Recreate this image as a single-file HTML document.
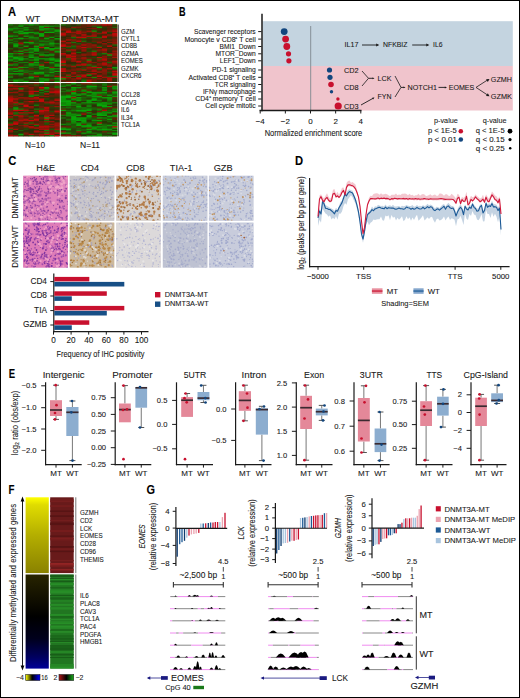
<!DOCTYPE html>
<html><head><meta charset="utf-8"><style>
html,body{margin:0;padding:0;background:#fff;}
#fig{position:relative;width:520px;height:698px;overflow:hidden;background:#fff;}
#fig svg{position:absolute;left:0;top:0;}
#bd{position:absolute;left:0;top:0;width:518px;height:696px;border:1px solid #000;}
text{font-family:"Liberation Sans", sans-serif;stroke:currentColor;stroke-width:0.08px;}
</style></head><body><div id="fig">
<svg width="520" height="698" viewBox="0 0 520 698" font-family="Liberation Sans, sans-serif" fill="#1a1a1a">
<text x="8.1" y="15.8" font-size="12" font-weight="bold" fill="#000" textLength="8.1" lengthAdjust="spacingAndGlyphs">A</text>
<text x="25.7" y="21.8" font-size="9.5" textLength="14.5" lengthAdjust="spacingAndGlyphs">WT</text>
<text x="61.4" y="21.8" font-size="9.5" textLength="57.6" lengthAdjust="spacingAndGlyphs">DNMT3A-MT</text>
<rect x="8" y="24.3" width="51.6" height="57.7" fill="#1e6008"/>
<rect x="8.0" y="24.3" width="5.7" height="1.8" fill="#197008"/>
<rect x="13.2" y="24.3" width="5.7" height="1.8" fill="#284008"/>
<rect x="18.3" y="24.3" width="5.7" height="1.8" fill="#196e08"/>
<rect x="23.5" y="24.3" width="5.7" height="1.8" fill="#187408"/>
<rect x="28.6" y="24.3" width="5.7" height="1.8" fill="#0b9a08"/>
<rect x="33.8" y="24.3" width="5.7" height="1.8" fill="#1a6e08"/>
<rect x="39.0" y="24.3" width="5.7" height="1.8" fill="#382c08"/>
<rect x="44.1" y="24.3" width="5.7" height="1.8" fill="#264608"/>
<rect x="49.3" y="24.3" width="5.7" height="1.8" fill="#332d08"/>
<rect x="54.4" y="24.3" width="5.2" height="1.8" fill="#235108"/>
<rect x="8.0" y="25.6" width="5.7" height="1.8" fill="#264808"/>
<rect x="13.2" y="25.6" width="5.7" height="1.8" fill="#225508"/>
<rect x="18.3" y="25.6" width="5.7" height="1.8" fill="#08a508"/>
<rect x="23.5" y="25.6" width="5.7" height="1.8" fill="#2f2b08"/>
<rect x="28.6" y="25.6" width="5.7" height="1.8" fill="#284108"/>
<rect x="33.8" y="25.6" width="5.7" height="1.8" fill="#284108"/>
<rect x="39.0" y="25.6" width="5.7" height="1.8" fill="#08a508"/>
<rect x="44.1" y="25.6" width="5.7" height="1.8" fill="#08a508"/>
<rect x="49.3" y="25.6" width="5.7" height="1.8" fill="#0c9808"/>
<rect x="54.4" y="25.6" width="5.2" height="1.8" fill="#157e08"/>
<rect x="8.0" y="26.8" width="5.7" height="1.8" fill="#244d08"/>
<rect x="13.2" y="26.8" width="5.7" height="1.8" fill="#1d6308"/>
<rect x="18.3" y="26.8" width="5.7" height="1.8" fill="#284008"/>
<rect x="23.5" y="26.8" width="5.7" height="1.8" fill="#118808"/>
<rect x="28.6" y="26.8" width="5.7" height="1.8" fill="#244d08"/>
<rect x="33.8" y="26.8" width="5.7" height="1.8" fill="#264808"/>
<rect x="39.0" y="26.8" width="5.7" height="1.8" fill="#118a08"/>
<rect x="44.1" y="26.8" width="5.7" height="1.8" fill="#672008"/>
<rect x="49.3" y="26.8" width="5.7" height="1.8" fill="#293d08"/>
<rect x="54.4" y="26.8" width="5.2" height="1.8" fill="#3f2a08"/>
<rect x="8.0" y="28.1" width="5.7" height="1.8" fill="#128708"/>
<rect x="13.2" y="28.1" width="5.7" height="1.8" fill="#0f8e08"/>
<rect x="18.3" y="28.1" width="5.7" height="1.8" fill="#177608"/>
<rect x="23.5" y="28.1" width="5.7" height="1.8" fill="#1c6708"/>
<rect x="28.6" y="28.1" width="5.7" height="1.8" fill="#2b3908"/>
<rect x="33.8" y="28.1" width="5.7" height="1.8" fill="#235108"/>
<rect x="39.0" y="28.1" width="5.7" height="1.8" fill="#157c08"/>
<rect x="44.1" y="28.1" width="5.7" height="1.8" fill="#0b9c08"/>
<rect x="49.3" y="28.1" width="5.7" height="1.8" fill="#148108"/>
<rect x="54.4" y="28.1" width="5.2" height="1.8" fill="#412a08"/>
<rect x="8.0" y="29.3" width="5.7" height="1.8" fill="#0e9308"/>
<rect x="13.2" y="29.3" width="5.7" height="1.8" fill="#235108"/>
<rect x="18.3" y="29.3" width="5.7" height="1.8" fill="#274608"/>
<rect x="23.5" y="29.3" width="5.7" height="1.8" fill="#08a508"/>
<rect x="28.6" y="29.3" width="5.7" height="1.8" fill="#1f5d08"/>
<rect x="33.8" y="29.3" width="5.7" height="1.8" fill="#472808"/>
<rect x="39.0" y="29.3" width="5.7" height="1.8" fill="#08a508"/>
<rect x="44.1" y="29.3" width="5.7" height="1.8" fill="#187408"/>
<rect x="49.3" y="29.3" width="5.7" height="1.8" fill="#1c6708"/>
<rect x="54.4" y="29.3" width="5.2" height="1.8" fill="#0e9308"/>
<rect x="8.0" y="30.6" width="5.7" height="1.8" fill="#284108"/>
<rect x="13.2" y="30.6" width="5.7" height="1.8" fill="#1d6408"/>
<rect x="18.3" y="30.6" width="5.7" height="1.8" fill="#08a508"/>
<rect x="23.5" y="30.6" width="5.7" height="1.8" fill="#2f2d08"/>
<rect x="28.6" y="30.6" width="5.7" height="1.8" fill="#2b3608"/>
<rect x="33.8" y="30.6" width="5.7" height="1.8" fill="#2c2f08"/>
<rect x="39.0" y="30.6" width="5.7" height="1.8" fill="#522508"/>
<rect x="44.1" y="30.6" width="5.7" height="1.8" fill="#254a08"/>
<rect x="49.3" y="30.6" width="5.7" height="1.8" fill="#205908"/>
<rect x="54.4" y="30.6" width="5.2" height="1.8" fill="#08a508"/>
<rect x="8.0" y="31.8" width="5.7" height="1.8" fill="#2a3a08"/>
<rect x="13.2" y="31.8" width="5.7" height="1.8" fill="#128608"/>
<rect x="18.3" y="31.8" width="5.7" height="1.8" fill="#157d08"/>
<rect x="23.5" y="31.8" width="5.7" height="1.8" fill="#08a508"/>
<rect x="28.6" y="31.8" width="5.7" height="1.8" fill="#0b9d08"/>
<rect x="33.8" y="31.8" width="5.7" height="1.8" fill="#138108"/>
<rect x="39.0" y="31.8" width="5.7" height="1.8" fill="#462808"/>
<rect x="44.1" y="31.8" width="5.7" height="1.8" fill="#08a508"/>
<rect x="49.3" y="31.8" width="5.7" height="1.8" fill="#08a508"/>
<rect x="54.4" y="31.8" width="5.2" height="1.8" fill="#235108"/>
<rect x="8.0" y="33.1" width="5.7" height="1.8" fill="#522508"/>
<rect x="13.2" y="33.1" width="5.7" height="1.8" fill="#2a3c08"/>
<rect x="18.3" y="33.1" width="5.7" height="1.8" fill="#08a508"/>
<rect x="23.5" y="33.1" width="5.7" height="1.8" fill="#08a508"/>
<rect x="28.6" y="33.1" width="5.7" height="1.8" fill="#254a08"/>
<rect x="33.8" y="33.1" width="5.7" height="1.8" fill="#0f8e08"/>
<rect x="39.0" y="33.1" width="5.7" height="1.8" fill="#08a508"/>
<rect x="44.1" y="33.1" width="5.7" height="1.8" fill="#2e2e08"/>
<rect x="49.3" y="33.1" width="5.7" height="1.8" fill="#382c08"/>
<rect x="54.4" y="33.1" width="5.2" height="1.8" fill="#215608"/>
<rect x="8.0" y="34.3" width="5.7" height="1.8" fill="#235108"/>
<rect x="13.2" y="34.3" width="5.7" height="1.8" fill="#274508"/>
<rect x="18.3" y="34.3" width="5.7" height="1.8" fill="#5e2208"/>
<rect x="23.5" y="34.3" width="5.7" height="1.8" fill="#2a3a08"/>
<rect x="28.6" y="34.3" width="5.7" height="1.8" fill="#284008"/>
<rect x="33.8" y="34.3" width="5.7" height="1.8" fill="#293e08"/>
<rect x="39.0" y="34.3" width="5.7" height="1.8" fill="#08a508"/>
<rect x="44.1" y="34.3" width="5.7" height="1.8" fill="#462808"/>
<rect x="49.3" y="34.3" width="5.7" height="1.8" fill="#2c2f08"/>
<rect x="54.4" y="34.3" width="5.2" height="1.8" fill="#293f08"/>
<rect x="8.0" y="35.6" width="5.7" height="1.8" fill="#08a508"/>
<rect x="13.2" y="35.6" width="5.7" height="1.8" fill="#118808"/>
<rect x="18.3" y="35.6" width="5.7" height="1.8" fill="#2f2c08"/>
<rect x="23.5" y="35.6" width="5.7" height="1.8" fill="#08a508"/>
<rect x="28.6" y="35.6" width="5.7" height="1.8" fill="#1a6c08"/>
<rect x="33.8" y="35.6" width="5.7" height="1.8" fill="#312e08"/>
<rect x="39.0" y="35.6" width="5.7" height="1.8" fill="#08a508"/>
<rect x="44.1" y="35.6" width="5.7" height="1.8" fill="#5f2208"/>
<rect x="49.3" y="35.6" width="5.7" height="1.8" fill="#293e08"/>
<rect x="54.4" y="35.6" width="5.2" height="1.8" fill="#1b6a08"/>
<rect x="8.0" y="36.8" width="5.7" height="1.8" fill="#244c08"/>
<rect x="13.2" y="36.8" width="5.7" height="1.8" fill="#2b3808"/>
<rect x="18.3" y="36.8" width="5.7" height="1.8" fill="#205908"/>
<rect x="23.5" y="36.8" width="5.7" height="1.8" fill="#3b2b08"/>
<rect x="28.6" y="36.8" width="5.7" height="1.8" fill="#118a08"/>
<rect x="33.8" y="36.8" width="5.7" height="1.8" fill="#167a08"/>
<rect x="39.0" y="36.8" width="5.7" height="1.8" fill="#332d08"/>
<rect x="44.1" y="36.8" width="5.7" height="1.8" fill="#1f5f08"/>
<rect x="49.3" y="36.8" width="5.7" height="1.8" fill="#0c9708"/>
<rect x="54.4" y="36.8" width="5.2" height="1.8" fill="#2c2f08"/>
<rect x="8.0" y="38.1" width="5.7" height="1.8" fill="#542508"/>
<rect x="13.2" y="38.1" width="5.7" height="1.8" fill="#157c08"/>
<rect x="18.3" y="38.1" width="5.7" height="1.8" fill="#08a508"/>
<rect x="23.5" y="38.1" width="5.7" height="1.8" fill="#1b6908"/>
<rect x="28.6" y="38.1" width="5.7" height="1.8" fill="#1b6a08"/>
<rect x="33.8" y="38.1" width="5.7" height="1.8" fill="#187308"/>
<rect x="39.0" y="38.1" width="5.7" height="1.8" fill="#4f2608"/>
<rect x="44.1" y="38.1" width="5.7" height="1.8" fill="#09a008"/>
<rect x="49.3" y="38.1" width="5.7" height="1.8" fill="#442908"/>
<rect x="54.4" y="38.1" width="5.2" height="1.8" fill="#08a508"/>
<rect x="8.0" y="39.4" width="5.7" height="1.8" fill="#0e9108"/>
<rect x="13.2" y="39.4" width="5.7" height="1.8" fill="#2b3908"/>
<rect x="18.3" y="39.4" width="5.7" height="1.8" fill="#3a2b08"/>
<rect x="23.5" y="39.4" width="5.7" height="1.8" fill="#2f2b08"/>
<rect x="28.6" y="39.4" width="5.7" height="1.8" fill="#254b08"/>
<rect x="33.8" y="39.4" width="5.7" height="1.8" fill="#215708"/>
<rect x="39.0" y="39.4" width="5.7" height="1.8" fill="#215708"/>
<rect x="44.1" y="39.4" width="5.7" height="1.8" fill="#2a3c08"/>
<rect x="49.3" y="39.4" width="5.7" height="1.8" fill="#1a6b08"/>
<rect x="54.4" y="39.4" width="5.2" height="1.8" fill="#244f08"/>
<rect x="8.0" y="40.6" width="5.7" height="1.8" fill="#293c08"/>
<rect x="13.2" y="40.6" width="5.7" height="1.8" fill="#1e6008"/>
<rect x="18.3" y="40.6" width="5.7" height="1.8" fill="#2d3108"/>
<rect x="23.5" y="40.6" width="5.7" height="1.8" fill="#293d08"/>
<rect x="28.6" y="40.6" width="5.7" height="1.8" fill="#7e1a08"/>
<rect x="33.8" y="40.6" width="5.7" height="1.8" fill="#244c08"/>
<rect x="39.0" y="40.6" width="5.7" height="1.8" fill="#157b08"/>
<rect x="44.1" y="40.6" width="5.7" height="1.8" fill="#177808"/>
<rect x="49.3" y="40.6" width="5.7" height="1.8" fill="#1e6108"/>
<rect x="54.4" y="40.6" width="5.2" height="1.8" fill="#2a3008"/>
<rect x="8.0" y="41.9" width="5.7" height="1.8" fill="#177508"/>
<rect x="13.2" y="41.9" width="5.7" height="1.8" fill="#264808"/>
<rect x="18.3" y="41.9" width="5.7" height="1.8" fill="#711d08"/>
<rect x="23.5" y="41.9" width="5.7" height="1.8" fill="#08a508"/>
<rect x="28.6" y="41.9" width="5.7" height="1.8" fill="#08a508"/>
<rect x="33.8" y="41.9" width="5.7" height="1.8" fill="#235108"/>
<rect x="39.0" y="41.9" width="5.7" height="1.8" fill="#264708"/>
<rect x="44.1" y="41.9" width="5.7" height="1.8" fill="#235108"/>
<rect x="49.3" y="41.9" width="5.7" height="1.8" fill="#157b08"/>
<rect x="54.4" y="41.9" width="5.2" height="1.8" fill="#2b3708"/>
<rect x="8.0" y="43.1" width="5.7" height="1.8" fill="#244f08"/>
<rect x="13.2" y="43.1" width="5.7" height="1.8" fill="#148108"/>
<rect x="18.3" y="43.1" width="5.7" height="1.8" fill="#9f1108"/>
<rect x="23.5" y="43.1" width="5.7" height="1.8" fill="#254a08"/>
<rect x="28.6" y="43.1" width="5.7" height="1.8" fill="#138308"/>
<rect x="33.8" y="43.1" width="5.7" height="1.8" fill="#1c6608"/>
<rect x="39.0" y="43.1" width="5.7" height="1.8" fill="#196e08"/>
<rect x="44.1" y="43.1" width="5.7" height="1.8" fill="#1d6408"/>
<rect x="49.3" y="43.1" width="5.7" height="1.8" fill="#08a508"/>
<rect x="54.4" y="43.1" width="5.2" height="1.8" fill="#147f08"/>
<rect x="8.0" y="44.4" width="5.7" height="1.8" fill="#302e08"/>
<rect x="13.2" y="44.4" width="5.7" height="1.8" fill="#08a508"/>
<rect x="18.3" y="44.4" width="5.7" height="1.8" fill="#1d6408"/>
<rect x="23.5" y="44.4" width="5.7" height="1.8" fill="#2c2f08"/>
<rect x="28.6" y="44.4" width="5.7" height="1.8" fill="#2f2b08"/>
<rect x="33.8" y="44.4" width="5.7" height="1.8" fill="#562408"/>
<rect x="39.0" y="44.4" width="5.7" height="1.8" fill="#08a508"/>
<rect x="44.1" y="44.4" width="5.7" height="1.8" fill="#177608"/>
<rect x="49.3" y="44.4" width="5.7" height="1.8" fill="#177608"/>
<rect x="54.4" y="44.4" width="5.2" height="1.8" fill="#2a3908"/>
<rect x="8.0" y="45.6" width="5.7" height="1.8" fill="#372c08"/>
<rect x="13.2" y="45.6" width="5.7" height="1.8" fill="#08a508"/>
<rect x="18.3" y="45.6" width="5.7" height="1.8" fill="#372c08"/>
<rect x="23.5" y="45.6" width="5.7" height="1.8" fill="#08a508"/>
<rect x="28.6" y="45.6" width="5.7" height="1.8" fill="#2c3608"/>
<rect x="33.8" y="45.6" width="5.7" height="1.8" fill="#08a508"/>
<rect x="39.0" y="45.6" width="5.7" height="1.8" fill="#225508"/>
<rect x="44.1" y="45.6" width="5.7" height="1.8" fill="#3f2a08"/>
<rect x="49.3" y="45.6" width="5.7" height="1.8" fill="#1b6a08"/>
<rect x="54.4" y="45.6" width="5.2" height="1.8" fill="#225408"/>
<rect x="8.0" y="46.9" width="5.7" height="1.8" fill="#2e2e08"/>
<rect x="13.2" y="46.9" width="5.7" height="1.8" fill="#215708"/>
<rect x="18.3" y="46.9" width="5.7" height="1.8" fill="#1c6608"/>
<rect x="23.5" y="46.9" width="5.7" height="1.8" fill="#592308"/>
<rect x="28.6" y="46.9" width="5.7" height="1.8" fill="#342d08"/>
<rect x="33.8" y="46.9" width="5.7" height="1.8" fill="#187308"/>
<rect x="39.0" y="46.9" width="5.7" height="1.8" fill="#b70b08"/>
<rect x="44.1" y="46.9" width="5.7" height="1.8" fill="#08a508"/>
<rect x="49.3" y="46.9" width="5.7" height="1.8" fill="#293008"/>
<rect x="54.4" y="46.9" width="5.2" height="1.8" fill="#197108"/>
<rect x="8.0" y="48.1" width="5.7" height="1.8" fill="#215808"/>
<rect x="13.2" y="48.1" width="5.7" height="1.8" fill="#2c3408"/>
<rect x="18.3" y="48.1" width="5.7" height="1.8" fill="#225208"/>
<rect x="23.5" y="48.1" width="5.7" height="1.8" fill="#2b3808"/>
<rect x="28.6" y="48.1" width="5.7" height="1.8" fill="#08a508"/>
<rect x="33.8" y="48.1" width="5.7" height="1.8" fill="#08a508"/>
<rect x="39.0" y="48.1" width="5.7" height="1.8" fill="#2a3a08"/>
<rect x="44.1" y="48.1" width="5.7" height="1.8" fill="#0b9c08"/>
<rect x="49.3" y="48.1" width="5.7" height="1.8" fill="#09a008"/>
<rect x="54.4" y="48.1" width="5.2" height="1.8" fill="#08a508"/>
<rect x="8.0" y="49.4" width="5.7" height="1.8" fill="#442908"/>
<rect x="13.2" y="49.4" width="5.7" height="1.8" fill="#2d3208"/>
<rect x="18.3" y="49.4" width="5.7" height="1.8" fill="#542508"/>
<rect x="23.5" y="49.4" width="5.7" height="1.8" fill="#0b9b08"/>
<rect x="28.6" y="49.4" width="5.7" height="1.8" fill="#1e6008"/>
<rect x="33.8" y="49.4" width="5.7" height="1.8" fill="#08a508"/>
<rect x="39.0" y="49.4" width="5.7" height="1.8" fill="#2d3008"/>
<rect x="44.1" y="49.4" width="5.7" height="1.8" fill="#5d2208"/>
<rect x="49.3" y="49.4" width="5.7" height="1.8" fill="#0c9808"/>
<rect x="54.4" y="49.4" width="5.2" height="1.8" fill="#5b2308"/>
<rect x="8.0" y="50.6" width="5.7" height="1.8" fill="#2f2e08"/>
<rect x="13.2" y="50.6" width="5.7" height="1.8" fill="#1a6b08"/>
<rect x="18.3" y="50.6" width="5.7" height="1.8" fill="#08a508"/>
<rect x="23.5" y="50.6" width="5.7" height="1.8" fill="#4f2608"/>
<rect x="28.6" y="50.6" width="5.7" height="1.8" fill="#1c6608"/>
<rect x="33.8" y="50.6" width="5.7" height="1.8" fill="#128608"/>
<rect x="39.0" y="50.6" width="5.7" height="1.8" fill="#264708"/>
<rect x="44.1" y="50.6" width="5.7" height="1.8" fill="#264708"/>
<rect x="49.3" y="50.6" width="5.7" height="1.8" fill="#562408"/>
<rect x="54.4" y="50.6" width="5.2" height="1.8" fill="#0aa008"/>
<rect x="8.0" y="51.9" width="5.7" height="1.8" fill="#3a2b08"/>
<rect x="13.2" y="51.9" width="5.7" height="1.8" fill="#562408"/>
<rect x="18.3" y="51.9" width="5.7" height="1.8" fill="#532508"/>
<rect x="23.5" y="51.9" width="5.7" height="1.8" fill="#1a6c08"/>
<rect x="28.6" y="51.9" width="5.7" height="1.8" fill="#0f8f08"/>
<rect x="33.8" y="51.9" width="5.7" height="1.8" fill="#312e08"/>
<rect x="39.0" y="51.9" width="5.7" height="1.8" fill="#205908"/>
<rect x="44.1" y="51.9" width="5.7" height="1.8" fill="#205808"/>
<rect x="49.3" y="51.9" width="5.7" height="1.8" fill="#512608"/>
<rect x="54.4" y="51.9" width="5.2" height="1.8" fill="#197108"/>
<rect x="8.0" y="53.1" width="5.7" height="1.8" fill="#08a508"/>
<rect x="13.2" y="53.1" width="5.7" height="1.8" fill="#167808"/>
<rect x="18.3" y="53.1" width="5.7" height="1.8" fill="#08a508"/>
<rect x="23.5" y="53.1" width="5.7" height="1.8" fill="#2e2d08"/>
<rect x="28.6" y="53.1" width="5.7" height="1.8" fill="#244c08"/>
<rect x="33.8" y="53.1" width="5.7" height="1.8" fill="#128608"/>
<rect x="39.0" y="53.1" width="5.7" height="1.8" fill="#1e6108"/>
<rect x="44.1" y="53.1" width="5.7" height="1.8" fill="#2f2c08"/>
<rect x="49.3" y="53.1" width="5.7" height="1.8" fill="#205b08"/>
<rect x="54.4" y="53.1" width="5.2" height="1.8" fill="#492708"/>
<rect x="8.0" y="54.4" width="5.7" height="1.8" fill="#1d6408"/>
<rect x="13.2" y="54.4" width="5.7" height="1.8" fill="#332d08"/>
<rect x="18.3" y="54.4" width="5.7" height="1.8" fill="#562408"/>
<rect x="23.5" y="54.4" width="5.7" height="1.8" fill="#5f2208"/>
<rect x="28.6" y="54.4" width="5.7" height="1.8" fill="#118a08"/>
<rect x="33.8" y="54.4" width="5.7" height="1.8" fill="#302908"/>
<rect x="39.0" y="54.4" width="5.7" height="1.8" fill="#08a508"/>
<rect x="44.1" y="54.4" width="5.7" height="1.8" fill="#08a408"/>
<rect x="49.3" y="54.4" width="5.7" height="1.8" fill="#08a508"/>
<rect x="54.4" y="54.4" width="5.2" height="1.8" fill="#352d08"/>
<rect x="8.0" y="55.7" width="5.7" height="1.8" fill="#08a508"/>
<rect x="13.2" y="55.7" width="5.7" height="1.8" fill="#1e6108"/>
<rect x="18.3" y="55.7" width="5.7" height="1.8" fill="#1a6c08"/>
<rect x="23.5" y="55.7" width="5.7" height="1.8" fill="#1d6208"/>
<rect x="28.6" y="55.7" width="5.7" height="1.8" fill="#128508"/>
<rect x="33.8" y="55.7" width="5.7" height="1.8" fill="#235208"/>
<rect x="39.0" y="55.7" width="5.7" height="1.8" fill="#6d1e08"/>
<rect x="44.1" y="55.7" width="5.7" height="1.8" fill="#1f5d08"/>
<rect x="49.3" y="55.7" width="5.7" height="1.8" fill="#293f08"/>
<rect x="54.4" y="55.7" width="5.2" height="1.8" fill="#302e08"/>
<rect x="8.0" y="56.9" width="5.7" height="1.8" fill="#1a6d08"/>
<rect x="13.2" y="56.9" width="5.7" height="1.8" fill="#08a508"/>
<rect x="18.3" y="56.9" width="5.7" height="1.8" fill="#138308"/>
<rect x="23.5" y="56.9" width="5.7" height="1.8" fill="#352d08"/>
<rect x="28.6" y="56.9" width="5.7" height="1.8" fill="#08a508"/>
<rect x="33.8" y="56.9" width="5.7" height="1.8" fill="#128608"/>
<rect x="39.0" y="56.9" width="5.7" height="1.8" fill="#302e08"/>
<rect x="44.1" y="56.9" width="5.7" height="1.8" fill="#2e2f08"/>
<rect x="49.3" y="56.9" width="5.7" height="1.8" fill="#1e6008"/>
<rect x="54.4" y="56.9" width="5.2" height="1.8" fill="#2e2e08"/>
<rect x="8.0" y="58.2" width="5.7" height="1.8" fill="#215608"/>
<rect x="13.2" y="58.2" width="5.7" height="1.8" fill="#08a508"/>
<rect x="18.3" y="58.2" width="5.7" height="1.8" fill="#08a508"/>
<rect x="23.5" y="58.2" width="5.7" height="1.8" fill="#118808"/>
<rect x="28.6" y="58.2" width="5.7" height="1.8" fill="#2a3008"/>
<rect x="33.8" y="58.2" width="5.7" height="1.8" fill="#138408"/>
<rect x="39.0" y="58.2" width="5.7" height="1.8" fill="#0c9908"/>
<rect x="44.1" y="58.2" width="5.7" height="1.8" fill="#0f9008"/>
<rect x="49.3" y="58.2" width="5.7" height="1.8" fill="#08a508"/>
<rect x="54.4" y="58.2" width="5.2" height="1.8" fill="#1c6808"/>
<rect x="8.0" y="59.4" width="5.7" height="1.8" fill="#08a508"/>
<rect x="13.2" y="59.4" width="5.7" height="1.8" fill="#254908"/>
<rect x="18.3" y="59.4" width="5.7" height="1.8" fill="#08a508"/>
<rect x="23.5" y="59.4" width="5.7" height="1.8" fill="#254c08"/>
<rect x="28.6" y="59.4" width="5.7" height="1.8" fill="#118808"/>
<rect x="33.8" y="59.4" width="5.7" height="1.8" fill="#08a508"/>
<rect x="39.0" y="59.4" width="5.7" height="1.8" fill="#2c3308"/>
<rect x="44.1" y="59.4" width="5.7" height="1.8" fill="#187108"/>
<rect x="49.3" y="59.4" width="5.7" height="1.8" fill="#08a508"/>
<rect x="54.4" y="59.4" width="5.2" height="1.8" fill="#0c9708"/>
<rect x="8.0" y="60.7" width="5.7" height="1.8" fill="#244e08"/>
<rect x="13.2" y="60.7" width="5.7" height="1.8" fill="#157d08"/>
<rect x="18.3" y="60.7" width="5.7" height="1.8" fill="#2e3008"/>
<rect x="23.5" y="60.7" width="5.7" height="1.8" fill="#2d3208"/>
<rect x="28.6" y="60.7" width="5.7" height="1.8" fill="#2b3708"/>
<rect x="33.8" y="60.7" width="5.7" height="1.8" fill="#254c08"/>
<rect x="39.0" y="60.7" width="5.7" height="1.8" fill="#4a2708"/>
<rect x="44.1" y="60.7" width="5.7" height="1.8" fill="#2b3708"/>
<rect x="49.3" y="60.7" width="5.7" height="1.8" fill="#274408"/>
<rect x="54.4" y="60.7" width="5.2" height="1.8" fill="#08a508"/>
<rect x="8.0" y="61.9" width="5.7" height="1.8" fill="#302808"/>
<rect x="13.2" y="61.9" width="5.7" height="1.8" fill="#482808"/>
<rect x="18.3" y="61.9" width="5.7" height="1.8" fill="#187308"/>
<rect x="23.5" y="61.9" width="5.7" height="1.8" fill="#157e08"/>
<rect x="28.6" y="61.9" width="5.7" height="1.8" fill="#791b08"/>
<rect x="33.8" y="61.9" width="5.7" height="1.8" fill="#08a508"/>
<rect x="39.0" y="61.9" width="5.7" height="1.8" fill="#274308"/>
<rect x="44.1" y="61.9" width="5.7" height="1.8" fill="#9e1208"/>
<rect x="49.3" y="61.9" width="5.7" height="1.8" fill="#0b9a08"/>
<rect x="54.4" y="61.9" width="5.2" height="1.8" fill="#2c3508"/>
<rect x="8.0" y="63.2" width="5.7" height="1.8" fill="#741c08"/>
<rect x="13.2" y="63.2" width="5.7" height="1.8" fill="#1c6808"/>
<rect x="18.3" y="63.2" width="5.7" height="1.8" fill="#293d08"/>
<rect x="23.5" y="63.2" width="5.7" height="1.8" fill="#283008"/>
<rect x="28.6" y="63.2" width="5.7" height="1.8" fill="#0c9908"/>
<rect x="33.8" y="63.2" width="5.7" height="1.8" fill="#1c6608"/>
<rect x="39.0" y="63.2" width="5.7" height="1.8" fill="#244e08"/>
<rect x="44.1" y="63.2" width="5.7" height="1.8" fill="#2f2d08"/>
<rect x="49.3" y="63.2" width="5.7" height="1.8" fill="#1d6208"/>
<rect x="54.4" y="63.2" width="5.2" height="1.8" fill="#1a6c08"/>
<rect x="8.0" y="64.4" width="5.7" height="1.8" fill="#0aa008"/>
<rect x="13.2" y="64.4" width="5.7" height="1.8" fill="#177708"/>
<rect x="18.3" y="64.4" width="5.7" height="1.8" fill="#302908"/>
<rect x="23.5" y="64.4" width="5.7" height="1.8" fill="#205a08"/>
<rect x="28.6" y="64.4" width="5.7" height="1.8" fill="#0d9608"/>
<rect x="33.8" y="64.4" width="5.7" height="1.8" fill="#0d9508"/>
<rect x="39.0" y="64.4" width="5.7" height="1.8" fill="#b10d08"/>
<rect x="44.1" y="64.4" width="5.7" height="1.8" fill="#3b2b08"/>
<rect x="49.3" y="64.4" width="5.7" height="1.8" fill="#2b3808"/>
<rect x="54.4" y="64.4" width="5.2" height="1.8" fill="#08a508"/>
<rect x="8.0" y="65.7" width="5.7" height="1.8" fill="#2a3908"/>
<rect x="13.2" y="65.7" width="5.7" height="1.8" fill="#284208"/>
<rect x="18.3" y="65.7" width="5.7" height="1.8" fill="#652008"/>
<rect x="23.5" y="65.7" width="5.7" height="1.8" fill="#274608"/>
<rect x="28.6" y="65.7" width="5.7" height="1.8" fill="#1d6408"/>
<rect x="33.8" y="65.7" width="5.7" height="1.8" fill="#284008"/>
<rect x="39.0" y="65.7" width="5.7" height="1.8" fill="#08a508"/>
<rect x="44.1" y="65.7" width="5.7" height="1.8" fill="#322d08"/>
<rect x="49.3" y="65.7" width="5.7" height="1.8" fill="#244c08"/>
<rect x="54.4" y="65.7" width="5.2" height="1.8" fill="#108c08"/>
<rect x="8.0" y="66.9" width="5.7" height="1.8" fill="#492708"/>
<rect x="13.2" y="66.9" width="5.7" height="1.8" fill="#6e1e08"/>
<rect x="18.3" y="66.9" width="5.7" height="1.8" fill="#08a508"/>
<rect x="23.5" y="66.9" width="5.7" height="1.8" fill="#118a08"/>
<rect x="28.6" y="66.9" width="5.7" height="1.8" fill="#244e08"/>
<rect x="33.8" y="66.9" width="5.7" height="1.8" fill="#225508"/>
<rect x="39.0" y="66.9" width="5.7" height="1.8" fill="#167908"/>
<rect x="44.1" y="66.9" width="5.7" height="1.8" fill="#0b9d08"/>
<rect x="49.3" y="66.9" width="5.7" height="1.8" fill="#871808"/>
<rect x="54.4" y="66.9" width="5.2" height="1.8" fill="#332d08"/>
<rect x="8.0" y="68.2" width="5.7" height="1.8" fill="#08a508"/>
<rect x="13.2" y="68.2" width="5.7" height="1.8" fill="#08a508"/>
<rect x="18.3" y="68.2" width="5.7" height="1.8" fill="#662008"/>
<rect x="23.5" y="68.2" width="5.7" height="1.8" fill="#2f2e08"/>
<rect x="28.6" y="68.2" width="5.7" height="1.8" fill="#6f1e08"/>
<rect x="33.8" y="68.2" width="5.7" height="1.8" fill="#2e2e08"/>
<rect x="39.0" y="68.2" width="5.7" height="1.8" fill="#0d9708"/>
<rect x="44.1" y="68.2" width="5.7" height="1.8" fill="#235008"/>
<rect x="49.3" y="68.2" width="5.7" height="1.8" fill="#08a508"/>
<rect x="54.4" y="68.2" width="5.2" height="1.8" fill="#0f8f08"/>
<rect x="8.0" y="69.5" width="5.7" height="1.8" fill="#1d6408"/>
<rect x="13.2" y="69.5" width="5.7" height="1.8" fill="#284008"/>
<rect x="18.3" y="69.5" width="5.7" height="1.8" fill="#0f8e08"/>
<rect x="23.5" y="69.5" width="5.7" height="1.8" fill="#1c6808"/>
<rect x="28.6" y="69.5" width="5.7" height="1.8" fill="#274408"/>
<rect x="33.8" y="69.5" width="5.7" height="1.8" fill="#264908"/>
<rect x="39.0" y="69.5" width="5.7" height="1.8" fill="#2b3808"/>
<rect x="44.1" y="69.5" width="5.7" height="1.8" fill="#225308"/>
<rect x="49.3" y="69.5" width="5.7" height="1.8" fill="#187408"/>
<rect x="54.4" y="69.5" width="5.2" height="1.8" fill="#2e2f08"/>
<rect x="8.0" y="70.7" width="5.7" height="1.8" fill="#1f5d08"/>
<rect x="13.2" y="70.7" width="5.7" height="1.8" fill="#0d9408"/>
<rect x="18.3" y="70.7" width="5.7" height="1.8" fill="#118708"/>
<rect x="23.5" y="70.7" width="5.7" height="1.8" fill="#1e6008"/>
<rect x="28.6" y="70.7" width="5.7" height="1.8" fill="#1c6708"/>
<rect x="33.8" y="70.7" width="5.7" height="1.8" fill="#215608"/>
<rect x="39.0" y="70.7" width="5.7" height="1.8" fill="#1e6008"/>
<rect x="44.1" y="70.7" width="5.7" height="1.8" fill="#225508"/>
<rect x="49.3" y="70.7" width="5.7" height="1.8" fill="#1b6908"/>
<rect x="54.4" y="70.7" width="5.2" height="1.8" fill="#08a508"/>
<rect x="8.0" y="72.0" width="5.7" height="1.8" fill="#264608"/>
<rect x="13.2" y="72.0" width="5.7" height="1.8" fill="#342d08"/>
<rect x="18.3" y="72.0" width="5.7" height="1.8" fill="#274508"/>
<rect x="23.5" y="72.0" width="5.7" height="1.8" fill="#1a6c08"/>
<rect x="28.6" y="72.0" width="5.7" height="1.8" fill="#274408"/>
<rect x="33.8" y="72.0" width="5.7" height="1.8" fill="#0b9d08"/>
<rect x="39.0" y="72.0" width="5.7" height="1.8" fill="#08a508"/>
<rect x="44.1" y="72.0" width="5.7" height="1.8" fill="#1f5d08"/>
<rect x="49.3" y="72.0" width="5.7" height="1.8" fill="#0b9a08"/>
<rect x="54.4" y="72.0" width="5.2" height="1.8" fill="#2d3208"/>
<rect x="8.0" y="73.2" width="5.7" height="1.8" fill="#08a408"/>
<rect x="13.2" y="73.2" width="5.7" height="1.8" fill="#08a508"/>
<rect x="18.3" y="73.2" width="5.7" height="1.8" fill="#09a108"/>
<rect x="23.5" y="73.2" width="5.7" height="1.8" fill="#5d2208"/>
<rect x="28.6" y="73.2" width="5.7" height="1.8" fill="#167808"/>
<rect x="33.8" y="73.2" width="5.7" height="1.8" fill="#08a508"/>
<rect x="39.0" y="73.2" width="5.7" height="1.8" fill="#0f9008"/>
<rect x="44.1" y="73.2" width="5.7" height="1.8" fill="#284008"/>
<rect x="49.3" y="73.2" width="5.7" height="1.8" fill="#284108"/>
<rect x="54.4" y="73.2" width="5.2" height="1.8" fill="#225508"/>
<rect x="8.0" y="74.5" width="5.7" height="1.8" fill="#552408"/>
<rect x="13.2" y="74.5" width="5.7" height="1.8" fill="#2c3408"/>
<rect x="18.3" y="74.5" width="5.7" height="1.8" fill="#1e6208"/>
<rect x="23.5" y="74.5" width="5.7" height="1.8" fill="#2a3b08"/>
<rect x="28.6" y="74.5" width="5.7" height="1.8" fill="#622108"/>
<rect x="33.8" y="74.5" width="5.7" height="1.8" fill="#2e2f08"/>
<rect x="39.0" y="74.5" width="5.7" height="1.8" fill="#322e08"/>
<rect x="44.1" y="74.5" width="5.7" height="1.8" fill="#08a408"/>
<rect x="49.3" y="74.5" width="5.7" height="1.8" fill="#1b6a08"/>
<rect x="54.4" y="74.5" width="5.2" height="1.8" fill="#2d3308"/>
<rect x="8.0" y="75.7" width="5.7" height="1.8" fill="#187308"/>
<rect x="13.2" y="75.7" width="5.7" height="1.8" fill="#352d08"/>
<rect x="18.3" y="75.7" width="5.7" height="1.8" fill="#2a3b08"/>
<rect x="23.5" y="75.7" width="5.7" height="1.8" fill="#293008"/>
<rect x="28.6" y="75.7" width="5.7" height="1.8" fill="#1a6e08"/>
<rect x="33.8" y="75.7" width="5.7" height="1.8" fill="#a80f08"/>
<rect x="39.0" y="75.7" width="5.7" height="1.8" fill="#422908"/>
<rect x="44.1" y="75.7" width="5.7" height="1.8" fill="#1a6e08"/>
<rect x="49.3" y="75.7" width="5.7" height="1.8" fill="#205b08"/>
<rect x="54.4" y="75.7" width="5.2" height="1.8" fill="#ab0e08"/>
<rect x="8.0" y="77.0" width="5.7" height="1.8" fill="#177608"/>
<rect x="13.2" y="77.0" width="5.7" height="1.8" fill="#2f2a08"/>
<rect x="18.3" y="77.0" width="5.7" height="1.8" fill="#2e2e08"/>
<rect x="23.5" y="77.0" width="5.7" height="1.8" fill="#1e6008"/>
<rect x="28.6" y="77.0" width="5.7" height="1.8" fill="#08a508"/>
<rect x="33.8" y="77.0" width="5.7" height="1.8" fill="#225508"/>
<rect x="39.0" y="77.0" width="5.7" height="1.8" fill="#254a08"/>
<rect x="44.1" y="77.0" width="5.7" height="1.8" fill="#3a2b08"/>
<rect x="49.3" y="77.0" width="5.7" height="1.8" fill="#2e2f08"/>
<rect x="54.4" y="77.0" width="5.2" height="1.8" fill="#1e5f08"/>
<rect x="8.0" y="78.2" width="5.7" height="1.8" fill="#2f2b08"/>
<rect x="13.2" y="78.2" width="5.7" height="1.8" fill="#293f08"/>
<rect x="18.3" y="78.2" width="5.7" height="1.8" fill="#225308"/>
<rect x="23.5" y="78.2" width="5.7" height="1.8" fill="#1f5d08"/>
<rect x="28.6" y="78.2" width="5.7" height="1.8" fill="#196f08"/>
<rect x="33.8" y="78.2" width="5.7" height="1.8" fill="#2c3508"/>
<rect x="39.0" y="78.2" width="5.7" height="1.8" fill="#09a208"/>
<rect x="44.1" y="78.2" width="5.7" height="1.8" fill="#118808"/>
<rect x="49.3" y="78.2" width="5.7" height="1.8" fill="#1e6008"/>
<rect x="54.4" y="78.2" width="5.2" height="1.8" fill="#08a508"/>
<rect x="8.0" y="79.5" width="5.7" height="1.8" fill="#157b08"/>
<rect x="13.2" y="79.5" width="5.7" height="1.8" fill="#08a508"/>
<rect x="18.3" y="79.5" width="5.7" height="1.8" fill="#108b08"/>
<rect x="23.5" y="79.5" width="5.7" height="1.8" fill="#293d08"/>
<rect x="28.6" y="79.5" width="5.7" height="1.8" fill="#293d08"/>
<rect x="33.8" y="79.5" width="5.7" height="1.8" fill="#1d6408"/>
<rect x="39.0" y="79.5" width="5.7" height="1.8" fill="#196f08"/>
<rect x="44.1" y="79.5" width="5.7" height="1.8" fill="#08a508"/>
<rect x="49.3" y="79.5" width="5.7" height="1.8" fill="#701d08"/>
<rect x="54.4" y="79.5" width="5.2" height="1.8" fill="#284008"/>
<rect x="8.0" y="80.7" width="5.7" height="1.3" fill="#372c08"/>
<rect x="13.2" y="80.7" width="5.7" height="1.3" fill="#0c9708"/>
<rect x="18.3" y="80.7" width="5.7" height="1.3" fill="#1a6c08"/>
<rect x="23.5" y="80.7" width="5.7" height="1.3" fill="#08a508"/>
<rect x="28.6" y="80.7" width="5.7" height="1.3" fill="#2e2f08"/>
<rect x="33.8" y="80.7" width="5.7" height="1.3" fill="#2b2f08"/>
<rect x="39.0" y="80.7" width="5.7" height="1.3" fill="#08a508"/>
<rect x="44.1" y="80.7" width="5.7" height="1.3" fill="#1d6408"/>
<rect x="49.3" y="80.7" width="5.7" height="1.3" fill="#2b3908"/>
<rect x="54.4" y="80.7" width="5.2" height="1.3" fill="#08a508"/>
<rect x="60.8" y="24.3" width="56.5" height="57.7" fill="#5a2308"/>
<rect x="60.8" y="24.3" width="5.6" height="1.8" fill="#187208"/>
<rect x="65.9" y="24.3" width="5.6" height="1.8" fill="#274308"/>
<rect x="71.1" y="24.3" width="5.6" height="1.8" fill="#293008"/>
<rect x="76.2" y="24.3" width="5.6" height="1.8" fill="#215808"/>
<rect x="81.3" y="24.3" width="5.6" height="1.8" fill="#5c2308"/>
<rect x="86.5" y="24.3" width="5.6" height="1.8" fill="#6d1e08"/>
<rect x="91.6" y="24.3" width="5.6" height="1.8" fill="#8b1708"/>
<rect x="96.8" y="24.3" width="5.6" height="1.8" fill="#901508"/>
<rect x="101.9" y="24.3" width="5.6" height="1.8" fill="#c30808"/>
<rect x="107.0" y="24.3" width="5.6" height="1.8" fill="#b40c08"/>
<rect x="112.2" y="24.3" width="5.1" height="1.8" fill="#235208"/>
<rect x="60.8" y="25.6" width="5.6" height="1.8" fill="#322d08"/>
<rect x="65.9" y="25.6" width="5.6" height="1.8" fill="#284208"/>
<rect x="71.1" y="25.6" width="5.6" height="1.8" fill="#274308"/>
<rect x="76.2" y="25.6" width="5.6" height="1.8" fill="#532508"/>
<rect x="81.3" y="25.6" width="5.6" height="1.8" fill="#5a2308"/>
<rect x="86.5" y="25.6" width="5.6" height="1.8" fill="#801908"/>
<rect x="91.6" y="25.6" width="5.6" height="1.8" fill="#1d6308"/>
<rect x="96.8" y="25.6" width="5.6" height="1.8" fill="#244d08"/>
<rect x="101.9" y="25.6" width="5.6" height="1.8" fill="#582408"/>
<rect x="107.0" y="25.6" width="5.6" height="1.8" fill="#4a2708"/>
<rect x="112.2" y="25.6" width="5.1" height="1.8" fill="#412908"/>
<rect x="60.8" y="26.8" width="5.6" height="1.8" fill="#552408"/>
<rect x="65.9" y="26.8" width="5.6" height="1.8" fill="#2e2f08"/>
<rect x="71.1" y="26.8" width="5.6" height="1.8" fill="#901508"/>
<rect x="76.2" y="26.8" width="5.6" height="1.8" fill="#751c08"/>
<rect x="81.3" y="26.8" width="5.6" height="1.8" fill="#532508"/>
<rect x="86.5" y="26.8" width="5.6" height="1.8" fill="#2f2a08"/>
<rect x="91.6" y="26.8" width="5.6" height="1.8" fill="#4c2708"/>
<rect x="96.8" y="26.8" width="5.6" height="1.8" fill="#08a508"/>
<rect x="101.9" y="26.8" width="5.6" height="1.8" fill="#293d08"/>
<rect x="107.0" y="26.8" width="5.6" height="1.8" fill="#5c2208"/>
<rect x="112.2" y="26.8" width="5.1" height="1.8" fill="#1f5e08"/>
<rect x="60.8" y="28.1" width="5.6" height="1.8" fill="#691f08"/>
<rect x="65.9" y="28.1" width="5.6" height="1.8" fill="#652008"/>
<rect x="71.1" y="28.1" width="5.6" height="1.8" fill="#215608"/>
<rect x="76.2" y="28.1" width="5.6" height="1.8" fill="#462808"/>
<rect x="81.3" y="28.1" width="5.6" height="1.8" fill="#412908"/>
<rect x="86.5" y="28.1" width="5.6" height="1.8" fill="#7d1a08"/>
<rect x="91.6" y="28.1" width="5.6" height="1.8" fill="#891708"/>
<rect x="96.8" y="28.1" width="5.6" height="1.8" fill="#572408"/>
<rect x="101.9" y="28.1" width="5.6" height="1.8" fill="#2c3508"/>
<rect x="107.0" y="28.1" width="5.6" height="1.8" fill="#4e2608"/>
<rect x="112.2" y="28.1" width="5.1" height="1.8" fill="#552508"/>
<rect x="60.8" y="29.3" width="5.6" height="1.8" fill="#931508"/>
<rect x="65.9" y="29.3" width="5.6" height="1.8" fill="#701d08"/>
<rect x="71.1" y="29.3" width="5.6" height="1.8" fill="#2e2d08"/>
<rect x="76.2" y="29.3" width="5.6" height="1.8" fill="#225508"/>
<rect x="81.3" y="29.3" width="5.6" height="1.8" fill="#3d2b08"/>
<rect x="86.5" y="29.3" width="5.6" height="1.8" fill="#2e2e08"/>
<rect x="91.6" y="29.3" width="5.6" height="1.8" fill="#274508"/>
<rect x="96.8" y="29.3" width="5.6" height="1.8" fill="#512608"/>
<rect x="101.9" y="29.3" width="5.6" height="1.8" fill="#342d08"/>
<rect x="107.0" y="29.3" width="5.6" height="1.8" fill="#622108"/>
<rect x="112.2" y="29.3" width="5.1" height="1.8" fill="#821908"/>
<rect x="60.8" y="30.6" width="5.6" height="1.8" fill="#3a2b08"/>
<rect x="65.9" y="30.6" width="5.6" height="1.8" fill="#c30808"/>
<rect x="71.1" y="30.6" width="5.6" height="1.8" fill="#412a08"/>
<rect x="76.2" y="30.6" width="5.6" height="1.8" fill="#af0d08"/>
<rect x="81.3" y="30.6" width="5.6" height="1.8" fill="#632108"/>
<rect x="86.5" y="30.6" width="5.6" height="1.8" fill="#b00d08"/>
<rect x="91.6" y="30.6" width="5.6" height="1.8" fill="#0d9408"/>
<rect x="96.8" y="30.6" width="5.6" height="1.8" fill="#2e2f08"/>
<rect x="101.9" y="30.6" width="5.6" height="1.8" fill="#6d1e08"/>
<rect x="107.0" y="30.6" width="5.6" height="1.8" fill="#881708"/>
<rect x="112.2" y="30.6" width="5.1" height="1.8" fill="#c30808"/>
<rect x="60.8" y="31.8" width="5.6" height="1.8" fill="#731d08"/>
<rect x="65.9" y="31.8" width="5.6" height="1.8" fill="#bd0a08"/>
<rect x="71.1" y="31.8" width="5.6" height="1.8" fill="#951408"/>
<rect x="76.2" y="31.8" width="5.6" height="1.8" fill="#a31008"/>
<rect x="81.3" y="31.8" width="5.6" height="1.8" fill="#811908"/>
<rect x="86.5" y="31.8" width="5.6" height="1.8" fill="#4e2608"/>
<rect x="91.6" y="31.8" width="5.6" height="1.8" fill="#811908"/>
<rect x="96.8" y="31.8" width="5.6" height="1.8" fill="#274308"/>
<rect x="101.9" y="31.8" width="5.6" height="1.8" fill="#b50c08"/>
<rect x="107.0" y="31.8" width="5.6" height="1.8" fill="#284008"/>
<rect x="112.2" y="31.8" width="5.1" height="1.8" fill="#6d1e08"/>
<rect x="60.8" y="33.1" width="5.6" height="1.8" fill="#c30808"/>
<rect x="65.9" y="33.1" width="5.6" height="1.8" fill="#482808"/>
<rect x="71.1" y="33.1" width="5.6" height="1.8" fill="#5b2308"/>
<rect x="76.2" y="33.1" width="5.6" height="1.8" fill="#b40c08"/>
<rect x="81.3" y="33.1" width="5.6" height="1.8" fill="#5c2308"/>
<rect x="86.5" y="33.1" width="5.6" height="1.8" fill="#2d3208"/>
<rect x="91.6" y="33.1" width="5.6" height="1.8" fill="#6e1e08"/>
<rect x="96.8" y="33.1" width="5.6" height="1.8" fill="#871808"/>
<rect x="101.9" y="33.1" width="5.6" height="1.8" fill="#911508"/>
<rect x="107.0" y="33.1" width="5.6" height="1.8" fill="#2d3008"/>
<rect x="112.2" y="33.1" width="5.1" height="1.8" fill="#c30808"/>
<rect x="60.8" y="34.3" width="5.6" height="1.8" fill="#c30808"/>
<rect x="65.9" y="34.3" width="5.6" height="1.8" fill="#5b2308"/>
<rect x="71.1" y="34.3" width="5.6" height="1.8" fill="#6e1e08"/>
<rect x="76.2" y="34.3" width="5.6" height="1.8" fill="#382c08"/>
<rect x="81.3" y="34.3" width="5.6" height="1.8" fill="#c30808"/>
<rect x="86.5" y="34.3" width="5.6" height="1.8" fill="#2f2c08"/>
<rect x="91.6" y="34.3" width="5.6" height="1.8" fill="#8e1608"/>
<rect x="96.8" y="34.3" width="5.6" height="1.8" fill="#342d08"/>
<rect x="101.9" y="34.3" width="5.6" height="1.8" fill="#2f2b08"/>
<rect x="107.0" y="34.3" width="5.6" height="1.8" fill="#911508"/>
<rect x="112.2" y="34.3" width="5.1" height="1.8" fill="#c10908"/>
<rect x="60.8" y="35.6" width="5.6" height="1.8" fill="#592308"/>
<rect x="65.9" y="35.6" width="5.6" height="1.8" fill="#2f2a08"/>
<rect x="71.1" y="35.6" width="5.6" height="1.8" fill="#981308"/>
<rect x="76.2" y="35.6" width="5.6" height="1.8" fill="#562408"/>
<rect x="81.3" y="35.6" width="5.6" height="1.8" fill="#721d08"/>
<rect x="86.5" y="35.6" width="5.6" height="1.8" fill="#c30808"/>
<rect x="91.6" y="35.6" width="5.6" height="1.8" fill="#b10d08"/>
<rect x="96.8" y="35.6" width="5.6" height="1.8" fill="#312e08"/>
<rect x="101.9" y="35.6" width="5.6" height="1.8" fill="#c30808"/>
<rect x="107.0" y="35.6" width="5.6" height="1.8" fill="#5a2308"/>
<rect x="112.2" y="35.6" width="5.1" height="1.8" fill="#971308"/>
<rect x="60.8" y="36.8" width="5.6" height="1.8" fill="#302808"/>
<rect x="65.9" y="36.8" width="5.6" height="1.8" fill="#562408"/>
<rect x="71.1" y="36.8" width="5.6" height="1.8" fill="#1a6d08"/>
<rect x="76.2" y="36.8" width="5.6" height="1.8" fill="#c30808"/>
<rect x="81.3" y="36.8" width="5.6" height="1.8" fill="#c30808"/>
<rect x="86.5" y="36.8" width="5.6" height="1.8" fill="#244c08"/>
<rect x="91.6" y="36.8" width="5.6" height="1.8" fill="#1f5e08"/>
<rect x="96.8" y="36.8" width="5.6" height="1.8" fill="#1c6508"/>
<rect x="101.9" y="36.8" width="5.6" height="1.8" fill="#b50c08"/>
<rect x="107.0" y="36.8" width="5.6" height="1.8" fill="#362c08"/>
<rect x="112.2" y="36.8" width="5.1" height="1.8" fill="#552408"/>
<rect x="60.8" y="38.1" width="5.6" height="1.8" fill="#412908"/>
<rect x="65.9" y="38.1" width="5.6" height="1.8" fill="#502608"/>
<rect x="71.1" y="38.1" width="5.6" height="1.8" fill="#274408"/>
<rect x="76.2" y="38.1" width="5.6" height="1.8" fill="#5b2308"/>
<rect x="81.3" y="38.1" width="5.6" height="1.8" fill="#205a08"/>
<rect x="86.5" y="38.1" width="5.6" height="1.8" fill="#542508"/>
<rect x="91.6" y="38.1" width="5.6" height="1.8" fill="#721d08"/>
<rect x="96.8" y="38.1" width="5.6" height="1.8" fill="#7e1a08"/>
<rect x="101.9" y="38.1" width="5.6" height="1.8" fill="#482808"/>
<rect x="107.0" y="38.1" width="5.6" height="1.8" fill="#2b3808"/>
<rect x="112.2" y="38.1" width="5.1" height="1.8" fill="#662008"/>
<rect x="60.8" y="39.4" width="5.6" height="1.8" fill="#342d08"/>
<rect x="65.9" y="39.4" width="5.6" height="1.8" fill="#c30808"/>
<rect x="71.1" y="39.4" width="5.6" height="1.8" fill="#951408"/>
<rect x="76.2" y="39.4" width="5.6" height="1.8" fill="#512608"/>
<rect x="81.3" y="39.4" width="5.6" height="1.8" fill="#352d08"/>
<rect x="86.5" y="39.4" width="5.6" height="1.8" fill="#2f2c08"/>
<rect x="91.6" y="39.4" width="5.6" height="1.8" fill="#2a3b08"/>
<rect x="96.8" y="39.4" width="5.6" height="1.8" fill="#3e2a08"/>
<rect x="101.9" y="39.4" width="5.6" height="1.8" fill="#701d08"/>
<rect x="107.0" y="39.4" width="5.6" height="1.8" fill="#821908"/>
<rect x="112.2" y="39.4" width="5.1" height="1.8" fill="#861808"/>
<rect x="60.8" y="40.6" width="5.6" height="1.8" fill="#c30808"/>
<rect x="65.9" y="40.6" width="5.6" height="1.8" fill="#2f2c08"/>
<rect x="71.1" y="40.6" width="5.6" height="1.8" fill="#5b2308"/>
<rect x="76.2" y="40.6" width="5.6" height="1.8" fill="#c30808"/>
<rect x="81.3" y="40.6" width="5.6" height="1.8" fill="#177508"/>
<rect x="86.5" y="40.6" width="5.6" height="1.8" fill="#312e08"/>
<rect x="91.6" y="40.6" width="5.6" height="1.8" fill="#672008"/>
<rect x="96.8" y="40.6" width="5.6" height="1.8" fill="#662008"/>
<rect x="101.9" y="40.6" width="5.6" height="1.8" fill="#791b08"/>
<rect x="107.0" y="40.6" width="5.6" height="1.8" fill="#472808"/>
<rect x="112.2" y="40.6" width="5.1" height="1.8" fill="#761c08"/>
<rect x="60.8" y="41.9" width="5.6" height="1.8" fill="#5e2208"/>
<rect x="65.9" y="41.9" width="5.6" height="1.8" fill="#951408"/>
<rect x="71.1" y="41.9" width="5.6" height="1.8" fill="#177608"/>
<rect x="76.2" y="41.9" width="5.6" height="1.8" fill="#2b3708"/>
<rect x="81.3" y="41.9" width="5.6" height="1.8" fill="#592308"/>
<rect x="86.5" y="41.9" width="5.6" height="1.8" fill="#284008"/>
<rect x="91.6" y="41.9" width="5.6" height="1.8" fill="#284108"/>
<rect x="96.8" y="41.9" width="5.6" height="1.8" fill="#8a1708"/>
<rect x="101.9" y="41.9" width="5.6" height="1.8" fill="#302908"/>
<rect x="107.0" y="41.9" width="5.6" height="1.8" fill="#8b1708"/>
<rect x="112.2" y="41.9" width="5.1" height="1.8" fill="#931408"/>
<rect x="60.8" y="43.1" width="5.6" height="1.8" fill="#711d08"/>
<rect x="65.9" y="43.1" width="5.6" height="1.8" fill="#811908"/>
<rect x="71.1" y="43.1" width="5.6" height="1.8" fill="#512508"/>
<rect x="76.2" y="43.1" width="5.6" height="1.8" fill="#215808"/>
<rect x="81.3" y="43.1" width="5.6" height="1.8" fill="#572408"/>
<rect x="86.5" y="43.1" width="5.6" height="1.8" fill="#7d1a08"/>
<rect x="91.6" y="43.1" width="5.6" height="1.8" fill="#312e08"/>
<rect x="96.8" y="43.1" width="5.6" height="1.8" fill="#522508"/>
<rect x="101.9" y="43.1" width="5.6" height="1.8" fill="#941408"/>
<rect x="107.0" y="43.1" width="5.6" height="1.8" fill="#2b3708"/>
<rect x="112.2" y="43.1" width="5.1" height="1.8" fill="#8b1608"/>
<rect x="60.8" y="44.4" width="5.6" height="1.8" fill="#c30808"/>
<rect x="65.9" y="44.4" width="5.6" height="1.8" fill="#2f2e08"/>
<rect x="71.1" y="44.4" width="5.6" height="1.8" fill="#652008"/>
<rect x="76.2" y="44.4" width="5.6" height="1.8" fill="#4e2608"/>
<rect x="81.3" y="44.4" width="5.6" height="1.8" fill="#c30808"/>
<rect x="86.5" y="44.4" width="5.6" height="1.8" fill="#721d08"/>
<rect x="91.6" y="44.4" width="5.6" height="1.8" fill="#9f1108"/>
<rect x="96.8" y="44.4" width="5.6" height="1.8" fill="#2f2b08"/>
<rect x="101.9" y="44.4" width="5.6" height="1.8" fill="#582408"/>
<rect x="107.0" y="44.4" width="5.6" height="1.8" fill="#592308"/>
<rect x="112.2" y="44.4" width="5.1" height="1.8" fill="#196f08"/>
<rect x="60.8" y="45.6" width="5.6" height="1.8" fill="#c30808"/>
<rect x="65.9" y="45.6" width="5.6" height="1.8" fill="#9f1108"/>
<rect x="71.1" y="45.6" width="5.6" height="1.8" fill="#1a6d08"/>
<rect x="76.2" y="45.6" width="5.6" height="1.8" fill="#931408"/>
<rect x="81.3" y="45.6" width="5.6" height="1.8" fill="#4f2608"/>
<rect x="86.5" y="45.6" width="5.6" height="1.8" fill="#7c1a08"/>
<rect x="91.6" y="45.6" width="5.6" height="1.8" fill="#761c08"/>
<rect x="96.8" y="45.6" width="5.6" height="1.8" fill="#1f5e08"/>
<rect x="101.9" y="45.6" width="5.6" height="1.8" fill="#492708"/>
<rect x="107.0" y="45.6" width="5.6" height="1.8" fill="#c30808"/>
<rect x="112.2" y="45.6" width="5.1" height="1.8" fill="#2d2f08"/>
<rect x="60.8" y="46.9" width="5.6" height="1.8" fill="#284008"/>
<rect x="65.9" y="46.9" width="5.6" height="1.8" fill="#225508"/>
<rect x="71.1" y="46.9" width="5.6" height="1.8" fill="#244c08"/>
<rect x="76.2" y="46.9" width="5.6" height="1.8" fill="#741c08"/>
<rect x="81.3" y="46.9" width="5.6" height="1.8" fill="#c30808"/>
<rect x="86.5" y="46.9" width="5.6" height="1.8" fill="#7b1b08"/>
<rect x="91.6" y="46.9" width="5.6" height="1.8" fill="#6d1e08"/>
<rect x="96.8" y="46.9" width="5.6" height="1.8" fill="#c30808"/>
<rect x="101.9" y="46.9" width="5.6" height="1.8" fill="#312e08"/>
<rect x="107.0" y="46.9" width="5.6" height="1.8" fill="#2f2a08"/>
<rect x="112.2" y="46.9" width="5.1" height="1.8" fill="#831908"/>
<rect x="60.8" y="48.1" width="5.6" height="1.8" fill="#841808"/>
<rect x="65.9" y="48.1" width="5.6" height="1.8" fill="#293f08"/>
<rect x="71.1" y="48.1" width="5.6" height="1.8" fill="#254908"/>
<rect x="76.2" y="48.1" width="5.6" height="1.8" fill="#701d08"/>
<rect x="81.3" y="48.1" width="5.6" height="1.8" fill="#6d1e08"/>
<rect x="86.5" y="48.1" width="5.6" height="1.8" fill="#235208"/>
<rect x="91.6" y="48.1" width="5.6" height="1.8" fill="#4a2708"/>
<rect x="96.8" y="48.1" width="5.6" height="1.8" fill="#302e08"/>
<rect x="101.9" y="48.1" width="5.6" height="1.8" fill="#7d1a08"/>
<rect x="107.0" y="48.1" width="5.6" height="1.8" fill="#512608"/>
<rect x="112.2" y="48.1" width="5.1" height="1.8" fill="#532508"/>
<rect x="60.8" y="49.4" width="5.6" height="1.8" fill="#3e2a08"/>
<rect x="65.9" y="49.4" width="5.6" height="1.8" fill="#ab0e08"/>
<rect x="71.1" y="49.4" width="5.6" height="1.8" fill="#c30808"/>
<rect x="76.2" y="49.4" width="5.6" height="1.8" fill="#3d2b08"/>
<rect x="81.3" y="49.4" width="5.6" height="1.8" fill="#9b1208"/>
<rect x="86.5" y="49.4" width="5.6" height="1.8" fill="#2e2f08"/>
<rect x="91.6" y="49.4" width="5.6" height="1.8" fill="#5f2208"/>
<rect x="96.8" y="49.4" width="5.6" height="1.8" fill="#941408"/>
<rect x="101.9" y="49.4" width="5.6" height="1.8" fill="#c30808"/>
<rect x="107.0" y="49.4" width="5.6" height="1.8" fill="#3c2b08"/>
<rect x="112.2" y="49.4" width="5.1" height="1.8" fill="#542508"/>
<rect x="60.8" y="50.6" width="5.6" height="1.8" fill="#691f08"/>
<rect x="65.9" y="50.6" width="5.6" height="1.8" fill="#1f5e08"/>
<rect x="71.1" y="50.6" width="5.6" height="1.8" fill="#5b2308"/>
<rect x="76.2" y="50.6" width="5.6" height="1.8" fill="#2f2a08"/>
<rect x="81.3" y="50.6" width="5.6" height="1.8" fill="#761c08"/>
<rect x="86.5" y="50.6" width="5.6" height="1.8" fill="#264708"/>
<rect x="91.6" y="50.6" width="5.6" height="1.8" fill="#157c08"/>
<rect x="96.8" y="50.6" width="5.6" height="1.8" fill="#5d2208"/>
<rect x="101.9" y="50.6" width="5.6" height="1.8" fill="#6e1e08"/>
<rect x="107.0" y="50.6" width="5.6" height="1.8" fill="#2f2e08"/>
<rect x="112.2" y="50.6" width="5.1" height="1.8" fill="#9e1108"/>
<rect x="60.8" y="51.9" width="5.6" height="1.8" fill="#442908"/>
<rect x="65.9" y="51.9" width="5.6" height="1.8" fill="#2b2f08"/>
<rect x="71.1" y="51.9" width="5.6" height="1.8" fill="#7f1a08"/>
<rect x="76.2" y="51.9" width="5.6" height="1.8" fill="#1d6208"/>
<rect x="81.3" y="51.9" width="5.6" height="1.8" fill="#2f2a08"/>
<rect x="86.5" y="51.9" width="5.6" height="1.8" fill="#582408"/>
<rect x="91.6" y="51.9" width="5.6" height="1.8" fill="#9b1208"/>
<rect x="96.8" y="51.9" width="5.6" height="1.8" fill="#4d2608"/>
<rect x="101.9" y="51.9" width="5.6" height="1.8" fill="#721d08"/>
<rect x="107.0" y="51.9" width="5.6" height="1.8" fill="#302908"/>
<rect x="112.2" y="51.9" width="5.1" height="1.8" fill="#711d08"/>
<rect x="60.8" y="53.1" width="5.6" height="1.8" fill="#c30808"/>
<rect x="65.9" y="53.1" width="5.6" height="1.8" fill="#2f2b08"/>
<rect x="71.1" y="53.1" width="5.6" height="1.8" fill="#c30808"/>
<rect x="76.2" y="53.1" width="5.6" height="1.8" fill="#302808"/>
<rect x="81.3" y="53.1" width="5.6" height="1.8" fill="#5b2308"/>
<rect x="86.5" y="53.1" width="5.6" height="1.8" fill="#672008"/>
<rect x="91.6" y="53.1" width="5.6" height="1.8" fill="#a90f08"/>
<rect x="96.8" y="53.1" width="5.6" height="1.8" fill="#244d08"/>
<rect x="101.9" y="53.1" width="5.6" height="1.8" fill="#138308"/>
<rect x="107.0" y="53.1" width="5.6" height="1.8" fill="#891708"/>
<rect x="112.2" y="53.1" width="5.1" height="1.8" fill="#971308"/>
<rect x="60.8" y="54.4" width="5.6" height="1.8" fill="#8a1708"/>
<rect x="65.9" y="54.4" width="5.6" height="1.8" fill="#c30808"/>
<rect x="71.1" y="54.4" width="5.6" height="1.8" fill="#691f08"/>
<rect x="76.2" y="54.4" width="5.6" height="1.8" fill="#6d1e08"/>
<rect x="81.3" y="54.4" width="5.6" height="1.8" fill="#a21108"/>
<rect x="86.5" y="54.4" width="5.6" height="1.8" fill="#761c08"/>
<rect x="91.6" y="54.4" width="5.6" height="1.8" fill="#c30808"/>
<rect x="96.8" y="54.4" width="5.6" height="1.8" fill="#244d08"/>
<rect x="101.9" y="54.4" width="5.6" height="1.8" fill="#3d2b08"/>
<rect x="107.0" y="54.4" width="5.6" height="1.8" fill="#08a508"/>
<rect x="112.2" y="54.4" width="5.1" height="1.8" fill="#991308"/>
<rect x="60.8" y="55.7" width="5.6" height="1.8" fill="#3d2b08"/>
<rect x="65.9" y="55.7" width="5.6" height="1.8" fill="#a11108"/>
<rect x="71.1" y="55.7" width="5.6" height="1.8" fill="#c30808"/>
<rect x="76.2" y="55.7" width="5.6" height="1.8" fill="#592308"/>
<rect x="81.3" y="55.7" width="5.6" height="1.8" fill="#462808"/>
<rect x="86.5" y="55.7" width="5.6" height="1.8" fill="#332d08"/>
<rect x="91.6" y="55.7" width="5.6" height="1.8" fill="#2c3408"/>
<rect x="96.8" y="55.7" width="5.6" height="1.8" fill="#293008"/>
<rect x="101.9" y="55.7" width="5.6" height="1.8" fill="#8b1608"/>
<rect x="107.0" y="55.7" width="5.6" height="1.8" fill="#5c2208"/>
<rect x="112.2" y="55.7" width="5.1" height="1.8" fill="#5f2208"/>
<rect x="60.8" y="56.9" width="5.6" height="1.8" fill="#4c2708"/>
<rect x="65.9" y="56.9" width="5.6" height="1.8" fill="#a01108"/>
<rect x="71.1" y="56.9" width="5.6" height="1.8" fill="#801908"/>
<rect x="76.2" y="56.9" width="5.6" height="1.8" fill="#4f2608"/>
<rect x="81.3" y="56.9" width="5.6" height="1.8" fill="#8d1608"/>
<rect x="86.5" y="56.9" width="5.6" height="1.8" fill="#4e2608"/>
<rect x="91.6" y="56.9" width="5.6" height="1.8" fill="#264808"/>
<rect x="96.8" y="56.9" width="5.6" height="1.8" fill="#c30808"/>
<rect x="101.9" y="56.9" width="5.6" height="1.8" fill="#7e1a08"/>
<rect x="107.0" y="56.9" width="5.6" height="1.8" fill="#2a3c08"/>
<rect x="112.2" y="56.9" width="5.1" height="1.8" fill="#ad0e08"/>
<rect x="60.8" y="58.2" width="5.6" height="1.8" fill="#741c08"/>
<rect x="65.9" y="58.2" width="5.6" height="1.8" fill="#1e6208"/>
<rect x="71.1" y="58.2" width="5.6" height="1.8" fill="#c30808"/>
<rect x="76.2" y="58.2" width="5.6" height="1.8" fill="#731d08"/>
<rect x="81.3" y="58.2" width="5.6" height="1.8" fill="#9f1108"/>
<rect x="86.5" y="58.2" width="5.6" height="1.8" fill="#691f08"/>
<rect x="91.6" y="58.2" width="5.6" height="1.8" fill="#4e2608"/>
<rect x="96.8" y="58.2" width="5.6" height="1.8" fill="#1e6108"/>
<rect x="101.9" y="58.2" width="5.6" height="1.8" fill="#a51008"/>
<rect x="107.0" y="58.2" width="5.6" height="1.8" fill="#5c2308"/>
<rect x="112.2" y="58.2" width="5.1" height="1.8" fill="#432908"/>
<rect x="60.8" y="59.4" width="5.6" height="1.8" fill="#751c08"/>
<rect x="65.9" y="59.4" width="5.6" height="1.8" fill="#602208"/>
<rect x="71.1" y="59.4" width="5.6" height="1.8" fill="#8e1608"/>
<rect x="76.2" y="59.4" width="5.6" height="1.8" fill="#3d2b08"/>
<rect x="81.3" y="59.4" width="5.6" height="1.8" fill="#572408"/>
<rect x="86.5" y="59.4" width="5.6" height="1.8" fill="#128608"/>
<rect x="91.6" y="59.4" width="5.6" height="1.8" fill="#392c08"/>
<rect x="96.8" y="59.4" width="5.6" height="1.8" fill="#8e1608"/>
<rect x="101.9" y="59.4" width="5.6" height="1.8" fill="#c10808"/>
<rect x="107.0" y="59.4" width="5.6" height="1.8" fill="#3d2a08"/>
<rect x="112.2" y="59.4" width="5.1" height="1.8" fill="#502608"/>
<rect x="60.8" y="60.7" width="5.6" height="1.8" fill="#c30808"/>
<rect x="65.9" y="60.7" width="5.6" height="1.8" fill="#402a08"/>
<rect x="71.1" y="60.7" width="5.6" height="1.8" fill="#921508"/>
<rect x="76.2" y="60.7" width="5.6" height="1.8" fill="#c30808"/>
<rect x="81.3" y="60.7" width="5.6" height="1.8" fill="#5d2208"/>
<rect x="86.5" y="60.7" width="5.6" height="1.8" fill="#b90b08"/>
<rect x="91.6" y="60.7" width="5.6" height="1.8" fill="#2f2c08"/>
<rect x="96.8" y="60.7" width="5.6" height="1.8" fill="#6a1f08"/>
<rect x="101.9" y="60.7" width="5.6" height="1.8" fill="#542508"/>
<rect x="107.0" y="60.7" width="5.6" height="1.8" fill="#632108"/>
<rect x="112.2" y="60.7" width="5.1" height="1.8" fill="#b10d08"/>
<rect x="60.8" y="61.9" width="5.6" height="1.8" fill="#c30808"/>
<rect x="65.9" y="61.9" width="5.6" height="1.8" fill="#2f2a08"/>
<rect x="71.1" y="61.9" width="5.6" height="1.8" fill="#2d2f08"/>
<rect x="76.2" y="61.9" width="5.6" height="1.8" fill="#801908"/>
<rect x="81.3" y="61.9" width="5.6" height="1.8" fill="#284208"/>
<rect x="86.5" y="61.9" width="5.6" height="1.8" fill="#801908"/>
<rect x="91.6" y="61.9" width="5.6" height="1.8" fill="#861808"/>
<rect x="96.8" y="61.9" width="5.6" height="1.8" fill="#442908"/>
<rect x="101.9" y="61.9" width="5.6" height="1.8" fill="#831908"/>
<rect x="107.0" y="61.9" width="5.6" height="1.8" fill="#1e6108"/>
<rect x="112.2" y="61.9" width="5.1" height="1.8" fill="#941408"/>
<rect x="60.8" y="63.2" width="5.6" height="1.8" fill="#1e6108"/>
<rect x="65.9" y="63.2" width="5.6" height="1.8" fill="#2f2c08"/>
<rect x="71.1" y="63.2" width="5.6" height="1.8" fill="#2e2e08"/>
<rect x="76.2" y="63.2" width="5.6" height="1.8" fill="#3b2b08"/>
<rect x="81.3" y="63.2" width="5.6" height="1.8" fill="#9c1208"/>
<rect x="86.5" y="63.2" width="5.6" height="1.8" fill="#602208"/>
<rect x="91.6" y="63.2" width="5.6" height="1.8" fill="#3b2b08"/>
<rect x="96.8" y="63.2" width="5.6" height="1.8" fill="#841808"/>
<rect x="101.9" y="63.2" width="5.6" height="1.8" fill="#c30808"/>
<rect x="107.0" y="63.2" width="5.6" height="1.8" fill="#5a2308"/>
<rect x="112.2" y="63.2" width="5.1" height="1.8" fill="#761c08"/>
<rect x="60.8" y="64.4" width="5.6" height="1.8" fill="#ba0a08"/>
<rect x="65.9" y="64.4" width="5.6" height="1.8" fill="#6e1e08"/>
<rect x="71.1" y="64.4" width="5.6" height="1.8" fill="#235008"/>
<rect x="76.2" y="64.4" width="5.6" height="1.8" fill="#c30808"/>
<rect x="81.3" y="64.4" width="5.6" height="1.8" fill="#c30808"/>
<rect x="86.5" y="64.4" width="5.6" height="1.8" fill="#157c08"/>
<rect x="91.6" y="64.4" width="5.6" height="1.8" fill="#572408"/>
<rect x="96.8" y="64.4" width="5.6" height="1.8" fill="#7a1b08"/>
<rect x="101.9" y="64.4" width="5.6" height="1.8" fill="#a41008"/>
<rect x="107.0" y="64.4" width="5.6" height="1.8" fill="#8d1608"/>
<rect x="112.2" y="64.4" width="5.1" height="1.8" fill="#452908"/>
<rect x="60.8" y="65.7" width="5.6" height="1.8" fill="#284208"/>
<rect x="65.9" y="65.7" width="5.6" height="1.8" fill="#622108"/>
<rect x="71.1" y="65.7" width="5.6" height="1.8" fill="#aa0f08"/>
<rect x="76.2" y="65.7" width="5.6" height="1.8" fill="#274408"/>
<rect x="81.3" y="65.7" width="5.6" height="1.8" fill="#284008"/>
<rect x="86.5" y="65.7" width="5.6" height="1.8" fill="#582408"/>
<rect x="91.6" y="65.7" width="5.6" height="1.8" fill="#167908"/>
<rect x="96.8" y="65.7" width="5.6" height="1.8" fill="#452808"/>
<rect x="101.9" y="65.7" width="5.6" height="1.8" fill="#382c08"/>
<rect x="107.0" y="65.7" width="5.6" height="1.8" fill="#7d1a08"/>
<rect x="112.2" y="65.7" width="5.1" height="1.8" fill="#2f2c08"/>
<rect x="60.8" y="66.9" width="5.6" height="1.8" fill="#2b3708"/>
<rect x="65.9" y="66.9" width="5.6" height="1.8" fill="#3b2b08"/>
<rect x="71.1" y="66.9" width="5.6" height="1.8" fill="#562408"/>
<rect x="76.2" y="66.9" width="5.6" height="1.8" fill="#302a08"/>
<rect x="81.3" y="66.9" width="5.6" height="1.8" fill="#5b2308"/>
<rect x="86.5" y="66.9" width="5.6" height="1.8" fill="#941408"/>
<rect x="91.6" y="66.9" width="5.6" height="1.8" fill="#b50b08"/>
<rect x="96.8" y="66.9" width="5.6" height="1.8" fill="#c30808"/>
<rect x="101.9" y="66.9" width="5.6" height="1.8" fill="#2d3108"/>
<rect x="107.0" y="66.9" width="5.6" height="1.8" fill="#392c08"/>
<rect x="112.2" y="66.9" width="5.1" height="1.8" fill="#0b9b08"/>
<rect x="60.8" y="68.2" width="5.6" height="1.8" fill="#c30808"/>
<rect x="65.9" y="68.2" width="5.6" height="1.8" fill="#2e2d08"/>
<rect x="71.1" y="68.2" width="5.6" height="1.8" fill="#572408"/>
<rect x="76.2" y="68.2" width="5.6" height="1.8" fill="#821908"/>
<rect x="81.3" y="68.2" width="5.6" height="1.8" fill="#225508"/>
<rect x="86.5" y="68.2" width="5.6" height="1.8" fill="#7e1a08"/>
<rect x="91.6" y="68.2" width="5.6" height="1.8" fill="#582408"/>
<rect x="96.8" y="68.2" width="5.6" height="1.8" fill="#187208"/>
<rect x="101.9" y="68.2" width="5.6" height="1.8" fill="#701d08"/>
<rect x="107.0" y="68.2" width="5.6" height="1.8" fill="#b60b08"/>
<rect x="112.2" y="68.2" width="5.1" height="1.8" fill="#177508"/>
<rect x="60.8" y="69.5" width="5.6" height="1.8" fill="#981308"/>
<rect x="65.9" y="69.5" width="5.6" height="1.8" fill="#6a1f08"/>
<rect x="71.1" y="69.5" width="5.6" height="1.8" fill="#7e1a08"/>
<rect x="76.2" y="69.5" width="5.6" height="1.8" fill="#7c1a08"/>
<rect x="81.3" y="69.5" width="5.6" height="1.8" fill="#bf0908"/>
<rect x="86.5" y="69.5" width="5.6" height="1.8" fill="#482808"/>
<rect x="91.6" y="69.5" width="5.6" height="1.8" fill="#9d1208"/>
<rect x="96.8" y="69.5" width="5.6" height="1.8" fill="#3a2b08"/>
<rect x="101.9" y="69.5" width="5.6" height="1.8" fill="#921508"/>
<rect x="107.0" y="69.5" width="5.6" height="1.8" fill="#2d3308"/>
<rect x="112.2" y="69.5" width="5.1" height="1.8" fill="#512508"/>
<rect x="60.8" y="70.7" width="5.6" height="1.8" fill="#c30808"/>
<rect x="65.9" y="70.7" width="5.6" height="1.8" fill="#7c1a08"/>
<rect x="71.1" y="70.7" width="5.6" height="1.8" fill="#4d2608"/>
<rect x="76.2" y="70.7" width="5.6" height="1.8" fill="#264808"/>
<rect x="81.3" y="70.7" width="5.6" height="1.8" fill="#2d3108"/>
<rect x="86.5" y="70.7" width="5.6" height="1.8" fill="#691f08"/>
<rect x="91.6" y="70.7" width="5.6" height="1.8" fill="#a21008"/>
<rect x="96.8" y="70.7" width="5.6" height="1.8" fill="#7b1b08"/>
<rect x="101.9" y="70.7" width="5.6" height="1.8" fill="#821908"/>
<rect x="107.0" y="70.7" width="5.6" height="1.8" fill="#562408"/>
<rect x="112.2" y="70.7" width="5.1" height="1.8" fill="#c20808"/>
<rect x="60.8" y="72.0" width="5.6" height="1.8" fill="#3b2b08"/>
<rect x="65.9" y="72.0" width="5.6" height="1.8" fill="#2f2e08"/>
<rect x="71.1" y="72.0" width="5.6" height="1.8" fill="#9e1108"/>
<rect x="76.2" y="72.0" width="5.6" height="1.8" fill="#5f2208"/>
<rect x="81.3" y="72.0" width="5.6" height="1.8" fill="#442908"/>
<rect x="86.5" y="72.0" width="5.6" height="1.8" fill="#2d2f08"/>
<rect x="91.6" y="72.0" width="5.6" height="1.8" fill="#462808"/>
<rect x="96.8" y="72.0" width="5.6" height="1.8" fill="#8a1708"/>
<rect x="101.9" y="72.0" width="5.6" height="1.8" fill="#751c08"/>
<rect x="107.0" y="72.0" width="5.6" height="1.8" fill="#254c08"/>
<rect x="112.2" y="72.0" width="5.1" height="1.8" fill="#7b1b08"/>
<rect x="60.8" y="73.2" width="5.6" height="1.8" fill="#672008"/>
<rect x="65.9" y="73.2" width="5.6" height="1.8" fill="#293f08"/>
<rect x="71.1" y="73.2" width="5.6" height="1.8" fill="#951408"/>
<rect x="76.2" y="73.2" width="5.6" height="1.8" fill="#442908"/>
<rect x="81.3" y="73.2" width="5.6" height="1.8" fill="#402a08"/>
<rect x="86.5" y="73.2" width="5.6" height="1.8" fill="#971308"/>
<rect x="91.6" y="73.2" width="5.6" height="1.8" fill="#c00908"/>
<rect x="96.8" y="73.2" width="5.6" height="1.8" fill="#2f2b08"/>
<rect x="101.9" y="73.2" width="5.6" height="1.8" fill="#7c1a08"/>
<rect x="107.0" y="73.2" width="5.6" height="1.8" fill="#2b3708"/>
<rect x="112.2" y="73.2" width="5.1" height="1.8" fill="#c30808"/>
<rect x="60.8" y="74.5" width="5.6" height="1.8" fill="#332d08"/>
<rect x="65.9" y="74.5" width="5.6" height="1.8" fill="#b60b08"/>
<rect x="71.1" y="74.5" width="5.6" height="1.8" fill="#302808"/>
<rect x="76.2" y="74.5" width="5.6" height="1.8" fill="#981308"/>
<rect x="81.3" y="74.5" width="5.6" height="1.8" fill="#c30808"/>
<rect x="86.5" y="74.5" width="5.6" height="1.8" fill="#0a9f08"/>
<rect x="91.6" y="74.5" width="5.6" height="1.8" fill="#382c08"/>
<rect x="96.8" y="74.5" width="5.6" height="1.8" fill="#801908"/>
<rect x="101.9" y="74.5" width="5.6" height="1.8" fill="#522508"/>
<rect x="107.0" y="74.5" width="5.6" height="1.8" fill="#2f2a08"/>
<rect x="112.2" y="74.5" width="5.1" height="1.8" fill="#c30808"/>
<rect x="60.8" y="75.7" width="5.6" height="1.8" fill="#602208"/>
<rect x="65.9" y="75.7" width="5.6" height="1.8" fill="#1c6708"/>
<rect x="71.1" y="75.7" width="5.6" height="1.8" fill="#9c1208"/>
<rect x="76.2" y="75.7" width="5.6" height="1.8" fill="#1a6c08"/>
<rect x="81.3" y="75.7" width="5.6" height="1.8" fill="#b30c08"/>
<rect x="86.5" y="75.7" width="5.6" height="1.8" fill="#2d2f08"/>
<rect x="91.6" y="75.7" width="5.6" height="1.8" fill="#652008"/>
<rect x="96.8" y="75.7" width="5.6" height="1.8" fill="#bb0a08"/>
<rect x="101.9" y="75.7" width="5.6" height="1.8" fill="#632108"/>
<rect x="107.0" y="75.7" width="5.6" height="1.8" fill="#215708"/>
<rect x="112.2" y="75.7" width="5.1" height="1.8" fill="#1b6a08"/>
<rect x="60.8" y="77.0" width="5.6" height="1.8" fill="#b50c08"/>
<rect x="65.9" y="77.0" width="5.6" height="1.8" fill="#931408"/>
<rect x="71.1" y="77.0" width="5.6" height="1.8" fill="#2c3308"/>
<rect x="76.2" y="77.0" width="5.6" height="1.8" fill="#9c1208"/>
<rect x="81.3" y="77.0" width="5.6" height="1.8" fill="#801908"/>
<rect x="86.5" y="77.0" width="5.6" height="1.8" fill="#8c1608"/>
<rect x="91.6" y="77.0" width="5.6" height="1.8" fill="#108d08"/>
<rect x="96.8" y="77.0" width="5.6" height="1.8" fill="#422908"/>
<rect x="101.9" y="77.0" width="5.6" height="1.8" fill="#9f1108"/>
<rect x="107.0" y="77.0" width="5.6" height="1.8" fill="#921508"/>
<rect x="112.2" y="77.0" width="5.1" height="1.8" fill="#9e1208"/>
<rect x="60.8" y="78.2" width="5.6" height="1.8" fill="#0c9a08"/>
<rect x="65.9" y="78.2" width="5.6" height="1.8" fill="#672008"/>
<rect x="71.1" y="78.2" width="5.6" height="1.8" fill="#801908"/>
<rect x="76.2" y="78.2" width="5.6" height="1.8" fill="#c30808"/>
<rect x="81.3" y="78.2" width="5.6" height="1.8" fill="#2a3c08"/>
<rect x="86.5" y="78.2" width="5.6" height="1.8" fill="#402a08"/>
<rect x="91.6" y="78.2" width="5.6" height="1.8" fill="#5c2208"/>
<rect x="96.8" y="78.2" width="5.6" height="1.8" fill="#9e1108"/>
<rect x="101.9" y="78.2" width="5.6" height="1.8" fill="#372c08"/>
<rect x="107.0" y="78.2" width="5.6" height="1.8" fill="#b30c08"/>
<rect x="112.2" y="78.2" width="5.1" height="1.8" fill="#2d3108"/>
<rect x="60.8" y="79.5" width="5.6" height="1.8" fill="#6e1e08"/>
<rect x="65.9" y="79.5" width="5.6" height="1.8" fill="#312e08"/>
<rect x="71.1" y="79.5" width="5.6" height="1.8" fill="#662008"/>
<rect x="76.2" y="79.5" width="5.6" height="1.8" fill="#2f2b08"/>
<rect x="81.3" y="79.5" width="5.6" height="1.8" fill="#1d6408"/>
<rect x="86.5" y="79.5" width="5.6" height="1.8" fill="#ae0d08"/>
<rect x="91.6" y="79.5" width="5.6" height="1.8" fill="#711d08"/>
<rect x="96.8" y="79.5" width="5.6" height="1.8" fill="#2e2e08"/>
<rect x="101.9" y="79.5" width="5.6" height="1.8" fill="#691f08"/>
<rect x="107.0" y="79.5" width="5.6" height="1.8" fill="#a60f08"/>
<rect x="112.2" y="79.5" width="5.1" height="1.8" fill="#293d08"/>
<rect x="60.8" y="80.7" width="5.6" height="1.3" fill="#512508"/>
<rect x="65.9" y="80.7" width="5.6" height="1.3" fill="#831808"/>
<rect x="71.1" y="80.7" width="5.6" height="1.3" fill="#821908"/>
<rect x="76.2" y="80.7" width="5.6" height="1.3" fill="#402a08"/>
<rect x="81.3" y="80.7" width="5.6" height="1.3" fill="#138408"/>
<rect x="86.5" y="80.7" width="5.6" height="1.3" fill="#ba0a08"/>
<rect x="91.6" y="80.7" width="5.6" height="1.3" fill="#731d08"/>
<rect x="96.8" y="80.7" width="5.6" height="1.3" fill="#5b2308"/>
<rect x="101.9" y="80.7" width="5.6" height="1.3" fill="#442908"/>
<rect x="107.0" y="80.7" width="5.6" height="1.3" fill="#6e1e08"/>
<rect x="112.2" y="80.7" width="5.1" height="1.3" fill="#392c08"/>
<rect x="8" y="83.2" width="51.6" height="53.1" fill="#5a2308"/>
<rect x="8.0" y="83.2" width="5.7" height="1.8" fill="#284008"/>
<rect x="13.2" y="83.2" width="5.7" height="1.8" fill="#2e2e08"/>
<rect x="18.3" y="83.2" width="5.7" height="1.8" fill="#2b2f08"/>
<rect x="23.5" y="83.2" width="5.7" height="1.8" fill="#2a2f08"/>
<rect x="28.6" y="83.2" width="5.7" height="1.8" fill="#264808"/>
<rect x="33.8" y="83.2" width="5.7" height="1.8" fill="#8b1608"/>
<rect x="39.0" y="83.2" width="5.7" height="1.8" fill="#235208"/>
<rect x="44.1" y="83.2" width="5.7" height="1.8" fill="#8d1608"/>
<rect x="49.3" y="83.2" width="5.7" height="1.8" fill="#293f08"/>
<rect x="54.4" y="83.2" width="5.2" height="1.8" fill="#751c08"/>
<rect x="8.0" y="84.5" width="5.7" height="1.8" fill="#c30808"/>
<rect x="13.2" y="84.5" width="5.7" height="1.8" fill="#691f08"/>
<rect x="18.3" y="84.5" width="5.7" height="1.8" fill="#2e2e08"/>
<rect x="23.5" y="84.5" width="5.7" height="1.8" fill="#5d2208"/>
<rect x="28.6" y="84.5" width="5.7" height="1.8" fill="#652008"/>
<rect x="33.8" y="84.5" width="5.7" height="1.8" fill="#1a6c08"/>
<rect x="39.0" y="84.5" width="5.7" height="1.8" fill="#2b2f08"/>
<rect x="44.1" y="84.5" width="5.7" height="1.8" fill="#662008"/>
<rect x="49.3" y="84.5" width="5.7" height="1.8" fill="#352d08"/>
<rect x="54.4" y="84.5" width="5.2" height="1.8" fill="#602208"/>
<rect x="8.0" y="85.7" width="5.7" height="1.8" fill="#921508"/>
<rect x="13.2" y="85.7" width="5.7" height="1.8" fill="#951408"/>
<rect x="18.3" y="85.7" width="5.7" height="1.8" fill="#a01108"/>
<rect x="23.5" y="85.7" width="5.7" height="1.8" fill="#871708"/>
<rect x="28.6" y="85.7" width="5.7" height="1.8" fill="#432908"/>
<rect x="33.8" y="85.7" width="5.7" height="1.8" fill="#582408"/>
<rect x="39.0" y="85.7" width="5.7" height="1.8" fill="#452908"/>
<rect x="44.1" y="85.7" width="5.7" height="1.8" fill="#412908"/>
<rect x="49.3" y="85.7" width="5.7" height="1.8" fill="#4c2708"/>
<rect x="54.4" y="85.7" width="5.2" height="1.8" fill="#1a6c08"/>
<rect x="8.0" y="87.0" width="5.7" height="1.8" fill="#402a08"/>
<rect x="13.2" y="87.0" width="5.7" height="1.8" fill="#582408"/>
<rect x="18.3" y="87.0" width="5.7" height="1.8" fill="#293d08"/>
<rect x="23.5" y="87.0" width="5.7" height="1.8" fill="#582408"/>
<rect x="28.6" y="87.0" width="5.7" height="1.8" fill="#821908"/>
<rect x="33.8" y="87.0" width="5.7" height="1.8" fill="#4d2608"/>
<rect x="39.0" y="87.0" width="5.7" height="1.8" fill="#c30808"/>
<rect x="44.1" y="87.0" width="5.7" height="1.8" fill="#09a308"/>
<rect x="49.3" y="87.0" width="5.7" height="1.8" fill="#4a2708"/>
<rect x="54.4" y="87.0" width="5.2" height="1.8" fill="#187208"/>
<rect x="8.0" y="88.3" width="5.7" height="1.8" fill="#a61008"/>
<rect x="13.2" y="88.3" width="5.7" height="1.8" fill="#c30808"/>
<rect x="18.3" y="88.3" width="5.7" height="1.8" fill="#0b9c08"/>
<rect x="23.5" y="88.3" width="5.7" height="1.8" fill="#642108"/>
<rect x="28.6" y="88.3" width="5.7" height="1.8" fill="#821908"/>
<rect x="33.8" y="88.3" width="5.7" height="1.8" fill="#422908"/>
<rect x="39.0" y="88.3" width="5.7" height="1.8" fill="#841808"/>
<rect x="44.1" y="88.3" width="5.7" height="1.8" fill="#108c08"/>
<rect x="49.3" y="88.3" width="5.7" height="1.8" fill="#9c1208"/>
<rect x="54.4" y="88.3" width="5.2" height="1.8" fill="#761c08"/>
<rect x="8.0" y="89.5" width="5.7" height="1.8" fill="#5b2308"/>
<rect x="13.2" y="89.5" width="5.7" height="1.8" fill="#2c2f08"/>
<rect x="18.3" y="89.5" width="5.7" height="1.8" fill="#8b1608"/>
<rect x="23.5" y="89.5" width="5.7" height="1.8" fill="#342d08"/>
<rect x="28.6" y="89.5" width="5.7" height="1.8" fill="#6b1f08"/>
<rect x="33.8" y="89.5" width="5.7" height="1.8" fill="#322d08"/>
<rect x="39.0" y="89.5" width="5.7" height="1.8" fill="#108c08"/>
<rect x="44.1" y="89.5" width="5.7" height="1.8" fill="#572408"/>
<rect x="49.3" y="89.5" width="5.7" height="1.8" fill="#691f08"/>
<rect x="54.4" y="89.5" width="5.2" height="1.8" fill="#941408"/>
<rect x="8.0" y="90.8" width="5.7" height="1.8" fill="#2b3708"/>
<rect x="13.2" y="90.8" width="5.7" height="1.8" fill="#572408"/>
<rect x="18.3" y="90.8" width="5.7" height="1.8" fill="#891708"/>
<rect x="23.5" y="90.8" width="5.7" height="1.8" fill="#652008"/>
<rect x="28.6" y="90.8" width="5.7" height="1.8" fill="#ba0a08"/>
<rect x="33.8" y="90.8" width="5.7" height="1.8" fill="#c30808"/>
<rect x="39.0" y="90.8" width="5.7" height="1.8" fill="#2b3908"/>
<rect x="44.1" y="90.8" width="5.7" height="1.8" fill="#167808"/>
<rect x="49.3" y="90.8" width="5.7" height="1.8" fill="#9c1208"/>
<rect x="54.4" y="90.8" width="5.2" height="1.8" fill="#c30808"/>
<rect x="8.0" y="92.1" width="5.7" height="1.8" fill="#a11108"/>
<rect x="13.2" y="92.1" width="5.7" height="1.8" fill="#991308"/>
<rect x="18.3" y="92.1" width="5.7" height="1.8" fill="#2a3008"/>
<rect x="23.5" y="92.1" width="5.7" height="1.8" fill="#2f2d08"/>
<rect x="28.6" y="92.1" width="5.7" height="1.8" fill="#9e1108"/>
<rect x="33.8" y="92.1" width="5.7" height="1.8" fill="#2b3908"/>
<rect x="39.0" y="92.1" width="5.7" height="1.8" fill="#197108"/>
<rect x="44.1" y="92.1" width="5.7" height="1.8" fill="#293e08"/>
<rect x="49.3" y="92.1" width="5.7" height="1.8" fill="#c30808"/>
<rect x="54.4" y="92.1" width="5.2" height="1.8" fill="#c30808"/>
<rect x="8.0" y="93.3" width="5.7" height="1.8" fill="#2f2b08"/>
<rect x="13.2" y="93.3" width="5.7" height="1.8" fill="#2e2e08"/>
<rect x="18.3" y="93.3" width="5.7" height="1.8" fill="#6c1f08"/>
<rect x="23.5" y="93.3" width="5.7" height="1.8" fill="#2e2f08"/>
<rect x="28.6" y="93.3" width="5.7" height="1.8" fill="#bf0908"/>
<rect x="33.8" y="93.3" width="5.7" height="1.8" fill="#542508"/>
<rect x="39.0" y="93.3" width="5.7" height="1.8" fill="#274408"/>
<rect x="44.1" y="93.3" width="5.7" height="1.8" fill="#bf0908"/>
<rect x="49.3" y="93.3" width="5.7" height="1.8" fill="#2c2f08"/>
<rect x="54.4" y="93.3" width="5.2" height="1.8" fill="#6b1f08"/>
<rect x="8.0" y="94.6" width="5.7" height="1.8" fill="#592308"/>
<rect x="13.2" y="94.6" width="5.7" height="1.8" fill="#412908"/>
<rect x="18.3" y="94.6" width="5.7" height="1.8" fill="#731d08"/>
<rect x="23.5" y="94.6" width="5.7" height="1.8" fill="#2f2b08"/>
<rect x="28.6" y="94.6" width="5.7" height="1.8" fill="#187308"/>
<rect x="33.8" y="94.6" width="5.7" height="1.8" fill="#118a08"/>
<rect x="39.0" y="94.6" width="5.7" height="1.8" fill="#234f08"/>
<rect x="44.1" y="94.6" width="5.7" height="1.8" fill="#2e2f08"/>
<rect x="49.3" y="94.6" width="5.7" height="1.8" fill="#582408"/>
<rect x="54.4" y="94.6" width="5.2" height="1.8" fill="#5e2208"/>
<rect x="8.0" y="95.8" width="5.7" height="1.8" fill="#851808"/>
<rect x="13.2" y="95.8" width="5.7" height="1.8" fill="#632108"/>
<rect x="18.3" y="95.8" width="5.7" height="1.8" fill="#2d3208"/>
<rect x="23.5" y="95.8" width="5.7" height="1.8" fill="#2f2c08"/>
<rect x="28.6" y="95.8" width="5.7" height="1.8" fill="#128408"/>
<rect x="33.8" y="95.8" width="5.7" height="1.8" fill="#4c2708"/>
<rect x="39.0" y="95.8" width="5.7" height="1.8" fill="#7f1a08"/>
<rect x="44.1" y="95.8" width="5.7" height="1.8" fill="#831908"/>
<rect x="49.3" y="95.8" width="5.7" height="1.8" fill="#502608"/>
<rect x="54.4" y="95.8" width="5.2" height="1.8" fill="#4c2708"/>
<rect x="8.0" y="97.1" width="5.7" height="1.8" fill="#a21008"/>
<rect x="13.2" y="97.1" width="5.7" height="1.8" fill="#5b2308"/>
<rect x="18.3" y="97.1" width="5.7" height="1.8" fill="#931408"/>
<rect x="23.5" y="97.1" width="5.7" height="1.8" fill="#871808"/>
<rect x="28.6" y="97.1" width="5.7" height="1.8" fill="#6a1f08"/>
<rect x="33.8" y="97.1" width="5.7" height="1.8" fill="#bf0908"/>
<rect x="39.0" y="97.1" width="5.7" height="1.8" fill="#2d2f08"/>
<rect x="44.1" y="97.1" width="5.7" height="1.8" fill="#3e2a08"/>
<rect x="49.3" y="97.1" width="5.7" height="1.8" fill="#2d3208"/>
<rect x="54.4" y="97.1" width="5.2" height="1.8" fill="#2d3208"/>
<rect x="8.0" y="98.4" width="5.7" height="1.8" fill="#c30808"/>
<rect x="13.2" y="98.4" width="5.7" height="1.8" fill="#c30808"/>
<rect x="18.3" y="98.4" width="5.7" height="1.8" fill="#5b2308"/>
<rect x="23.5" y="98.4" width="5.7" height="1.8" fill="#861808"/>
<rect x="28.6" y="98.4" width="5.7" height="1.8" fill="#b50c08"/>
<rect x="33.8" y="98.4" width="5.7" height="1.8" fill="#981308"/>
<rect x="39.0" y="98.4" width="5.7" height="1.8" fill="#b70b08"/>
<rect x="44.1" y="98.4" width="5.7" height="1.8" fill="#244f08"/>
<rect x="49.3" y="98.4" width="5.7" height="1.8" fill="#283008"/>
<rect x="54.4" y="98.4" width="5.2" height="1.8" fill="#7d1a08"/>
<rect x="8.0" y="99.6" width="5.7" height="1.8" fill="#c30808"/>
<rect x="13.2" y="99.6" width="5.7" height="1.8" fill="#622108"/>
<rect x="18.3" y="99.6" width="5.7" height="1.8" fill="#2c3608"/>
<rect x="23.5" y="99.6" width="5.7" height="1.8" fill="#3e2a08"/>
<rect x="28.6" y="99.6" width="5.7" height="1.8" fill="#302908"/>
<rect x="33.8" y="99.6" width="5.7" height="1.8" fill="#2c3608"/>
<rect x="39.0" y="99.6" width="5.7" height="1.8" fill="#c30808"/>
<rect x="44.1" y="99.6" width="5.7" height="1.8" fill="#293008"/>
<rect x="49.3" y="99.6" width="5.7" height="1.8" fill="#5b2308"/>
<rect x="54.4" y="99.6" width="5.2" height="1.8" fill="#c30808"/>
<rect x="8.0" y="100.9" width="5.7" height="1.8" fill="#b50c08"/>
<rect x="13.2" y="100.9" width="5.7" height="1.8" fill="#741c08"/>
<rect x="18.3" y="100.9" width="5.7" height="1.8" fill="#2a2f08"/>
<rect x="23.5" y="100.9" width="5.7" height="1.8" fill="#791b08"/>
<rect x="28.6" y="100.9" width="5.7" height="1.8" fill="#c30808"/>
<rect x="33.8" y="100.9" width="5.7" height="1.8" fill="#8a1708"/>
<rect x="39.0" y="100.9" width="5.7" height="1.8" fill="#bb0a08"/>
<rect x="44.1" y="100.9" width="5.7" height="1.8" fill="#612108"/>
<rect x="49.3" y="100.9" width="5.7" height="1.8" fill="#821908"/>
<rect x="54.4" y="100.9" width="5.2" height="1.8" fill="#4a2708"/>
<rect x="8.0" y="102.2" width="5.7" height="1.8" fill="#7b1b08"/>
<rect x="13.2" y="102.2" width="5.7" height="1.8" fill="#be0908"/>
<rect x="18.3" y="102.2" width="5.7" height="1.8" fill="#205908"/>
<rect x="23.5" y="102.2" width="5.7" height="1.8" fill="#552408"/>
<rect x="28.6" y="102.2" width="5.7" height="1.8" fill="#6c1e08"/>
<rect x="33.8" y="102.2" width="5.7" height="1.8" fill="#2d2f08"/>
<rect x="39.0" y="102.2" width="5.7" height="1.8" fill="#422908"/>
<rect x="44.1" y="102.2" width="5.7" height="1.8" fill="#971308"/>
<rect x="49.3" y="102.2" width="5.7" height="1.8" fill="#c30808"/>
<rect x="54.4" y="102.2" width="5.2" height="1.8" fill="#8a1708"/>
<rect x="8.0" y="103.4" width="5.7" height="1.8" fill="#731d08"/>
<rect x="13.2" y="103.4" width="5.7" height="1.8" fill="#1e6108"/>
<rect x="18.3" y="103.4" width="5.7" height="1.8" fill="#c30808"/>
<rect x="23.5" y="103.4" width="5.7" height="1.8" fill="#602208"/>
<rect x="28.6" y="103.4" width="5.7" height="1.8" fill="#572408"/>
<rect x="33.8" y="103.4" width="5.7" height="1.8" fill="#264608"/>
<rect x="39.0" y="103.4" width="5.7" height="1.8" fill="#552408"/>
<rect x="44.1" y="103.4" width="5.7" height="1.8" fill="#274508"/>
<rect x="49.3" y="103.4" width="5.7" height="1.8" fill="#5f2208"/>
<rect x="54.4" y="103.4" width="5.2" height="1.8" fill="#7e1a08"/>
<rect x="8.0" y="104.7" width="5.7" height="1.8" fill="#5c2308"/>
<rect x="13.2" y="104.7" width="5.7" height="1.8" fill="#6f1e08"/>
<rect x="18.3" y="104.7" width="5.7" height="1.8" fill="#2c3508"/>
<rect x="23.5" y="104.7" width="5.7" height="1.8" fill="#c30808"/>
<rect x="28.6" y="104.7" width="5.7" height="1.8" fill="#302908"/>
<rect x="33.8" y="104.7" width="5.7" height="1.8" fill="#187208"/>
<rect x="39.0" y="104.7" width="5.7" height="1.8" fill="#4b2708"/>
<rect x="44.1" y="104.7" width="5.7" height="1.8" fill="#2e3008"/>
<rect x="49.3" y="104.7" width="5.7" height="1.8" fill="#293f08"/>
<rect x="54.4" y="104.7" width="5.2" height="1.8" fill="#3e2a08"/>
<rect x="8.0" y="106.0" width="5.7" height="1.8" fill="#701d08"/>
<rect x="13.2" y="106.0" width="5.7" height="1.8" fill="#254a08"/>
<rect x="18.3" y="106.0" width="5.7" height="1.8" fill="#4f2608"/>
<rect x="23.5" y="106.0" width="5.7" height="1.8" fill="#c30808"/>
<rect x="28.6" y="106.0" width="5.7" height="1.8" fill="#8f1608"/>
<rect x="33.8" y="106.0" width="5.7" height="1.8" fill="#4e2608"/>
<rect x="39.0" y="106.0" width="5.7" height="1.8" fill="#632108"/>
<rect x="44.1" y="106.0" width="5.7" height="1.8" fill="#502608"/>
<rect x="49.3" y="106.0" width="5.7" height="1.8" fill="#562408"/>
<rect x="54.4" y="106.0" width="5.2" height="1.8" fill="#921508"/>
<rect x="8.0" y="107.2" width="5.7" height="1.8" fill="#522508"/>
<rect x="13.2" y="107.2" width="5.7" height="1.8" fill="#0d9608"/>
<rect x="18.3" y="107.2" width="5.7" height="1.8" fill="#582408"/>
<rect x="23.5" y="107.2" width="5.7" height="1.8" fill="#2b3808"/>
<rect x="28.6" y="107.2" width="5.7" height="1.8" fill="#8c1608"/>
<rect x="33.8" y="107.2" width="5.7" height="1.8" fill="#2a2f08"/>
<rect x="39.0" y="107.2" width="5.7" height="1.8" fill="#652008"/>
<rect x="44.1" y="107.2" width="5.7" height="1.8" fill="#c30808"/>
<rect x="49.3" y="107.2" width="5.7" height="1.8" fill="#284108"/>
<rect x="54.4" y="107.2" width="5.2" height="1.8" fill="#264608"/>
<rect x="8.0" y="108.5" width="5.7" height="1.8" fill="#215808"/>
<rect x="13.2" y="108.5" width="5.7" height="1.8" fill="#0d9608"/>
<rect x="18.3" y="108.5" width="5.7" height="1.8" fill="#177508"/>
<rect x="23.5" y="108.5" width="5.7" height="1.8" fill="#761c08"/>
<rect x="28.6" y="108.5" width="5.7" height="1.8" fill="#283008"/>
<rect x="33.8" y="108.5" width="5.7" height="1.8" fill="#177508"/>
<rect x="39.0" y="108.5" width="5.7" height="1.8" fill="#1f5d08"/>
<rect x="44.1" y="108.5" width="5.7" height="1.8" fill="#891708"/>
<rect x="49.3" y="108.5" width="5.7" height="1.8" fill="#2d3008"/>
<rect x="54.4" y="108.5" width="5.2" height="1.8" fill="#3d2b08"/>
<rect x="8.0" y="109.8" width="5.7" height="1.8" fill="#731d08"/>
<rect x="13.2" y="109.8" width="5.7" height="1.8" fill="#c30808"/>
<rect x="18.3" y="109.8" width="5.7" height="1.8" fill="#c30808"/>
<rect x="23.5" y="109.8" width="5.7" height="1.8" fill="#aa0f08"/>
<rect x="28.6" y="109.8" width="5.7" height="1.8" fill="#652008"/>
<rect x="33.8" y="109.8" width="5.7" height="1.8" fill="#682008"/>
<rect x="39.0" y="109.8" width="5.7" height="1.8" fill="#c30808"/>
<rect x="44.1" y="109.8" width="5.7" height="1.8" fill="#c30808"/>
<rect x="49.3" y="109.8" width="5.7" height="1.8" fill="#422908"/>
<rect x="54.4" y="109.8" width="5.2" height="1.8" fill="#7d1a08"/>
<rect x="8.0" y="111.0" width="5.7" height="1.8" fill="#701d08"/>
<rect x="13.2" y="111.0" width="5.7" height="1.8" fill="#5e2208"/>
<rect x="18.3" y="111.0" width="5.7" height="1.8" fill="#332d08"/>
<rect x="23.5" y="111.0" width="5.7" height="1.8" fill="#225308"/>
<rect x="28.6" y="111.0" width="5.7" height="1.8" fill="#302e08"/>
<rect x="33.8" y="111.0" width="5.7" height="1.8" fill="#1e6108"/>
<rect x="39.0" y="111.0" width="5.7" height="1.8" fill="#b80b08"/>
<rect x="44.1" y="111.0" width="5.7" height="1.8" fill="#831808"/>
<rect x="49.3" y="111.0" width="5.7" height="1.8" fill="#254b08"/>
<rect x="54.4" y="111.0" width="5.2" height="1.8" fill="#c30808"/>
<rect x="8.0" y="112.3" width="5.7" height="1.8" fill="#9f1108"/>
<rect x="13.2" y="112.3" width="5.7" height="1.8" fill="#177708"/>
<rect x="18.3" y="112.3" width="5.7" height="1.8" fill="#c30808"/>
<rect x="23.5" y="112.3" width="5.7" height="1.8" fill="#981308"/>
<rect x="28.6" y="112.3" width="5.7" height="1.8" fill="#c30808"/>
<rect x="33.8" y="112.3" width="5.7" height="1.8" fill="#244d08"/>
<rect x="39.0" y="112.3" width="5.7" height="1.8" fill="#831908"/>
<rect x="44.1" y="112.3" width="5.7" height="1.8" fill="#7a1b08"/>
<rect x="49.3" y="112.3" width="5.7" height="1.8" fill="#691f08"/>
<rect x="54.4" y="112.3" width="5.2" height="1.8" fill="#672008"/>
<rect x="8.0" y="113.5" width="5.7" height="1.8" fill="#ab0e08"/>
<rect x="13.2" y="113.5" width="5.7" height="1.8" fill="#1f5d08"/>
<rect x="18.3" y="113.5" width="5.7" height="1.8" fill="#244e08"/>
<rect x="23.5" y="113.5" width="5.7" height="1.8" fill="#215708"/>
<rect x="28.6" y="113.5" width="5.7" height="1.8" fill="#2e2e08"/>
<rect x="33.8" y="113.5" width="5.7" height="1.8" fill="#2b2f08"/>
<rect x="39.0" y="113.5" width="5.7" height="1.8" fill="#761c08"/>
<rect x="44.1" y="113.5" width="5.7" height="1.8" fill="#6e1e08"/>
<rect x="49.3" y="113.5" width="5.7" height="1.8" fill="#5c2308"/>
<rect x="54.4" y="113.5" width="5.2" height="1.8" fill="#2f2a08"/>
<rect x="8.0" y="114.8" width="5.7" height="1.8" fill="#372c08"/>
<rect x="13.2" y="114.8" width="5.7" height="1.8" fill="#a31008"/>
<rect x="18.3" y="114.8" width="5.7" height="1.8" fill="#951408"/>
<rect x="23.5" y="114.8" width="5.7" height="1.8" fill="#612108"/>
<rect x="28.6" y="114.8" width="5.7" height="1.8" fill="#412a08"/>
<rect x="33.8" y="114.8" width="5.7" height="1.8" fill="#c30808"/>
<rect x="39.0" y="114.8" width="5.7" height="1.8" fill="#2c2f08"/>
<rect x="44.1" y="114.8" width="5.7" height="1.8" fill="#8c1608"/>
<rect x="49.3" y="114.8" width="5.7" height="1.8" fill="#b30c08"/>
<rect x="54.4" y="114.8" width="5.2" height="1.8" fill="#452908"/>
<rect x="8.0" y="116.1" width="5.7" height="1.8" fill="#9a1308"/>
<rect x="13.2" y="116.1" width="5.7" height="1.8" fill="#264608"/>
<rect x="18.3" y="116.1" width="5.7" height="1.8" fill="#a80f08"/>
<rect x="23.5" y="116.1" width="5.7" height="1.8" fill="#691f08"/>
<rect x="28.6" y="116.1" width="5.7" height="1.8" fill="#1d6308"/>
<rect x="33.8" y="116.1" width="5.7" height="1.8" fill="#8d1608"/>
<rect x="39.0" y="116.1" width="5.7" height="1.8" fill="#2b3808"/>
<rect x="44.1" y="116.1" width="5.7" height="1.8" fill="#bd0a08"/>
<rect x="49.3" y="116.1" width="5.7" height="1.8" fill="#2f2a08"/>
<rect x="54.4" y="116.1" width="5.2" height="1.8" fill="#4d2608"/>
<rect x="8.0" y="117.3" width="5.7" height="1.8" fill="#701e08"/>
<rect x="13.2" y="117.3" width="5.7" height="1.8" fill="#402a08"/>
<rect x="18.3" y="117.3" width="5.7" height="1.8" fill="#6e1e08"/>
<rect x="23.5" y="117.3" width="5.7" height="1.8" fill="#2f2e08"/>
<rect x="28.6" y="117.3" width="5.7" height="1.8" fill="#8e1608"/>
<rect x="33.8" y="117.3" width="5.7" height="1.8" fill="#5a2308"/>
<rect x="39.0" y="117.3" width="5.7" height="1.8" fill="#6a1f08"/>
<rect x="44.1" y="117.3" width="5.7" height="1.8" fill="#08a508"/>
<rect x="49.3" y="117.3" width="5.7" height="1.8" fill="#b40c08"/>
<rect x="54.4" y="117.3" width="5.2" height="1.8" fill="#5c2308"/>
<rect x="8.0" y="118.6" width="5.7" height="1.8" fill="#196f08"/>
<rect x="13.2" y="118.6" width="5.7" height="1.8" fill="#612108"/>
<rect x="18.3" y="118.6" width="5.7" height="1.8" fill="#7e1a08"/>
<rect x="23.5" y="118.6" width="5.7" height="1.8" fill="#ad0e08"/>
<rect x="28.6" y="118.6" width="5.7" height="1.8" fill="#274408"/>
<rect x="33.8" y="118.6" width="5.7" height="1.8" fill="#c30808"/>
<rect x="39.0" y="118.6" width="5.7" height="1.8" fill="#4d2608"/>
<rect x="44.1" y="118.6" width="5.7" height="1.8" fill="#c30808"/>
<rect x="49.3" y="118.6" width="5.7" height="1.8" fill="#4e2608"/>
<rect x="54.4" y="118.6" width="5.2" height="1.8" fill="#8e1608"/>
<rect x="8.0" y="119.9" width="5.7" height="1.8" fill="#3d2b08"/>
<rect x="13.2" y="119.9" width="5.7" height="1.8" fill="#264608"/>
<rect x="18.3" y="119.9" width="5.7" height="1.8" fill="#af0d08"/>
<rect x="23.5" y="119.9" width="5.7" height="1.8" fill="#a01108"/>
<rect x="28.6" y="119.9" width="5.7" height="1.8" fill="#c30808"/>
<rect x="33.8" y="119.9" width="5.7" height="1.8" fill="#9c1208"/>
<rect x="39.0" y="119.9" width="5.7" height="1.8" fill="#2d2f08"/>
<rect x="44.1" y="119.9" width="5.7" height="1.8" fill="#1c6808"/>
<rect x="49.3" y="119.9" width="5.7" height="1.8" fill="#302908"/>
<rect x="54.4" y="119.9" width="5.2" height="1.8" fill="#2f2a08"/>
<rect x="8.0" y="121.1" width="5.7" height="1.8" fill="#2c3308"/>
<rect x="13.2" y="121.1" width="5.7" height="1.8" fill="#871808"/>
<rect x="18.3" y="121.1" width="5.7" height="1.8" fill="#731d08"/>
<rect x="23.5" y="121.1" width="5.7" height="1.8" fill="#452908"/>
<rect x="28.6" y="121.1" width="5.7" height="1.8" fill="#672008"/>
<rect x="33.8" y="121.1" width="5.7" height="1.8" fill="#4e2608"/>
<rect x="39.0" y="121.1" width="5.7" height="1.8" fill="#6a1f08"/>
<rect x="44.1" y="121.1" width="5.7" height="1.8" fill="#941408"/>
<rect x="49.3" y="121.1" width="5.7" height="1.8" fill="#a41008"/>
<rect x="54.4" y="121.1" width="5.2" height="1.8" fill="#2f2b08"/>
<rect x="8.0" y="122.4" width="5.7" height="1.8" fill="#1f5e08"/>
<rect x="13.2" y="122.4" width="5.7" height="1.8" fill="#c30808"/>
<rect x="18.3" y="122.4" width="5.7" height="1.8" fill="#622108"/>
<rect x="23.5" y="122.4" width="5.7" height="1.8" fill="#af0d08"/>
<rect x="28.6" y="122.4" width="5.7" height="1.8" fill="#1c6708"/>
<rect x="33.8" y="122.4" width="5.7" height="1.8" fill="#402a08"/>
<rect x="39.0" y="122.4" width="5.7" height="1.8" fill="#5c2308"/>
<rect x="44.1" y="122.4" width="5.7" height="1.8" fill="#205a08"/>
<rect x="49.3" y="122.4" width="5.7" height="1.8" fill="#322e08"/>
<rect x="54.4" y="122.4" width="5.2" height="1.8" fill="#921508"/>
<rect x="8.0" y="123.7" width="5.7" height="1.8" fill="#ad0e08"/>
<rect x="13.2" y="123.7" width="5.7" height="1.8" fill="#c30808"/>
<rect x="18.3" y="123.7" width="5.7" height="1.8" fill="#2c3608"/>
<rect x="23.5" y="123.7" width="5.7" height="1.8" fill="#215808"/>
<rect x="28.6" y="123.7" width="5.7" height="1.8" fill="#821908"/>
<rect x="33.8" y="123.7" width="5.7" height="1.8" fill="#a21008"/>
<rect x="39.0" y="123.7" width="5.7" height="1.8" fill="#691f08"/>
<rect x="44.1" y="123.7" width="5.7" height="1.8" fill="#235108"/>
<rect x="49.3" y="123.7" width="5.7" height="1.8" fill="#961408"/>
<rect x="54.4" y="123.7" width="5.2" height="1.8" fill="#971308"/>
<rect x="8.0" y="124.9" width="5.7" height="1.8" fill="#841808"/>
<rect x="13.2" y="124.9" width="5.7" height="1.8" fill="#342d08"/>
<rect x="18.3" y="124.9" width="5.7" height="1.8" fill="#711d08"/>
<rect x="23.5" y="124.9" width="5.7" height="1.8" fill="#971308"/>
<rect x="28.6" y="124.9" width="5.7" height="1.8" fill="#2e2e08"/>
<rect x="33.8" y="124.9" width="5.7" height="1.8" fill="#187308"/>
<rect x="39.0" y="124.9" width="5.7" height="1.8" fill="#731d08"/>
<rect x="44.1" y="124.9" width="5.7" height="1.8" fill="#7f1a08"/>
<rect x="49.3" y="124.9" width="5.7" height="1.8" fill="#5b2308"/>
<rect x="54.4" y="124.9" width="5.2" height="1.8" fill="#9f1108"/>
<rect x="8.0" y="126.2" width="5.7" height="1.8" fill="#2c2f08"/>
<rect x="13.2" y="126.2" width="5.7" height="1.8" fill="#532508"/>
<rect x="18.3" y="126.2" width="5.7" height="1.8" fill="#422908"/>
<rect x="23.5" y="126.2" width="5.7" height="1.8" fill="#861808"/>
<rect x="28.6" y="126.2" width="5.7" height="1.8" fill="#c30808"/>
<rect x="33.8" y="126.2" width="5.7" height="1.8" fill="#462808"/>
<rect x="39.0" y="126.2" width="5.7" height="1.8" fill="#c30808"/>
<rect x="44.1" y="126.2" width="5.7" height="1.8" fill="#c30808"/>
<rect x="49.3" y="126.2" width="5.7" height="1.8" fill="#971308"/>
<rect x="54.4" y="126.2" width="5.2" height="1.8" fill="#871708"/>
<rect x="8.0" y="127.5" width="5.7" height="1.8" fill="#c30808"/>
<rect x="13.2" y="127.5" width="5.7" height="1.8" fill="#4c2708"/>
<rect x="18.3" y="127.5" width="5.7" height="1.8" fill="#512508"/>
<rect x="23.5" y="127.5" width="5.7" height="1.8" fill="#284208"/>
<rect x="28.6" y="127.5" width="5.7" height="1.8" fill="#7e1a08"/>
<rect x="33.8" y="127.5" width="5.7" height="1.8" fill="#c20808"/>
<rect x="39.0" y="127.5" width="5.7" height="1.8" fill="#831908"/>
<rect x="44.1" y="127.5" width="5.7" height="1.8" fill="#7a1b08"/>
<rect x="49.3" y="127.5" width="5.7" height="1.8" fill="#4a2708"/>
<rect x="54.4" y="127.5" width="5.2" height="1.8" fill="#672008"/>
<rect x="8.0" y="128.7" width="5.7" height="1.8" fill="#205908"/>
<rect x="13.2" y="128.7" width="5.7" height="1.8" fill="#ab0e08"/>
<rect x="18.3" y="128.7" width="5.7" height="1.8" fill="#3a2b08"/>
<rect x="23.5" y="128.7" width="5.7" height="1.8" fill="#274508"/>
<rect x="28.6" y="128.7" width="5.7" height="1.8" fill="#2e2f08"/>
<rect x="33.8" y="128.7" width="5.7" height="1.8" fill="#2c3408"/>
<rect x="39.0" y="128.7" width="5.7" height="1.8" fill="#9c1208"/>
<rect x="44.1" y="128.7" width="5.7" height="1.8" fill="#ac0e08"/>
<rect x="49.3" y="128.7" width="5.7" height="1.8" fill="#225508"/>
<rect x="54.4" y="128.7" width="5.2" height="1.8" fill="#a11108"/>
<rect x="8.0" y="130.0" width="5.7" height="1.8" fill="#9e1108"/>
<rect x="13.2" y="130.0" width="5.7" height="1.8" fill="#2d2f08"/>
<rect x="18.3" y="130.0" width="5.7" height="1.8" fill="#1f5d08"/>
<rect x="23.5" y="130.0" width="5.7" height="1.8" fill="#2e2f08"/>
<rect x="28.6" y="130.0" width="5.7" height="1.8" fill="#283008"/>
<rect x="33.8" y="130.0" width="5.7" height="1.8" fill="#741c08"/>
<rect x="39.0" y="130.0" width="5.7" height="1.8" fill="#3e2a08"/>
<rect x="44.1" y="130.0" width="5.7" height="1.8" fill="#147f08"/>
<rect x="49.3" y="130.0" width="5.7" height="1.8" fill="#6c1f08"/>
<rect x="54.4" y="130.0" width="5.2" height="1.8" fill="#1e6008"/>
<rect x="8.0" y="131.2" width="5.7" height="1.8" fill="#a01108"/>
<rect x="13.2" y="131.2" width="5.7" height="1.8" fill="#254b08"/>
<rect x="18.3" y="131.2" width="5.7" height="1.8" fill="#2f2b08"/>
<rect x="23.5" y="131.2" width="5.7" height="1.8" fill="#2c3508"/>
<rect x="28.6" y="131.2" width="5.7" height="1.8" fill="#302e08"/>
<rect x="33.8" y="131.2" width="5.7" height="1.8" fill="#be0908"/>
<rect x="39.0" y="131.2" width="5.7" height="1.8" fill="#9c1208"/>
<rect x="44.1" y="131.2" width="5.7" height="1.8" fill="#881708"/>
<rect x="49.3" y="131.2" width="5.7" height="1.8" fill="#721d08"/>
<rect x="54.4" y="131.2" width="5.2" height="1.8" fill="#1e6108"/>
<rect x="8.0" y="132.5" width="5.7" height="1.8" fill="#312e08"/>
<rect x="13.2" y="132.5" width="5.7" height="1.8" fill="#2f2e08"/>
<rect x="18.3" y="132.5" width="5.7" height="1.8" fill="#293d08"/>
<rect x="23.5" y="132.5" width="5.7" height="1.8" fill="#811908"/>
<rect x="28.6" y="132.5" width="5.7" height="1.8" fill="#2e2e08"/>
<rect x="33.8" y="132.5" width="5.7" height="1.8" fill="#2f2c08"/>
<rect x="39.0" y="132.5" width="5.7" height="1.8" fill="#284108"/>
<rect x="44.1" y="132.5" width="5.7" height="1.8" fill="#148108"/>
<rect x="49.3" y="132.5" width="5.7" height="1.8" fill="#881708"/>
<rect x="54.4" y="132.5" width="5.2" height="1.8" fill="#c10908"/>
<rect x="8.0" y="133.8" width="5.7" height="1.8" fill="#672008"/>
<rect x="13.2" y="133.8" width="5.7" height="1.8" fill="#293d08"/>
<rect x="18.3" y="133.8" width="5.7" height="1.8" fill="#08a508"/>
<rect x="23.5" y="133.8" width="5.7" height="1.8" fill="#672008"/>
<rect x="28.6" y="133.8" width="5.7" height="1.8" fill="#b80b08"/>
<rect x="33.8" y="133.8" width="5.7" height="1.8" fill="#711d08"/>
<rect x="39.0" y="133.8" width="5.7" height="1.8" fill="#a11108"/>
<rect x="44.1" y="133.8" width="5.7" height="1.8" fill="#c30808"/>
<rect x="49.3" y="133.8" width="5.7" height="1.8" fill="#b10d08"/>
<rect x="54.4" y="133.8" width="5.2" height="1.8" fill="#372c08"/>
<rect x="8.0" y="135.0" width="5.7" height="1.3" fill="#ab0e08"/>
<rect x="13.2" y="135.0" width="5.7" height="1.3" fill="#961408"/>
<rect x="18.3" y="135.0" width="5.7" height="1.3" fill="#1e6008"/>
<rect x="23.5" y="135.0" width="5.7" height="1.3" fill="#3a2b08"/>
<rect x="28.6" y="135.0" width="5.7" height="1.3" fill="#205908"/>
<rect x="33.8" y="135.0" width="5.7" height="1.3" fill="#512508"/>
<rect x="39.0" y="135.0" width="5.7" height="1.3" fill="#861808"/>
<rect x="44.1" y="135.0" width="5.7" height="1.3" fill="#274308"/>
<rect x="49.3" y="135.0" width="5.7" height="1.3" fill="#148008"/>
<rect x="54.4" y="135.0" width="5.2" height="1.3" fill="#be0908"/>
<rect x="60.8" y="83.2" width="56.5" height="53.1" fill="#1e6008"/>
<rect x="60.8" y="83.2" width="5.6" height="1.8" fill="#264908"/>
<rect x="65.9" y="83.2" width="5.6" height="1.8" fill="#542508"/>
<rect x="71.1" y="83.2" width="5.6" height="1.8" fill="#08a508"/>
<rect x="76.2" y="83.2" width="5.6" height="1.8" fill="#342d08"/>
<rect x="81.3" y="83.2" width="5.6" height="1.8" fill="#831908"/>
<rect x="86.5" y="83.2" width="5.6" height="1.8" fill="#7e1a08"/>
<rect x="91.6" y="83.2" width="5.6" height="1.8" fill="#1a6d08"/>
<rect x="96.8" y="83.2" width="5.6" height="1.8" fill="#234f08"/>
<rect x="101.9" y="83.2" width="5.6" height="1.8" fill="#1b6a08"/>
<rect x="107.0" y="83.2" width="5.6" height="1.8" fill="#302e08"/>
<rect x="112.2" y="83.2" width="5.1" height="1.8" fill="#332d08"/>
<rect x="60.8" y="84.5" width="5.6" height="1.8" fill="#205b08"/>
<rect x="65.9" y="84.5" width="5.6" height="1.8" fill="#08a508"/>
<rect x="71.1" y="84.5" width="5.6" height="1.8" fill="#2d3208"/>
<rect x="76.2" y="84.5" width="5.6" height="1.8" fill="#157e08"/>
<rect x="81.3" y="84.5" width="5.6" height="1.8" fill="#2b3908"/>
<rect x="86.5" y="84.5" width="5.6" height="1.8" fill="#235008"/>
<rect x="91.6" y="84.5" width="5.6" height="1.8" fill="#602208"/>
<rect x="96.8" y="84.5" width="5.6" height="1.8" fill="#3a2b08"/>
<rect x="101.9" y="84.5" width="5.6" height="1.8" fill="#157c08"/>
<rect x="107.0" y="84.5" width="5.6" height="1.8" fill="#254a08"/>
<rect x="112.2" y="84.5" width="5.1" height="1.8" fill="#6b1f08"/>
<rect x="60.8" y="85.7" width="5.6" height="1.8" fill="#138208"/>
<rect x="65.9" y="85.7" width="5.6" height="1.8" fill="#274508"/>
<rect x="71.1" y="85.7" width="5.6" height="1.8" fill="#3f2a08"/>
<rect x="76.2" y="85.7" width="5.6" height="1.8" fill="#442908"/>
<rect x="81.3" y="85.7" width="5.6" height="1.8" fill="#284008"/>
<rect x="86.5" y="85.7" width="5.6" height="1.8" fill="#08a508"/>
<rect x="91.6" y="85.7" width="5.6" height="1.8" fill="#08a508"/>
<rect x="96.8" y="85.7" width="5.6" height="1.8" fill="#235108"/>
<rect x="101.9" y="85.7" width="5.6" height="1.8" fill="#264808"/>
<rect x="107.0" y="85.7" width="5.6" height="1.8" fill="#a80f08"/>
<rect x="112.2" y="85.7" width="5.1" height="1.8" fill="#0d9608"/>
<rect x="60.8" y="87.0" width="5.6" height="1.8" fill="#3a2b08"/>
<rect x="65.9" y="87.0" width="5.6" height="1.8" fill="#2d3008"/>
<rect x="71.1" y="87.0" width="5.6" height="1.8" fill="#08a508"/>
<rect x="76.2" y="87.0" width="5.6" height="1.8" fill="#0e9308"/>
<rect x="81.3" y="87.0" width="5.6" height="1.8" fill="#215608"/>
<rect x="86.5" y="87.0" width="5.6" height="1.8" fill="#147f08"/>
<rect x="91.6" y="87.0" width="5.6" height="1.8" fill="#1b6a08"/>
<rect x="96.8" y="87.0" width="5.6" height="1.8" fill="#274308"/>
<rect x="101.9" y="87.0" width="5.6" height="1.8" fill="#0e9308"/>
<rect x="107.0" y="87.0" width="5.6" height="1.8" fill="#274308"/>
<rect x="112.2" y="87.0" width="5.1" height="1.8" fill="#118808"/>
<rect x="60.8" y="88.3" width="5.6" height="1.8" fill="#138208"/>
<rect x="65.9" y="88.3" width="5.6" height="1.8" fill="#293f08"/>
<rect x="71.1" y="88.3" width="5.6" height="1.8" fill="#138408"/>
<rect x="76.2" y="88.3" width="5.6" height="1.8" fill="#244e08"/>
<rect x="81.3" y="88.3" width="5.6" height="1.8" fill="#5e2208"/>
<rect x="86.5" y="88.3" width="5.6" height="1.8" fill="#1f5f08"/>
<rect x="91.6" y="88.3" width="5.6" height="1.8" fill="#1b6908"/>
<rect x="96.8" y="88.3" width="5.6" height="1.8" fill="#2d3208"/>
<rect x="101.9" y="88.3" width="5.6" height="1.8" fill="#177708"/>
<rect x="107.0" y="88.3" width="5.6" height="1.8" fill="#362c08"/>
<rect x="112.2" y="88.3" width="5.1" height="1.8" fill="#08a508"/>
<rect x="60.8" y="89.5" width="5.6" height="1.8" fill="#2a3a08"/>
<rect x="65.9" y="89.5" width="5.6" height="1.8" fill="#148008"/>
<rect x="71.1" y="89.5" width="5.6" height="1.8" fill="#0e9208"/>
<rect x="76.2" y="89.5" width="5.6" height="1.8" fill="#6b1f08"/>
<rect x="81.3" y="89.5" width="5.6" height="1.8" fill="#0d9508"/>
<rect x="86.5" y="89.5" width="5.6" height="1.8" fill="#6a1f08"/>
<rect x="91.6" y="89.5" width="5.6" height="1.8" fill="#2b3708"/>
<rect x="96.8" y="89.5" width="5.6" height="1.8" fill="#532508"/>
<rect x="101.9" y="89.5" width="5.6" height="1.8" fill="#0a9d08"/>
<rect x="107.0" y="89.5" width="5.6" height="1.8" fill="#3f2a08"/>
<rect x="112.2" y="89.5" width="5.1" height="1.8" fill="#532508"/>
<rect x="60.8" y="90.8" width="5.6" height="1.8" fill="#1c6808"/>
<rect x="65.9" y="90.8" width="5.6" height="1.8" fill="#1b6808"/>
<rect x="71.1" y="90.8" width="5.6" height="1.8" fill="#a11108"/>
<rect x="76.2" y="90.8" width="5.6" height="1.8" fill="#225508"/>
<rect x="81.3" y="90.8" width="5.6" height="1.8" fill="#167b08"/>
<rect x="86.5" y="90.8" width="5.6" height="1.8" fill="#118808"/>
<rect x="91.6" y="90.8" width="5.6" height="1.8" fill="#274408"/>
<rect x="96.8" y="90.8" width="5.6" height="1.8" fill="#254c08"/>
<rect x="101.9" y="90.8" width="5.6" height="1.8" fill="#225508"/>
<rect x="107.0" y="90.8" width="5.6" height="1.8" fill="#682008"/>
<rect x="112.2" y="90.8" width="5.1" height="1.8" fill="#177508"/>
<rect x="60.8" y="92.1" width="5.6" height="1.8" fill="#274308"/>
<rect x="65.9" y="92.1" width="5.6" height="1.8" fill="#532508"/>
<rect x="71.1" y="92.1" width="5.6" height="1.8" fill="#0a9f08"/>
<rect x="76.2" y="92.1" width="5.6" height="1.8" fill="#332d08"/>
<rect x="81.3" y="92.1" width="5.6" height="1.8" fill="#701d08"/>
<rect x="86.5" y="92.1" width="5.6" height="1.8" fill="#08a508"/>
<rect x="91.6" y="92.1" width="5.6" height="1.8" fill="#08a508"/>
<rect x="96.8" y="92.1" width="5.6" height="1.8" fill="#09a108"/>
<rect x="101.9" y="92.1" width="5.6" height="1.8" fill="#08a508"/>
<rect x="107.0" y="92.1" width="5.6" height="1.8" fill="#274408"/>
<rect x="112.2" y="92.1" width="5.1" height="1.8" fill="#08a508"/>
<rect x="60.8" y="93.3" width="5.6" height="1.8" fill="#284108"/>
<rect x="65.9" y="93.3" width="5.6" height="1.8" fill="#532508"/>
<rect x="71.1" y="93.3" width="5.6" height="1.8" fill="#08a508"/>
<rect x="76.2" y="93.3" width="5.6" height="1.8" fill="#187408"/>
<rect x="81.3" y="93.3" width="5.6" height="1.8" fill="#08a508"/>
<rect x="86.5" y="93.3" width="5.6" height="1.8" fill="#2e3008"/>
<rect x="91.6" y="93.3" width="5.6" height="1.8" fill="#0f8e08"/>
<rect x="96.8" y="93.3" width="5.6" height="1.8" fill="#197108"/>
<rect x="101.9" y="93.3" width="5.6" height="1.8" fill="#1f5d08"/>
<rect x="107.0" y="93.3" width="5.6" height="1.8" fill="#293e08"/>
<rect x="112.2" y="93.3" width="5.1" height="1.8" fill="#177608"/>
<rect x="60.8" y="94.6" width="5.6" height="1.8" fill="#1e5f08"/>
<rect x="65.9" y="94.6" width="5.6" height="1.8" fill="#138208"/>
<rect x="71.1" y="94.6" width="5.6" height="1.8" fill="#205908"/>
<rect x="76.2" y="94.6" width="5.6" height="1.8" fill="#08a508"/>
<rect x="81.3" y="94.6" width="5.6" height="1.8" fill="#1f5c08"/>
<rect x="86.5" y="94.6" width="5.6" height="1.8" fill="#08a508"/>
<rect x="91.6" y="94.6" width="5.6" height="1.8" fill="#147f08"/>
<rect x="96.8" y="94.6" width="5.6" height="1.8" fill="#771c08"/>
<rect x="101.9" y="94.6" width="5.6" height="1.8" fill="#205b08"/>
<rect x="107.0" y="94.6" width="5.6" height="1.8" fill="#08a508"/>
<rect x="112.2" y="94.6" width="5.1" height="1.8" fill="#235008"/>
<rect x="60.8" y="95.8" width="5.6" height="1.8" fill="#0b9d08"/>
<rect x="65.9" y="95.8" width="5.6" height="1.8" fill="#08a508"/>
<rect x="71.1" y="95.8" width="5.6" height="1.8" fill="#0f8e08"/>
<rect x="76.2" y="95.8" width="5.6" height="1.8" fill="#2d3208"/>
<rect x="81.3" y="95.8" width="5.6" height="1.8" fill="#264808"/>
<rect x="86.5" y="95.8" width="5.6" height="1.8" fill="#1c6608"/>
<rect x="91.6" y="95.8" width="5.6" height="1.8" fill="#0b9a08"/>
<rect x="96.8" y="95.8" width="5.6" height="1.8" fill="#08a408"/>
<rect x="101.9" y="95.8" width="5.6" height="1.8" fill="#4b2708"/>
<rect x="107.0" y="95.8" width="5.6" height="1.8" fill="#235108"/>
<rect x="112.2" y="95.8" width="5.1" height="1.8" fill="#0b9c08"/>
<rect x="60.8" y="97.1" width="5.6" height="1.8" fill="#08a508"/>
<rect x="65.9" y="97.1" width="5.6" height="1.8" fill="#08a508"/>
<rect x="71.1" y="97.1" width="5.6" height="1.8" fill="#a21008"/>
<rect x="76.2" y="97.1" width="5.6" height="1.8" fill="#08a508"/>
<rect x="81.3" y="97.1" width="5.6" height="1.8" fill="#1c6508"/>
<rect x="86.5" y="97.1" width="5.6" height="1.8" fill="#225308"/>
<rect x="91.6" y="97.1" width="5.6" height="1.8" fill="#1b6a08"/>
<rect x="96.8" y="97.1" width="5.6" height="1.8" fill="#187208"/>
<rect x="101.9" y="97.1" width="5.6" height="1.8" fill="#08a508"/>
<rect x="107.0" y="97.1" width="5.6" height="1.8" fill="#09a208"/>
<rect x="112.2" y="97.1" width="5.1" height="1.8" fill="#652008"/>
<rect x="60.8" y="98.4" width="5.6" height="1.8" fill="#0f9008"/>
<rect x="65.9" y="98.4" width="5.6" height="1.8" fill="#2f2b08"/>
<rect x="71.1" y="98.4" width="5.6" height="1.8" fill="#08a508"/>
<rect x="76.2" y="98.4" width="5.6" height="1.8" fill="#197108"/>
<rect x="81.3" y="98.4" width="5.6" height="1.8" fill="#235008"/>
<rect x="86.5" y="98.4" width="5.6" height="1.8" fill="#332d08"/>
<rect x="91.6" y="98.4" width="5.6" height="1.8" fill="#08a508"/>
<rect x="96.8" y="98.4" width="5.6" height="1.8" fill="#2a3b08"/>
<rect x="101.9" y="98.4" width="5.6" height="1.8" fill="#264808"/>
<rect x="107.0" y="98.4" width="5.6" height="1.8" fill="#0f8e08"/>
<rect x="112.2" y="98.4" width="5.1" height="1.8" fill="#284208"/>
<rect x="60.8" y="99.6" width="5.6" height="1.8" fill="#0c9808"/>
<rect x="65.9" y="99.6" width="5.6" height="1.8" fill="#0e9208"/>
<rect x="71.1" y="99.6" width="5.6" height="1.8" fill="#1e6108"/>
<rect x="76.2" y="99.6" width="5.6" height="1.8" fill="#08a508"/>
<rect x="81.3" y="99.6" width="5.6" height="1.8" fill="#1c6708"/>
<rect x="86.5" y="99.6" width="5.6" height="1.8" fill="#0a9f08"/>
<rect x="91.6" y="99.6" width="5.6" height="1.8" fill="#08a508"/>
<rect x="96.8" y="99.6" width="5.6" height="1.8" fill="#157b08"/>
<rect x="101.9" y="99.6" width="5.6" height="1.8" fill="#2d3108"/>
<rect x="107.0" y="99.6" width="5.6" height="1.8" fill="#167a08"/>
<rect x="112.2" y="99.6" width="5.1" height="1.8" fill="#442908"/>
<rect x="60.8" y="100.9" width="5.6" height="1.8" fill="#08a508"/>
<rect x="65.9" y="100.9" width="5.6" height="1.8" fill="#08a508"/>
<rect x="71.1" y="100.9" width="5.6" height="1.8" fill="#5a2308"/>
<rect x="76.2" y="100.9" width="5.6" height="1.8" fill="#264708"/>
<rect x="81.3" y="100.9" width="5.6" height="1.8" fill="#2b2f08"/>
<rect x="86.5" y="100.9" width="5.6" height="1.8" fill="#0d9408"/>
<rect x="91.6" y="100.9" width="5.6" height="1.8" fill="#2e2e08"/>
<rect x="96.8" y="100.9" width="5.6" height="1.8" fill="#235008"/>
<rect x="101.9" y="100.9" width="5.6" height="1.8" fill="#2b3808"/>
<rect x="107.0" y="100.9" width="5.6" height="1.8" fill="#1f5f08"/>
<rect x="112.2" y="100.9" width="5.1" height="1.8" fill="#402a08"/>
<rect x="60.8" y="102.2" width="5.6" height="1.8" fill="#118908"/>
<rect x="65.9" y="102.2" width="5.6" height="1.8" fill="#0b9c08"/>
<rect x="71.1" y="102.2" width="5.6" height="1.8" fill="#08a508"/>
<rect x="76.2" y="102.2" width="5.6" height="1.8" fill="#3c2b08"/>
<rect x="81.3" y="102.2" width="5.6" height="1.8" fill="#0f8e08"/>
<rect x="86.5" y="102.2" width="5.6" height="1.8" fill="#09a108"/>
<rect x="91.6" y="102.2" width="5.6" height="1.8" fill="#0b9b08"/>
<rect x="96.8" y="102.2" width="5.6" height="1.8" fill="#157c08"/>
<rect x="101.9" y="102.2" width="5.6" height="1.8" fill="#08a508"/>
<rect x="107.0" y="102.2" width="5.6" height="1.8" fill="#187208"/>
<rect x="112.2" y="102.2" width="5.1" height="1.8" fill="#118708"/>
<rect x="60.8" y="103.4" width="5.6" height="1.8" fill="#138308"/>
<rect x="65.9" y="103.4" width="5.6" height="1.8" fill="#0b9c08"/>
<rect x="71.1" y="103.4" width="5.6" height="1.8" fill="#1f5e08"/>
<rect x="76.2" y="103.4" width="5.6" height="1.8" fill="#157d08"/>
<rect x="81.3" y="103.4" width="5.6" height="1.8" fill="#205908"/>
<rect x="86.5" y="103.4" width="5.6" height="1.8" fill="#235108"/>
<rect x="91.6" y="103.4" width="5.6" height="1.8" fill="#254b08"/>
<rect x="96.8" y="103.4" width="5.6" height="1.8" fill="#08a508"/>
<rect x="101.9" y="103.4" width="5.6" height="1.8" fill="#138208"/>
<rect x="107.0" y="103.4" width="5.6" height="1.8" fill="#0e9208"/>
<rect x="112.2" y="103.4" width="5.1" height="1.8" fill="#2d3008"/>
<rect x="60.8" y="104.7" width="5.6" height="1.8" fill="#08a508"/>
<rect x="65.9" y="104.7" width="5.6" height="1.8" fill="#108d08"/>
<rect x="71.1" y="104.7" width="5.6" height="1.8" fill="#187308"/>
<rect x="76.2" y="104.7" width="5.6" height="1.8" fill="#177508"/>
<rect x="81.3" y="104.7" width="5.6" height="1.8" fill="#2f2e08"/>
<rect x="86.5" y="104.7" width="5.6" height="1.8" fill="#157c08"/>
<rect x="91.6" y="104.7" width="5.6" height="1.8" fill="#2d2f08"/>
<rect x="96.8" y="104.7" width="5.6" height="1.8" fill="#08a508"/>
<rect x="101.9" y="104.7" width="5.6" height="1.8" fill="#08a508"/>
<rect x="107.0" y="104.7" width="5.6" height="1.8" fill="#412a08"/>
<rect x="112.2" y="104.7" width="5.1" height="1.8" fill="#274508"/>
<rect x="60.8" y="106.0" width="5.6" height="1.8" fill="#284208"/>
<rect x="65.9" y="106.0" width="5.6" height="1.8" fill="#205908"/>
<rect x="71.1" y="106.0" width="5.6" height="1.8" fill="#284208"/>
<rect x="76.2" y="106.0" width="5.6" height="1.8" fill="#08a508"/>
<rect x="81.3" y="106.0" width="5.6" height="1.8" fill="#2c2f08"/>
<rect x="86.5" y="106.0" width="5.6" height="1.8" fill="#138208"/>
<rect x="91.6" y="106.0" width="5.6" height="1.8" fill="#2f2e08"/>
<rect x="96.8" y="106.0" width="5.6" height="1.8" fill="#205b08"/>
<rect x="101.9" y="106.0" width="5.6" height="1.8" fill="#08a508"/>
<rect x="107.0" y="106.0" width="5.6" height="1.8" fill="#08a508"/>
<rect x="112.2" y="106.0" width="5.1" height="1.8" fill="#3a2b08"/>
<rect x="60.8" y="107.2" width="5.6" height="1.8" fill="#1b6908"/>
<rect x="65.9" y="107.2" width="5.6" height="1.8" fill="#167908"/>
<rect x="71.1" y="107.2" width="5.6" height="1.8" fill="#235108"/>
<rect x="76.2" y="107.2" width="5.6" height="1.8" fill="#157b08"/>
<rect x="81.3" y="107.2" width="5.6" height="1.8" fill="#138208"/>
<rect x="86.5" y="107.2" width="5.6" height="1.8" fill="#205a08"/>
<rect x="91.6" y="107.2" width="5.6" height="1.8" fill="#215708"/>
<rect x="96.8" y="107.2" width="5.6" height="1.8" fill="#582408"/>
<rect x="101.9" y="107.2" width="5.6" height="1.8" fill="#1f5d08"/>
<rect x="107.0" y="107.2" width="5.6" height="1.8" fill="#741c08"/>
<rect x="112.2" y="107.2" width="5.1" height="1.8" fill="#6e1e08"/>
<rect x="60.8" y="108.5" width="5.6" height="1.8" fill="#672008"/>
<rect x="65.9" y="108.5" width="5.6" height="1.8" fill="#352d08"/>
<rect x="71.1" y="108.5" width="5.6" height="1.8" fill="#215808"/>
<rect x="76.2" y="108.5" width="5.6" height="1.8" fill="#215808"/>
<rect x="81.3" y="108.5" width="5.6" height="1.8" fill="#1b6908"/>
<rect x="86.5" y="108.5" width="5.6" height="1.8" fill="#0f8e08"/>
<rect x="91.6" y="108.5" width="5.6" height="1.8" fill="#1d6408"/>
<rect x="96.8" y="108.5" width="5.6" height="1.8" fill="#118808"/>
<rect x="101.9" y="108.5" width="5.6" height="1.8" fill="#612108"/>
<rect x="107.0" y="108.5" width="5.6" height="1.8" fill="#293f08"/>
<rect x="112.2" y="108.5" width="5.1" height="1.8" fill="#157c08"/>
<rect x="60.8" y="109.8" width="5.6" height="1.8" fill="#08a508"/>
<rect x="65.9" y="109.8" width="5.6" height="1.8" fill="#1d6408"/>
<rect x="71.1" y="109.8" width="5.6" height="1.8" fill="#167a08"/>
<rect x="76.2" y="109.8" width="5.6" height="1.8" fill="#08a408"/>
<rect x="81.3" y="109.8" width="5.6" height="1.8" fill="#08a508"/>
<rect x="86.5" y="109.8" width="5.6" height="1.8" fill="#08a508"/>
<rect x="91.6" y="109.8" width="5.6" height="1.8" fill="#293d08"/>
<rect x="96.8" y="109.8" width="5.6" height="1.8" fill="#1d6408"/>
<rect x="101.9" y="109.8" width="5.6" height="1.8" fill="#aa0e08"/>
<rect x="107.0" y="109.8" width="5.6" height="1.8" fill="#1d6208"/>
<rect x="112.2" y="109.8" width="5.1" height="1.8" fill="#1b6a08"/>
<rect x="60.8" y="111.0" width="5.6" height="1.8" fill="#522508"/>
<rect x="65.9" y="111.0" width="5.6" height="1.8" fill="#215808"/>
<rect x="71.1" y="111.0" width="5.6" height="1.8" fill="#215608"/>
<rect x="76.2" y="111.0" width="5.6" height="1.8" fill="#177708"/>
<rect x="81.3" y="111.0" width="5.6" height="1.8" fill="#128608"/>
<rect x="86.5" y="111.0" width="5.6" height="1.8" fill="#562408"/>
<rect x="91.6" y="111.0" width="5.6" height="1.8" fill="#302e08"/>
<rect x="96.8" y="111.0" width="5.6" height="1.8" fill="#672008"/>
<rect x="101.9" y="111.0" width="5.6" height="1.8" fill="#177608"/>
<rect x="107.0" y="111.0" width="5.6" height="1.8" fill="#1f5e08"/>
<rect x="112.2" y="111.0" width="5.1" height="1.8" fill="#0c9708"/>
<rect x="60.8" y="112.3" width="5.6" height="1.8" fill="#2d2f08"/>
<rect x="65.9" y="112.3" width="5.6" height="1.8" fill="#08a508"/>
<rect x="71.1" y="112.3" width="5.6" height="1.8" fill="#293d08"/>
<rect x="76.2" y="112.3" width="5.6" height="1.8" fill="#372c08"/>
<rect x="81.3" y="112.3" width="5.6" height="1.8" fill="#502608"/>
<rect x="86.5" y="112.3" width="5.6" height="1.8" fill="#0b9b08"/>
<rect x="91.6" y="112.3" width="5.6" height="1.8" fill="#372c08"/>
<rect x="96.8" y="112.3" width="5.6" height="1.8" fill="#108d08"/>
<rect x="101.9" y="112.3" width="5.6" height="1.8" fill="#0f9008"/>
<rect x="107.0" y="112.3" width="5.6" height="1.8" fill="#08a508"/>
<rect x="112.2" y="112.3" width="5.1" height="1.8" fill="#3c2b08"/>
<rect x="60.8" y="113.5" width="5.6" height="1.8" fill="#622108"/>
<rect x="65.9" y="113.5" width="5.6" height="1.8" fill="#128508"/>
<rect x="71.1" y="113.5" width="5.6" height="1.8" fill="#0f9008"/>
<rect x="76.2" y="113.5" width="5.6" height="1.8" fill="#177508"/>
<rect x="81.3" y="113.5" width="5.6" height="1.8" fill="#a51008"/>
<rect x="86.5" y="113.5" width="5.6" height="1.8" fill="#302e08"/>
<rect x="91.6" y="113.5" width="5.6" height="1.8" fill="#138208"/>
<rect x="96.8" y="113.5" width="5.6" height="1.8" fill="#08a508"/>
<rect x="101.9" y="113.5" width="5.6" height="1.8" fill="#118a08"/>
<rect x="107.0" y="113.5" width="5.6" height="1.8" fill="#3e2a08"/>
<rect x="112.2" y="113.5" width="5.1" height="1.8" fill="#731d08"/>
<rect x="60.8" y="114.8" width="5.6" height="1.8" fill="#197108"/>
<rect x="65.9" y="114.8" width="5.6" height="1.8" fill="#108b08"/>
<rect x="71.1" y="114.8" width="5.6" height="1.8" fill="#148008"/>
<rect x="76.2" y="114.8" width="5.6" height="1.8" fill="#08a508"/>
<rect x="81.3" y="114.8" width="5.6" height="1.8" fill="#293008"/>
<rect x="86.5" y="114.8" width="5.6" height="1.8" fill="#08a408"/>
<rect x="91.6" y="114.8" width="5.6" height="1.8" fill="#352d08"/>
<rect x="96.8" y="114.8" width="5.6" height="1.8" fill="#08a508"/>
<rect x="101.9" y="114.8" width="5.6" height="1.8" fill="#08a508"/>
<rect x="107.0" y="114.8" width="5.6" height="1.8" fill="#244e08"/>
<rect x="112.2" y="114.8" width="5.1" height="1.8" fill="#0f9008"/>
<rect x="60.8" y="116.1" width="5.6" height="1.8" fill="#2e2f08"/>
<rect x="65.9" y="116.1" width="5.6" height="1.8" fill="#1e6008"/>
<rect x="71.1" y="116.1" width="5.6" height="1.8" fill="#08a508"/>
<rect x="76.2" y="116.1" width="5.6" height="1.8" fill="#2a3908"/>
<rect x="81.3" y="116.1" width="5.6" height="1.8" fill="#2f2c08"/>
<rect x="86.5" y="116.1" width="5.6" height="1.8" fill="#08a508"/>
<rect x="91.6" y="116.1" width="5.6" height="1.8" fill="#701d08"/>
<rect x="96.8" y="116.1" width="5.6" height="1.8" fill="#284108"/>
<rect x="101.9" y="116.1" width="5.6" height="1.8" fill="#2d3108"/>
<rect x="107.0" y="116.1" width="5.6" height="1.8" fill="#08a508"/>
<rect x="112.2" y="116.1" width="5.1" height="1.8" fill="#108d08"/>
<rect x="60.8" y="117.3" width="5.6" height="1.8" fill="#177608"/>
<rect x="65.9" y="117.3" width="5.6" height="1.8" fill="#362c08"/>
<rect x="71.1" y="117.3" width="5.6" height="1.8" fill="#08a508"/>
<rect x="76.2" y="117.3" width="5.6" height="1.8" fill="#0c9708"/>
<rect x="81.3" y="117.3" width="5.6" height="1.8" fill="#08a508"/>
<rect x="86.5" y="117.3" width="5.6" height="1.8" fill="#196f08"/>
<rect x="91.6" y="117.3" width="5.6" height="1.8" fill="#254b08"/>
<rect x="96.8" y="117.3" width="5.6" height="1.8" fill="#08a508"/>
<rect x="101.9" y="117.3" width="5.6" height="1.8" fill="#128508"/>
<rect x="107.0" y="117.3" width="5.6" height="1.8" fill="#284008"/>
<rect x="112.2" y="117.3" width="5.1" height="1.8" fill="#5d2208"/>
<rect x="60.8" y="118.6" width="5.6" height="1.8" fill="#2b3708"/>
<rect x="65.9" y="118.6" width="5.6" height="1.8" fill="#187308"/>
<rect x="71.1" y="118.6" width="5.6" height="1.8" fill="#08a508"/>
<rect x="76.2" y="118.6" width="5.6" height="1.8" fill="#0b9b08"/>
<rect x="81.3" y="118.6" width="5.6" height="1.8" fill="#118a08"/>
<rect x="86.5" y="118.6" width="5.6" height="1.8" fill="#215708"/>
<rect x="91.6" y="118.6" width="5.6" height="1.8" fill="#1d6308"/>
<rect x="96.8" y="118.6" width="5.6" height="1.8" fill="#632108"/>
<rect x="101.9" y="118.6" width="5.6" height="1.8" fill="#244e08"/>
<rect x="107.0" y="118.6" width="5.6" height="1.8" fill="#09a308"/>
<rect x="112.2" y="118.6" width="5.1" height="1.8" fill="#5a2308"/>
<rect x="60.8" y="119.9" width="5.6" height="1.8" fill="#2c2f08"/>
<rect x="65.9" y="119.9" width="5.6" height="1.8" fill="#205a08"/>
<rect x="71.1" y="119.9" width="5.6" height="1.8" fill="#108d08"/>
<rect x="76.2" y="119.9" width="5.6" height="1.8" fill="#08a508"/>
<rect x="81.3" y="119.9" width="5.6" height="1.8" fill="#0aa008"/>
<rect x="86.5" y="119.9" width="5.6" height="1.8" fill="#293008"/>
<rect x="91.6" y="119.9" width="5.6" height="1.8" fill="#0e9208"/>
<rect x="96.8" y="119.9" width="5.6" height="1.8" fill="#08a508"/>
<rect x="101.9" y="119.9" width="5.6" height="1.8" fill="#225408"/>
<rect x="107.0" y="119.9" width="5.6" height="1.8" fill="#235108"/>
<rect x="112.2" y="119.9" width="5.1" height="1.8" fill="#2a3a08"/>
<rect x="60.8" y="121.1" width="5.6" height="1.8" fill="#2b3708"/>
<rect x="65.9" y="121.1" width="5.6" height="1.8" fill="#4f2608"/>
<rect x="71.1" y="121.1" width="5.6" height="1.8" fill="#0d9508"/>
<rect x="76.2" y="121.1" width="5.6" height="1.8" fill="#2e2e08"/>
<rect x="81.3" y="121.1" width="5.6" height="1.8" fill="#0a9e08"/>
<rect x="86.5" y="121.1" width="5.6" height="1.8" fill="#2c3508"/>
<rect x="91.6" y="121.1" width="5.6" height="1.8" fill="#225508"/>
<rect x="96.8" y="121.1" width="5.6" height="1.8" fill="#235108"/>
<rect x="101.9" y="121.1" width="5.6" height="1.8" fill="#2d2f08"/>
<rect x="107.0" y="121.1" width="5.6" height="1.8" fill="#1e6108"/>
<rect x="112.2" y="121.1" width="5.1" height="1.8" fill="#382c08"/>
<rect x="60.8" y="122.4" width="5.6" height="1.8" fill="#302a08"/>
<rect x="65.9" y="122.4" width="5.6" height="1.8" fill="#215808"/>
<rect x="71.1" y="122.4" width="5.6" height="1.8" fill="#138408"/>
<rect x="76.2" y="122.4" width="5.6" height="1.8" fill="#0f8f08"/>
<rect x="81.3" y="122.4" width="5.6" height="1.8" fill="#138108"/>
<rect x="86.5" y="122.4" width="5.6" height="1.8" fill="#1a6d08"/>
<rect x="91.6" y="122.4" width="5.6" height="1.8" fill="#1e6208"/>
<rect x="96.8" y="122.4" width="5.6" height="1.8" fill="#c30808"/>
<rect x="101.9" y="122.4" width="5.6" height="1.8" fill="#2b3808"/>
<rect x="107.0" y="122.4" width="5.6" height="1.8" fill="#2d3008"/>
<rect x="112.2" y="122.4" width="5.1" height="1.8" fill="#0d9608"/>
<rect x="60.8" y="123.7" width="5.6" height="1.8" fill="#108d08"/>
<rect x="65.9" y="123.7" width="5.6" height="1.8" fill="#187408"/>
<rect x="71.1" y="123.7" width="5.6" height="1.8" fill="#225408"/>
<rect x="76.2" y="123.7" width="5.6" height="1.8" fill="#09a108"/>
<rect x="81.3" y="123.7" width="5.6" height="1.8" fill="#5f2208"/>
<rect x="86.5" y="123.7" width="5.6" height="1.8" fill="#138308"/>
<rect x="91.6" y="123.7" width="5.6" height="1.8" fill="#362c08"/>
<rect x="96.8" y="123.7" width="5.6" height="1.8" fill="#08a508"/>
<rect x="101.9" y="123.7" width="5.6" height="1.8" fill="#1e6108"/>
<rect x="107.0" y="123.7" width="5.6" height="1.8" fill="#244f08"/>
<rect x="112.2" y="123.7" width="5.1" height="1.8" fill="#225408"/>
<rect x="60.8" y="124.9" width="5.6" height="1.8" fill="#2a3b08"/>
<rect x="65.9" y="124.9" width="5.6" height="1.8" fill="#244f08"/>
<rect x="71.1" y="124.9" width="5.6" height="1.8" fill="#215608"/>
<rect x="76.2" y="124.9" width="5.6" height="1.8" fill="#08a508"/>
<rect x="81.3" y="124.9" width="5.6" height="1.8" fill="#108d08"/>
<rect x="86.5" y="124.9" width="5.6" height="1.8" fill="#08a508"/>
<rect x="91.6" y="124.9" width="5.6" height="1.8" fill="#2b3908"/>
<rect x="96.8" y="124.9" width="5.6" height="1.8" fill="#244d08"/>
<rect x="101.9" y="124.9" width="5.6" height="1.8" fill="#1a6c08"/>
<rect x="107.0" y="124.9" width="5.6" height="1.8" fill="#0e9408"/>
<rect x="112.2" y="124.9" width="5.1" height="1.8" fill="#128508"/>
<rect x="60.8" y="126.2" width="5.6" height="1.8" fill="#711d08"/>
<rect x="65.9" y="126.2" width="5.6" height="1.8" fill="#681f08"/>
<rect x="71.1" y="126.2" width="5.6" height="1.8" fill="#1d6408"/>
<rect x="76.2" y="126.2" width="5.6" height="1.8" fill="#462808"/>
<rect x="81.3" y="126.2" width="5.6" height="1.8" fill="#08a508"/>
<rect x="86.5" y="126.2" width="5.6" height="1.8" fill="#08a508"/>
<rect x="91.6" y="126.2" width="5.6" height="1.8" fill="#147e08"/>
<rect x="96.8" y="126.2" width="5.6" height="1.8" fill="#0d9708"/>
<rect x="101.9" y="126.2" width="5.6" height="1.8" fill="#138308"/>
<rect x="107.0" y="126.2" width="5.6" height="1.8" fill="#225408"/>
<rect x="112.2" y="126.2" width="5.1" height="1.8" fill="#c30808"/>
<rect x="60.8" y="127.5" width="5.6" height="1.8" fill="#118a08"/>
<rect x="65.9" y="127.5" width="5.6" height="1.8" fill="#1f5d08"/>
<rect x="71.1" y="127.5" width="5.6" height="1.8" fill="#244f08"/>
<rect x="76.2" y="127.5" width="5.6" height="1.8" fill="#1d6208"/>
<rect x="81.3" y="127.5" width="5.6" height="1.8" fill="#2a2f08"/>
<rect x="86.5" y="127.5" width="5.6" height="1.8" fill="#6c1e08"/>
<rect x="91.6" y="127.5" width="5.6" height="1.8" fill="#08a508"/>
<rect x="96.8" y="127.5" width="5.6" height="1.8" fill="#215608"/>
<rect x="101.9" y="127.5" width="5.6" height="1.8" fill="#197108"/>
<rect x="107.0" y="127.5" width="5.6" height="1.8" fill="#254a08"/>
<rect x="112.2" y="127.5" width="5.1" height="1.8" fill="#08a508"/>
<rect x="60.8" y="128.7" width="5.6" height="1.8" fill="#08a508"/>
<rect x="65.9" y="128.7" width="5.6" height="1.8" fill="#08a508"/>
<rect x="71.1" y="128.7" width="5.6" height="1.8" fill="#293f08"/>
<rect x="76.2" y="128.7" width="5.6" height="1.8" fill="#225408"/>
<rect x="81.3" y="128.7" width="5.6" height="1.8" fill="#1f5c08"/>
<rect x="86.5" y="128.7" width="5.6" height="1.8" fill="#08a508"/>
<rect x="91.6" y="128.7" width="5.6" height="1.8" fill="#177808"/>
<rect x="96.8" y="128.7" width="5.6" height="1.8" fill="#0f8f08"/>
<rect x="101.9" y="128.7" width="5.6" height="1.8" fill="#08a508"/>
<rect x="107.0" y="128.7" width="5.6" height="1.8" fill="#0c9908"/>
<rect x="112.2" y="128.7" width="5.1" height="1.8" fill="#2c3508"/>
<rect x="60.8" y="130.0" width="5.6" height="1.8" fill="#293e08"/>
<rect x="65.9" y="130.0" width="5.6" height="1.8" fill="#1e6208"/>
<rect x="71.1" y="130.0" width="5.6" height="1.8" fill="#284008"/>
<rect x="76.2" y="130.0" width="5.6" height="1.8" fill="#128608"/>
<rect x="81.3" y="130.0" width="5.6" height="1.8" fill="#1f5c08"/>
<rect x="86.5" y="130.0" width="5.6" height="1.8" fill="#1f5e08"/>
<rect x="91.6" y="130.0" width="5.6" height="1.8" fill="#293e08"/>
<rect x="96.8" y="130.0" width="5.6" height="1.8" fill="#1d6508"/>
<rect x="101.9" y="130.0" width="5.6" height="1.8" fill="#1b6908"/>
<rect x="107.0" y="130.0" width="5.6" height="1.8" fill="#1b6908"/>
<rect x="112.2" y="130.0" width="5.1" height="1.8" fill="#118908"/>
<rect x="60.8" y="131.2" width="5.6" height="1.8" fill="#8f1508"/>
<rect x="65.9" y="131.2" width="5.6" height="1.8" fill="#284008"/>
<rect x="71.1" y="131.2" width="5.6" height="1.8" fill="#274508"/>
<rect x="76.2" y="131.2" width="5.6" height="1.8" fill="#941408"/>
<rect x="81.3" y="131.2" width="5.6" height="1.8" fill="#4f2608"/>
<rect x="86.5" y="131.2" width="5.6" height="1.8" fill="#08a508"/>
<rect x="91.6" y="131.2" width="5.6" height="1.8" fill="#2c3508"/>
<rect x="96.8" y="131.2" width="5.6" height="1.8" fill="#2f2c08"/>
<rect x="101.9" y="131.2" width="5.6" height="1.8" fill="#741c08"/>
<rect x="107.0" y="131.2" width="5.6" height="1.8" fill="#482808"/>
<rect x="112.2" y="131.2" width="5.1" height="1.8" fill="#2d3008"/>
<rect x="60.8" y="132.5" width="5.6" height="1.8" fill="#08a508"/>
<rect x="65.9" y="132.5" width="5.6" height="1.8" fill="#0d9708"/>
<rect x="71.1" y="132.5" width="5.6" height="1.8" fill="#234f08"/>
<rect x="76.2" y="132.5" width="5.6" height="1.8" fill="#284108"/>
<rect x="81.3" y="132.5" width="5.6" height="1.8" fill="#0aa008"/>
<rect x="86.5" y="132.5" width="5.6" height="1.8" fill="#167808"/>
<rect x="91.6" y="132.5" width="5.6" height="1.8" fill="#167908"/>
<rect x="96.8" y="132.5" width="5.6" height="1.8" fill="#1f5c08"/>
<rect x="101.9" y="132.5" width="5.6" height="1.8" fill="#254b08"/>
<rect x="107.0" y="132.5" width="5.6" height="1.8" fill="#187208"/>
<rect x="112.2" y="132.5" width="5.1" height="1.8" fill="#08a508"/>
<rect x="60.8" y="133.8" width="5.6" height="1.8" fill="#432908"/>
<rect x="65.9" y="133.8" width="5.6" height="1.8" fill="#5e2208"/>
<rect x="71.1" y="133.8" width="5.6" height="1.8" fill="#1c6708"/>
<rect x="76.2" y="133.8" width="5.6" height="1.8" fill="#322e08"/>
<rect x="81.3" y="133.8" width="5.6" height="1.8" fill="#274408"/>
<rect x="86.5" y="133.8" width="5.6" height="1.8" fill="#2b3708"/>
<rect x="91.6" y="133.8" width="5.6" height="1.8" fill="#284208"/>
<rect x="96.8" y="133.8" width="5.6" height="1.8" fill="#0f9008"/>
<rect x="101.9" y="133.8" width="5.6" height="1.8" fill="#293c08"/>
<rect x="107.0" y="133.8" width="5.6" height="1.8" fill="#312e08"/>
<rect x="112.2" y="133.8" width="5.1" height="1.8" fill="#0c9808"/>
<rect x="60.8" y="135.0" width="5.6" height="1.3" fill="#7b1b08"/>
<rect x="65.9" y="135.0" width="5.6" height="1.3" fill="#841808"/>
<rect x="71.1" y="135.0" width="5.6" height="1.3" fill="#701e08"/>
<rect x="76.2" y="135.0" width="5.6" height="1.3" fill="#7c1a08"/>
<rect x="81.3" y="135.0" width="5.6" height="1.3" fill="#2d3208"/>
<rect x="86.5" y="135.0" width="5.6" height="1.3" fill="#177508"/>
<rect x="91.6" y="135.0" width="5.6" height="1.3" fill="#128608"/>
<rect x="96.8" y="135.0" width="5.6" height="1.3" fill="#0e9308"/>
<rect x="101.9" y="135.0" width="5.6" height="1.3" fill="#205908"/>
<rect x="107.0" y="135.0" width="5.6" height="1.3" fill="#1d6208"/>
<rect x="112.2" y="135.0" width="5.1" height="1.3" fill="#2b3608"/>
<line x1="118.5" y1="24.5" x2="118.5" y2="82" stroke="#666" stroke-width="1"/>
<line x1="118.5" y1="83.4" x2="118.5" y2="136.3" stroke="#666" stroke-width="1"/>
<text x="121" y="33.5" font-size="6.5" textLength="13.43" lengthAdjust="spacingAndGlyphs">GZM</text>
<text x="121" y="40.97" font-size="6.5" textLength="18.81" lengthAdjust="spacingAndGlyphs">CYTL1</text>
<text x="121" y="48.44" font-size="6.5" textLength="16.13" lengthAdjust="spacingAndGlyphs">CD8B</text>
<text x="121" y="55.91" font-size="6.5" textLength="17.46" lengthAdjust="spacingAndGlyphs">GZMA</text>
<text x="121" y="63.38" font-size="6.5" textLength="21.83" lengthAdjust="spacingAndGlyphs">EOMES</text>
<text x="121" y="70.85" font-size="6.5" textLength="17.46" lengthAdjust="spacingAndGlyphs">GZMK</text>
<text x="121" y="78.32" font-size="6.5" textLength="20.49" lengthAdjust="spacingAndGlyphs">CXCR6</text>
<text x="121" y="97.2" font-size="6.5" textLength="18.82" lengthAdjust="spacingAndGlyphs">CCL28</text>
<text x="121" y="104.65" font-size="6.5" textLength="15.34" lengthAdjust="spacingAndGlyphs">CAV3</text>
<text x="121" y="112.1" font-size="6.5" textLength="8.4" lengthAdjust="spacingAndGlyphs">IL6</text>
<text x="121" y="119.55" font-size="6.5" textLength="11.76" lengthAdjust="spacingAndGlyphs">IL34</text>
<text x="121" y="127" font-size="6.5" textLength="18.81" lengthAdjust="spacingAndGlyphs">TCL1A</text>
<text x="35" y="148" font-size="8.5" text-anchor="middle" textLength="20" lengthAdjust="spacingAndGlyphs">N=10</text>
<text x="90" y="148" font-size="8.5" text-anchor="middle" textLength="20" lengthAdjust="spacingAndGlyphs">N=11</text>
<text x="178.9" y="15.5" font-size="12" font-weight="bold" fill="#000" textLength="6.6" lengthAdjust="spacingAndGlyphs">B</text>
<rect x="262.5" y="21.2" width="250.3" height="44.8" fill="#c4d4e0"/>
<rect x="262.5" y="66" width="250.3" height="44.5" fill="#f0c4cc"/>
<line x1="310.7" y1="26" x2="310.7" y2="110.5" stroke="#7f8890" stroke-width="0.9"/>
<line x1="262" y1="13.8" x2="262" y2="111.2" stroke="#1a1a1a" stroke-width="1.5"/>
<line x1="259.5" y1="110.5" x2="361.5" y2="110.5" stroke="#1a1a1a" stroke-width="1.5"/>
<line x1="260.2" y1="110.5" x2="260.2" y2="113.5" stroke="#1a1a1a" stroke-width="1"/>
<text x="260.2" y="124" font-size="8" text-anchor="middle">−4</text>
<line x1="285.35" y1="110.5" x2="285.35" y2="113.5" stroke="#1a1a1a" stroke-width="1"/>
<text x="285.35" y="124" font-size="8" text-anchor="middle">−2</text>
<line x1="310.5" y1="110.5" x2="310.5" y2="113.5" stroke="#1a1a1a" stroke-width="1"/>
<text x="310.5" y="124" font-size="8" text-anchor="middle">0</text>
<line x1="335.65" y1="110.5" x2="335.65" y2="113.5" stroke="#1a1a1a" stroke-width="1"/>
<text x="335.65" y="124" font-size="8" text-anchor="middle">2</text>
<line x1="360.8" y1="110.5" x2="360.8" y2="113.5" stroke="#1a1a1a" stroke-width="1"/>
<text x="360.8" y="124" font-size="8" text-anchor="middle">4</text>
<text x="264.7" y="136.2" font-size="8.8" textLength="97.6" lengthAdjust="spacingAndGlyphs">Normalized enrichment score</text>
<text x="194" y="34" font-size="6.8" textLength="61.7" lengthAdjust="spacingAndGlyphs">Scavenger receptors</text>
<line x1="258.2" y1="31.6" x2="261.5" y2="31.6" stroke="#1a1a1a" stroke-width="1"/>
<circle cx="284.2" cy="31.6" r="3.4" fill="#12467e"/>
<text x="184.4" y="41.5" font-size="6.8" textLength="71.3" lengthAdjust="spacingAndGlyphs">Monocyte v CD8⁺ T cell</text>
<line x1="258.2" y1="39.1" x2="261.5" y2="39.1" stroke="#1a1a1a" stroke-width="1"/>
<circle cx="285.6" cy="39.1" r="3.4" fill="#c8102e"/>
<text x="219.5" y="48.9" font-size="6.8" textLength="36.2" lengthAdjust="spacingAndGlyphs">BMI1_Down</text>
<line x1="258.2" y1="46.5" x2="261.5" y2="46.5" stroke="#1a1a1a" stroke-width="1"/>
<circle cx="286.8" cy="46.5" r="3.4" fill="#c8102e"/>
<text x="215.4" y="56.2" font-size="6.8" textLength="40.3" lengthAdjust="spacingAndGlyphs">MTOR_Down</text>
<line x1="258.2" y1="53.8" x2="261.5" y2="53.8" stroke="#1a1a1a" stroke-width="1"/>
<circle cx="288.5" cy="53.8" r="2.6" fill="#c8102e"/>
<text x="219.8" y="63.2" font-size="6.8" textLength="35.9" lengthAdjust="spacingAndGlyphs">LEF1_Down</text>
<line x1="258.2" y1="60.8" x2="261.5" y2="60.8" stroke="#1a1a1a" stroke-width="1"/>
<circle cx="288.9" cy="60.8" r="2.6" fill="#c8102e"/>
<text x="212" y="72.4" font-size="6.8" textLength="43.7" lengthAdjust="spacingAndGlyphs">PD-1 signaling</text>
<line x1="258.2" y1="70" x2="261.5" y2="70" stroke="#1a1a1a" stroke-width="1"/>
<circle cx="329.5" cy="70" r="2.6" fill="#12467e"/>
<text x="188.5" y="79.7" font-size="6.8" textLength="67.2" lengthAdjust="spacingAndGlyphs">Activated CD8⁺ T cells</text>
<line x1="258.2" y1="77.3" x2="261.5" y2="77.3" stroke="#1a1a1a" stroke-width="1"/>
<circle cx="330" cy="77.3" r="2.6" fill="#12467e"/>
<text x="214.8" y="86.9" font-size="6.8" textLength="40.9" lengthAdjust="spacingAndGlyphs">TCR signaling</text>
<line x1="258.2" y1="84.5" x2="261.5" y2="84.5" stroke="#1a1a1a" stroke-width="1"/>
<circle cx="331" cy="84.5" r="2.8" fill="#c8102e"/>
<text x="203" y="94.2" font-size="6.8" textLength="52.7" lengthAdjust="spacingAndGlyphs">IFNγ macrophage</text>
<line x1="258.2" y1="91.8" x2="261.5" y2="91.8" stroke="#1a1a1a" stroke-width="1"/>
<circle cx="331.5" cy="91.8" r="1.7" fill="#12467e"/>
<text x="195.2" y="101.4" font-size="6.8" textLength="60.5" lengthAdjust="spacingAndGlyphs">CD4⁺ memory T cell</text>
<line x1="258.2" y1="99" x2="261.5" y2="99" stroke="#1a1a1a" stroke-width="1"/>
<circle cx="337.9" cy="99" r="1.7" fill="#c8102e"/>
<text x="205.3" y="108.4" font-size="6.8" textLength="50.4" lengthAdjust="spacingAndGlyphs">Cell cycle mitotic</text>
<line x1="258.2" y1="106" x2="261.5" y2="106" stroke="#1a1a1a" stroke-width="1"/>
<circle cx="338.2" cy="106" r="3.6" fill="#c8102e"/>
<text x="344.6" y="47.2" font-size="8" textLength="14" lengthAdjust="spacingAndGlyphs">IL17</text>
<line x1="362" y1="45" x2="377.26" y2="45" stroke="#1a1a1a" stroke-width="0.9"/>
<polygon points="379.3,45 376.2,46.39 376.2,43.61" fill="#1a1a1a"/>
<text x="383" y="47.2" font-size="8" textLength="24.5" lengthAdjust="spacingAndGlyphs">NFKBIZ</text>
<line x1="412.2" y1="45" x2="427.36" y2="45" stroke="#1a1a1a" stroke-width="0.9"/>
<polygon points="429.4,45 426.3,46.39 426.3,43.61" fill="#1a1a1a"/>
<text x="433" y="47.2" font-size="8" textLength="9.5" lengthAdjust="spacingAndGlyphs">IL6</text>
<text x="343.9" y="73" font-size="8" textLength="14.6" lengthAdjust="spacingAndGlyphs">CD2</text>
<text x="343.9" y="90.2" font-size="8" textLength="14.6" lengthAdjust="spacingAndGlyphs">CD8</text>
<text x="343.9" y="109.2" font-size="8" textLength="14.6" lengthAdjust="spacingAndGlyphs">CD3</text>
<text x="377.5" y="81.1" font-size="8" textLength="13.9" lengthAdjust="spacingAndGlyphs">LCK</text>
<text x="377.5" y="99.3" font-size="8" textLength="13.9" lengthAdjust="spacingAndGlyphs">FYN</text>
<text x="407.5" y="90.2" font-size="8" textLength="29.5" lengthAdjust="spacingAndGlyphs">NOTCH1</text>
<text x="448.7" y="90.2" font-size="8" textLength="25.6" lengthAdjust="spacingAndGlyphs">EOMES</text>
<text x="490.8" y="81.8" font-size="8" textLength="21.2" lengthAdjust="spacingAndGlyphs">GZMH</text>
<text x="490.8" y="99.3" font-size="8" textLength="21.2" lengthAdjust="spacingAndGlyphs">GZMK</text>
<polyline points="362,71 368.5,78.3 362,86" fill="none" stroke="#1a1a1a" stroke-width="0.8"/>
<line x1="368.5" y1="78.3" x2="373.18" y2="78.3" stroke="#1a1a1a" stroke-width="0.9"/>
<polygon points="374.5,78.3 372.49,79.2 372.49,77.4" fill="#1a1a1a"/>
<line x1="361" y1="105" x2="373.24" y2="98.2" stroke="#1a1a1a" stroke-width="0.9"/>
<polygon points="374.5,97.5 373.06,99.42 372.11,97.71" fill="#1a1a1a"/>
<polyline points="395,76 401,87.4 395,97" fill="none" stroke="#1a1a1a" stroke-width="0.8"/>
<line x1="401" y1="87.4" x2="404.18" y2="87.4" stroke="#1a1a1a" stroke-width="0.9"/>
<polygon points="405.5,87.4 403.49,88.3 403.49,86.5" fill="#1a1a1a"/>
<line x1="438.5" y1="87.4" x2="445.56" y2="87.4" stroke="#1a1a1a" stroke-width="0.9"/>
<polygon points="447,87.4 444.81,88.38 444.81,86.42" fill="#1a1a1a"/>
<polyline points="487.5,80 476,87.4 487.5,95" fill="none" stroke="#1a1a1a" stroke-width="0.8"/>
<polygon points="489.5,79 486,79.3 487.8,82" fill="#1a1a1a"/>
<polygon points="489.5,96.3 486,96 487.8,93.3" fill="#1a1a1a"/>
<text x="434" y="123" font-size="8" textLength="23.9" lengthAdjust="spacingAndGlyphs">p-value</text>
<text x="482.7" y="123" font-size="8" textLength="23.8" lengthAdjust="spacingAndGlyphs">q-value</text>
<text x="428" y="133.2" font-size="8" textLength="28.8" lengthAdjust="spacingAndGlyphs">p &lt; 1E-5</text>
<circle cx="460.8" cy="131.2" r="2.3" fill="#c8102e"/>
<text x="428" y="141.8" font-size="8" textLength="28.8" lengthAdjust="spacingAndGlyphs">p &lt; 0.01</text>
<circle cx="460.8" cy="139.5" r="2.3" fill="#12467e"/>
<text x="475.8" y="133.2" font-size="8" textLength="28.8" lengthAdjust="spacingAndGlyphs">q &lt; 1E-5</text>
<circle cx="510" cy="131.2" r="2.4" fill="#000"/>
<text x="475.8" y="141.8" font-size="8" textLength="28.8" lengthAdjust="spacingAndGlyphs">q &lt; 0.15</text>
<circle cx="510" cy="139.6" r="1.6" fill="#000"/>
<text x="475.8" y="150.8" font-size="8" textLength="28.8" lengthAdjust="spacingAndGlyphs">q &lt; 0.25</text>
<circle cx="510.2" cy="148.2" r="1.25" fill="#000"/>
<text x="8.25" y="165.1" font-size="12" font-weight="bold" fill="#000" textLength="8.1" lengthAdjust="spacingAndGlyphs">C</text>
<text x="45.75" y="171.3" font-size="9.2" text-anchor="middle">H&amp;E</text>
<text x="89.9" y="171.3" font-size="9.2" text-anchor="middle">CD4</text>
<text x="135.4" y="171.3" font-size="9.2" text-anchor="middle">CD8</text>
<text x="181.1" y="171.3" font-size="9.2" text-anchor="middle">TIA-1</text>
<text x="223.1" y="171.3" font-size="9.2" text-anchor="middle">GZB</text>
<text x="18.3" y="198.1" font-size="9" text-anchor="middle" textLength="41" lengthAdjust="spacingAndGlyphs" transform="rotate(-90 18.3 198.1)">DNMT3A-MT</text>
<text x="18.3" y="246.7" font-size="9" text-anchor="middle" textLength="42" lengthAdjust="spacingAndGlyphs" transform="rotate(-90 18.3 246.7)">DNMT3-WT</text>
<defs><filter id="bl" x="0" y="0" width="1" height="1"><feGaussianBlur stdDeviation="0.6"/></filter>
<clipPath id="t00"><rect x="23.2" y="175.7" width="44.6" height="45"/></clipPath>
<clipPath id="t01"><rect x="69.7" y="175.7" width="44.6" height="45"/></clipPath>
<clipPath id="t02"><rect x="116.2" y="175.7" width="44.6" height="45"/></clipPath>
<clipPath id="t03"><rect x="162.8" y="175.7" width="44.6" height="45"/></clipPath>
<clipPath id="t04"><rect x="208.9" y="175.7" width="44.6" height="45"/></clipPath>
<clipPath id="t10"><rect x="23.2" y="222.6" width="44.6" height="45"/></clipPath>
<clipPath id="t11"><rect x="69.7" y="222.6" width="44.6" height="45"/></clipPath>
<clipPath id="t12"><rect x="116.2" y="222.6" width="44.6" height="45"/></clipPath>
<clipPath id="t13"><rect x="162.8" y="222.6" width="44.6" height="45"/></clipPath>
<clipPath id="t14"><rect x="208.9" y="222.6" width="44.6" height="45"/></clipPath>
</defs>
<rect x="23.2" y="175.7" width="44.6" height="45" fill="#e084bc"/>
<g clip-path="url(#t00)"><g filter="url(#bl)">
<rect x="23.2" y="175.7" width="44.6" height="45" fill="#e084bc"/>
<circle cx="39.4" cy="220.3" r="1.2" fill="#b05cae"/>
<circle cx="64.5" cy="180.1" r="0.8" fill="#b05cae"/>
<circle cx="63.2" cy="178.3" r="1.1" fill="#b05cae"/>
<circle cx="36.3" cy="219.7" r="0.7" fill="#b05cae"/>
<circle cx="59.2" cy="191.0" r="0.8" fill="#b05cae"/>
<circle cx="23.3" cy="213.2" r="1.0" fill="#b05cae"/>
<circle cx="31.5" cy="195.3" r="1.2" fill="#b05cae"/>
<circle cx="32.9" cy="201.4" r="0.8" fill="#b05cae"/>
<circle cx="31.2" cy="210.4" r="1.1" fill="#b05cae"/>
<circle cx="32.0" cy="179.3" r="0.7" fill="#b05cae"/>
<circle cx="50.3" cy="198.0" r="0.8" fill="#b05cae"/>
<circle cx="32.4" cy="203.3" r="1.1" fill="#b05cae"/>
<circle cx="59.4" cy="201.9" r="0.8" fill="#b05cae"/>
<circle cx="26.1" cy="208.7" r="0.9" fill="#b05cae"/>
<circle cx="55.4" cy="178.2" r="1.1" fill="#b05cae"/>
<circle cx="38.2" cy="213.6" r="1.1" fill="#b05cae"/>
<circle cx="45.2" cy="176.4" r="1.2" fill="#b05cae"/>
<circle cx="44.5" cy="214.9" r="0.8" fill="#b05cae"/>
<circle cx="31.5" cy="213.1" r="0.9" fill="#b05cae"/>
<circle cx="30.5" cy="192.4" r="1.0" fill="#b05cae"/>
<circle cx="23.4" cy="199.1" r="0.9" fill="#b05cae"/>
<circle cx="46.2" cy="181.1" r="1.1" fill="#b05cae"/>
<circle cx="59.6" cy="214.6" r="0.9" fill="#b05cae"/>
<circle cx="54.9" cy="192.9" r="1.1" fill="#b05cae"/>
<circle cx="25.9" cy="215.0" r="1.2" fill="#b05cae"/>
<circle cx="45.3" cy="198.8" r="1.0" fill="#b05cae"/>
<circle cx="47.2" cy="176.6" r="1.2" fill="#b05cae"/>
<circle cx="33.2" cy="183.9" r="0.8" fill="#b05cae"/>
<circle cx="34.4" cy="212.5" r="0.7" fill="#b05cae"/>
<circle cx="27.5" cy="207.2" r="0.8" fill="#b05cae"/>
<circle cx="24.0" cy="202.7" r="1.0" fill="#b05cae"/>
<circle cx="46.5" cy="207.3" r="0.8" fill="#b05cae"/>
<circle cx="62.0" cy="208.0" r="0.7" fill="#b05cae"/>
<circle cx="28.7" cy="197.9" r="1.0" fill="#b05cae"/>
<circle cx="35.7" cy="181.2" r="0.9" fill="#b05cae"/>
<circle cx="29.3" cy="202.3" r="1.1" fill="#b05cae"/>
<circle cx="29.8" cy="201.5" r="1.1" fill="#b05cae"/>
<circle cx="30.5" cy="212.9" r="1.2" fill="#b05cae"/>
<circle cx="40.5" cy="194.6" r="1.1" fill="#b05cae"/>
<circle cx="46.6" cy="193.5" r="1.2" fill="#b05cae"/>
<circle cx="57.9" cy="190.9" r="0.8" fill="#b05cae"/>
<circle cx="38.1" cy="195.3" r="1.2" fill="#b05cae"/>
<circle cx="59.1" cy="216.8" r="1.1" fill="#b05cae"/>
<circle cx="61.0" cy="178.1" r="1.0" fill="#b05cae"/>
<circle cx="65.9" cy="217.7" r="0.8" fill="#b05cae"/>
<circle cx="42.0" cy="204.2" r="0.9" fill="#b05cae"/>
<circle cx="46.9" cy="178.8" r="0.9" fill="#b05cae"/>
<circle cx="45.7" cy="176.6" r="0.8" fill="#b05cae"/>
<circle cx="66.4" cy="210.6" r="1.2" fill="#b05cae"/>
<circle cx="51.4" cy="212.1" r="1.1" fill="#b05cae"/>
<circle cx="62.7" cy="177.2" r="1.0" fill="#b05cae"/>
<circle cx="35.1" cy="206.2" r="0.8" fill="#b05cae"/>
<circle cx="47.4" cy="217.3" r="1.0" fill="#b05cae"/>
<circle cx="34.4" cy="199.1" r="0.9" fill="#b05cae"/>
<circle cx="65.6" cy="188.6" r="0.9" fill="#b05cae"/>
<circle cx="52.1" cy="181.1" r="1.0" fill="#b05cae"/>
<circle cx="65.8" cy="198.8" r="0.8" fill="#b05cae"/>
<circle cx="44.0" cy="199.7" r="0.8" fill="#b05cae"/>
<circle cx="28.7" cy="181.6" r="0.8" fill="#b05cae"/>
<circle cx="41.3" cy="188.7" r="0.8" fill="#b05cae"/>
<circle cx="27.1" cy="200.3" r="1.1" fill="#b05cae"/>
<circle cx="50.4" cy="201.4" r="1.0" fill="#b05cae"/>
<circle cx="32.2" cy="207.7" r="0.9" fill="#b05cae"/>
<circle cx="47.6" cy="203.3" r="0.9" fill="#b05cae"/>
<circle cx="37.0" cy="186.6" r="0.8" fill="#b05cae"/>
<circle cx="46.1" cy="192.9" r="1.0" fill="#b05cae"/>
<circle cx="23.7" cy="191.6" r="1.1" fill="#b05cae"/>
<circle cx="33.8" cy="200.7" r="0.9" fill="#b05cae"/>
<circle cx="35.9" cy="220.1" r="0.8" fill="#b05cae"/>
<circle cx="57.6" cy="182.8" r="0.7" fill="#b05cae"/>
<circle cx="62.1" cy="195.5" r="0.7" fill="#b05cae"/>
<circle cx="40.5" cy="195.5" r="1.1" fill="#b05cae"/>
<circle cx="28.1" cy="185.8" r="1.2" fill="#b05cae"/>
<circle cx="56.1" cy="182.7" r="0.9" fill="#b05cae"/>
<circle cx="38.9" cy="206.1" r="1.0" fill="#b05cae"/>
<circle cx="61.1" cy="212.7" r="1.0" fill="#b05cae"/>
<circle cx="56.1" cy="209.1" r="1.1" fill="#b05cae"/>
<circle cx="44.4" cy="211.0" r="1.1" fill="#b05cae"/>
<circle cx="64.0" cy="181.4" r="1.1" fill="#b05cae"/>
<circle cx="23.4" cy="210.2" r="1.0" fill="#b05cae"/>
<circle cx="45.4" cy="219.0" r="1.0" fill="#b05cae"/>
<circle cx="41.8" cy="211.0" r="1.1" fill="#b05cae"/>
<circle cx="50.3" cy="192.8" r="0.9" fill="#b05cae"/>
<circle cx="43.6" cy="208.2" r="0.8" fill="#b05cae"/>
<circle cx="40.6" cy="200.7" r="0.9" fill="#b05cae"/>
<circle cx="37.6" cy="211.1" r="1.1" fill="#b05cae"/>
<circle cx="45.5" cy="195.7" r="0.8" fill="#b05cae"/>
<circle cx="36.8" cy="182.2" r="1.0" fill="#b05cae"/>
<circle cx="49.1" cy="179.7" r="1.2" fill="#b05cae"/>
<circle cx="37.6" cy="213.7" r="1.1" fill="#b05cae"/>
<circle cx="66.0" cy="184.9" r="0.9" fill="#b05cae"/>
<circle cx="63.8" cy="176.2" r="0.7" fill="#b05cae"/>
<circle cx="48.4" cy="198.1" r="1.2" fill="#b05cae"/>
<circle cx="57.7" cy="199.9" r="1.2" fill="#b05cae"/>
<circle cx="46.3" cy="199.0" r="1.0" fill="#b05cae"/>
<circle cx="40.6" cy="191.8" r="1.0" fill="#b05cae"/>
<circle cx="38.9" cy="218.4" r="1.0" fill="#b05cae"/>
<circle cx="46.6" cy="180.2" r="0.9" fill="#b05cae"/>
<circle cx="41.1" cy="201.0" r="1.0" fill="#b05cae"/>
<circle cx="62.4" cy="219.1" r="0.9" fill="#b05cae"/>
<circle cx="42.8" cy="203.8" r="1.2" fill="#b05cae"/>
<circle cx="38.5" cy="199.6" r="1.1" fill="#b05cae"/>
<circle cx="30.8" cy="190.0" r="1.2" fill="#b05cae"/>
<circle cx="60.0" cy="198.8" r="0.8" fill="#b05cae"/>
<circle cx="63.1" cy="206.7" r="1.1" fill="#b05cae"/>
<circle cx="67.4" cy="215.7" r="0.9" fill="#b05cae"/>
<circle cx="30.2" cy="188.7" r="1.0" fill="#b05cae"/>
<circle cx="45.7" cy="184.2" r="0.8" fill="#b05cae"/>
<circle cx="51.3" cy="202.8" r="0.9" fill="#b05cae"/>
<circle cx="67.5" cy="204.3" r="0.7" fill="#b05cae"/>
<circle cx="41.5" cy="211.1" r="0.9" fill="#b05cae"/>
<circle cx="54.0" cy="175.9" r="0.9" fill="#b05cae"/>
<circle cx="60.8" cy="202.1" r="1.0" fill="#b05cae"/>
<circle cx="32.0" cy="198.1" r="1.0" fill="#b05cae"/>
<circle cx="35.1" cy="204.8" r="1.0" fill="#b05cae"/>
<circle cx="67.7" cy="201.6" r="0.9" fill="#b05cae"/>
<circle cx="28.6" cy="182.8" r="1.1" fill="#b05cae"/>
<circle cx="28.0" cy="180.2" r="0.8" fill="#b05cae"/>
<circle cx="46.5" cy="212.7" r="1.0" fill="#b05cae"/>
<circle cx="59.2" cy="178.5" r="0.7" fill="#b05cae"/>
<circle cx="57.6" cy="190.2" r="0.8" fill="#88409e"/>
<circle cx="39.0" cy="183.3" r="0.6" fill="#88409e"/>
<circle cx="27.6" cy="216.4" r="0.7" fill="#88409e"/>
<circle cx="38.8" cy="195.9" r="0.7" fill="#88409e"/>
<circle cx="25.6" cy="215.8" r="0.7" fill="#88409e"/>
<circle cx="66.0" cy="195.5" r="0.7" fill="#88409e"/>
<circle cx="34.3" cy="177.7" r="0.9" fill="#88409e"/>
<circle cx="61.3" cy="189.9" r="0.9" fill="#88409e"/>
<circle cx="59.6" cy="189.4" r="0.7" fill="#88409e"/>
<circle cx="66.0" cy="198.0" r="0.9" fill="#88409e"/>
<circle cx="34.0" cy="193.2" r="0.8" fill="#88409e"/>
<circle cx="33.1" cy="189.6" r="0.9" fill="#88409e"/>
<circle cx="44.8" cy="211.4" r="0.6" fill="#88409e"/>
<circle cx="30.9" cy="191.8" r="0.6" fill="#88409e"/>
<circle cx="66.5" cy="188.8" r="0.7" fill="#88409e"/>
<circle cx="28.3" cy="199.7" r="0.7" fill="#88409e"/>
<circle cx="41.2" cy="178.6" r="0.5" fill="#88409e"/>
<circle cx="60.0" cy="191.5" r="0.6" fill="#88409e"/>
<circle cx="31.7" cy="188.5" r="0.6" fill="#88409e"/>
<circle cx="24.8" cy="205.6" r="0.6" fill="#88409e"/>
<circle cx="30.2" cy="207.5" r="0.5" fill="#88409e"/>
<circle cx="35.2" cy="213.3" r="0.6" fill="#88409e"/>
<circle cx="43.0" cy="213.3" r="0.8" fill="#88409e"/>
<circle cx="30.3" cy="191.6" r="0.8" fill="#88409e"/>
<circle cx="40.0" cy="218.8" r="0.6" fill="#88409e"/>
<circle cx="65.6" cy="198.4" r="0.6" fill="#88409e"/>
<circle cx="43.4" cy="181.6" r="0.8" fill="#88409e"/>
<circle cx="34.8" cy="216.2" r="0.7" fill="#88409e"/>
<circle cx="39.6" cy="186.8" r="0.7" fill="#88409e"/>
<circle cx="32.7" cy="215.0" r="0.5" fill="#88409e"/>
<circle cx="46.1" cy="200.1" r="0.6" fill="#88409e"/>
<circle cx="57.6" cy="193.0" r="0.8" fill="#88409e"/>
<circle cx="48.5" cy="189.7" r="0.7" fill="#88409e"/>
<circle cx="27.0" cy="183.7" r="0.8" fill="#88409e"/>
<circle cx="37.5" cy="205.5" r="0.5" fill="#88409e"/>
<circle cx="48.3" cy="192.0" r="0.7" fill="#88409e"/>
<circle cx="36.4" cy="178.7" r="0.6" fill="#88409e"/>
<circle cx="33.3" cy="181.4" r="0.8" fill="#88409e"/>
<circle cx="35.8" cy="193.9" r="0.9" fill="#88409e"/>
<circle cx="57.8" cy="215.4" r="0.8" fill="#88409e"/>
<circle cx="29.1" cy="188.1" r="0.5" fill="#88409e"/>
<circle cx="53.5" cy="205.6" r="0.6" fill="#88409e"/>
<circle cx="41.6" cy="205.4" r="0.8" fill="#88409e"/>
<circle cx="34.3" cy="213.8" r="0.6" fill="#88409e"/>
<circle cx="51.2" cy="183.9" r="0.5" fill="#88409e"/>
<circle cx="63.9" cy="208.7" r="0.8" fill="#88409e"/>
<circle cx="25.0" cy="177.5" r="0.6" fill="#88409e"/>
<circle cx="32.0" cy="189.3" r="0.7" fill="#88409e"/>
<circle cx="24.9" cy="189.7" r="0.8" fill="#88409e"/>
<circle cx="31.2" cy="213.5" r="0.7" fill="#88409e"/>
<circle cx="55.2" cy="187.2" r="0.7" fill="#88409e"/>
<circle cx="53.7" cy="191.4" r="0.5" fill="#88409e"/>
<circle cx="60.4" cy="210.6" r="0.6" fill="#88409e"/>
<circle cx="25.1" cy="214.1" r="0.7" fill="#88409e"/>
<circle cx="25.3" cy="186.7" r="0.5" fill="#88409e"/>
<circle cx="58.5" cy="185.2" r="0.9" fill="#88409e"/>
<circle cx="56.6" cy="179.6" r="0.8" fill="#88409e"/>
<circle cx="40.8" cy="209.3" r="0.8" fill="#88409e"/>
<circle cx="35.7" cy="179.7" r="0.9" fill="#88409e"/>
<circle cx="42.1" cy="217.6" r="0.8" fill="#88409e"/>
<circle cx="56.1" cy="213.0" r="0.8" fill="#88409e"/>
<circle cx="43.4" cy="178.1" r="0.8" fill="#88409e"/>
<circle cx="42.3" cy="198.7" r="0.9" fill="#88409e"/>
<circle cx="28.9" cy="210.0" r="0.5" fill="#88409e"/>
<circle cx="54.5" cy="212.0" r="0.6" fill="#88409e"/>
<circle cx="47.6" cy="219.3" r="0.8" fill="#88409e"/>
<circle cx="47.5" cy="186.9" r="0.5" fill="#88409e"/>
<circle cx="39.2" cy="194.2" r="0.6" fill="#88409e"/>
<circle cx="37.1" cy="181.8" r="0.8" fill="#88409e"/>
<circle cx="53.1" cy="186.4" r="0.6" fill="#88409e"/>
<circle cx="46.2" cy="195.7" r="0.9" fill="#88409e"/>
<circle cx="38.9" cy="189.2" r="0.9" fill="#88409e"/>
<circle cx="29.5" cy="201.0" r="0.6" fill="#88409e"/>
<circle cx="59.6" cy="200.4" r="0.8" fill="#88409e"/>
<circle cx="30.7" cy="205.7" r="0.7" fill="#88409e"/>
<circle cx="43.8" cy="210.2" r="0.8" fill="#88409e"/>
<circle cx="28.3" cy="188.7" r="0.6" fill="#88409e"/>
<circle cx="32.4" cy="178.4" r="0.6" fill="#88409e"/>
<circle cx="32.0" cy="207.3" r="0.7" fill="#88409e"/>
<circle cx="28.2" cy="190.3" r="0.7" fill="#88409e"/>
<circle cx="39.4" cy="183.3" r="0.5" fill="#88409e"/>
<circle cx="23.7" cy="220.3" r="0.8" fill="#88409e"/>
<circle cx="26.9" cy="208.0" r="0.9" fill="#88409e"/>
<circle cx="48.3" cy="180.6" r="0.7" fill="#88409e"/>
<circle cx="42.6" cy="184.2" r="0.7" fill="#88409e"/>
<circle cx="23.6" cy="217.1" r="0.8" fill="#88409e"/>
<circle cx="51.2" cy="217.8" r="0.8" fill="#88409e"/>
<circle cx="34.4" cy="186.8" r="0.6" fill="#88409e"/>
<circle cx="24.4" cy="210.5" r="0.8" fill="#88409e"/>
<circle cx="36.4" cy="184.1" r="0.8" fill="#88409e"/>
<circle cx="60.9" cy="217.4" r="0.6" fill="#88409e"/>
<circle cx="58.2" cy="213.1" r="0.8" fill="#88409e"/>
<circle cx="37.8" cy="184.0" r="0.8" fill="#88409e"/>
<circle cx="37.5" cy="192.3" r="0.7" fill="#88409e"/>
<circle cx="39.7" cy="213.1" r="0.6" fill="#88409e"/>
<circle cx="25.0" cy="201.2" r="0.8" fill="#88409e"/>
<circle cx="59.8" cy="207.5" r="0.9" fill="#88409e"/>
<circle cx="65.3" cy="197.9" r="0.7" fill="#88409e"/>
<circle cx="30.2" cy="189.2" r="0.7" fill="#88409e"/>
<circle cx="26.8" cy="206.7" r="0.6" fill="#88409e"/>
<circle cx="43.0" cy="219.3" r="0.5" fill="#88409e"/>
<circle cx="25.0" cy="195.5" r="0.6" fill="#88409e"/>
<circle cx="55.4" cy="175.8" r="0.8" fill="#88409e"/>
<circle cx="61.3" cy="211.1" r="0.7" fill="#88409e"/>
<circle cx="35.8" cy="205.5" r="0.7" fill="#88409e"/>
<circle cx="42.0" cy="190.9" r="0.7" fill="#88409e"/>
<circle cx="52.9" cy="212.9" r="0.9" fill="#88409e"/>
<circle cx="30.5" cy="189.0" r="0.7" fill="#88409e"/>
<circle cx="48.3" cy="191.4" r="0.6" fill="#88409e"/>
<circle cx="27.0" cy="190.3" r="0.7" fill="#88409e"/>
<circle cx="66.5" cy="216.6" r="0.8" fill="#88409e"/>
<circle cx="66.7" cy="219.0" r="0.7" fill="#88409e"/>
<circle cx="59.4" cy="178.4" r="0.8" fill="#88409e"/>
<circle cx="50.4" cy="189.1" r="0.7" fill="#88409e"/>
<circle cx="65.7" cy="197.3" r="0.8" fill="#88409e"/>
<circle cx="36.5" cy="191.2" r="0.9" fill="#88409e"/>
<circle cx="24.4" cy="184.2" r="0.8" fill="#88409e"/>
<circle cx="43.2" cy="179.5" r="0.8" fill="#88409e"/>
<circle cx="39.8" cy="201.8" r="0.7" fill="#88409e"/>
<circle cx="46.8" cy="201.1" r="0.7" fill="#88409e"/>
<circle cx="28.3" cy="183.8" r="0.9" fill="#88409e"/>
<circle cx="47.6" cy="180.8" r="0.8" fill="#88409e"/>
<circle cx="34.5" cy="180.0" r="0.7" fill="#88409e"/>
<circle cx="34.4" cy="197.7" r="0.7" fill="#88409e"/>
<circle cx="33.3" cy="201.5" r="0.5" fill="#88409e"/>
<circle cx="46.1" cy="202.2" r="0.5" fill="#88409e"/>
<circle cx="41.4" cy="179.0" r="0.7" fill="#88409e"/>
<circle cx="61.7" cy="200.5" r="0.8" fill="#88409e"/>
<circle cx="57.0" cy="180.9" r="0.9" fill="#88409e"/>
<circle cx="55.4" cy="180.3" r="0.8" fill="#88409e"/>
<circle cx="40.7" cy="183.4" r="0.9" fill="#88409e"/>
<circle cx="48.3" cy="210.6" r="0.6" fill="#88409e"/>
<circle cx="57.8" cy="178.3" r="0.6" fill="#88409e"/>
<circle cx="39.8" cy="176.4" r="0.7" fill="#88409e"/>
<circle cx="32.7" cy="189.2" r="0.8" fill="#88409e"/>
<circle cx="42.2" cy="215.7" r="0.7" fill="#88409e"/>
<circle cx="62.1" cy="201.0" r="0.9" fill="#88409e"/>
<circle cx="62.0" cy="183.3" r="0.8" fill="#88409e"/>
<circle cx="38.4" cy="210.1" r="0.8" fill="#88409e"/>
<circle cx="60.0" cy="181.2" r="0.6" fill="#88409e"/>
<circle cx="56.1" cy="218.4" r="0.8" fill="#88409e"/>
<circle cx="25.1" cy="202.9" r="0.5" fill="#88409e"/>
<circle cx="47.7" cy="211.8" r="0.5" fill="#88409e"/>
<circle cx="64.5" cy="206.1" r="0.6" fill="#88409e"/>
<circle cx="31.8" cy="195.8" r="0.8" fill="#88409e"/>
<circle cx="49.1" cy="180.8" r="0.5" fill="#88409e"/>
<circle cx="28.1" cy="211.7" r="0.6" fill="#88409e"/>
<circle cx="47.9" cy="188.8" r="0.8" fill="#88409e"/>
<circle cx="40.2" cy="182.2" r="0.9" fill="#88409e"/>
<circle cx="47.2" cy="206.7" r="0.8" fill="#88409e"/>
<circle cx="65.5" cy="176.3" r="0.6" fill="#88409e"/>
<circle cx="29.9" cy="198.3" r="0.8" fill="#88409e"/>
<circle cx="58.9" cy="177.3" r="0.6" fill="#88409e"/>
<circle cx="59.7" cy="206.3" r="0.7" fill="#88409e"/>
<circle cx="44.4" cy="182.8" r="0.8" fill="#88409e"/>
<circle cx="40.7" cy="215.0" r="0.7" fill="#88409e"/>
<circle cx="26.6" cy="190.5" r="0.6" fill="#88409e"/>
<circle cx="63.1" cy="202.2" r="0.5" fill="#88409e"/>
<circle cx="30.8" cy="191.9" r="0.7" fill="#88409e"/>
<circle cx="48.9" cy="193.2" r="0.6" fill="#88409e"/>
<circle cx="23.5" cy="201.8" r="0.6" fill="#88409e"/>
<circle cx="24.1" cy="196.4" r="0.9" fill="#88409e"/>
<circle cx="25.2" cy="182.3" r="0.8" fill="#88409e"/>
<circle cx="35.4" cy="188.0" r="0.7" fill="#88409e"/>
<circle cx="34.9" cy="201.3" r="0.7" fill="#88409e"/>
<circle cx="65.9" cy="220.3" r="0.5" fill="#88409e"/>
<circle cx="48.2" cy="210.4" r="0.8" fill="#88409e"/>
<circle cx="57.7" cy="204.2" r="0.8" fill="#88409e"/>
<circle cx="39.4" cy="188.4" r="0.8" fill="#88409e"/>
<circle cx="62.1" cy="217.9" r="0.8" fill="#88409e"/>
<circle cx="36.8" cy="210.0" r="0.8" fill="#88409e"/>
<circle cx="45.9" cy="204.3" r="0.6" fill="#88409e"/>
<circle cx="47.8" cy="194.0" r="0.5" fill="#88409e"/>
<circle cx="38.2" cy="190.2" r="0.9" fill="#88409e"/>
<circle cx="44.7" cy="192.2" r="0.6" fill="#88409e"/>
<circle cx="33.7" cy="191.4" r="0.6" fill="#88409e"/>
<circle cx="23.5" cy="214.9" r="0.7" fill="#88409e"/>
<circle cx="43.1" cy="201.3" r="0.6" fill="#88409e"/>
<circle cx="30.7" cy="178.7" r="0.6" fill="#88409e"/>
<circle cx="37.0" cy="208.4" r="0.7" fill="#88409e"/>
<circle cx="65.0" cy="191.0" r="0.9" fill="#88409e"/>
<circle cx="49.2" cy="179.3" r="0.6" fill="#88409e"/>
<circle cx="49.1" cy="220.1" r="0.6" fill="#88409e"/>
<circle cx="57.7" cy="195.0" r="0.8" fill="#88409e"/>
<circle cx="26.2" cy="197.5" r="0.9" fill="#88409e"/>
<circle cx="35.5" cy="187.3" r="0.5" fill="#88409e"/>
<circle cx="30.5" cy="187.8" r="0.8" fill="#88409e"/>
<circle cx="32.9" cy="193.7" r="0.6" fill="#88409e"/>
<circle cx="50.1" cy="214.6" r="0.8" fill="#88409e"/>
<circle cx="32.0" cy="208.7" r="0.9" fill="#88409e"/>
<circle cx="50.0" cy="179.3" r="1.4" fill="#f0a4c8"/>
<circle cx="62.2" cy="191.1" r="0.9" fill="#f0a4c8"/>
<circle cx="31.6" cy="199.9" r="1.5" fill="#f0a4c8"/>
<circle cx="51.7" cy="217.2" r="1.0" fill="#f0a4c8"/>
<circle cx="37.8" cy="209.4" r="1.3" fill="#f0a4c8"/>
<circle cx="41.3" cy="206.3" r="1.1" fill="#f0a4c8"/>
<circle cx="25.8" cy="194.3" r="0.8" fill="#f0a4c8"/>
<circle cx="51.1" cy="190.8" r="1.2" fill="#f0a4c8"/>
<circle cx="49.9" cy="187.3" r="1.2" fill="#f0a4c8"/>
<circle cx="23.8" cy="217.3" r="1.3" fill="#f0a4c8"/>
<circle cx="67.2" cy="178.2" r="1.3" fill="#f0a4c8"/>
<circle cx="55.5" cy="190.5" r="0.9" fill="#f0a4c8"/>
<circle cx="30.2" cy="182.1" r="1.4" fill="#f0a4c8"/>
<circle cx="27.2" cy="212.3" r="1.1" fill="#f0a4c8"/>
<circle cx="47.2" cy="202.2" r="1.2" fill="#f0a4c8"/>
<circle cx="52.5" cy="202.8" r="1.1" fill="#f0a4c8"/>
<circle cx="56.3" cy="187.3" r="1.4" fill="#f0a4c8"/>
<circle cx="57.2" cy="210.6" r="1.0" fill="#f0a4c8"/>
<circle cx="57.7" cy="219.7" r="1.2" fill="#f0a4c8"/>
<circle cx="35.6" cy="199.2" r="1.6" fill="#f0a4c8"/>
<circle cx="29.1" cy="176.1" r="1.2" fill="#f0a4c8"/>
<circle cx="52.4" cy="210.5" r="1.1" fill="#f0a4c8"/>
<circle cx="67.3" cy="186.0" r="1.4" fill="#f0a4c8"/>
<circle cx="27.2" cy="177.0" r="0.9" fill="#f0a4c8"/>
<circle cx="25.9" cy="198.3" r="1.2" fill="#f0a4c8"/>
<circle cx="31.3" cy="218.0" r="1.1" fill="#f0a4c8"/>
<circle cx="29.9" cy="183.7" r="1.4" fill="#f0a4c8"/>
<circle cx="64.3" cy="183.0" r="0.8" fill="#f0a4c8"/>
<circle cx="57.9" cy="186.6" r="1.6" fill="#f0a4c8"/>
<circle cx="45.5" cy="204.3" r="1.1" fill="#f0a4c8"/>
<circle cx="58.9" cy="196.4" r="1.1" fill="#f0a4c8"/>
<circle cx="63.5" cy="180.6" r="1.4" fill="#f0a4c8"/>
<circle cx="26.1" cy="204.7" r="1.1" fill="#f0a4c8"/>
<circle cx="61.7" cy="178.4" r="1.3" fill="#f0a4c8"/>
<circle cx="41.5" cy="217.1" r="1.6" fill="#f0a4c8"/>
<circle cx="51.2" cy="185.8" r="1.0" fill="#f0a4c8"/>
<circle cx="34.9" cy="195.2" r="1.0" fill="#f0a4c8"/>
<circle cx="32.3" cy="209.9" r="1.3" fill="#f0a4c8"/>
<circle cx="36.5" cy="220.4" r="1.0" fill="#f0a4c8"/>
<circle cx="48.6" cy="182.8" r="1.5" fill="#f0a4c8"/>
<circle cx="62.0" cy="187.7" r="1.4" fill="#f0a4c8"/>
<circle cx="59.9" cy="188.4" r="1.1" fill="#f0a4c8"/>
<circle cx="44.9" cy="215.8" r="0.9" fill="#f0a4c8"/>
<circle cx="53.7" cy="202.6" r="1.2" fill="#f0a4c8"/>
<circle cx="49.0" cy="215.4" r="1.0" fill="#f0a4c8"/>
<circle cx="62.6" cy="191.9" r="1.4" fill="#f0a4c8"/>
<circle cx="61.7" cy="183.9" r="1.5" fill="#f0a4c8"/>
<circle cx="67.6" cy="189.1" r="0.8" fill="#f0a4c8"/>
<circle cx="28.2" cy="219.5" r="0.8" fill="#f0a4c8"/>
<circle cx="63.9" cy="182.5" r="1.4" fill="#f0a4c8"/>
</g></g>
<rect x="69.7" y="175.7" width="44.6" height="45" fill="#c9c6cb"/>
<g clip-path="url(#t01)"><g filter="url(#bl)">
<rect x="69.7" y="175.7" width="44.6" height="45" fill="#c9c6cb"/>
<circle cx="74.1" cy="183.3" r="0.8" fill="#a2a4c4"/>
<circle cx="73.7" cy="191.0" r="0.9" fill="#a2a4c4"/>
<circle cx="101.6" cy="215.4" r="0.9" fill="#a2a4c4"/>
<circle cx="71.2" cy="186.3" r="0.8" fill="#a2a4c4"/>
<circle cx="100.4" cy="177.4" r="0.7" fill="#a2a4c4"/>
<circle cx="80.0" cy="195.1" r="0.5" fill="#a2a4c4"/>
<circle cx="70.6" cy="220.3" r="0.6" fill="#a2a4c4"/>
<circle cx="108.9" cy="181.1" r="0.7" fill="#a2a4c4"/>
<circle cx="75.8" cy="195.0" r="0.6" fill="#a2a4c4"/>
<circle cx="100.3" cy="182.4" r="0.8" fill="#a2a4c4"/>
<circle cx="92.0" cy="180.8" r="0.6" fill="#a2a4c4"/>
<circle cx="91.8" cy="217.0" r="0.6" fill="#a2a4c4"/>
<circle cx="79.3" cy="219.2" r="0.9" fill="#a2a4c4"/>
<circle cx="102.3" cy="188.0" r="0.6" fill="#a2a4c4"/>
<circle cx="81.5" cy="178.8" r="0.5" fill="#a2a4c4"/>
<circle cx="92.4" cy="194.1" r="0.7" fill="#a2a4c4"/>
<circle cx="85.9" cy="176.2" r="0.8" fill="#a2a4c4"/>
<circle cx="98.8" cy="200.2" r="0.7" fill="#a2a4c4"/>
<circle cx="100.5" cy="219.9" r="0.8" fill="#a2a4c4"/>
<circle cx="101.7" cy="193.7" r="0.6" fill="#a2a4c4"/>
<circle cx="88.4" cy="219.5" r="0.7" fill="#a2a4c4"/>
<circle cx="86.9" cy="194.1" r="0.6" fill="#a2a4c4"/>
<circle cx="114.2" cy="175.9" r="0.7" fill="#a2a4c4"/>
<circle cx="111.0" cy="187.2" r="0.7" fill="#a2a4c4"/>
<circle cx="86.5" cy="186.5" r="0.6" fill="#a2a4c4"/>
<circle cx="74.9" cy="213.6" r="0.8" fill="#a2a4c4"/>
<circle cx="110.2" cy="177.9" r="0.8" fill="#a2a4c4"/>
<circle cx="84.2" cy="204.8" r="0.7" fill="#a2a4c4"/>
<circle cx="83.8" cy="219.4" r="0.5" fill="#a2a4c4"/>
<circle cx="103.0" cy="214.1" r="0.7" fill="#a2a4c4"/>
<circle cx="96.1" cy="220.5" r="0.6" fill="#a2a4c4"/>
<circle cx="97.8" cy="209.1" r="0.7" fill="#a2a4c4"/>
<circle cx="101.5" cy="193.4" r="0.7" fill="#a2a4c4"/>
<circle cx="97.0" cy="206.2" r="0.6" fill="#a2a4c4"/>
<circle cx="97.7" cy="200.1" r="0.6" fill="#a2a4c4"/>
<circle cx="97.0" cy="187.6" r="0.9" fill="#a2a4c4"/>
<circle cx="90.8" cy="208.2" r="0.7" fill="#a2a4c4"/>
<circle cx="91.0" cy="185.7" r="0.6" fill="#a2a4c4"/>
<circle cx="111.1" cy="199.5" r="0.7" fill="#a2a4c4"/>
<circle cx="93.2" cy="212.3" r="0.6" fill="#a2a4c4"/>
<circle cx="77.4" cy="212.7" r="0.7" fill="#a2a4c4"/>
<circle cx="98.3" cy="212.9" r="0.9" fill="#a2a4c4"/>
<circle cx="108.4" cy="177.6" r="0.7" fill="#a2a4c4"/>
<circle cx="106.8" cy="212.5" r="0.5" fill="#a2a4c4"/>
<circle cx="76.6" cy="187.0" r="0.5" fill="#a2a4c4"/>
<circle cx="85.6" cy="211.8" r="0.7" fill="#a2a4c4"/>
<circle cx="89.9" cy="179.7" r="0.7" fill="#a2a4c4"/>
<circle cx="114.2" cy="207.0" r="0.7" fill="#a2a4c4"/>
<circle cx="91.0" cy="211.6" r="0.8" fill="#a2a4c4"/>
<circle cx="76.4" cy="206.3" r="0.6" fill="#a2a4c4"/>
<circle cx="92.9" cy="186.4" r="0.6" fill="#a2a4c4"/>
<circle cx="84.9" cy="192.9" r="0.5" fill="#a2a4c4"/>
<circle cx="78.7" cy="201.4" r="0.5" fill="#a2a4c4"/>
<circle cx="77.7" cy="208.0" r="0.6" fill="#a2a4c4"/>
<circle cx="84.2" cy="186.6" r="0.8" fill="#a2a4c4"/>
<circle cx="73.8" cy="204.3" r="0.8" fill="#a2a4c4"/>
<circle cx="78.7" cy="194.7" r="0.8" fill="#a2a4c4"/>
<circle cx="97.3" cy="192.4" r="0.5" fill="#a2a4c4"/>
<circle cx="89.4" cy="192.2" r="0.8" fill="#a2a4c4"/>
<circle cx="82.9" cy="194.1" r="0.8" fill="#a2a4c4"/>
<circle cx="105.9" cy="191.6" r="0.7" fill="#a2a4c4"/>
<circle cx="95.5" cy="217.3" r="0.6" fill="#a2a4c4"/>
<circle cx="113.0" cy="207.7" r="0.6" fill="#a2a4c4"/>
<circle cx="99.4" cy="190.5" r="0.5" fill="#a2a4c4"/>
<circle cx="103.4" cy="192.8" r="0.7" fill="#a2a4c4"/>
<circle cx="91.8" cy="216.3" r="0.8" fill="#a2a4c4"/>
<circle cx="70.8" cy="202.4" r="0.7" fill="#a2a4c4"/>
<circle cx="90.3" cy="213.5" r="0.7" fill="#a2a4c4"/>
<circle cx="90.8" cy="215.8" r="0.7" fill="#a2a4c4"/>
<circle cx="91.6" cy="198.7" r="0.8" fill="#a2a4c4"/>
<circle cx="99.6" cy="209.0" r="0.7" fill="#a2a4c4"/>
<circle cx="71.5" cy="206.3" r="0.7" fill="#a2a4c4"/>
<circle cx="104.0" cy="210.3" r="0.5" fill="#a2a4c4"/>
<circle cx="79.5" cy="179.2" r="0.8" fill="#a2a4c4"/>
<circle cx="74.2" cy="179.7" r="0.8" fill="#a2a4c4"/>
<circle cx="94.9" cy="178.2" r="0.8" fill="#a2a4c4"/>
<circle cx="101.4" cy="197.4" r="0.5" fill="#a2a4c4"/>
<circle cx="100.5" cy="194.5" r="0.7" fill="#a2a4c4"/>
<circle cx="114.2" cy="212.5" r="0.8" fill="#a2a4c4"/>
<circle cx="76.2" cy="190.7" r="0.7" fill="#a2a4c4"/>
<circle cx="70.0" cy="220.2" r="0.6" fill="#a2a4c4"/>
<circle cx="81.4" cy="189.8" r="0.6" fill="#a2a4c4"/>
<circle cx="108.0" cy="200.7" r="0.7" fill="#a2a4c4"/>
<circle cx="88.4" cy="178.0" r="0.6" fill="#a2a4c4"/>
<circle cx="108.4" cy="211.8" r="0.8" fill="#a2a4c4"/>
<circle cx="81.2" cy="184.8" r="0.5" fill="#a2a4c4"/>
<circle cx="93.6" cy="192.5" r="0.7" fill="#a2a4c4"/>
<circle cx="91.5" cy="202.0" r="0.6" fill="#a2a4c4"/>
<circle cx="105.4" cy="184.7" r="0.9" fill="#a2a4c4"/>
<circle cx="94.5" cy="178.0" r="0.6" fill="#a2a4c4"/>
<circle cx="93.5" cy="194.1" r="0.7" fill="#a2a4c4"/>
<circle cx="84.1" cy="188.0" r="0.8" fill="#a2a4c4"/>
<circle cx="82.7" cy="207.7" r="0.8" fill="#a2a4c4"/>
<circle cx="96.1" cy="196.2" r="0.9" fill="#a2a4c4"/>
<circle cx="89.5" cy="215.2" r="0.5" fill="#a2a4c4"/>
<circle cx="89.0" cy="204.5" r="0.5" fill="#a2a4c4"/>
<circle cx="108.2" cy="178.9" r="0.7" fill="#a2a4c4"/>
<circle cx="77.7" cy="217.2" r="0.7" fill="#a2a4c4"/>
<circle cx="105.4" cy="198.1" r="0.8" fill="#a2a4c4"/>
<circle cx="99.8" cy="189.0" r="0.6" fill="#a2a4c4"/>
<circle cx="107.1" cy="182.3" r="0.9" fill="#a2a4c4"/>
<circle cx="78.9" cy="180.2" r="0.5" fill="#a2a4c4"/>
<circle cx="104.7" cy="218.5" r="0.7" fill="#a2a4c4"/>
<circle cx="99.1" cy="187.3" r="0.9" fill="#a2a4c4"/>
<circle cx="100.3" cy="182.7" r="0.5" fill="#a2a4c4"/>
<circle cx="100.7" cy="177.6" r="0.8" fill="#a2a4c4"/>
<circle cx="82.8" cy="186.2" r="0.7" fill="#a2a4c4"/>
<circle cx="83.9" cy="200.9" r="0.6" fill="#a2a4c4"/>
<circle cx="110.4" cy="190.3" r="0.8" fill="#a2a4c4"/>
<circle cx="76.5" cy="211.7" r="0.9" fill="#a2a4c4"/>
<circle cx="87.2" cy="177.2" r="0.7" fill="#a2a4c4"/>
<circle cx="98.3" cy="185.8" r="0.7" fill="#a2a4c4"/>
<circle cx="73.9" cy="196.6" r="0.8" fill="#a2a4c4"/>
<circle cx="88.9" cy="206.3" r="0.5" fill="#a2a4c4"/>
<circle cx="106.7" cy="181.2" r="0.9" fill="#a2a4c4"/>
<circle cx="114.1" cy="218.0" r="0.7" fill="#a2a4c4"/>
<circle cx="82.7" cy="191.4" r="0.8" fill="#a2a4c4"/>
<circle cx="91.8" cy="217.5" r="0.5" fill="#a2a4c4"/>
<circle cx="91.3" cy="214.6" r="0.7" fill="#a2a4c4"/>
<circle cx="93.8" cy="179.7" r="0.6" fill="#a2a4c4"/>
<circle cx="81.8" cy="215.9" r="0.8" fill="#a2a4c4"/>
<circle cx="79.8" cy="217.3" r="0.5" fill="#a2a4c4"/>
<circle cx="96.4" cy="219.2" r="0.6" fill="#a2a4c4"/>
<circle cx="111.8" cy="205.2" r="0.5" fill="#a2a4c4"/>
<circle cx="84.6" cy="195.9" r="0.6" fill="#a2a4c4"/>
<circle cx="102.8" cy="183.7" r="0.8" fill="#a2a4c4"/>
<circle cx="83.0" cy="178.8" r="0.7" fill="#a2a4c4"/>
<circle cx="74.0" cy="200.5" r="0.8" fill="#a2a4c4"/>
<circle cx="96.3" cy="196.5" r="0.5" fill="#a2a4c4"/>
<circle cx="92.6" cy="180.1" r="0.8" fill="#a2a4c4"/>
<circle cx="75.6" cy="201.7" r="0.6" fill="#a2a4c4"/>
<circle cx="86.4" cy="205.5" r="0.6" fill="#a2a4c4"/>
<circle cx="77.3" cy="218.1" r="0.6" fill="#a2a4c4"/>
<circle cx="107.3" cy="215.0" r="0.7" fill="#a2a4c4"/>
<circle cx="76.3" cy="179.9" r="0.9" fill="#a2a4c4"/>
<circle cx="74.9" cy="198.0" r="0.7" fill="#a2a4c4"/>
<circle cx="74.9" cy="196.8" r="0.6" fill="#a2a4c4"/>
<circle cx="93.6" cy="198.5" r="0.6" fill="#a2a4c4"/>
<circle cx="78.5" cy="193.9" r="0.6" fill="#a2a4c4"/>
<circle cx="75.4" cy="186.5" r="0.8" fill="#a2a4c4"/>
<circle cx="92.1" cy="215.8" r="0.5" fill="#a2a4c4"/>
<circle cx="111.8" cy="197.7" r="0.8" fill="#a2a4c4"/>
<circle cx="95.1" cy="206.7" r="0.6" fill="#a2a4c4"/>
<circle cx="103.2" cy="182.6" r="0.6" fill="#a2a4c4"/>
<circle cx="71.1" cy="193.4" r="0.7" fill="#a2a4c4"/>
<circle cx="82.7" cy="215.8" r="0.5" fill="#a2a4c4"/>
<circle cx="95.5" cy="186.2" r="0.7" fill="#a2a4c4"/>
<circle cx="104.7" cy="207.7" r="0.5" fill="#a2a4c4"/>
<circle cx="80.7" cy="202.7" r="0.9" fill="#a2a4c4"/>
<circle cx="71.5" cy="203.5" r="0.8" fill="#a2a4c4"/>
<circle cx="106.0" cy="191.1" r="0.8" fill="#a2a4c4"/>
<circle cx="90.3" cy="217.1" r="0.5" fill="#a2a4c4"/>
<circle cx="111.6" cy="194.2" r="0.7" fill="#a2a4c4"/>
<circle cx="73.6" cy="186.7" r="0.8" fill="#a2a4c4"/>
<circle cx="100.0" cy="182.5" r="0.6" fill="#a2a4c4"/>
<circle cx="76.0" cy="184.6" r="0.6" fill="#a2a4c4"/>
<circle cx="84.5" cy="219.6" r="0.9" fill="#a2a4c4"/>
<circle cx="105.0" cy="197.3" r="0.7" fill="#a2a4c4"/>
<circle cx="104.5" cy="216.6" r="0.8" fill="#a2a4c4"/>
<circle cx="98.1" cy="184.7" r="0.8" fill="#a2a4c4"/>
<circle cx="107.4" cy="211.1" r="0.5" fill="#a2a4c4"/>
<circle cx="101.7" cy="191.4" r="0.6" fill="#a2a4c4"/>
<circle cx="112.8" cy="206.0" r="0.8" fill="#a2a4c4"/>
<circle cx="75.7" cy="213.0" r="0.9" fill="#a2a4c4"/>
<circle cx="110.1" cy="209.2" r="0.8" fill="#a2a4c4"/>
<circle cx="105.5" cy="202.3" r="0.7" fill="#a2a4c4"/>
<circle cx="106.5" cy="211.0" r="0.8" fill="#a2a4c4"/>
<circle cx="83.0" cy="218.9" r="0.7" fill="#a2a4c4"/>
<circle cx="111.9" cy="180.9" r="0.9" fill="#a2a4c4"/>
<circle cx="104.8" cy="187.0" r="0.8" fill="#a2a4c4"/>
<circle cx="80.1" cy="184.6" r="0.7" fill="#a2a4c4"/>
<circle cx="80.3" cy="197.9" r="0.9" fill="#a2a4c4"/>
<circle cx="100.3" cy="207.7" r="0.7" fill="#a2a4c4"/>
<circle cx="104.7" cy="211.4" r="0.8" fill="#a2a4c4"/>
<circle cx="111.7" cy="212.9" r="0.7" fill="#a2a4c4"/>
<circle cx="73.6" cy="205.1" r="0.8" fill="#a2a4c4"/>
<circle cx="84.8" cy="202.5" r="0.8" fill="#a2a4c4"/>
<circle cx="105.1" cy="175.9" r="0.7" fill="#a2a4c4"/>
<circle cx="70.4" cy="180.7" r="0.8" fill="#a2a4c4"/>
<circle cx="88.4" cy="202.9" r="0.7" fill="#a2a4c4"/>
<circle cx="84.7" cy="185.3" r="0.6" fill="#a2a4c4"/>
<circle cx="107.4" cy="203.6" r="0.6" fill="#a2a4c4"/>
<circle cx="73.6" cy="187.9" r="0.8" fill="#a2a4c4"/>
<circle cx="89.4" cy="205.4" r="0.8" fill="#a2a4c4"/>
<circle cx="75.1" cy="206.4" r="0.5" fill="#a2a4c4"/>
<circle cx="106.4" cy="184.0" r="0.6" fill="#a2a4c4"/>
<circle cx="112.4" cy="192.0" r="0.6" fill="#a2a4c4"/>
<circle cx="109.4" cy="203.2" r="0.9" fill="#a2a4c4"/>
<circle cx="87.3" cy="198.2" r="0.9" fill="#a2a4c4"/>
<circle cx="92.3" cy="220.2" r="0.6" fill="#a2a4c4"/>
<circle cx="106.7" cy="183.0" r="0.7" fill="#a2a4c4"/>
<circle cx="69.7" cy="183.6" r="0.9" fill="#a2a4c4"/>
<circle cx="90.0" cy="212.1" r="0.6" fill="#a2a4c4"/>
<circle cx="85.4" cy="180.2" r="0.7" fill="#a2a4c4"/>
<circle cx="108.2" cy="198.8" r="0.7" fill="#a2a4c4"/>
<circle cx="111.1" cy="215.9" r="0.8" fill="#a2a4c4"/>
<circle cx="73.1" cy="203.8" r="0.7" fill="#a2a4c4"/>
<circle cx="112.4" cy="192.0" r="0.8" fill="#a2a4c4"/>
<circle cx="97.9" cy="192.6" r="0.7" fill="#a2a4c4"/>
<circle cx="99.9" cy="216.5" r="0.7" fill="#a2a4c4"/>
<circle cx="85.9" cy="219.6" r="0.5" fill="#b8a080"/>
<circle cx="106.9" cy="206.5" r="0.7" fill="#b8a080"/>
<circle cx="89.7" cy="209.5" r="0.9" fill="#b8a080"/>
<circle cx="102.2" cy="209.4" r="0.5" fill="#b8a080"/>
<circle cx="84.2" cy="181.9" r="0.9" fill="#b8a080"/>
<circle cx="109.5" cy="182.2" r="0.7" fill="#b8a080"/>
<circle cx="95.4" cy="177.8" r="0.7" fill="#b8a080"/>
<circle cx="103.0" cy="204.6" r="0.6" fill="#b8a080"/>
<circle cx="103.7" cy="188.8" r="0.7" fill="#b8a080"/>
<circle cx="88.5" cy="219.7" r="0.8" fill="#b8a080"/>
<circle cx="105.6" cy="206.1" r="0.7" fill="#b8a080"/>
<circle cx="112.7" cy="207.6" r="0.8" fill="#b8a080"/>
<circle cx="82.1" cy="183.0" r="0.7" fill="#b8a080"/>
<circle cx="106.5" cy="211.4" r="0.6" fill="#b8a080"/>
<circle cx="75.9" cy="198.9" r="0.9" fill="#b8a080"/>
<circle cx="76.9" cy="208.9" r="0.6" fill="#b8a080"/>
<circle cx="83.6" cy="178.1" r="0.6" fill="#b8a080"/>
<circle cx="86.8" cy="219.2" r="0.9" fill="#b8a080"/>
<circle cx="78.0" cy="189.6" r="0.9" fill="#b8a080"/>
<circle cx="78.5" cy="190.1" r="0.7" fill="#b8a080"/>
<circle cx="74.5" cy="187.4" r="0.7" fill="#b8a080"/>
<circle cx="86.9" cy="219.1" r="0.6" fill="#b8a080"/>
<circle cx="78.8" cy="216.6" r="0.7" fill="#b8a080"/>
<circle cx="107.0" cy="204.4" r="0.8" fill="#b8a080"/>
<circle cx="83.7" cy="182.5" r="0.8" fill="#b8a080"/>
<circle cx="90.7" cy="200.8" r="0.8" fill="#b8a080"/>
<circle cx="103.3" cy="188.1" r="0.6" fill="#b8a080"/>
<circle cx="110.6" cy="199.5" r="0.6" fill="#b8a080"/>
<circle cx="97.8" cy="187.4" r="0.8" fill="#b8a080"/>
<circle cx="71.5" cy="212.9" r="0.7" fill="#b8a080"/>
<circle cx="85.5" cy="218.0" r="0.6" fill="#b8a080"/>
<circle cx="80.6" cy="178.8" r="0.7" fill="#b8a080"/>
<circle cx="103.3" cy="206.2" r="0.7" fill="#b8a080"/>
<circle cx="105.7" cy="180.7" r="0.6" fill="#b8a080"/>
<circle cx="98.5" cy="219.2" r="0.8" fill="#b8a080"/>
<circle cx="100.6" cy="210.6" r="0.7" fill="#b8a080"/>
<circle cx="111.6" cy="209.1" r="0.6" fill="#b8a080"/>
<circle cx="87.2" cy="212.0" r="0.6" fill="#b8a080"/>
<circle cx="78.0" cy="214.9" r="0.7" fill="#b8a080"/>
<circle cx="92.9" cy="205.8" r="0.9" fill="#b8a080"/>
<circle cx="75.7" cy="190.9" r="0.5" fill="#b8a080"/>
<circle cx="88.1" cy="198.3" r="0.8" fill="#b8a080"/>
<circle cx="99.5" cy="201.7" r="0.7" fill="#b8a080"/>
<circle cx="95.3" cy="188.0" r="0.8" fill="#b8a080"/>
<circle cx="104.9" cy="213.4" r="0.6" fill="#b8a080"/>
<circle cx="99.7" cy="209.6" r="0.7" fill="#b8a080"/>
<circle cx="109.8" cy="216.1" r="0.8" fill="#b8a080"/>
<circle cx="106.3" cy="204.9" r="0.9" fill="#b8a080"/>
<circle cx="75.6" cy="207.4" r="0.8" fill="#b8a080"/>
<circle cx="97.0" cy="188.1" r="0.5" fill="#b8a080"/>
<circle cx="96.6" cy="212.8" r="0.6" fill="#b8a080"/>
<circle cx="79.2" cy="185.8" r="0.5" fill="#b8a080"/>
<circle cx="99.9" cy="219.6" r="0.8" fill="#b8a080"/>
<circle cx="85.7" cy="207.2" r="0.5" fill="#b8a080"/>
<circle cx="107.1" cy="190.3" r="0.5" fill="#b8a080"/>
<circle cx="97.8" cy="181.9" r="0.6" fill="#b8a080"/>
<circle cx="72.3" cy="195.8" r="0.7" fill="#b8a080"/>
<circle cx="105.7" cy="177.5" r="0.8" fill="#b8a080"/>
<circle cx="74.6" cy="185.8" r="0.8" fill="#b8a080"/>
<circle cx="84.9" cy="190.6" r="0.7" fill="#b8a080"/>
<circle cx="79.4" cy="211.4" r="0.7" fill="#dad8d6"/>
<circle cx="107.1" cy="212.1" r="0.9" fill="#dad8d6"/>
<circle cx="71.1" cy="210.7" r="0.6" fill="#dad8d6"/>
<circle cx="92.2" cy="194.8" r="0.6" fill="#dad8d6"/>
<circle cx="97.8" cy="208.3" r="1.0" fill="#dad8d6"/>
<circle cx="87.5" cy="198.7" r="1.0" fill="#dad8d6"/>
<circle cx="79.8" cy="214.7" r="1.2" fill="#dad8d6"/>
<circle cx="105.6" cy="219.0" r="0.8" fill="#dad8d6"/>
<circle cx="113.7" cy="178.9" r="0.9" fill="#dad8d6"/>
<circle cx="75.7" cy="196.1" r="1.0" fill="#dad8d6"/>
<circle cx="101.3" cy="196.2" r="0.8" fill="#dad8d6"/>
<circle cx="78.2" cy="193.8" r="0.8" fill="#dad8d6"/>
<circle cx="78.4" cy="208.8" r="0.9" fill="#dad8d6"/>
<circle cx="89.3" cy="184.6" r="1.0" fill="#dad8d6"/>
<circle cx="78.5" cy="187.7" r="0.9" fill="#dad8d6"/>
<circle cx="101.0" cy="219.5" r="1.0" fill="#dad8d6"/>
<circle cx="112.0" cy="217.1" r="1.0" fill="#dad8d6"/>
<circle cx="101.8" cy="178.5" r="0.7" fill="#dad8d6"/>
<circle cx="70.3" cy="214.6" r="1.0" fill="#dad8d6"/>
<circle cx="97.8" cy="187.6" r="0.8" fill="#dad8d6"/>
<circle cx="77.0" cy="204.2" r="1.2" fill="#dad8d6"/>
<circle cx="83.3" cy="177.7" r="0.7" fill="#dad8d6"/>
<circle cx="85.5" cy="216.2" r="1.1" fill="#dad8d6"/>
<circle cx="90.0" cy="180.3" r="0.7" fill="#dad8d6"/>
<circle cx="76.6" cy="210.7" r="0.9" fill="#dad8d6"/>
<circle cx="113.9" cy="216.7" r="1.1" fill="#dad8d6"/>
<circle cx="90.9" cy="212.7" r="0.7" fill="#dad8d6"/>
<circle cx="74.6" cy="201.1" r="0.9" fill="#dad8d6"/>
<circle cx="79.0" cy="187.0" r="0.6" fill="#dad8d6"/>
<circle cx="110.2" cy="207.7" r="1.2" fill="#dad8d6"/>
<circle cx="113.4" cy="195.4" r="1.0" fill="#dad8d6"/>
<circle cx="86.8" cy="212.2" r="1.1" fill="#dad8d6"/>
<circle cx="75.7" cy="176.3" r="0.7" fill="#dad8d6"/>
<circle cx="95.8" cy="192.8" r="0.6" fill="#dad8d6"/>
<circle cx="106.7" cy="211.1" r="0.9" fill="#dad8d6"/>
<circle cx="71.6" cy="215.7" r="0.9" fill="#dad8d6"/>
<circle cx="72.9" cy="190.3" r="1.0" fill="#dad8d6"/>
<circle cx="109.2" cy="197.5" r="1.0" fill="#dad8d6"/>
<circle cx="78.9" cy="186.7" r="1.1" fill="#dad8d6"/>
<circle cx="86.8" cy="180.4" r="1.0" fill="#dad8d6"/>
</g></g>
<rect x="116.2" y="175.7" width="44.6" height="45" fill="#d6d0cc"/>
<g clip-path="url(#t02)"><g filter="url(#bl)">
<rect x="116.2" y="175.7" width="44.6" height="45" fill="#d6d0cc"/>
<circle cx="121.8" cy="184.7" r="1.0" fill="#b47c48"/>
<circle cx="142.3" cy="204.3" r="1.2" fill="#b47c48"/>
<circle cx="135.8" cy="178.7" r="1.2" fill="#b47c48"/>
<circle cx="118.6" cy="196.9" r="1.0" fill="#b47c48"/>
<circle cx="146.2" cy="207.8" r="0.9" fill="#b47c48"/>
<circle cx="145.2" cy="206.8" r="1.0" fill="#b47c48"/>
<circle cx="122.5" cy="216.6" r="1.1" fill="#b47c48"/>
<circle cx="119.0" cy="186.4" r="1.4" fill="#b47c48"/>
<circle cx="126.4" cy="193.4" r="1.3" fill="#b47c48"/>
<circle cx="152.9" cy="204.2" r="1.2" fill="#b47c48"/>
<circle cx="117.9" cy="179.9" r="1.4" fill="#b47c48"/>
<circle cx="152.0" cy="177.4" r="0.7" fill="#b47c48"/>
<circle cx="126.9" cy="217.6" r="0.9" fill="#b47c48"/>
<circle cx="146.2" cy="217.6" r="1.1" fill="#b47c48"/>
<circle cx="157.2" cy="187.5" r="0.8" fill="#b47c48"/>
<circle cx="117.0" cy="209.8" r="0.8" fill="#b47c48"/>
<circle cx="159.6" cy="207.6" r="0.8" fill="#b47c48"/>
<circle cx="152.2" cy="183.0" r="1.1" fill="#b47c48"/>
<circle cx="120.9" cy="211.1" r="1.3" fill="#b47c48"/>
<circle cx="157.1" cy="175.8" r="1.3" fill="#b47c48"/>
<circle cx="141.0" cy="212.7" r="1.1" fill="#b47c48"/>
<circle cx="143.8" cy="202.5" r="1.3" fill="#b47c48"/>
<circle cx="119.7" cy="178.1" r="1.1" fill="#b47c48"/>
<circle cx="129.2" cy="193.6" r="0.7" fill="#b47c48"/>
<circle cx="149.4" cy="176.8" r="1.3" fill="#b47c48"/>
<circle cx="152.4" cy="196.3" r="0.8" fill="#b47c48"/>
<circle cx="145.2" cy="185.0" r="1.0" fill="#b47c48"/>
<circle cx="121.1" cy="219.6" r="1.1" fill="#b47c48"/>
<circle cx="131.9" cy="179.9" r="1.2" fill="#b47c48"/>
<circle cx="154.1" cy="213.9" r="0.8" fill="#b47c48"/>
<circle cx="132.6" cy="189.3" r="1.2" fill="#b47c48"/>
<circle cx="122.8" cy="203.0" r="1.4" fill="#b47c48"/>
<circle cx="150.5" cy="176.0" r="0.8" fill="#b47c48"/>
<circle cx="121.3" cy="206.9" r="1.1" fill="#b47c48"/>
<circle cx="139.4" cy="196.2" r="1.0" fill="#b47c48"/>
<circle cx="143.5" cy="204.9" r="1.3" fill="#b47c48"/>
<circle cx="148.9" cy="211.5" r="1.3" fill="#b47c48"/>
<circle cx="153.5" cy="208.0" r="0.7" fill="#b47c48"/>
<circle cx="146.6" cy="213.9" r="1.0" fill="#b47c48"/>
<circle cx="155.4" cy="183.8" r="1.4" fill="#b47c48"/>
<circle cx="135.9" cy="207.5" r="0.9" fill="#b47c48"/>
<circle cx="129.6" cy="191.4" r="0.9" fill="#b47c48"/>
<circle cx="120.4" cy="195.6" r="1.4" fill="#b47c48"/>
<circle cx="145.4" cy="217.6" r="1.2" fill="#b47c48"/>
<circle cx="153.5" cy="220.4" r="1.2" fill="#b47c48"/>
<circle cx="128.4" cy="186.9" r="1.0" fill="#b47c48"/>
<circle cx="117.1" cy="186.1" r="1.3" fill="#b47c48"/>
<circle cx="157.3" cy="190.5" r="1.2" fill="#b47c48"/>
<circle cx="150.8" cy="215.7" r="1.3" fill="#b47c48"/>
<circle cx="139.9" cy="180.4" r="1.3" fill="#b47c48"/>
<circle cx="130.2" cy="203.9" r="1.0" fill="#b47c48"/>
<circle cx="140.2" cy="219.2" r="0.8" fill="#b47c48"/>
<circle cx="139.9" cy="204.9" r="1.1" fill="#b47c48"/>
<circle cx="158.0" cy="194.0" r="1.3" fill="#b47c48"/>
<circle cx="147.0" cy="219.2" r="0.8" fill="#b47c48"/>
<circle cx="125.7" cy="188.6" r="1.3" fill="#b47c48"/>
<circle cx="116.8" cy="187.4" r="1.2" fill="#b47c48"/>
<circle cx="160.3" cy="183.6" r="1.0" fill="#b47c48"/>
<circle cx="146.8" cy="206.8" r="1.2" fill="#b47c48"/>
<circle cx="149.8" cy="186.9" r="0.9" fill="#b47c48"/>
<circle cx="117.4" cy="206.8" r="0.8" fill="#b47c48"/>
<circle cx="127.8" cy="219.1" r="1.2" fill="#b47c48"/>
<circle cx="142.6" cy="205.2" r="1.1" fill="#b47c48"/>
<circle cx="147.2" cy="189.4" r="0.7" fill="#b47c48"/>
<circle cx="119.2" cy="176.4" r="1.0" fill="#b47c48"/>
<circle cx="122.5" cy="180.8" r="1.0" fill="#b47c48"/>
<circle cx="159.4" cy="206.6" r="0.9" fill="#b47c48"/>
<circle cx="150.5" cy="183.7" r="0.8" fill="#b47c48"/>
<circle cx="129.7" cy="194.1" r="1.2" fill="#b47c48"/>
<circle cx="136.0" cy="208.5" r="0.8" fill="#b47c48"/>
<circle cx="157.8" cy="191.1" r="1.3" fill="#b47c48"/>
<circle cx="117.6" cy="213.0" r="0.9" fill="#b47c48"/>
<circle cx="154.3" cy="211.8" r="1.2" fill="#b47c48"/>
<circle cx="128.6" cy="176.1" r="0.8" fill="#b47c48"/>
<circle cx="156.6" cy="182.8" r="1.2" fill="#b47c48"/>
<circle cx="142.4" cy="205.5" r="0.8" fill="#b47c48"/>
<circle cx="122.6" cy="180.1" r="1.4" fill="#b47c48"/>
<circle cx="133.3" cy="205.1" r="1.1" fill="#b47c48"/>
<circle cx="126.2" cy="178.6" r="0.7" fill="#b47c48"/>
<circle cx="154.2" cy="181.6" r="1.4" fill="#b47c48"/>
<circle cx="132.4" cy="208.2" r="0.8" fill="#b47c48"/>
<circle cx="151.3" cy="187.0" r="1.0" fill="#b47c48"/>
<circle cx="139.5" cy="180.7" r="0.9" fill="#b47c48"/>
<circle cx="151.7" cy="188.5" r="1.0" fill="#b47c48"/>
<circle cx="150.3" cy="185.8" r="0.8" fill="#b47c48"/>
<circle cx="126.0" cy="193.0" r="1.0" fill="#b47c48"/>
<circle cx="144.8" cy="196.9" r="1.3" fill="#b47c48"/>
<circle cx="118.5" cy="205.6" r="1.3" fill="#b47c48"/>
<circle cx="126.7" cy="177.0" r="1.0" fill="#b47c48"/>
<circle cx="121.4" cy="196.4" r="1.2" fill="#b47c48"/>
<circle cx="120.4" cy="181.0" r="1.0" fill="#b47c48"/>
<circle cx="124.0" cy="186.1" r="1.0" fill="#b47c48"/>
<circle cx="121.5" cy="178.8" r="1.0" fill="#b47c48"/>
<circle cx="137.1" cy="217.8" r="1.1" fill="#b47c48"/>
<circle cx="119.4" cy="185.7" r="1.2" fill="#b47c48"/>
<circle cx="141.3" cy="214.9" r="1.4" fill="#b47c48"/>
<circle cx="154.5" cy="180.7" r="1.4" fill="#b47c48"/>
<circle cx="139.6" cy="186.5" r="0.8" fill="#b47c48"/>
<circle cx="154.8" cy="185.3" r="0.8" fill="#b47c48"/>
<circle cx="128.0" cy="217.3" r="1.0" fill="#b47c48"/>
<circle cx="148.8" cy="179.0" r="1.0" fill="#b47c48"/>
<circle cx="130.4" cy="184.9" r="1.2" fill="#b47c48"/>
<circle cx="132.3" cy="181.1" r="1.4" fill="#b47c48"/>
<circle cx="137.7" cy="183.8" r="0.7" fill="#b47c48"/>
<circle cx="145.3" cy="198.9" r="0.7" fill="#b47c48"/>
<circle cx="137.2" cy="209.0" r="1.1" fill="#b47c48"/>
<circle cx="126.6" cy="198.2" r="1.1" fill="#b47c48"/>
<circle cx="145.2" cy="182.2" r="1.3" fill="#b47c48"/>
<circle cx="158.4" cy="209.0" r="1.3" fill="#b47c48"/>
<circle cx="132.6" cy="216.3" r="0.8" fill="#b47c48"/>
<circle cx="126.3" cy="202.6" r="1.3" fill="#b47c48"/>
<circle cx="119.9" cy="185.5" r="0.7" fill="#b47c48"/>
<circle cx="135.8" cy="182.0" r="0.8" fill="#b47c48"/>
<circle cx="149.6" cy="201.9" r="1.4" fill="#b47c48"/>
<circle cx="134.1" cy="206.3" r="0.7" fill="#b47c48"/>
<circle cx="158.5" cy="186.2" r="1.0" fill="#b47c48"/>
<circle cx="139.0" cy="218.4" r="1.0" fill="#b47c48"/>
<circle cx="160.4" cy="203.7" r="0.9" fill="#b47c48"/>
<circle cx="153.4" cy="184.8" r="1.4" fill="#b47c48"/>
<circle cx="136.6" cy="185.9" r="1.4" fill="#b47c48"/>
<circle cx="130.6" cy="194.0" r="0.9" fill="#b47c48"/>
<circle cx="146.0" cy="176.7" r="1.0" fill="#b47c48"/>
<circle cx="123.4" cy="213.0" r="0.7" fill="#b47c48"/>
<circle cx="143.3" cy="187.3" r="1.0" fill="#b47c48"/>
<circle cx="141.3" cy="207.7" r="0.8" fill="#b47c48"/>
<circle cx="126.9" cy="181.1" r="1.4" fill="#b47c48"/>
<circle cx="122.9" cy="181.9" r="1.1" fill="#b47c48"/>
<circle cx="142.1" cy="215.6" r="0.7" fill="#b47c48"/>
<circle cx="126.7" cy="183.2" r="1.1" fill="#b47c48"/>
<circle cx="136.4" cy="194.1" r="1.3" fill="#b47c48"/>
<circle cx="145.7" cy="214.4" r="1.4" fill="#b47c48"/>
<circle cx="128.2" cy="218.1" r="1.0" fill="#b47c48"/>
<circle cx="118.5" cy="216.9" r="0.8" fill="#b47c48"/>
<circle cx="117.0" cy="188.7" r="0.9" fill="#b47c48"/>
<circle cx="159.3" cy="214.9" r="1.0" fill="#b47c48"/>
<circle cx="139.8" cy="213.9" r="1.3" fill="#b47c48"/>
<circle cx="145.3" cy="198.8" r="0.8" fill="#b47c48"/>
<circle cx="127.1" cy="205.3" r="1.1" fill="#b47c48"/>
<circle cx="151.9" cy="216.1" r="1.4" fill="#b47c48"/>
<circle cx="124.8" cy="179.1" r="1.3" fill="#b47c48"/>
<circle cx="141.6" cy="183.9" r="0.8" fill="#9a6434"/>
<circle cx="127.6" cy="186.3" r="0.7" fill="#9a6434"/>
<circle cx="139.6" cy="206.2" r="0.5" fill="#9a6434"/>
<circle cx="149.3" cy="203.8" r="0.7" fill="#9a6434"/>
<circle cx="146.2" cy="211.7" r="0.5" fill="#9a6434"/>
<circle cx="137.4" cy="206.2" r="0.9" fill="#9a6434"/>
<circle cx="145.1" cy="183.8" r="1.0" fill="#9a6434"/>
<circle cx="151.2" cy="186.2" r="0.7" fill="#9a6434"/>
<circle cx="158.9" cy="185.0" r="0.7" fill="#9a6434"/>
<circle cx="159.1" cy="216.2" r="0.6" fill="#9a6434"/>
<circle cx="149.0" cy="191.9" r="0.8" fill="#9a6434"/>
<circle cx="150.4" cy="181.4" r="0.6" fill="#9a6434"/>
<circle cx="125.8" cy="187.7" r="0.5" fill="#9a6434"/>
<circle cx="122.3" cy="194.0" r="0.7" fill="#9a6434"/>
<circle cx="119.7" cy="201.9" r="1.0" fill="#9a6434"/>
<circle cx="141.9" cy="191.7" r="0.9" fill="#9a6434"/>
<circle cx="135.7" cy="183.6" r="0.7" fill="#9a6434"/>
<circle cx="117.0" cy="206.1" r="0.6" fill="#9a6434"/>
<circle cx="132.7" cy="219.0" r="0.9" fill="#9a6434"/>
<circle cx="153.5" cy="204.6" r="0.8" fill="#9a6434"/>
<circle cx="147.6" cy="219.2" r="0.6" fill="#9a6434"/>
<circle cx="150.4" cy="189.2" r="0.6" fill="#9a6434"/>
<circle cx="152.8" cy="202.8" r="0.9" fill="#9a6434"/>
<circle cx="155.2" cy="202.2" r="0.6" fill="#9a6434"/>
<circle cx="116.9" cy="199.8" r="0.9" fill="#9a6434"/>
<circle cx="128.4" cy="178.9" r="0.5" fill="#9a6434"/>
<circle cx="123.9" cy="207.0" r="0.5" fill="#9a6434"/>
<circle cx="126.5" cy="187.6" r="0.9" fill="#9a6434"/>
<circle cx="160.2" cy="176.6" r="0.6" fill="#9a6434"/>
<circle cx="157.9" cy="219.3" r="0.6" fill="#9a6434"/>
<circle cx="131.2" cy="199.2" r="0.7" fill="#9a6434"/>
<circle cx="134.8" cy="197.2" r="0.6" fill="#9a6434"/>
<circle cx="118.7" cy="179.5" r="0.6" fill="#9a6434"/>
<circle cx="120.3" cy="203.8" r="0.8" fill="#9a6434"/>
<circle cx="127.9" cy="211.3" r="0.9" fill="#9a6434"/>
<circle cx="131.4" cy="197.8" r="0.6" fill="#9a6434"/>
<circle cx="157.6" cy="200.9" r="0.5" fill="#9a6434"/>
<circle cx="123.1" cy="206.9" r="0.7" fill="#9a6434"/>
<circle cx="148.2" cy="186.0" r="0.9" fill="#9a6434"/>
<circle cx="152.0" cy="179.9" r="0.8" fill="#9a6434"/>
<circle cx="124.7" cy="207.5" r="0.9" fill="#9a6434"/>
<circle cx="151.5" cy="186.1" r="0.5" fill="#9a6434"/>
<circle cx="145.8" cy="201.1" r="0.6" fill="#9a6434"/>
<circle cx="124.8" cy="201.9" r="0.6" fill="#9a6434"/>
<circle cx="144.5" cy="186.5" r="0.6" fill="#9a6434"/>
<circle cx="135.1" cy="199.7" r="0.9" fill="#9a6434"/>
<circle cx="117.6" cy="208.3" r="0.6" fill="#9a6434"/>
<circle cx="129.2" cy="204.5" r="0.8" fill="#9a6434"/>
<circle cx="143.6" cy="216.3" r="0.6" fill="#9a6434"/>
<circle cx="130.1" cy="205.5" r="0.6" fill="#9a6434"/>
<circle cx="123.2" cy="185.9" r="0.9" fill="#9a6434"/>
<circle cx="153.1" cy="207.9" r="1.0" fill="#9a6434"/>
<circle cx="151.6" cy="189.6" r="0.7" fill="#9a6434"/>
<circle cx="148.4" cy="178.2" r="0.8" fill="#9a6434"/>
<circle cx="120.2" cy="177.9" r="0.8" fill="#9a6434"/>
<circle cx="122.9" cy="217.6" r="0.9" fill="#9a6434"/>
<circle cx="136.8" cy="184.6" r="0.6" fill="#9a6434"/>
<circle cx="138.8" cy="199.2" r="0.7" fill="#9a6434"/>
<circle cx="148.1" cy="199.5" r="0.9" fill="#9a6434"/>
<circle cx="120.9" cy="178.9" r="0.7" fill="#9a6434"/>
<circle cx="137.8" cy="187.1" r="0.8" fill="#9a6434"/>
<circle cx="126.1" cy="190.0" r="0.7" fill="#9a6434"/>
<circle cx="148.0" cy="210.4" r="0.7" fill="#9a6434"/>
<circle cx="136.1" cy="217.4" r="1.0" fill="#9a6434"/>
<circle cx="143.8" cy="180.4" r="0.7" fill="#9a6434"/>
<circle cx="144.6" cy="188.2" r="0.5" fill="#9a6434"/>
<circle cx="160.0" cy="216.6" r="0.6" fill="#9a6434"/>
<circle cx="137.0" cy="203.6" r="0.6" fill="#9a6434"/>
<circle cx="119.3" cy="209.5" r="0.9" fill="#9a6434"/>
<circle cx="135.7" cy="179.6" r="0.7" fill="#9a6434"/>
<circle cx="120.4" cy="219.1" r="0.5" fill="#9a6434"/>
<circle cx="129.0" cy="210.3" r="0.6" fill="#9a6434"/>
<circle cx="121.0" cy="178.9" r="0.6" fill="#9a6434"/>
<circle cx="139.9" cy="213.2" r="0.6" fill="#9a6434"/>
<circle cx="123.9" cy="210.1" r="0.7" fill="#9a6434"/>
<circle cx="131.3" cy="181.2" r="0.6" fill="#9a6434"/>
<circle cx="159.5" cy="181.0" r="0.6" fill="#9a6434"/>
<circle cx="149.2" cy="215.8" r="1.0" fill="#9a6434"/>
<circle cx="137.3" cy="218.7" r="0.8" fill="#9a6434"/>
<circle cx="129.1" cy="196.6" r="0.9" fill="#9a6434"/>
<circle cx="148.9" cy="181.5" r="0.6" fill="#a0a2c4"/>
<circle cx="158.9" cy="180.5" r="0.7" fill="#a0a2c4"/>
<circle cx="131.3" cy="186.9" r="0.6" fill="#a0a2c4"/>
<circle cx="137.1" cy="220.3" r="0.5" fill="#a0a2c4"/>
<circle cx="154.3" cy="190.2" r="0.6" fill="#a0a2c4"/>
<circle cx="149.4" cy="191.1" r="0.6" fill="#a0a2c4"/>
<circle cx="134.9" cy="212.7" r="0.8" fill="#a0a2c4"/>
<circle cx="141.8" cy="176.2" r="0.7" fill="#a0a2c4"/>
<circle cx="143.3" cy="216.2" r="0.8" fill="#a0a2c4"/>
<circle cx="130.8" cy="213.9" r="0.7" fill="#a0a2c4"/>
<circle cx="128.1" cy="192.2" r="0.6" fill="#a0a2c4"/>
<circle cx="131.9" cy="192.7" r="0.5" fill="#a0a2c4"/>
<circle cx="126.3" cy="216.6" r="0.6" fill="#a0a2c4"/>
<circle cx="144.6" cy="215.6" r="0.7" fill="#a0a2c4"/>
<circle cx="127.1" cy="217.1" r="0.7" fill="#a0a2c4"/>
<circle cx="160.4" cy="208.5" r="0.7" fill="#a0a2c4"/>
<circle cx="152.5" cy="187.1" r="0.7" fill="#a0a2c4"/>
<circle cx="133.2" cy="213.5" r="0.5" fill="#a0a2c4"/>
<circle cx="140.2" cy="190.8" r="0.7" fill="#a0a2c4"/>
<circle cx="131.6" cy="213.7" r="0.8" fill="#a0a2c4"/>
<circle cx="155.4" cy="182.0" r="0.8" fill="#a0a2c4"/>
<circle cx="149.4" cy="206.2" r="0.7" fill="#a0a2c4"/>
<circle cx="118.3" cy="214.9" r="0.7" fill="#a0a2c4"/>
<circle cx="136.5" cy="191.0" r="0.7" fill="#a0a2c4"/>
<circle cx="151.1" cy="214.8" r="0.6" fill="#a0a2c4"/>
<circle cx="131.4" cy="186.9" r="0.5" fill="#a0a2c4"/>
<circle cx="130.8" cy="176.9" r="0.7" fill="#a0a2c4"/>
<circle cx="126.3" cy="178.9" r="0.5" fill="#a0a2c4"/>
<circle cx="149.3" cy="184.6" r="0.6" fill="#a0a2c4"/>
<circle cx="134.1" cy="211.8" r="0.8" fill="#a0a2c4"/>
<circle cx="130.0" cy="204.2" r="0.8" fill="#a0a2c4"/>
<circle cx="137.2" cy="216.2" r="0.7" fill="#a0a2c4"/>
<circle cx="130.1" cy="215.0" r="0.7" fill="#a0a2c4"/>
<circle cx="120.9" cy="202.1" r="0.7" fill="#a0a2c4"/>
<circle cx="139.3" cy="197.5" r="0.6" fill="#a0a2c4"/>
<circle cx="155.5" cy="205.6" r="0.6" fill="#a0a2c4"/>
<circle cx="132.4" cy="192.0" r="0.8" fill="#a0a2c4"/>
<circle cx="147.2" cy="181.3" r="0.8" fill="#a0a2c4"/>
<circle cx="117.8" cy="202.3" r="0.6" fill="#a0a2c4"/>
<circle cx="148.2" cy="195.0" r="0.5" fill="#a0a2c4"/>
<circle cx="139.6" cy="212.6" r="0.7" fill="#a0a2c4"/>
<circle cx="132.1" cy="185.7" r="0.7" fill="#a0a2c4"/>
<circle cx="152.0" cy="185.6" r="0.8" fill="#a0a2c4"/>
<circle cx="160.5" cy="195.2" r="0.6" fill="#a0a2c4"/>
<circle cx="147.9" cy="217.5" r="0.6" fill="#a0a2c4"/>
<circle cx="129.7" cy="190.5" r="0.7" fill="#a0a2c4"/>
<circle cx="124.5" cy="200.3" r="0.7" fill="#a0a2c4"/>
<circle cx="146.0" cy="182.1" r="0.8" fill="#a0a2c4"/>
<circle cx="160.8" cy="200.9" r="0.7" fill="#a0a2c4"/>
<circle cx="124.4" cy="216.7" r="0.7" fill="#a0a2c4"/>
<circle cx="150.1" cy="214.8" r="0.6" fill="#a0a2c4"/>
<circle cx="157.4" cy="185.0" r="0.5" fill="#a0a2c4"/>
<circle cx="138.6" cy="216.1" r="0.8" fill="#a0a2c4"/>
<circle cx="158.8" cy="198.7" r="0.8" fill="#a0a2c4"/>
<circle cx="141.2" cy="182.2" r="0.7" fill="#a0a2c4"/>
<circle cx="152.0" cy="194.8" r="0.7" fill="#a0a2c4"/>
<circle cx="127.8" cy="188.1" r="0.6" fill="#a0a2c4"/>
<circle cx="139.1" cy="196.8" r="0.5" fill="#a0a2c4"/>
<circle cx="116.5" cy="191.0" r="0.7" fill="#a0a2c4"/>
<circle cx="149.6" cy="186.4" r="0.6" fill="#a0a2c4"/>
<circle cx="139.2" cy="183.6" r="1.0" fill="#dcd8d4"/>
<circle cx="156.5" cy="184.8" r="1.0" fill="#dcd8d4"/>
<circle cx="148.3" cy="209.4" r="1.0" fill="#dcd8d4"/>
<circle cx="147.9" cy="188.0" r="1.1" fill="#dcd8d4"/>
<circle cx="157.5" cy="178.1" r="1.2" fill="#dcd8d4"/>
<circle cx="135.9" cy="179.6" r="0.6" fill="#dcd8d4"/>
<circle cx="151.7" cy="206.2" r="0.7" fill="#dcd8d4"/>
<circle cx="136.7" cy="204.4" r="1.2" fill="#dcd8d4"/>
<circle cx="131.2" cy="210.2" r="0.7" fill="#dcd8d4"/>
<circle cx="125.1" cy="183.0" r="0.8" fill="#dcd8d4"/>
<circle cx="143.8" cy="189.3" r="0.7" fill="#dcd8d4"/>
<circle cx="125.9" cy="179.5" r="0.7" fill="#dcd8d4"/>
<circle cx="130.3" cy="198.4" r="0.7" fill="#dcd8d4"/>
<circle cx="137.6" cy="195.5" r="1.2" fill="#dcd8d4"/>
<circle cx="137.9" cy="218.2" r="0.9" fill="#dcd8d4"/>
<circle cx="125.0" cy="202.3" r="0.7" fill="#dcd8d4"/>
<circle cx="123.7" cy="179.0" r="1.0" fill="#dcd8d4"/>
<circle cx="159.3" cy="193.9" r="0.8" fill="#dcd8d4"/>
<circle cx="135.2" cy="191.5" r="1.0" fill="#dcd8d4"/>
<circle cx="133.7" cy="182.6" r="1.1" fill="#dcd8d4"/>
<circle cx="141.7" cy="176.0" r="1.1" fill="#dcd8d4"/>
<circle cx="148.7" cy="191.7" r="1.0" fill="#dcd8d4"/>
<circle cx="157.2" cy="193.8" r="0.9" fill="#dcd8d4"/>
<circle cx="129.5" cy="200.6" r="1.0" fill="#dcd8d4"/>
<circle cx="149.0" cy="218.4" r="0.7" fill="#dcd8d4"/>
<circle cx="132.5" cy="214.0" r="1.1" fill="#dcd8d4"/>
<circle cx="142.5" cy="206.2" r="0.8" fill="#dcd8d4"/>
<circle cx="158.3" cy="200.4" r="0.8" fill="#dcd8d4"/>
<circle cx="124.3" cy="180.9" r="1.1" fill="#dcd8d4"/>
<circle cx="151.9" cy="176.9" r="0.8" fill="#dcd8d4"/>
</g></g>
<rect x="162.8" y="175.7" width="44.6" height="45" fill="#c8ccda"/>
<g clip-path="url(#t03)"><g filter="url(#bl)">
<rect x="162.8" y="175.7" width="44.6" height="45" fill="#c8ccda"/>
<circle cx="184.2" cy="198.0" r="0.6" fill="#a2aacc"/>
<circle cx="202.7" cy="191.4" r="0.7" fill="#a2aacc"/>
<circle cx="204.3" cy="204.5" r="0.7" fill="#a2aacc"/>
<circle cx="177.6" cy="193.1" r="0.7" fill="#a2aacc"/>
<circle cx="197.9" cy="187.4" r="0.6" fill="#a2aacc"/>
<circle cx="180.1" cy="192.0" r="0.9" fill="#a2aacc"/>
<circle cx="186.8" cy="188.1" r="0.6" fill="#a2aacc"/>
<circle cx="199.4" cy="182.9" r="0.8" fill="#a2aacc"/>
<circle cx="163.8" cy="184.4" r="0.5" fill="#a2aacc"/>
<circle cx="198.7" cy="182.3" r="0.6" fill="#a2aacc"/>
<circle cx="165.4" cy="187.6" r="0.8" fill="#a2aacc"/>
<circle cx="194.9" cy="216.7" r="0.9" fill="#a2aacc"/>
<circle cx="187.4" cy="217.2" r="0.5" fill="#a2aacc"/>
<circle cx="204.1" cy="195.2" r="0.6" fill="#a2aacc"/>
<circle cx="196.2" cy="214.3" r="0.7" fill="#a2aacc"/>
<circle cx="167.0" cy="215.0" r="0.8" fill="#a2aacc"/>
<circle cx="189.4" cy="219.7" r="0.5" fill="#a2aacc"/>
<circle cx="165.3" cy="181.3" r="0.5" fill="#a2aacc"/>
<circle cx="194.4" cy="204.1" r="0.5" fill="#a2aacc"/>
<circle cx="170.0" cy="183.8" r="0.7" fill="#a2aacc"/>
<circle cx="192.8" cy="219.3" r="0.6" fill="#a2aacc"/>
<circle cx="206.5" cy="195.3" r="0.7" fill="#a2aacc"/>
<circle cx="174.1" cy="186.2" r="0.9" fill="#a2aacc"/>
<circle cx="207.2" cy="207.5" r="0.6" fill="#a2aacc"/>
<circle cx="170.8" cy="182.6" r="0.6" fill="#a2aacc"/>
<circle cx="195.7" cy="178.4" r="0.7" fill="#a2aacc"/>
<circle cx="193.2" cy="177.2" r="0.7" fill="#a2aacc"/>
<circle cx="198.1" cy="201.6" r="0.7" fill="#a2aacc"/>
<circle cx="202.1" cy="202.7" r="0.6" fill="#a2aacc"/>
<circle cx="180.5" cy="218.2" r="0.8" fill="#a2aacc"/>
<circle cx="203.6" cy="200.9" r="0.6" fill="#a2aacc"/>
<circle cx="170.6" cy="192.9" r="0.8" fill="#a2aacc"/>
<circle cx="163.0" cy="211.8" r="0.8" fill="#a2aacc"/>
<circle cx="185.8" cy="176.0" r="0.8" fill="#a2aacc"/>
<circle cx="181.3" cy="205.8" r="0.7" fill="#a2aacc"/>
<circle cx="195.3" cy="194.1" r="0.9" fill="#a2aacc"/>
<circle cx="205.4" cy="217.5" r="0.7" fill="#a2aacc"/>
<circle cx="176.9" cy="192.6" r="0.6" fill="#a2aacc"/>
<circle cx="203.1" cy="211.3" r="0.8" fill="#a2aacc"/>
<circle cx="199.4" cy="220.3" r="0.8" fill="#a2aacc"/>
<circle cx="177.0" cy="209.8" r="0.6" fill="#a2aacc"/>
<circle cx="190.0" cy="182.8" r="0.8" fill="#a2aacc"/>
<circle cx="184.6" cy="188.1" r="0.9" fill="#a2aacc"/>
<circle cx="166.5" cy="217.6" r="0.8" fill="#a2aacc"/>
<circle cx="169.4" cy="209.9" r="0.7" fill="#a2aacc"/>
<circle cx="203.3" cy="202.1" r="0.7" fill="#a2aacc"/>
<circle cx="204.4" cy="179.6" r="0.8" fill="#a2aacc"/>
<circle cx="167.4" cy="188.1" r="0.5" fill="#a2aacc"/>
<circle cx="201.7" cy="195.6" r="0.8" fill="#a2aacc"/>
<circle cx="174.2" cy="208.6" r="0.8" fill="#a2aacc"/>
<circle cx="167.2" cy="197.9" r="0.8" fill="#a2aacc"/>
<circle cx="172.4" cy="205.1" r="0.6" fill="#a2aacc"/>
<circle cx="179.3" cy="217.1" r="0.9" fill="#a2aacc"/>
<circle cx="207.3" cy="194.9" r="0.7" fill="#a2aacc"/>
<circle cx="198.9" cy="209.8" r="0.7" fill="#a2aacc"/>
<circle cx="201.3" cy="193.8" r="0.9" fill="#a2aacc"/>
<circle cx="183.9" cy="181.0" r="0.8" fill="#a2aacc"/>
<circle cx="169.3" cy="206.3" r="0.5" fill="#a2aacc"/>
<circle cx="206.9" cy="200.0" r="0.8" fill="#a2aacc"/>
<circle cx="168.6" cy="204.4" r="0.7" fill="#a2aacc"/>
<circle cx="173.9" cy="212.4" r="0.5" fill="#a2aacc"/>
<circle cx="184.1" cy="179.6" r="0.8" fill="#a2aacc"/>
<circle cx="202.6" cy="177.2" r="0.7" fill="#a2aacc"/>
<circle cx="183.7" cy="208.0" r="0.8" fill="#a2aacc"/>
<circle cx="178.1" cy="217.7" r="0.6" fill="#a2aacc"/>
<circle cx="168.9" cy="212.4" r="0.5" fill="#a2aacc"/>
<circle cx="171.1" cy="198.2" r="0.6" fill="#a2aacc"/>
<circle cx="170.1" cy="217.5" r="0.7" fill="#a2aacc"/>
<circle cx="197.8" cy="187.0" r="0.9" fill="#a2aacc"/>
<circle cx="172.7" cy="216.5" r="0.7" fill="#a2aacc"/>
<circle cx="206.1" cy="210.4" r="0.8" fill="#a2aacc"/>
<circle cx="186.6" cy="214.2" r="0.7" fill="#a2aacc"/>
<circle cx="167.2" cy="216.8" r="0.8" fill="#a2aacc"/>
<circle cx="193.2" cy="209.2" r="0.6" fill="#a2aacc"/>
<circle cx="183.5" cy="212.7" r="0.9" fill="#a2aacc"/>
<circle cx="204.0" cy="182.9" r="0.8" fill="#a2aacc"/>
<circle cx="187.5" cy="193.9" r="0.6" fill="#a2aacc"/>
<circle cx="168.9" cy="196.9" r="0.7" fill="#a2aacc"/>
<circle cx="174.7" cy="192.2" r="0.7" fill="#a2aacc"/>
<circle cx="196.8" cy="202.2" r="0.6" fill="#a2aacc"/>
<circle cx="202.3" cy="192.2" r="0.9" fill="#a2aacc"/>
<circle cx="206.6" cy="182.0" r="0.7" fill="#a2aacc"/>
<circle cx="205.9" cy="193.0" r="0.7" fill="#a2aacc"/>
<circle cx="176.8" cy="177.0" r="0.6" fill="#a2aacc"/>
<circle cx="168.3" cy="188.5" r="0.8" fill="#a2aacc"/>
<circle cx="187.9" cy="218.4" r="0.8" fill="#a2aacc"/>
<circle cx="179.0" cy="218.4" r="0.8" fill="#a2aacc"/>
<circle cx="187.0" cy="214.5" r="0.8" fill="#a2aacc"/>
<circle cx="178.9" cy="202.9" r="0.6" fill="#a2aacc"/>
<circle cx="206.0" cy="186.7" r="0.9" fill="#a2aacc"/>
<circle cx="165.7" cy="176.1" r="0.7" fill="#a2aacc"/>
<circle cx="172.0" cy="198.5" r="0.5" fill="#a2aacc"/>
<circle cx="200.1" cy="205.8" r="0.8" fill="#a2aacc"/>
<circle cx="204.1" cy="220.3" r="0.8" fill="#a2aacc"/>
<circle cx="194.6" cy="175.8" r="0.5" fill="#a2aacc"/>
<circle cx="181.8" cy="219.3" r="0.6" fill="#a2aacc"/>
<circle cx="188.2" cy="176.1" r="0.7" fill="#a2aacc"/>
<circle cx="203.1" cy="202.2" r="0.8" fill="#a2aacc"/>
<circle cx="163.4" cy="184.8" r="0.6" fill="#a2aacc"/>
<circle cx="199.9" cy="180.3" r="0.9" fill="#a2aacc"/>
<circle cx="174.7" cy="215.3" r="0.7" fill="#a2aacc"/>
<circle cx="177.2" cy="219.2" r="0.7" fill="#a2aacc"/>
<circle cx="193.9" cy="178.7" r="0.8" fill="#a2aacc"/>
<circle cx="206.6" cy="180.7" r="0.8" fill="#a2aacc"/>
<circle cx="174.9" cy="182.4" r="0.6" fill="#a2aacc"/>
<circle cx="192.3" cy="218.6" r="0.9" fill="#a2aacc"/>
<circle cx="207.1" cy="203.7" r="0.8" fill="#a2aacc"/>
<circle cx="170.0" cy="208.4" r="0.7" fill="#a2aacc"/>
<circle cx="178.8" cy="216.2" r="0.6" fill="#a2aacc"/>
<circle cx="169.1" cy="182.8" r="0.6" fill="#a2aacc"/>
<circle cx="189.0" cy="211.7" r="0.6" fill="#a2aacc"/>
<circle cx="185.2" cy="201.5" r="0.7" fill="#a2aacc"/>
<circle cx="181.2" cy="200.2" r="0.5" fill="#a2aacc"/>
<circle cx="165.4" cy="194.7" r="0.6" fill="#a2aacc"/>
<circle cx="196.6" cy="186.6" r="0.8" fill="#a2aacc"/>
<circle cx="173.6" cy="179.9" r="0.7" fill="#a2aacc"/>
<circle cx="180.1" cy="190.8" r="0.8" fill="#a2aacc"/>
<circle cx="172.7" cy="205.9" r="0.8" fill="#a2aacc"/>
<circle cx="183.0" cy="198.3" r="0.9" fill="#a2aacc"/>
<circle cx="189.7" cy="183.8" r="0.5" fill="#a2aacc"/>
<circle cx="166.5" cy="190.6" r="0.5" fill="#a2aacc"/>
<circle cx="191.7" cy="194.8" r="0.6" fill="#a2aacc"/>
<circle cx="185.6" cy="217.8" r="0.6" fill="#a2aacc"/>
<circle cx="169.7" cy="189.4" r="0.6" fill="#a2aacc"/>
<circle cx="203.4" cy="207.5" r="0.7" fill="#a2aacc"/>
<circle cx="170.2" cy="177.7" r="0.5" fill="#a2aacc"/>
<circle cx="200.6" cy="204.9" r="0.6" fill="#a2aacc"/>
<circle cx="190.7" cy="178.3" r="0.7" fill="#a2aacc"/>
<circle cx="177.8" cy="180.3" r="0.8" fill="#a2aacc"/>
<circle cx="194.8" cy="198.7" r="0.6" fill="#a2aacc"/>
<circle cx="192.7" cy="195.2" r="0.8" fill="#a2aacc"/>
<circle cx="166.9" cy="216.3" r="0.5" fill="#a2aacc"/>
<circle cx="172.7" cy="193.6" r="0.6" fill="#a2aacc"/>
<circle cx="166.7" cy="206.6" r="0.9" fill="#a2aacc"/>
<circle cx="177.7" cy="187.7" r="0.8" fill="#a2aacc"/>
<circle cx="172.7" cy="193.7" r="0.8" fill="#a2aacc"/>
<circle cx="182.0" cy="182.7" r="0.5" fill="#a2aacc"/>
<circle cx="187.0" cy="220.3" r="0.9" fill="#a2aacc"/>
<circle cx="167.3" cy="198.3" r="0.7" fill="#a2aacc"/>
<circle cx="171.5" cy="205.8" r="0.7" fill="#a2aacc"/>
<circle cx="198.9" cy="188.8" r="0.9" fill="#a2aacc"/>
<circle cx="199.1" cy="197.0" r="0.6" fill="#a2aacc"/>
<circle cx="184.4" cy="181.4" r="0.8" fill="#a2aacc"/>
<circle cx="193.9" cy="201.7" r="0.9" fill="#a2aacc"/>
<circle cx="164.8" cy="207.9" r="0.8" fill="#a2aacc"/>
<circle cx="167.8" cy="190.2" r="0.5" fill="#a2aacc"/>
<circle cx="188.8" cy="208.2" r="0.6" fill="#a2aacc"/>
<circle cx="193.8" cy="192.2" r="0.8" fill="#a2aacc"/>
<circle cx="175.2" cy="219.7" r="0.7" fill="#a2aacc"/>
<circle cx="163.0" cy="179.8" r="0.8" fill="#a2aacc"/>
<circle cx="201.4" cy="204.4" r="0.6" fill="#a2aacc"/>
<circle cx="201.7" cy="208.0" r="0.5" fill="#a2aacc"/>
<circle cx="179.8" cy="205.9" r="0.5" fill="#a2aacc"/>
<circle cx="164.7" cy="191.6" r="0.8" fill="#a2aacc"/>
<circle cx="207.2" cy="190.0" r="0.9" fill="#a2aacc"/>
<circle cx="197.9" cy="214.6" r="0.7" fill="#a2aacc"/>
<circle cx="206.0" cy="204.7" r="0.9" fill="#a2aacc"/>
<circle cx="188.0" cy="184.5" r="0.7" fill="#a2aacc"/>
<circle cx="184.3" cy="190.9" r="0.6" fill="#a2aacc"/>
<circle cx="185.6" cy="202.2" r="0.6" fill="#a2aacc"/>
<circle cx="175.2" cy="198.3" r="0.7" fill="#a2aacc"/>
<circle cx="181.5" cy="205.6" r="0.6" fill="#a2aacc"/>
<circle cx="186.5" cy="188.1" r="0.8" fill="#a2aacc"/>
<circle cx="194.2" cy="210.8" r="0.7" fill="#a2aacc"/>
<circle cx="173.9" cy="217.4" r="0.7" fill="#a2aacc"/>
<circle cx="179.5" cy="188.8" r="0.7" fill="#a2aacc"/>
<circle cx="194.4" cy="212.5" r="0.7" fill="#a2aacc"/>
<circle cx="195.4" cy="185.3" r="0.7" fill="#a2aacc"/>
<circle cx="178.8" cy="189.5" r="0.6" fill="#a2aacc"/>
<circle cx="196.5" cy="208.7" r="0.6" fill="#a2aacc"/>
<circle cx="173.2" cy="211.0" r="0.8" fill="#a2aacc"/>
<circle cx="193.0" cy="204.3" r="0.8" fill="#a2aacc"/>
<circle cx="175.0" cy="178.4" r="0.6" fill="#a2aacc"/>
<circle cx="164.2" cy="219.0" r="0.7" fill="#a2aacc"/>
<circle cx="192.7" cy="219.2" r="0.8" fill="#a2aacc"/>
<circle cx="173.0" cy="190.9" r="0.5" fill="#a2aacc"/>
<circle cx="198.3" cy="208.9" r="0.7" fill="#a2aacc"/>
<circle cx="179.3" cy="187.8" r="0.7" fill="#a2aacc"/>
<circle cx="194.6" cy="216.0" r="0.8" fill="#a2aacc"/>
<circle cx="201.5" cy="195.5" r="0.7" fill="#a2aacc"/>
<circle cx="176.8" cy="219.5" r="0.6" fill="#a2aacc"/>
<circle cx="169.8" cy="188.3" r="0.9" fill="#a2aacc"/>
<circle cx="200.8" cy="190.6" r="0.8" fill="#a2aacc"/>
<circle cx="202.5" cy="194.9" r="0.6" fill="#a2aacc"/>
<circle cx="197.3" cy="192.6" r="0.5" fill="#a2aacc"/>
<circle cx="203.1" cy="195.5" r="0.7" fill="#a2aacc"/>
<circle cx="189.3" cy="187.2" r="0.5" fill="#a2aacc"/>
<circle cx="180.2" cy="192.8" r="0.5" fill="#a2aacc"/>
<circle cx="179.4" cy="210.0" r="0.6" fill="#a2aacc"/>
<circle cx="193.1" cy="203.8" r="0.6" fill="#a2aacc"/>
<circle cx="163.7" cy="206.0" r="0.7" fill="#a2aacc"/>
<circle cx="175.9" cy="184.7" r="0.8" fill="#a2aacc"/>
<circle cx="203.4" cy="186.2" r="0.7" fill="#a2aacc"/>
<circle cx="188.4" cy="190.2" r="0.5" fill="#a2aacc"/>
<circle cx="177.3" cy="204.7" r="0.7" fill="#a2aacc"/>
<circle cx="185.5" cy="181.2" r="0.6" fill="#a2aacc"/>
<circle cx="176.7" cy="194.4" r="0.6" fill="#a2aacc"/>
<circle cx="203.0" cy="180.9" r="0.9" fill="#a2aacc"/>
<circle cx="173.5" cy="214.2" r="0.6" fill="#a2aacc"/>
<circle cx="189.0" cy="192.7" r="0.5" fill="#a2aacc"/>
<circle cx="198.3" cy="212.2" r="0.6" fill="#a2aacc"/>
<circle cx="197.4" cy="197.3" r="0.9" fill="#a2aacc"/>
<circle cx="165.2" cy="192.8" r="0.6" fill="#a2aacc"/>
<circle cx="190.7" cy="210.7" r="0.8" fill="#a2aacc"/>
<circle cx="187.3" cy="193.1" r="0.8" fill="#a2aacc"/>
<circle cx="167.5" cy="187.4" r="0.8" fill="#a2aacc"/>
<circle cx="182.4" cy="220.4" r="0.5" fill="#a2aacc"/>
<circle cx="183.4" cy="185.3" r="0.5" fill="#a2aacc"/>
<circle cx="167.0" cy="179.8" r="0.6" fill="#a2aacc"/>
<circle cx="182.1" cy="198.6" r="0.6" fill="#a2aacc"/>
<circle cx="194.1" cy="198.9" r="0.9" fill="#a2aacc"/>
<circle cx="170.3" cy="198.7" r="0.7" fill="#a2aacc"/>
<circle cx="179.4" cy="214.5" r="0.6" fill="#a2aacc"/>
<circle cx="201.9" cy="191.8" r="0.6" fill="#a2aacc"/>
<circle cx="190.2" cy="201.1" r="0.6" fill="#a2aacc"/>
<circle cx="166.6" cy="218.7" r="0.6" fill="#a2aacc"/>
<circle cx="167.9" cy="205.2" r="0.7" fill="#a2aacc"/>
<circle cx="177.4" cy="190.5" r="0.8" fill="#a2aacc"/>
<circle cx="177.9" cy="194.5" r="0.9" fill="#a2aacc"/>
<circle cx="178.9" cy="193.8" r="0.6" fill="#a2aacc"/>
<circle cx="192.3" cy="205.6" r="0.7" fill="#a2aacc"/>
<circle cx="180.9" cy="186.2" r="0.8" fill="#a2aacc"/>
<circle cx="183.2" cy="213.1" r="0.6" fill="#a2aacc"/>
<circle cx="195.5" cy="177.0" r="0.6" fill="#a2aacc"/>
<circle cx="205.6" cy="206.4" r="0.8" fill="#a2aacc"/>
<circle cx="185.0" cy="197.0" r="0.6" fill="#a2aacc"/>
<circle cx="170.5" cy="204.7" r="0.8" fill="#a2aacc"/>
<circle cx="174.3" cy="204.7" r="0.6" fill="#a2aacc"/>
<circle cx="190.1" cy="183.4" r="0.7" fill="#a2aacc"/>
<circle cx="176.8" cy="200.5" r="0.6" fill="#a2aacc"/>
<circle cx="184.4" cy="203.4" r="0.6" fill="#c49a6a"/>
<circle cx="176.6" cy="206.2" r="0.7" fill="#c49a6a"/>
<circle cx="190.3" cy="210.8" r="0.7" fill="#c49a6a"/>
<circle cx="172.7" cy="195.6" r="0.8" fill="#c49a6a"/>
<circle cx="188.1" cy="209.6" r="0.6" fill="#c49a6a"/>
<circle cx="182.8" cy="219.3" r="0.8" fill="#c49a6a"/>
<circle cx="191.9" cy="180.5" r="0.7" fill="#c49a6a"/>
<circle cx="164.3" cy="217.7" r="0.9" fill="#c49a6a"/>
<circle cx="195.3" cy="187.7" r="0.8" fill="#c49a6a"/>
<circle cx="170.7" cy="213.0" r="0.7" fill="#c49a6a"/>
<circle cx="163.5" cy="215.8" r="0.7" fill="#c49a6a"/>
<circle cx="199.8" cy="206.7" r="0.7" fill="#c49a6a"/>
<circle cx="201.3" cy="184.8" r="0.9" fill="#c49a6a"/>
<circle cx="177.9" cy="176.9" r="0.6" fill="#c49a6a"/>
<circle cx="165.7" cy="178.9" r="0.7" fill="#c49a6a"/>
<circle cx="168.2" cy="182.9" r="0.6" fill="#c49a6a"/>
<circle cx="175.2" cy="217.1" r="0.9" fill="#c49a6a"/>
<circle cx="201.6" cy="220.2" r="0.7" fill="#c49a6a"/>
<circle cx="198.3" cy="188.3" r="0.9" fill="#c49a6a"/>
<circle cx="199.0" cy="208.6" r="0.6" fill="#c49a6a"/>
<circle cx="166.9" cy="217.3" r="0.7" fill="#c49a6a"/>
<circle cx="190.1" cy="214.5" r="0.6" fill="#c49a6a"/>
<circle cx="194.0" cy="196.6" r="0.8" fill="#c49a6a"/>
<circle cx="183.1" cy="184.6" r="0.9" fill="#c49a6a"/>
<circle cx="175.3" cy="209.2" r="0.8" fill="#c49a6a"/>
<circle cx="173.9" cy="207.0" r="0.7" fill="#c49a6a"/>
<circle cx="172.8" cy="185.5" r="0.9" fill="#c49a6a"/>
<circle cx="179.2" cy="198.6" r="0.7" fill="#c49a6a"/>
<circle cx="164.0" cy="209.6" r="0.8" fill="#c49a6a"/>
<circle cx="201.9" cy="191.8" r="0.6" fill="#c49a6a"/>
<circle cx="178.3" cy="208.6" r="0.8" fill="#c49a6a"/>
<circle cx="180.9" cy="199.3" r="0.6" fill="#c49a6a"/>
<circle cx="203.8" cy="196.9" r="0.7" fill="#c49a6a"/>
<circle cx="197.9" cy="184.6" r="0.8" fill="#c49a6a"/>
<circle cx="178.6" cy="212.3" r="0.5" fill="#c49a6a"/>
<circle cx="175.1" cy="204.3" r="0.7" fill="#c49a6a"/>
<circle cx="179.6" cy="201.7" r="0.6" fill="#c49a6a"/>
<circle cx="182.3" cy="175.8" r="0.8" fill="#c49a6a"/>
<circle cx="174.1" cy="213.1" r="0.7" fill="#c49a6a"/>
<circle cx="189.6" cy="203.9" r="0.6" fill="#c49a6a"/>
<circle cx="197.5" cy="188.8" r="0.8" fill="#c49a6a"/>
<circle cx="197.9" cy="206.2" r="0.8" fill="#c49a6a"/>
<circle cx="182.3" cy="206.0" r="0.9" fill="#c49a6a"/>
<circle cx="171.2" cy="180.2" r="0.7" fill="#c49a6a"/>
<circle cx="185.5" cy="182.4" r="0.6" fill="#c49a6a"/>
<circle cx="201.4" cy="193.2" r="0.6" fill="#c49a6a"/>
<circle cx="171.0" cy="201.7" r="0.6" fill="#c49a6a"/>
<circle cx="184.0" cy="199.9" r="0.7" fill="#c49a6a"/>
<circle cx="185.3" cy="213.4" r="0.5" fill="#c49a6a"/>
<circle cx="204.3" cy="184.7" r="0.5" fill="#c49a6a"/>
<circle cx="197.0" cy="201.3" r="0.9" fill="#d8dae2"/>
<circle cx="172.5" cy="210.8" r="0.8" fill="#d8dae2"/>
<circle cx="195.2" cy="186.0" r="0.9" fill="#d8dae2"/>
<circle cx="191.7" cy="192.4" r="0.9" fill="#d8dae2"/>
<circle cx="165.7" cy="204.7" r="1.0" fill="#d8dae2"/>
<circle cx="169.6" cy="200.5" r="1.0" fill="#d8dae2"/>
<circle cx="167.3" cy="213.5" r="1.1" fill="#d8dae2"/>
<circle cx="165.1" cy="186.9" r="0.7" fill="#d8dae2"/>
<circle cx="174.1" cy="179.6" r="0.9" fill="#d8dae2"/>
<circle cx="174.0" cy="189.2" r="0.9" fill="#d8dae2"/>
<circle cx="179.4" cy="211.2" r="1.0" fill="#d8dae2"/>
<circle cx="167.9" cy="185.8" r="0.6" fill="#d8dae2"/>
<circle cx="177.5" cy="180.6" r="1.0" fill="#d8dae2"/>
<circle cx="197.6" cy="220.5" r="0.7" fill="#d8dae2"/>
<circle cx="164.4" cy="209.8" r="0.8" fill="#d8dae2"/>
<circle cx="204.3" cy="193.4" r="0.8" fill="#d8dae2"/>
<circle cx="166.0" cy="218.4" r="0.9" fill="#d8dae2"/>
<circle cx="182.5" cy="195.4" r="1.1" fill="#d8dae2"/>
<circle cx="199.9" cy="197.1" r="0.7" fill="#d8dae2"/>
<circle cx="180.9" cy="215.8" r="0.8" fill="#d8dae2"/>
<circle cx="192.3" cy="200.9" r="0.9" fill="#d8dae2"/>
<circle cx="188.4" cy="186.7" r="0.9" fill="#d8dae2"/>
<circle cx="201.4" cy="179.3" r="0.8" fill="#d8dae2"/>
<circle cx="202.1" cy="219.7" r="0.6" fill="#d8dae2"/>
<circle cx="190.8" cy="204.1" r="1.1" fill="#d8dae2"/>
<circle cx="183.8" cy="181.6" r="0.8" fill="#d8dae2"/>
<circle cx="194.6" cy="208.5" r="0.7" fill="#d8dae2"/>
<circle cx="191.5" cy="205.3" r="1.0" fill="#d8dae2"/>
<circle cx="163.8" cy="195.6" r="0.8" fill="#d8dae2"/>
<circle cx="189.4" cy="190.9" r="0.7" fill="#d8dae2"/>
<circle cx="192.7" cy="188.6" r="1.1" fill="#d8dae2"/>
<circle cx="176.4" cy="200.3" r="1.1" fill="#d8dae2"/>
<circle cx="168.0" cy="208.6" r="0.6" fill="#d8dae2"/>
<circle cx="204.6" cy="176.8" r="1.0" fill="#d8dae2"/>
<circle cx="179.2" cy="183.8" r="0.8" fill="#d8dae2"/>
<circle cx="185.2" cy="194.4" r="0.7" fill="#d8dae2"/>
<circle cx="186.1" cy="189.2" r="1.2" fill="#d8dae2"/>
<circle cx="179.9" cy="195.3" r="0.7" fill="#d8dae2"/>
<circle cx="206.0" cy="190.2" r="1.0" fill="#d8dae2"/>
<circle cx="199.9" cy="193.4" r="1.1" fill="#d8dae2"/>
</g></g>
<rect x="208.9" y="175.7" width="44.6" height="45" fill="#cacedc"/>
<g clip-path="url(#t04)"><g filter="url(#bl)">
<rect x="208.9" y="175.7" width="44.6" height="45" fill="#cacedc"/>
<circle cx="221.3" cy="180.6" r="0.5" fill="#a2aacd"/>
<circle cx="228.9" cy="215.0" r="0.6" fill="#a2aacd"/>
<circle cx="228.5" cy="210.0" r="0.6" fill="#a2aacd"/>
<circle cx="215.7" cy="199.1" r="0.7" fill="#a2aacd"/>
<circle cx="250.8" cy="216.1" r="0.6" fill="#a2aacd"/>
<circle cx="233.9" cy="194.4" r="0.5" fill="#a2aacd"/>
<circle cx="228.7" cy="216.9" r="0.6" fill="#a2aacd"/>
<circle cx="235.0" cy="207.7" r="0.5" fill="#a2aacd"/>
<circle cx="250.1" cy="180.6" r="0.6" fill="#a2aacd"/>
<circle cx="240.8" cy="176.6" r="0.7" fill="#a2aacd"/>
<circle cx="214.5" cy="197.0" r="0.5" fill="#a2aacd"/>
<circle cx="215.6" cy="185.7" r="0.5" fill="#a2aacd"/>
<circle cx="212.9" cy="184.5" r="0.7" fill="#a2aacd"/>
<circle cx="215.0" cy="212.7" r="0.7" fill="#a2aacd"/>
<circle cx="220.1" cy="186.5" r="0.8" fill="#a2aacd"/>
<circle cx="211.0" cy="209.1" r="0.5" fill="#a2aacd"/>
<circle cx="251.0" cy="194.1" r="0.7" fill="#a2aacd"/>
<circle cx="247.4" cy="180.2" r="0.5" fill="#a2aacd"/>
<circle cx="239.8" cy="202.1" r="0.8" fill="#a2aacd"/>
<circle cx="221.3" cy="198.1" r="0.6" fill="#a2aacd"/>
<circle cx="228.4" cy="188.4" r="0.7" fill="#a2aacd"/>
<circle cx="222.2" cy="188.1" r="0.8" fill="#a2aacd"/>
<circle cx="212.7" cy="211.8" r="0.7" fill="#a2aacd"/>
<circle cx="219.1" cy="180.9" r="0.7" fill="#a2aacd"/>
<circle cx="231.4" cy="208.1" r="0.6" fill="#a2aacd"/>
<circle cx="227.3" cy="215.9" r="0.6" fill="#a2aacd"/>
<circle cx="252.7" cy="215.9" r="0.9" fill="#a2aacd"/>
<circle cx="251.0" cy="187.3" r="0.8" fill="#a2aacd"/>
<circle cx="236.2" cy="184.9" r="0.9" fill="#a2aacd"/>
<circle cx="237.8" cy="212.1" r="0.7" fill="#a2aacd"/>
<circle cx="212.4" cy="214.5" r="0.6" fill="#a2aacd"/>
<circle cx="220.5" cy="203.4" r="0.6" fill="#a2aacd"/>
<circle cx="229.5" cy="207.8" r="0.5" fill="#a2aacd"/>
<circle cx="238.4" cy="180.4" r="0.7" fill="#a2aacd"/>
<circle cx="237.9" cy="206.6" r="0.5" fill="#a2aacd"/>
<circle cx="217.4" cy="218.9" r="0.7" fill="#a2aacd"/>
<circle cx="227.8" cy="192.6" r="0.8" fill="#a2aacd"/>
<circle cx="241.9" cy="205.0" r="0.7" fill="#a2aacd"/>
<circle cx="234.3" cy="198.9" r="0.6" fill="#a2aacd"/>
<circle cx="251.2" cy="219.1" r="0.8" fill="#a2aacd"/>
<circle cx="253.2" cy="196.7" r="0.8" fill="#a2aacd"/>
<circle cx="219.6" cy="209.1" r="0.8" fill="#a2aacd"/>
<circle cx="250.8" cy="213.2" r="0.9" fill="#a2aacd"/>
<circle cx="220.8" cy="211.1" r="0.7" fill="#a2aacd"/>
<circle cx="222.8" cy="192.3" r="0.8" fill="#a2aacd"/>
<circle cx="246.5" cy="213.7" r="0.8" fill="#a2aacd"/>
<circle cx="216.5" cy="182.7" r="0.7" fill="#a2aacd"/>
<circle cx="218.4" cy="190.8" r="0.5" fill="#a2aacd"/>
<circle cx="215.8" cy="208.0" r="0.6" fill="#a2aacd"/>
<circle cx="246.7" cy="190.5" r="0.8" fill="#a2aacd"/>
<circle cx="222.4" cy="187.7" r="0.7" fill="#a2aacd"/>
<circle cx="209.4" cy="195.3" r="0.7" fill="#a2aacd"/>
<circle cx="209.5" cy="214.5" r="0.7" fill="#a2aacd"/>
<circle cx="208.9" cy="218.9" r="0.6" fill="#a2aacd"/>
<circle cx="220.2" cy="176.8" r="0.5" fill="#a2aacd"/>
<circle cx="240.6" cy="201.9" r="0.7" fill="#a2aacd"/>
<circle cx="219.9" cy="188.6" r="0.9" fill="#a2aacd"/>
<circle cx="225.5" cy="220.2" r="0.9" fill="#a2aacd"/>
<circle cx="214.5" cy="213.9" r="0.5" fill="#a2aacd"/>
<circle cx="240.6" cy="212.1" r="0.8" fill="#a2aacd"/>
<circle cx="233.4" cy="212.3" r="0.6" fill="#a2aacd"/>
<circle cx="233.0" cy="187.7" r="0.7" fill="#a2aacd"/>
<circle cx="217.4" cy="207.6" r="0.7" fill="#a2aacd"/>
<circle cx="243.7" cy="204.0" r="0.7" fill="#a2aacd"/>
<circle cx="250.0" cy="212.3" r="0.7" fill="#a2aacd"/>
<circle cx="223.4" cy="217.5" r="0.6" fill="#a2aacd"/>
<circle cx="213.5" cy="190.7" r="0.8" fill="#a2aacd"/>
<circle cx="250.4" cy="204.8" r="0.8" fill="#a2aacd"/>
<circle cx="250.7" cy="210.7" r="0.7" fill="#a2aacd"/>
<circle cx="229.5" cy="209.9" r="0.6" fill="#a2aacd"/>
<circle cx="213.8" cy="203.6" r="0.8" fill="#a2aacd"/>
<circle cx="220.0" cy="206.5" r="0.9" fill="#a2aacd"/>
<circle cx="214.6" cy="181.8" r="0.7" fill="#a2aacd"/>
<circle cx="223.8" cy="218.4" r="0.9" fill="#a2aacd"/>
<circle cx="228.8" cy="211.4" r="0.8" fill="#a2aacd"/>
<circle cx="216.6" cy="219.4" r="0.6" fill="#a2aacd"/>
<circle cx="212.3" cy="196.1" r="0.5" fill="#a2aacd"/>
<circle cx="230.3" cy="194.2" r="0.9" fill="#a2aacd"/>
<circle cx="227.3" cy="213.9" r="0.8" fill="#a2aacd"/>
<circle cx="235.0" cy="186.4" r="0.6" fill="#a2aacd"/>
<circle cx="230.8" cy="193.5" r="0.8" fill="#a2aacd"/>
<circle cx="231.4" cy="190.2" r="0.7" fill="#a2aacd"/>
<circle cx="253.3" cy="184.8" r="0.6" fill="#a2aacd"/>
<circle cx="209.4" cy="179.9" r="0.5" fill="#a2aacd"/>
<circle cx="227.8" cy="213.3" r="0.8" fill="#a2aacd"/>
<circle cx="252.0" cy="213.4" r="0.7" fill="#a2aacd"/>
<circle cx="234.8" cy="176.3" r="0.7" fill="#a2aacd"/>
<circle cx="220.6" cy="203.6" r="0.5" fill="#a2aacd"/>
<circle cx="233.1" cy="192.6" r="0.7" fill="#a2aacd"/>
<circle cx="226.9" cy="180.3" r="0.8" fill="#a2aacd"/>
<circle cx="244.6" cy="202.6" r="0.5" fill="#a2aacd"/>
<circle cx="235.6" cy="214.9" r="0.9" fill="#a2aacd"/>
<circle cx="242.7" cy="177.8" r="0.9" fill="#a2aacd"/>
<circle cx="238.6" cy="188.1" r="0.9" fill="#a2aacd"/>
<circle cx="245.7" cy="216.0" r="0.6" fill="#a2aacd"/>
<circle cx="234.6" cy="192.7" r="0.6" fill="#a2aacd"/>
<circle cx="242.9" cy="203.4" r="0.6" fill="#a2aacd"/>
<circle cx="233.1" cy="217.5" r="0.7" fill="#a2aacd"/>
<circle cx="249.6" cy="201.2" r="0.9" fill="#a2aacd"/>
<circle cx="210.2" cy="196.4" r="0.7" fill="#a2aacd"/>
<circle cx="241.3" cy="219.3" r="0.7" fill="#a2aacd"/>
<circle cx="230.2" cy="204.2" r="0.7" fill="#a2aacd"/>
<circle cx="240.3" cy="218.3" r="0.5" fill="#a2aacd"/>
<circle cx="223.2" cy="215.1" r="0.5" fill="#a2aacd"/>
<circle cx="244.1" cy="177.1" r="0.8" fill="#a2aacd"/>
<circle cx="244.6" cy="186.4" r="0.7" fill="#a2aacd"/>
<circle cx="219.0" cy="207.4" r="0.7" fill="#a2aacd"/>
<circle cx="235.9" cy="190.3" r="0.7" fill="#a2aacd"/>
<circle cx="251.5" cy="210.8" r="0.9" fill="#a2aacd"/>
<circle cx="219.9" cy="198.9" r="0.7" fill="#a2aacd"/>
<circle cx="224.3" cy="211.9" r="0.6" fill="#a2aacd"/>
<circle cx="233.8" cy="210.5" r="0.9" fill="#a2aacd"/>
<circle cx="209.7" cy="187.9" r="0.7" fill="#a2aacd"/>
<circle cx="250.7" cy="183.0" r="0.8" fill="#a2aacd"/>
<circle cx="226.6" cy="200.4" r="0.9" fill="#a2aacd"/>
<circle cx="211.8" cy="190.5" r="0.6" fill="#a2aacd"/>
<circle cx="214.9" cy="189.4" r="0.8" fill="#a2aacd"/>
<circle cx="234.8" cy="181.2" r="0.8" fill="#a2aacd"/>
<circle cx="231.5" cy="182.1" r="0.8" fill="#a2aacd"/>
<circle cx="245.5" cy="185.5" r="0.9" fill="#a2aacd"/>
<circle cx="245.0" cy="186.0" r="0.5" fill="#a2aacd"/>
<circle cx="247.6" cy="212.9" r="0.5" fill="#a2aacd"/>
<circle cx="243.1" cy="210.5" r="0.8" fill="#a2aacd"/>
<circle cx="246.0" cy="220.0" r="0.6" fill="#a2aacd"/>
<circle cx="246.1" cy="217.1" r="0.6" fill="#a2aacd"/>
<circle cx="239.4" cy="206.5" r="0.8" fill="#a2aacd"/>
<circle cx="234.2" cy="188.1" r="0.6" fill="#a2aacd"/>
<circle cx="233.1" cy="181.8" r="0.8" fill="#a2aacd"/>
<circle cx="248.6" cy="186.6" r="0.8" fill="#a2aacd"/>
<circle cx="238.9" cy="181.2" r="0.8" fill="#a2aacd"/>
<circle cx="243.1" cy="189.5" r="0.5" fill="#a2aacd"/>
<circle cx="221.5" cy="210.4" r="0.7" fill="#a2aacd"/>
<circle cx="245.3" cy="182.9" r="0.5" fill="#a2aacd"/>
<circle cx="224.5" cy="215.3" r="0.6" fill="#a2aacd"/>
<circle cx="212.2" cy="209.6" r="0.5" fill="#a2aacd"/>
<circle cx="238.7" cy="179.5" r="0.6" fill="#a2aacd"/>
<circle cx="238.5" cy="215.0" r="0.7" fill="#a2aacd"/>
<circle cx="229.0" cy="177.1" r="0.6" fill="#a2aacd"/>
<circle cx="219.7" cy="211.2" r="0.8" fill="#a2aacd"/>
<circle cx="243.9" cy="199.6" r="0.8" fill="#a2aacd"/>
<circle cx="214.6" cy="193.0" r="0.6" fill="#a2aacd"/>
<circle cx="221.5" cy="209.0" r="0.6" fill="#a2aacd"/>
<circle cx="223.4" cy="188.4" r="0.8" fill="#a2aacd"/>
<circle cx="237.4" cy="197.3" r="0.7" fill="#a2aacd"/>
<circle cx="250.0" cy="218.0" r="0.7" fill="#a2aacd"/>
<circle cx="234.2" cy="214.5" r="0.6" fill="#a2aacd"/>
<circle cx="220.4" cy="180.3" r="0.7" fill="#a2aacd"/>
<circle cx="243.2" cy="182.7" r="0.7" fill="#a2aacd"/>
<circle cx="253.1" cy="197.4" r="0.7" fill="#a2aacd"/>
<circle cx="246.3" cy="215.8" r="0.7" fill="#a2aacd"/>
<circle cx="214.4" cy="204.3" r="0.8" fill="#a2aacd"/>
<circle cx="250.1" cy="205.4" r="0.6" fill="#a2aacd"/>
<circle cx="231.9" cy="188.6" r="0.7" fill="#a2aacd"/>
<circle cx="229.8" cy="216.7" r="0.9" fill="#a2aacd"/>
<circle cx="250.2" cy="197.2" r="0.9" fill="#a2aacd"/>
<circle cx="215.1" cy="217.1" r="0.8" fill="#a2aacd"/>
<circle cx="247.8" cy="194.3" r="0.9" fill="#a2aacd"/>
<circle cx="210.0" cy="213.9" r="0.8" fill="#a2aacd"/>
<circle cx="225.6" cy="213.0" r="0.6" fill="#a2aacd"/>
<circle cx="242.5" cy="196.8" r="0.7" fill="#a2aacd"/>
<circle cx="217.7" cy="211.7" r="0.8" fill="#a2aacd"/>
<circle cx="212.9" cy="219.7" r="0.6" fill="#a2aacd"/>
<circle cx="225.6" cy="194.4" r="0.7" fill="#a2aacd"/>
<circle cx="248.6" cy="218.2" r="0.8" fill="#a2aacd"/>
<circle cx="225.2" cy="180.5" r="0.5" fill="#a2aacd"/>
<circle cx="232.0" cy="201.9" r="0.7" fill="#a2aacd"/>
<circle cx="252.7" cy="194.3" r="0.6" fill="#a2aacd"/>
<circle cx="227.5" cy="183.4" r="0.9" fill="#a2aacd"/>
<circle cx="235.3" cy="200.1" r="0.7" fill="#a2aacd"/>
<circle cx="220.1" cy="189.9" r="0.7" fill="#a2aacd"/>
<circle cx="228.8" cy="219.8" r="0.7" fill="#a2aacd"/>
<circle cx="218.1" cy="178.1" r="0.6" fill="#a2aacd"/>
<circle cx="224.3" cy="210.9" r="0.9" fill="#a2aacd"/>
<circle cx="219.4" cy="210.8" r="0.7" fill="#a2aacd"/>
<circle cx="232.9" cy="199.7" r="0.5" fill="#a2aacd"/>
<circle cx="211.9" cy="205.7" r="0.8" fill="#a2aacd"/>
<circle cx="225.9" cy="217.1" r="0.8" fill="#a2aacd"/>
<circle cx="222.4" cy="178.7" r="0.7" fill="#a2aacd"/>
<circle cx="238.1" cy="185.8" r="0.5" fill="#a2aacd"/>
<circle cx="230.6" cy="177.2" r="0.8" fill="#a2aacd"/>
<circle cx="236.8" cy="188.3" r="0.7" fill="#a2aacd"/>
<circle cx="219.3" cy="184.1" r="0.6" fill="#a2aacd"/>
<circle cx="245.3" cy="196.1" r="0.8" fill="#a2aacd"/>
<circle cx="224.4" cy="212.0" r="0.7" fill="#a2aacd"/>
<circle cx="238.1" cy="193.4" r="0.7" fill="#a2aacd"/>
<circle cx="217.4" cy="219.5" r="0.8" fill="#a2aacd"/>
<circle cx="232.6" cy="204.4" r="0.5" fill="#a2aacd"/>
<circle cx="223.8" cy="186.1" r="0.8" fill="#a2aacd"/>
<circle cx="209.5" cy="195.7" r="0.8" fill="#a2aacd"/>
<circle cx="243.8" cy="208.0" r="0.6" fill="#a2aacd"/>
<circle cx="219.3" cy="207.4" r="0.6" fill="#a2aacd"/>
<circle cx="241.1" cy="191.4" r="0.8" fill="#a2aacd"/>
<circle cx="234.5" cy="212.4" r="0.9" fill="#a2aacd"/>
<circle cx="225.8" cy="220.1" r="0.5" fill="#a2aacd"/>
<circle cx="248.0" cy="177.0" r="0.7" fill="#a2aacd"/>
<circle cx="226.2" cy="210.3" r="0.6" fill="#a2aacd"/>
<circle cx="218.2" cy="211.0" r="0.7" fill="#a2aacd"/>
<circle cx="242.6" cy="197.7" r="0.5" fill="#a2aacd"/>
<circle cx="243.3" cy="185.5" r="0.7" fill="#a2aacd"/>
<circle cx="208.9" cy="187.4" r="0.8" fill="#a2aacd"/>
<circle cx="243.0" cy="204.3" r="0.7" fill="#a2aacd"/>
<circle cx="241.6" cy="205.8" r="0.6" fill="#a2aacd"/>
<circle cx="232.8" cy="202.6" r="0.8" fill="#a2aacd"/>
<circle cx="217.7" cy="189.7" r="0.6" fill="#a2aacd"/>
<circle cx="213.2" cy="191.4" r="0.8" fill="#a2aacd"/>
<circle cx="234.7" cy="183.5" r="0.8" fill="#a2aacd"/>
<circle cx="214.1" cy="209.5" r="0.6" fill="#a2aacd"/>
<circle cx="213.2" cy="187.0" r="0.7" fill="#a2aacd"/>
<circle cx="220.9" cy="215.5" r="0.9" fill="#a2aacd"/>
<circle cx="221.5" cy="209.4" r="0.8" fill="#a2aacd"/>
<circle cx="233.9" cy="187.2" r="0.9" fill="#a2aacd"/>
<circle cx="251.6" cy="176.3" r="0.6" fill="#a2aacd"/>
<circle cx="223.2" cy="184.6" r="0.7" fill="#a2aacd"/>
<circle cx="249.0" cy="176.8" r="0.8" fill="#a2aacd"/>
<circle cx="222.7" cy="176.3" r="0.9" fill="#a2aacd"/>
<circle cx="221.0" cy="185.2" r="0.5" fill="#a2aacd"/>
<circle cx="225.3" cy="181.1" r="0.6" fill="#a2aacd"/>
<circle cx="220.1" cy="201.7" r="0.7" fill="#a2aacd"/>
<circle cx="222.5" cy="199.4" r="0.8" fill="#a2aacd"/>
<circle cx="241.2" cy="191.2" r="0.9" fill="#a2aacd"/>
<circle cx="244.2" cy="201.0" r="0.7" fill="#a2aacd"/>
<circle cx="223.6" cy="181.7" r="0.9" fill="#a2aacd"/>
<circle cx="236.0" cy="180.1" r="0.9" fill="#a2aacd"/>
<circle cx="248.5" cy="177.2" r="0.8" fill="#a2aacd"/>
<circle cx="219.5" cy="199.8" r="0.8" fill="#a2aacd"/>
<circle cx="224.5" cy="198.1" r="0.8" fill="#a2aacd"/>
<circle cx="217.5" cy="203.9" r="0.7" fill="#a2aacd"/>
<circle cx="252.7" cy="184.1" r="0.8" fill="#a2aacd"/>
<circle cx="210.7" cy="188.0" r="0.5" fill="#a2aacd"/>
<circle cx="215.5" cy="199.5" r="0.6" fill="#a2aacd"/>
<circle cx="244.3" cy="180.0" r="0.8" fill="#c0925c"/>
<circle cx="247.3" cy="181.4" r="0.6" fill="#c0925c"/>
<circle cx="243.0" cy="196.9" r="1.0" fill="#c0925c"/>
<circle cx="224.0" cy="193.6" r="1.0" fill="#c0925c"/>
<circle cx="224.2" cy="219.2" r="0.9" fill="#c0925c"/>
<circle cx="217.8" cy="200.3" r="1.0" fill="#c0925c"/>
<circle cx="214.1" cy="213.9" r="0.9" fill="#c0925c"/>
<circle cx="242.3" cy="202.7" r="0.5" fill="#c0925c"/>
<circle cx="251.6" cy="180.3" r="0.9" fill="#c0925c"/>
<circle cx="241.2" cy="190.0" r="0.8" fill="#c0925c"/>
<circle cx="227.2" cy="209.5" r="0.5" fill="#c0925c"/>
<circle cx="250.5" cy="193.0" r="0.9" fill="#c0925c"/>
<circle cx="229.9" cy="212.3" r="0.7" fill="#c0925c"/>
<circle cx="233.2" cy="176.8" r="0.7" fill="#c0925c"/>
<circle cx="212.4" cy="214.4" r="0.8" fill="#c0925c"/>
<circle cx="227.9" cy="219.5" r="1.0" fill="#c0925c"/>
<circle cx="251.6" cy="179.4" r="0.9" fill="#c0925c"/>
<circle cx="241.3" cy="203.0" r="0.5" fill="#c0925c"/>
<circle cx="250.1" cy="195.4" r="0.8" fill="#c0925c"/>
<circle cx="245.2" cy="188.1" r="0.5" fill="#c0925c"/>
<circle cx="250.1" cy="187.9" r="0.5" fill="#c0925c"/>
<circle cx="215.0" cy="220.5" r="0.9" fill="#c0925c"/>
<circle cx="218.3" cy="182.3" r="0.9" fill="#c0925c"/>
<circle cx="238.6" cy="201.9" r="0.6" fill="#c0925c"/>
<circle cx="227.3" cy="218.3" r="0.5" fill="#c0925c"/>
<circle cx="227.6" cy="178.3" r="1.0" fill="#c0925c"/>
<circle cx="213.6" cy="218.6" r="0.9" fill="#c0925c"/>
<circle cx="241.5" cy="177.6" r="0.8" fill="#c0925c"/>
<circle cx="230.9" cy="197.8" r="0.6" fill="#c0925c"/>
<circle cx="231.7" cy="211.8" r="0.6" fill="#c0925c"/>
<circle cx="248.0" cy="194.6" r="0.6" fill="#c0925c"/>
<circle cx="219.6" cy="196.4" r="0.8" fill="#c0925c"/>
<circle cx="234.3" cy="215.8" r="0.8" fill="#c0925c"/>
<circle cx="231.8" cy="220.2" r="0.6" fill="#c0925c"/>
<circle cx="209.6" cy="190.5" r="0.7" fill="#c0925c"/>
<circle cx="214.4" cy="194.5" r="0.5" fill="#c0925c"/>
<circle cx="250.0" cy="197.5" r="0.9" fill="#c0925c"/>
<circle cx="240.0" cy="208.5" r="0.9" fill="#c0925c"/>
<circle cx="222.4" cy="208.5" r="0.6" fill="#c0925c"/>
<circle cx="233.6" cy="202.5" r="0.9" fill="#c0925c"/>
<circle cx="216.4" cy="191.2" r="1.1" fill="#dadce4"/>
<circle cx="244.8" cy="219.7" r="0.7" fill="#dadce4"/>
<circle cx="218.3" cy="180.5" r="1.0" fill="#dadce4"/>
<circle cx="242.1" cy="204.9" r="1.1" fill="#dadce4"/>
<circle cx="231.9" cy="201.0" r="1.2" fill="#dadce4"/>
<circle cx="237.8" cy="205.2" r="1.0" fill="#dadce4"/>
<circle cx="230.9" cy="209.8" r="0.9" fill="#dadce4"/>
<circle cx="214.7" cy="194.9" r="0.9" fill="#dadce4"/>
<circle cx="228.2" cy="200.9" r="0.8" fill="#dadce4"/>
<circle cx="226.3" cy="194.9" r="0.8" fill="#dadce4"/>
<circle cx="252.2" cy="179.8" r="0.6" fill="#dadce4"/>
<circle cx="241.1" cy="193.5" r="0.9" fill="#dadce4"/>
<circle cx="235.3" cy="192.2" r="0.7" fill="#dadce4"/>
<circle cx="209.6" cy="215.0" r="1.2" fill="#dadce4"/>
<circle cx="221.7" cy="196.6" r="0.8" fill="#dadce4"/>
<circle cx="211.5" cy="215.9" r="1.1" fill="#dadce4"/>
<circle cx="219.7" cy="187.2" r="1.0" fill="#dadce4"/>
<circle cx="244.4" cy="196.8" r="0.8" fill="#dadce4"/>
<circle cx="219.3" cy="211.6" r="1.1" fill="#dadce4"/>
<circle cx="247.2" cy="180.8" r="1.0" fill="#dadce4"/>
<circle cx="252.8" cy="207.9" r="0.9" fill="#dadce4"/>
<circle cx="215.4" cy="178.4" r="1.0" fill="#dadce4"/>
<circle cx="212.0" cy="212.1" r="1.0" fill="#dadce4"/>
<circle cx="230.0" cy="215.8" r="1.2" fill="#dadce4"/>
<circle cx="236.4" cy="180.2" r="1.0" fill="#dadce4"/>
<circle cx="227.7" cy="186.9" r="1.2" fill="#dadce4"/>
<circle cx="241.5" cy="181.2" r="0.7" fill="#dadce4"/>
<circle cx="224.2" cy="201.5" r="0.8" fill="#dadce4"/>
<circle cx="228.5" cy="212.3" r="0.7" fill="#dadce4"/>
<circle cx="241.0" cy="190.6" r="1.2" fill="#dadce4"/>
<circle cx="251.3" cy="190.4" r="1.0" fill="#dadce4"/>
<circle cx="213.8" cy="194.2" r="1.0" fill="#dadce4"/>
<circle cx="237.4" cy="191.1" r="0.6" fill="#dadce4"/>
<circle cx="214.4" cy="200.9" r="0.7" fill="#dadce4"/>
<circle cx="222.6" cy="203.5" r="1.1" fill="#dadce4"/>
<circle cx="231.9" cy="187.2" r="1.0" fill="#dadce4"/>
<circle cx="221.2" cy="210.9" r="0.7" fill="#dadce4"/>
<circle cx="220.6" cy="195.4" r="1.1" fill="#dadce4"/>
<circle cx="216.3" cy="184.4" r="0.7" fill="#dadce4"/>
<circle cx="218.4" cy="190.7" r="0.8" fill="#dadce4"/>
</g></g>
<rect x="23.2" y="222.6" width="44.6" height="45" fill="#de7cb8"/>
<g clip-path="url(#t10)"><g filter="url(#bl)">
<rect x="23.2" y="222.6" width="44.6" height="45" fill="#de7cb8"/>
<circle cx="57.1" cy="240.8" r="0.9" fill="#a24eac"/>
<circle cx="40.9" cy="257.4" r="1.2" fill="#a24eac"/>
<circle cx="42.2" cy="264.1" r="0.8" fill="#a24eac"/>
<circle cx="66.8" cy="246.2" r="1.0" fill="#a24eac"/>
<circle cx="40.2" cy="234.8" r="0.8" fill="#a24eac"/>
<circle cx="62.7" cy="238.8" r="1.0" fill="#a24eac"/>
<circle cx="43.7" cy="246.3" r="0.8" fill="#a24eac"/>
<circle cx="31.1" cy="237.7" r="1.0" fill="#a24eac"/>
<circle cx="47.4" cy="222.7" r="1.1" fill="#a24eac"/>
<circle cx="42.5" cy="225.7" r="0.8" fill="#a24eac"/>
<circle cx="32.6" cy="259.6" r="1.0" fill="#a24eac"/>
<circle cx="37.8" cy="233.8" r="0.8" fill="#a24eac"/>
<circle cx="35.7" cy="238.2" r="1.1" fill="#a24eac"/>
<circle cx="58.4" cy="254.0" r="1.1" fill="#a24eac"/>
<circle cx="52.4" cy="227.7" r="0.7" fill="#a24eac"/>
<circle cx="30.5" cy="234.2" r="1.0" fill="#a24eac"/>
<circle cx="59.9" cy="249.0" r="0.9" fill="#a24eac"/>
<circle cx="34.0" cy="266.8" r="1.1" fill="#a24eac"/>
<circle cx="38.4" cy="224.7" r="1.2" fill="#a24eac"/>
<circle cx="34.6" cy="260.7" r="0.8" fill="#a24eac"/>
<circle cx="52.3" cy="238.6" r="1.1" fill="#a24eac"/>
<circle cx="36.4" cy="227.1" r="0.8" fill="#a24eac"/>
<circle cx="59.1" cy="266.6" r="1.0" fill="#a24eac"/>
<circle cx="53.6" cy="235.3" r="0.8" fill="#a24eac"/>
<circle cx="27.1" cy="266.9" r="0.7" fill="#a24eac"/>
<circle cx="50.5" cy="238.3" r="0.8" fill="#a24eac"/>
<circle cx="42.6" cy="264.5" r="0.8" fill="#a24eac"/>
<circle cx="30.5" cy="250.9" r="1.0" fill="#a24eac"/>
<circle cx="46.0" cy="230.7" r="1.1" fill="#a24eac"/>
<circle cx="28.1" cy="230.4" r="0.8" fill="#a24eac"/>
<circle cx="46.1" cy="244.0" r="1.0" fill="#a24eac"/>
<circle cx="55.6" cy="262.8" r="0.9" fill="#a24eac"/>
<circle cx="25.1" cy="260.0" r="0.7" fill="#a24eac"/>
<circle cx="37.4" cy="229.0" r="1.0" fill="#a24eac"/>
<circle cx="58.1" cy="228.4" r="0.8" fill="#a24eac"/>
<circle cx="61.2" cy="253.6" r="0.8" fill="#a24eac"/>
<circle cx="53.8" cy="258.3" r="0.9" fill="#a24eac"/>
<circle cx="30.1" cy="252.3" r="0.9" fill="#a24eac"/>
<circle cx="29.2" cy="230.0" r="0.9" fill="#a24eac"/>
<circle cx="28.9" cy="239.9" r="1.0" fill="#a24eac"/>
<circle cx="47.8" cy="240.8" r="1.1" fill="#a24eac"/>
<circle cx="27.1" cy="237.4" r="1.2" fill="#a24eac"/>
<circle cx="61.7" cy="264.0" r="1.1" fill="#a24eac"/>
<circle cx="47.1" cy="258.0" r="1.0" fill="#a24eac"/>
<circle cx="28.4" cy="234.1" r="0.7" fill="#a24eac"/>
<circle cx="62.2" cy="237.1" r="0.9" fill="#a24eac"/>
<circle cx="47.2" cy="227.1" r="1.1" fill="#a24eac"/>
<circle cx="58.7" cy="258.4" r="1.1" fill="#a24eac"/>
<circle cx="37.4" cy="229.1" r="1.1" fill="#a24eac"/>
<circle cx="54.1" cy="239.3" r="0.9" fill="#a24eac"/>
<circle cx="30.1" cy="260.0" r="0.9" fill="#a24eac"/>
<circle cx="59.4" cy="237.9" r="0.9" fill="#a24eac"/>
<circle cx="46.1" cy="256.2" r="1.1" fill="#a24eac"/>
<circle cx="39.0" cy="253.8" r="0.9" fill="#a24eac"/>
<circle cx="61.6" cy="256.8" r="1.0" fill="#a24eac"/>
<circle cx="39.4" cy="234.9" r="1.1" fill="#a24eac"/>
<circle cx="58.9" cy="236.3" r="0.7" fill="#a24eac"/>
<circle cx="31.9" cy="266.0" r="0.7" fill="#a24eac"/>
<circle cx="59.3" cy="246.4" r="1.0" fill="#a24eac"/>
<circle cx="47.3" cy="241.1" r="1.0" fill="#a24eac"/>
<circle cx="27.2" cy="264.0" r="0.8" fill="#a24eac"/>
<circle cx="29.4" cy="252.9" r="1.0" fill="#a24eac"/>
<circle cx="59.2" cy="253.8" r="1.2" fill="#a24eac"/>
<circle cx="25.5" cy="223.1" r="0.8" fill="#a24eac"/>
<circle cx="57.9" cy="229.5" r="1.0" fill="#a24eac"/>
<circle cx="57.6" cy="229.6" r="1.0" fill="#a24eac"/>
<circle cx="63.4" cy="256.2" r="0.9" fill="#a24eac"/>
<circle cx="44.6" cy="235.1" r="1.2" fill="#a24eac"/>
<circle cx="58.1" cy="253.2" r="0.9" fill="#a24eac"/>
<circle cx="55.8" cy="244.5" r="1.1" fill="#a24eac"/>
<circle cx="39.4" cy="262.3" r="1.0" fill="#a24eac"/>
<circle cx="43.3" cy="247.9" r="1.1" fill="#a24eac"/>
<circle cx="46.8" cy="265.8" r="0.7" fill="#a24eac"/>
<circle cx="63.2" cy="254.7" r="0.9" fill="#a24eac"/>
<circle cx="61.1" cy="229.3" r="0.9" fill="#a24eac"/>
<circle cx="55.0" cy="259.7" r="0.9" fill="#a24eac"/>
<circle cx="67.5" cy="251.8" r="0.7" fill="#a24eac"/>
<circle cx="28.7" cy="226.0" r="1.0" fill="#a24eac"/>
<circle cx="37.6" cy="234.3" r="0.9" fill="#a24eac"/>
<circle cx="26.7" cy="263.5" r="1.1" fill="#a24eac"/>
<circle cx="48.1" cy="242.6" r="0.9" fill="#a24eac"/>
<circle cx="50.1" cy="238.2" r="1.2" fill="#a24eac"/>
<circle cx="65.8" cy="255.3" r="1.1" fill="#a24eac"/>
<circle cx="26.6" cy="228.2" r="0.9" fill="#a24eac"/>
<circle cx="28.8" cy="241.6" r="1.2" fill="#a24eac"/>
<circle cx="60.4" cy="265.7" r="0.8" fill="#a24eac"/>
<circle cx="33.1" cy="223.7" r="0.8" fill="#a24eac"/>
<circle cx="25.7" cy="246.4" r="0.9" fill="#a24eac"/>
<circle cx="53.3" cy="247.8" r="1.0" fill="#a24eac"/>
<circle cx="36.6" cy="255.7" r="1.0" fill="#a24eac"/>
<circle cx="55.1" cy="243.8" r="0.9" fill="#a24eac"/>
<circle cx="36.0" cy="224.4" r="0.9" fill="#a24eac"/>
<circle cx="50.7" cy="231.0" r="1.1" fill="#a24eac"/>
<circle cx="62.4" cy="261.0" r="1.1" fill="#a24eac"/>
<circle cx="45.0" cy="230.5" r="0.8" fill="#a24eac"/>
<circle cx="56.1" cy="266.9" r="0.8" fill="#a24eac"/>
<circle cx="23.5" cy="238.5" r="0.9" fill="#a24eac"/>
<circle cx="49.9" cy="227.7" r="1.1" fill="#a24eac"/>
<circle cx="38.3" cy="263.5" r="0.9" fill="#a24eac"/>
<circle cx="36.8" cy="230.5" r="1.2" fill="#a24eac"/>
<circle cx="49.5" cy="259.8" r="0.7" fill="#a24eac"/>
<circle cx="47.4" cy="255.6" r="1.2" fill="#a24eac"/>
<circle cx="65.0" cy="227.3" r="0.9" fill="#a24eac"/>
<circle cx="67.7" cy="246.7" r="1.2" fill="#a24eac"/>
<circle cx="34.5" cy="223.7" r="1.2" fill="#a24eac"/>
<circle cx="35.0" cy="247.8" r="0.9" fill="#a24eac"/>
<circle cx="49.0" cy="264.6" r="1.2" fill="#a24eac"/>
<circle cx="62.3" cy="234.2" r="1.1" fill="#a24eac"/>
<circle cx="24.0" cy="241.3" r="1.2" fill="#a24eac"/>
<circle cx="34.6" cy="239.1" r="1.0" fill="#a24eac"/>
<circle cx="33.8" cy="254.5" r="1.0" fill="#a24eac"/>
<circle cx="27.4" cy="264.0" r="0.7" fill="#a24eac"/>
<circle cx="54.3" cy="238.3" r="0.8" fill="#a24eac"/>
<circle cx="26.7" cy="267.5" r="1.1" fill="#a24eac"/>
<circle cx="43.7" cy="258.4" r="1.2" fill="#a24eac"/>
<circle cx="64.5" cy="246.6" r="0.8" fill="#a24eac"/>
<circle cx="46.3" cy="266.8" r="1.1" fill="#a24eac"/>
<circle cx="53.1" cy="260.5" r="0.9" fill="#a24eac"/>
<circle cx="48.1" cy="260.8" r="0.8" fill="#a24eac"/>
<circle cx="61.5" cy="223.7" r="1.0" fill="#a24eac"/>
<circle cx="48.8" cy="229.2" r="1.2" fill="#a24eac"/>
<circle cx="42.8" cy="230.9" r="0.9" fill="#a24eac"/>
<circle cx="49.6" cy="241.9" r="0.7" fill="#a24eac"/>
<circle cx="27.3" cy="254.7" r="0.8" fill="#a24eac"/>
<circle cx="34.6" cy="258.9" r="1.1" fill="#a24eac"/>
<circle cx="62.5" cy="230.5" r="0.7" fill="#a24eac"/>
<circle cx="56.8" cy="249.6" r="0.9" fill="#a24eac"/>
<circle cx="24.0" cy="242.0" r="0.8" fill="#a24eac"/>
<circle cx="49.4" cy="266.7" r="0.8" fill="#a24eac"/>
<circle cx="26.5" cy="253.9" r="0.8" fill="#a24eac"/>
<circle cx="33.1" cy="242.4" r="0.9" fill="#7e34a0"/>
<circle cx="37.7" cy="236.8" r="0.7" fill="#7e34a0"/>
<circle cx="30.4" cy="240.7" r="0.8" fill="#7e34a0"/>
<circle cx="37.7" cy="258.4" r="0.6" fill="#7e34a0"/>
<circle cx="27.7" cy="250.8" r="0.7" fill="#7e34a0"/>
<circle cx="64.1" cy="227.3" r="0.8" fill="#7e34a0"/>
<circle cx="53.1" cy="239.3" r="0.6" fill="#7e34a0"/>
<circle cx="50.5" cy="256.7" r="0.7" fill="#7e34a0"/>
<circle cx="44.3" cy="253.5" r="0.8" fill="#7e34a0"/>
<circle cx="42.1" cy="231.0" r="0.7" fill="#7e34a0"/>
<circle cx="47.7" cy="262.9" r="0.9" fill="#7e34a0"/>
<circle cx="48.0" cy="237.4" r="0.6" fill="#7e34a0"/>
<circle cx="51.3" cy="255.8" r="0.6" fill="#7e34a0"/>
<circle cx="54.0" cy="267.6" r="0.7" fill="#7e34a0"/>
<circle cx="65.1" cy="242.2" r="0.8" fill="#7e34a0"/>
<circle cx="61.8" cy="231.8" r="0.7" fill="#7e34a0"/>
<circle cx="67.1" cy="225.5" r="0.6" fill="#7e34a0"/>
<circle cx="44.5" cy="256.1" r="0.8" fill="#7e34a0"/>
<circle cx="64.7" cy="252.7" r="0.5" fill="#7e34a0"/>
<circle cx="26.4" cy="224.2" r="0.7" fill="#7e34a0"/>
<circle cx="24.4" cy="246.3" r="0.8" fill="#7e34a0"/>
<circle cx="32.2" cy="261.1" r="0.7" fill="#7e34a0"/>
<circle cx="66.0" cy="238.7" r="0.8" fill="#7e34a0"/>
<circle cx="47.4" cy="234.4" r="0.9" fill="#7e34a0"/>
<circle cx="23.4" cy="233.8" r="0.6" fill="#7e34a0"/>
<circle cx="62.5" cy="245.1" r="0.5" fill="#7e34a0"/>
<circle cx="36.5" cy="250.0" r="0.9" fill="#7e34a0"/>
<circle cx="28.1" cy="257.7" r="0.7" fill="#7e34a0"/>
<circle cx="46.6" cy="241.6" r="0.7" fill="#7e34a0"/>
<circle cx="67.4" cy="264.0" r="0.9" fill="#7e34a0"/>
<circle cx="56.0" cy="254.1" r="0.6" fill="#7e34a0"/>
<circle cx="24.8" cy="260.0" r="0.8" fill="#7e34a0"/>
<circle cx="51.3" cy="236.7" r="0.6" fill="#7e34a0"/>
<circle cx="64.3" cy="246.5" r="0.5" fill="#7e34a0"/>
<circle cx="38.4" cy="238.3" r="0.5" fill="#7e34a0"/>
<circle cx="66.8" cy="263.2" r="0.9" fill="#7e34a0"/>
<circle cx="23.4" cy="241.4" r="0.6" fill="#7e34a0"/>
<circle cx="55.6" cy="259.0" r="0.9" fill="#7e34a0"/>
<circle cx="58.5" cy="228.0" r="0.5" fill="#7e34a0"/>
<circle cx="27.3" cy="260.5" r="0.9" fill="#7e34a0"/>
<circle cx="46.2" cy="233.2" r="0.9" fill="#7e34a0"/>
<circle cx="28.6" cy="237.2" r="0.5" fill="#7e34a0"/>
<circle cx="67.0" cy="241.3" r="0.8" fill="#7e34a0"/>
<circle cx="58.9" cy="248.7" r="0.9" fill="#7e34a0"/>
<circle cx="57.7" cy="264.3" r="0.9" fill="#7e34a0"/>
<circle cx="26.9" cy="256.4" r="0.6" fill="#7e34a0"/>
<circle cx="37.7" cy="238.0" r="0.9" fill="#7e34a0"/>
<circle cx="25.9" cy="242.2" r="0.6" fill="#7e34a0"/>
<circle cx="67.7" cy="244.9" r="0.8" fill="#7e34a0"/>
<circle cx="46.4" cy="257.1" r="0.7" fill="#7e34a0"/>
<circle cx="41.6" cy="256.1" r="0.8" fill="#7e34a0"/>
<circle cx="62.8" cy="236.5" r="0.9" fill="#7e34a0"/>
<circle cx="56.1" cy="248.4" r="0.7" fill="#7e34a0"/>
<circle cx="48.5" cy="226.1" r="0.5" fill="#7e34a0"/>
<circle cx="37.1" cy="228.1" r="0.5" fill="#7e34a0"/>
<circle cx="55.2" cy="255.5" r="0.8" fill="#7e34a0"/>
<circle cx="32.4" cy="255.1" r="0.9" fill="#7e34a0"/>
<circle cx="50.8" cy="232.8" r="0.8" fill="#7e34a0"/>
<circle cx="40.8" cy="234.7" r="0.6" fill="#7e34a0"/>
<circle cx="61.8" cy="251.1" r="0.9" fill="#7e34a0"/>
<circle cx="30.9" cy="234.5" r="0.7" fill="#7e34a0"/>
<circle cx="25.8" cy="236.2" r="0.7" fill="#7e34a0"/>
<circle cx="44.7" cy="263.5" r="0.8" fill="#7e34a0"/>
<circle cx="51.6" cy="248.9" r="0.9" fill="#7e34a0"/>
<circle cx="39.5" cy="222.6" r="0.9" fill="#7e34a0"/>
<circle cx="58.5" cy="228.3" r="0.6" fill="#7e34a0"/>
<circle cx="33.1" cy="252.2" r="0.6" fill="#7e34a0"/>
<circle cx="24.1" cy="244.8" r="0.5" fill="#7e34a0"/>
<circle cx="34.7" cy="239.8" r="0.6" fill="#7e34a0"/>
<circle cx="23.3" cy="234.3" r="0.6" fill="#7e34a0"/>
<circle cx="37.7" cy="241.3" r="0.7" fill="#7e34a0"/>
<circle cx="37.7" cy="223.5" r="0.9" fill="#7e34a0"/>
<circle cx="56.1" cy="244.8" r="0.5" fill="#7e34a0"/>
<circle cx="33.6" cy="263.1" r="0.7" fill="#7e34a0"/>
<circle cx="32.4" cy="259.5" r="0.9" fill="#7e34a0"/>
<circle cx="28.6" cy="245.1" r="0.8" fill="#7e34a0"/>
<circle cx="28.4" cy="237.0" r="0.8" fill="#7e34a0"/>
<circle cx="53.2" cy="250.9" r="0.8" fill="#7e34a0"/>
<circle cx="40.1" cy="225.7" r="0.5" fill="#7e34a0"/>
<circle cx="60.6" cy="261.5" r="0.9" fill="#7e34a0"/>
<circle cx="26.6" cy="257.2" r="0.6" fill="#7e34a0"/>
<circle cx="38.6" cy="231.6" r="0.9" fill="#7e34a0"/>
<circle cx="59.7" cy="260.1" r="0.7" fill="#7e34a0"/>
<circle cx="64.9" cy="234.3" r="0.8" fill="#7e34a0"/>
<circle cx="53.2" cy="233.1" r="0.7" fill="#7e34a0"/>
<circle cx="27.7" cy="258.4" r="0.6" fill="#7e34a0"/>
<circle cx="29.3" cy="235.1" r="0.8" fill="#7e34a0"/>
<circle cx="51.6" cy="246.2" r="0.9" fill="#7e34a0"/>
<circle cx="56.8" cy="232.0" r="0.7" fill="#7e34a0"/>
<circle cx="30.8" cy="233.5" r="0.6" fill="#7e34a0"/>
<circle cx="26.6" cy="238.4" r="0.9" fill="#7e34a0"/>
<circle cx="52.5" cy="226.5" r="0.6" fill="#7e34a0"/>
<circle cx="49.6" cy="246.4" r="0.5" fill="#7e34a0"/>
<circle cx="27.4" cy="248.1" r="0.8" fill="#7e34a0"/>
<circle cx="26.8" cy="257.4" r="0.6" fill="#7e34a0"/>
<circle cx="49.5" cy="246.4" r="0.7" fill="#7e34a0"/>
<circle cx="65.4" cy="240.4" r="0.7" fill="#7e34a0"/>
<circle cx="47.3" cy="260.4" r="0.9" fill="#7e34a0"/>
<circle cx="57.5" cy="246.8" r="0.8" fill="#7e34a0"/>
<circle cx="51.7" cy="265.8" r="0.9" fill="#7e34a0"/>
<circle cx="57.1" cy="232.3" r="0.8" fill="#7e34a0"/>
<circle cx="42.8" cy="233.0" r="0.9" fill="#7e34a0"/>
<circle cx="33.1" cy="254.5" r="0.7" fill="#7e34a0"/>
<circle cx="42.2" cy="254.4" r="0.8" fill="#7e34a0"/>
<circle cx="67.3" cy="267.6" r="0.9" fill="#7e34a0"/>
<circle cx="35.0" cy="252.7" r="0.7" fill="#7e34a0"/>
<circle cx="65.1" cy="242.7" r="0.7" fill="#7e34a0"/>
<circle cx="24.4" cy="243.8" r="0.7" fill="#7e34a0"/>
<circle cx="36.9" cy="227.3" r="0.7" fill="#7e34a0"/>
<circle cx="26.3" cy="230.3" r="0.7" fill="#7e34a0"/>
<circle cx="38.7" cy="245.1" r="0.7" fill="#7e34a0"/>
<circle cx="40.5" cy="228.6" r="0.5" fill="#7e34a0"/>
<circle cx="48.1" cy="266.3" r="0.6" fill="#7e34a0"/>
<circle cx="38.9" cy="237.0" r="0.8" fill="#7e34a0"/>
<circle cx="45.2" cy="258.4" r="0.5" fill="#7e34a0"/>
<circle cx="29.1" cy="231.9" r="0.7" fill="#7e34a0"/>
<circle cx="41.0" cy="239.9" r="0.9" fill="#7e34a0"/>
<circle cx="42.8" cy="248.5" r="0.9" fill="#7e34a0"/>
<circle cx="51.8" cy="249.4" r="0.9" fill="#7e34a0"/>
<circle cx="38.1" cy="224.2" r="0.9" fill="#7e34a0"/>
<circle cx="47.0" cy="248.8" r="0.5" fill="#7e34a0"/>
<circle cx="56.4" cy="239.4" r="0.8" fill="#7e34a0"/>
<circle cx="35.9" cy="263.9" r="0.7" fill="#7e34a0"/>
<circle cx="35.5" cy="262.8" r="0.6" fill="#7e34a0"/>
<circle cx="35.3" cy="244.5" r="0.9" fill="#7e34a0"/>
<circle cx="28.4" cy="232.1" r="0.9" fill="#7e34a0"/>
<circle cx="26.6" cy="241.2" r="0.9" fill="#7e34a0"/>
<circle cx="55.0" cy="258.3" r="0.6" fill="#7e34a0"/>
<circle cx="62.9" cy="238.7" r="0.9" fill="#7e34a0"/>
<circle cx="44.2" cy="262.7" r="0.7" fill="#7e34a0"/>
<circle cx="34.7" cy="229.4" r="0.7" fill="#7e34a0"/>
<circle cx="25.4" cy="230.0" r="0.9" fill="#7e34a0"/>
<circle cx="48.8" cy="261.4" r="0.6" fill="#7e34a0"/>
<circle cx="44.6" cy="243.7" r="0.5" fill="#7e34a0"/>
<circle cx="34.9" cy="264.1" r="0.8" fill="#7e34a0"/>
<circle cx="45.9" cy="250.0" r="0.9" fill="#7e34a0"/>
<circle cx="65.7" cy="249.4" r="0.5" fill="#7e34a0"/>
<circle cx="62.1" cy="230.0" r="0.6" fill="#7e34a0"/>
<circle cx="29.3" cy="245.6" r="0.8" fill="#7e34a0"/>
<circle cx="43.7" cy="243.8" r="0.6" fill="#7e34a0"/>
<circle cx="55.2" cy="246.8" r="0.6" fill="#7e34a0"/>
<circle cx="60.4" cy="264.9" r="0.9" fill="#7e34a0"/>
<circle cx="67.1" cy="225.7" r="0.7" fill="#7e34a0"/>
<circle cx="43.3" cy="234.1" r="0.8" fill="#7e34a0"/>
<circle cx="63.6" cy="228.8" r="0.7" fill="#7e34a0"/>
<circle cx="66.3" cy="262.6" r="0.7" fill="#7e34a0"/>
<circle cx="27.9" cy="243.1" r="0.7" fill="#7e34a0"/>
<circle cx="58.2" cy="231.0" r="0.6" fill="#7e34a0"/>
<circle cx="67.1" cy="223.1" r="0.8" fill="#7e34a0"/>
<circle cx="27.4" cy="256.4" r="0.7" fill="#7e34a0"/>
<circle cx="64.5" cy="232.7" r="0.9" fill="#7e34a0"/>
<circle cx="33.3" cy="224.7" r="0.5" fill="#7e34a0"/>
<circle cx="26.6" cy="240.1" r="0.9" fill="#7e34a0"/>
<circle cx="39.0" cy="254.9" r="0.5" fill="#7e34a0"/>
<circle cx="46.2" cy="246.9" r="0.5" fill="#7e34a0"/>
<circle cx="49.1" cy="242.7" r="0.6" fill="#7e34a0"/>
<circle cx="60.2" cy="253.7" r="0.6" fill="#7e34a0"/>
<circle cx="27.9" cy="225.0" r="0.6" fill="#7e34a0"/>
<circle cx="51.6" cy="266.2" r="0.9" fill="#7e34a0"/>
<circle cx="61.8" cy="228.2" r="0.9" fill="#7e34a0"/>
<circle cx="57.2" cy="243.9" r="0.9" fill="#7e34a0"/>
<circle cx="49.9" cy="227.9" r="0.6" fill="#7e34a0"/>
<circle cx="29.0" cy="250.1" r="0.8" fill="#7e34a0"/>
<circle cx="61.5" cy="223.1" r="0.5" fill="#7e34a0"/>
<circle cx="66.6" cy="234.4" r="0.6" fill="#7e34a0"/>
<circle cx="61.9" cy="227.6" r="0.9" fill="#7e34a0"/>
<circle cx="63.2" cy="247.9" r="0.8" fill="#7e34a0"/>
<circle cx="23.5" cy="249.9" r="0.8" fill="#7e34a0"/>
<circle cx="57.6" cy="245.9" r="0.6" fill="#7e34a0"/>
<circle cx="33.1" cy="252.0" r="0.5" fill="#7e34a0"/>
<circle cx="28.0" cy="233.9" r="0.9" fill="#7e34a0"/>
<circle cx="47.6" cy="238.7" r="0.9" fill="#7e34a0"/>
<circle cx="49.1" cy="233.3" r="0.8" fill="#7e34a0"/>
<circle cx="61.4" cy="239.2" r="0.7" fill="#7e34a0"/>
<circle cx="49.0" cy="267.0" r="0.8" fill="#7e34a0"/>
<circle cx="31.3" cy="248.8" r="0.6" fill="#7e34a0"/>
<circle cx="44.3" cy="254.7" r="0.5" fill="#7e34a0"/>
<circle cx="45.8" cy="236.7" r="0.8" fill="#7e34a0"/>
<circle cx="59.8" cy="243.6" r="0.8" fill="#7e34a0"/>
<circle cx="36.1" cy="234.1" r="0.7" fill="#7e34a0"/>
<circle cx="47.0" cy="232.7" r="0.8" fill="#7e34a0"/>
<circle cx="45.5" cy="238.6" r="0.6" fill="#7e34a0"/>
<circle cx="60.5" cy="263.2" r="0.9" fill="#7e34a0"/>
<circle cx="34.3" cy="225.8" r="0.8" fill="#7e34a0"/>
<circle cx="24.3" cy="261.1" r="0.8" fill="#7e34a0"/>
<circle cx="38.2" cy="242.5" r="0.8" fill="#7e34a0"/>
<circle cx="30.3" cy="239.0" r="0.9" fill="#7e34a0"/>
<circle cx="53.6" cy="248.9" r="0.5" fill="#7e34a0"/>
<circle cx="32.9" cy="234.1" r="0.5" fill="#7e34a0"/>
<circle cx="51.7" cy="248.4" r="0.9" fill="#7e34a0"/>
<circle cx="47.9" cy="263.9" r="0.7" fill="#7e34a0"/>
<circle cx="46.3" cy="235.3" r="0.7" fill="#7e34a0"/>
<circle cx="65.0" cy="244.5" r="0.5" fill="#7e34a0"/>
<circle cx="39.0" cy="231.5" r="0.8" fill="#7e34a0"/>
<circle cx="45.9" cy="244.0" r="0.9" fill="#7e34a0"/>
<circle cx="57.2" cy="226.5" r="0.5" fill="#7e34a0"/>
<circle cx="54.5" cy="249.5" r="0.8" fill="#7e34a0"/>
<circle cx="45.5" cy="224.2" r="0.7" fill="#7e34a0"/>
<circle cx="60.5" cy="249.7" r="0.5" fill="#7e34a0"/>
<circle cx="28.8" cy="263.3" r="0.7" fill="#7e34a0"/>
<circle cx="30.5" cy="254.4" r="0.9" fill="#7e34a0"/>
<circle cx="61.8" cy="251.6" r="0.9" fill="#7e34a0"/>
<circle cx="27.1" cy="243.5" r="0.9" fill="#7e34a0"/>
<circle cx="38.4" cy="229.1" r="0.9" fill="#7e34a0"/>
<circle cx="54.6" cy="222.9" r="0.5" fill="#7e34a0"/>
<circle cx="48.1" cy="265.5" r="0.8" fill="#7e34a0"/>
<circle cx="62.3" cy="227.3" r="0.8" fill="#7e34a0"/>
<circle cx="31.3" cy="237.5" r="0.6" fill="#7e34a0"/>
<circle cx="43.9" cy="224.7" r="0.8" fill="#7e34a0"/>
<circle cx="52.0" cy="263.3" r="0.8" fill="#7e34a0"/>
<circle cx="26.6" cy="261.7" r="0.7" fill="#7e34a0"/>
<circle cx="65.0" cy="244.7" r="0.5" fill="#7e34a0"/>
<circle cx="54.6" cy="230.4" r="0.9" fill="#7e34a0"/>
<circle cx="47.2" cy="263.2" r="0.7" fill="#7e34a0"/>
<circle cx="37.8" cy="252.4" r="0.8" fill="#7e34a0"/>
<circle cx="43.7" cy="235.0" r="0.7" fill="#7e34a0"/>
<circle cx="55.1" cy="232.9" r="0.6" fill="#7e34a0"/>
<circle cx="44.8" cy="252.2" r="0.5" fill="#7e34a0"/>
<circle cx="35.3" cy="266.3" r="0.6" fill="#7e34a0"/>
<circle cx="57.6" cy="236.4" r="0.5" fill="#7e34a0"/>
<circle cx="44.9" cy="261.7" r="0.8" fill="#7e34a0"/>
<circle cx="25.3" cy="254.3" r="0.8" fill="#7e34a0"/>
<circle cx="44.7" cy="252.5" r="0.7" fill="#7e34a0"/>
<circle cx="31.4" cy="253.9" r="0.6" fill="#7e34a0"/>
<circle cx="37.0" cy="260.9" r="0.8" fill="#7e34a0"/>
<circle cx="46.0" cy="254.5" r="0.7" fill="#7e34a0"/>
<circle cx="40.3" cy="247.4" r="0.5" fill="#7e34a0"/>
<circle cx="38.9" cy="224.4" r="0.9" fill="#7e34a0"/>
<circle cx="63.7" cy="252.0" r="0.6" fill="#7e34a0"/>
<circle cx="61.3" cy="235.3" r="0.9" fill="#7e34a0"/>
<circle cx="52.2" cy="249.8" r="1.3" fill="#f0a0c8"/>
<circle cx="35.1" cy="260.1" r="1.2" fill="#f0a0c8"/>
<circle cx="57.0" cy="260.4" r="1.0" fill="#f0a0c8"/>
<circle cx="41.5" cy="238.9" r="0.9" fill="#f0a0c8"/>
<circle cx="62.3" cy="253.5" r="1.1" fill="#f0a0c8"/>
<circle cx="47.5" cy="262.2" r="0.8" fill="#f0a0c8"/>
<circle cx="39.2" cy="253.5" r="1.2" fill="#f0a0c8"/>
<circle cx="45.4" cy="234.2" r="1.0" fill="#f0a0c8"/>
<circle cx="53.1" cy="237.9" r="1.5" fill="#f0a0c8"/>
<circle cx="63.4" cy="266.3" r="1.0" fill="#f0a0c8"/>
<circle cx="46.1" cy="227.3" r="1.1" fill="#f0a0c8"/>
<circle cx="26.5" cy="245.2" r="1.5" fill="#f0a0c8"/>
<circle cx="57.2" cy="239.0" r="1.0" fill="#f0a0c8"/>
<circle cx="64.7" cy="225.0" r="1.4" fill="#f0a0c8"/>
<circle cx="61.4" cy="225.7" r="1.5" fill="#f0a0c8"/>
<circle cx="52.0" cy="240.1" r="1.1" fill="#f0a0c8"/>
<circle cx="50.3" cy="246.3" r="1.4" fill="#f0a0c8"/>
<circle cx="63.1" cy="237.3" r="0.8" fill="#f0a0c8"/>
<circle cx="57.9" cy="251.7" r="1.3" fill="#f0a0c8"/>
<circle cx="26.5" cy="226.0" r="1.4" fill="#f0a0c8"/>
<circle cx="39.4" cy="243.9" r="1.5" fill="#f0a0c8"/>
<circle cx="31.9" cy="251.2" r="0.8" fill="#f0a0c8"/>
<circle cx="48.2" cy="255.8" r="0.9" fill="#f0a0c8"/>
<circle cx="57.1" cy="266.2" r="1.4" fill="#f0a0c8"/>
<circle cx="58.5" cy="265.2" r="1.3" fill="#f0a0c8"/>
<circle cx="47.6" cy="259.7" r="1.4" fill="#f0a0c8"/>
<circle cx="51.3" cy="252.7" r="0.9" fill="#f0a0c8"/>
<circle cx="38.3" cy="237.2" r="1.4" fill="#f0a0c8"/>
<circle cx="58.1" cy="235.7" r="1.5" fill="#f0a0c8"/>
<circle cx="25.8" cy="225.4" r="1.0" fill="#f0a0c8"/>
<circle cx="26.6" cy="265.3" r="1.1" fill="#f0a0c8"/>
<circle cx="40.5" cy="261.1" r="1.2" fill="#f0a0c8"/>
<circle cx="51.3" cy="242.4" r="1.1" fill="#f0a0c8"/>
<circle cx="65.9" cy="235.1" r="1.2" fill="#f0a0c8"/>
<circle cx="44.5" cy="229.0" r="0.9" fill="#f0a0c8"/>
<circle cx="45.8" cy="258.5" r="1.1" fill="#f0a0c8"/>
<circle cx="25.8" cy="264.7" r="0.9" fill="#f0a0c8"/>
<circle cx="62.6" cy="224.6" r="1.3" fill="#f0a0c8"/>
<circle cx="29.7" cy="234.3" r="1.1" fill="#f0a0c8"/>
<circle cx="56.9" cy="242.2" r="1.1" fill="#f0a0c8"/>
<circle cx="41.1" cy="246.0" r="1.0" fill="#f0a0c8"/>
<circle cx="65.7" cy="231.2" r="0.9" fill="#f0a0c8"/>
<circle cx="47.7" cy="238.4" r="1.3" fill="#f0a0c8"/>
<circle cx="25.0" cy="253.0" r="1.1" fill="#f0a0c8"/>
<circle cx="64.6" cy="236.1" r="1.1" fill="#f0a0c8"/>
</g></g>
<rect x="69.7" y="222.6" width="44.6" height="45" fill="#ccb89c"/>
<g clip-path="url(#t11)"><g filter="url(#bl)">
<rect x="69.7" y="222.6" width="44.6" height="45" fill="#ccb89c"/>
<circle cx="83.9" cy="246.6" r="0.8" fill="#b88848"/>
<circle cx="99.6" cy="241.1" r="1.1" fill="#b88848"/>
<circle cx="82.7" cy="243.1" r="1.0" fill="#b88848"/>
<circle cx="101.7" cy="252.0" r="0.9" fill="#b88848"/>
<circle cx="73.5" cy="227.7" r="0.7" fill="#b88848"/>
<circle cx="77.9" cy="230.9" r="1.1" fill="#b88848"/>
<circle cx="84.9" cy="263.5" r="0.8" fill="#b88848"/>
<circle cx="80.7" cy="230.8" r="0.7" fill="#b88848"/>
<circle cx="100.1" cy="248.6" r="0.8" fill="#b88848"/>
<circle cx="105.8" cy="253.0" r="0.9" fill="#b88848"/>
<circle cx="96.8" cy="252.1" r="0.9" fill="#b88848"/>
<circle cx="73.8" cy="239.0" r="1.3" fill="#b88848"/>
<circle cx="86.4" cy="251.4" r="0.7" fill="#b88848"/>
<circle cx="104.2" cy="261.5" r="0.9" fill="#b88848"/>
<circle cx="86.3" cy="245.7" r="0.8" fill="#b88848"/>
<circle cx="79.1" cy="228.4" r="1.1" fill="#b88848"/>
<circle cx="92.4" cy="265.6" r="1.3" fill="#b88848"/>
<circle cx="108.7" cy="265.1" r="1.2" fill="#b88848"/>
<circle cx="70.8" cy="228.4" r="1.3" fill="#b88848"/>
<circle cx="108.7" cy="250.3" r="1.0" fill="#b88848"/>
<circle cx="89.2" cy="241.7" r="0.7" fill="#b88848"/>
<circle cx="94.1" cy="235.0" r="0.7" fill="#b88848"/>
<circle cx="108.5" cy="248.5" r="1.2" fill="#b88848"/>
<circle cx="82.8" cy="248.6" r="0.8" fill="#b88848"/>
<circle cx="106.8" cy="232.0" r="1.1" fill="#b88848"/>
<circle cx="94.4" cy="237.3" r="0.7" fill="#b88848"/>
<circle cx="91.4" cy="246.1" r="1.2" fill="#b88848"/>
<circle cx="78.8" cy="230.9" r="0.8" fill="#b88848"/>
<circle cx="105.5" cy="233.0" r="1.0" fill="#b88848"/>
<circle cx="71.1" cy="226.3" r="1.1" fill="#b88848"/>
<circle cx="91.9" cy="227.7" r="0.9" fill="#b88848"/>
<circle cx="111.6" cy="240.2" r="1.0" fill="#b88848"/>
<circle cx="88.4" cy="245.3" r="0.6" fill="#b88848"/>
<circle cx="109.1" cy="248.7" r="0.8" fill="#b88848"/>
<circle cx="82.4" cy="231.0" r="1.3" fill="#b88848"/>
<circle cx="107.2" cy="239.6" r="1.0" fill="#b88848"/>
<circle cx="94.3" cy="231.6" r="0.6" fill="#b88848"/>
<circle cx="102.5" cy="229.9" r="1.0" fill="#b88848"/>
<circle cx="70.5" cy="223.6" r="0.7" fill="#b88848"/>
<circle cx="98.9" cy="250.2" r="1.3" fill="#b88848"/>
<circle cx="99.1" cy="246.1" r="0.6" fill="#b88848"/>
<circle cx="112.4" cy="244.6" r="1.2" fill="#b88848"/>
<circle cx="71.6" cy="260.2" r="0.9" fill="#b88848"/>
<circle cx="79.4" cy="240.9" r="0.7" fill="#b88848"/>
<circle cx="95.6" cy="232.5" r="1.1" fill="#b88848"/>
<circle cx="77.4" cy="253.6" r="1.0" fill="#b88848"/>
<circle cx="101.4" cy="265.4" r="0.8" fill="#b88848"/>
<circle cx="100.2" cy="240.5" r="1.2" fill="#b88848"/>
<circle cx="106.5" cy="257.0" r="1.0" fill="#b88848"/>
<circle cx="81.4" cy="263.5" r="1.3" fill="#b88848"/>
<circle cx="112.1" cy="237.8" r="1.2" fill="#b88848"/>
<circle cx="100.0" cy="260.4" r="1.2" fill="#b88848"/>
<circle cx="90.0" cy="240.4" r="1.2" fill="#b88848"/>
<circle cx="98.9" cy="246.9" r="1.2" fill="#b88848"/>
<circle cx="71.1" cy="223.2" r="0.9" fill="#b88848"/>
<circle cx="74.0" cy="260.5" r="0.7" fill="#b88848"/>
<circle cx="109.0" cy="232.7" r="0.7" fill="#b88848"/>
<circle cx="103.3" cy="253.1" r="0.9" fill="#b88848"/>
<circle cx="96.3" cy="247.5" r="1.3" fill="#b88848"/>
<circle cx="92.3" cy="246.9" r="0.9" fill="#b88848"/>
<circle cx="88.1" cy="253.7" r="0.7" fill="#b88848"/>
<circle cx="100.6" cy="264.4" r="1.1" fill="#b88848"/>
<circle cx="93.9" cy="238.5" r="0.7" fill="#b88848"/>
<circle cx="73.8" cy="246.9" r="1.2" fill="#b88848"/>
<circle cx="108.3" cy="230.9" r="1.1" fill="#b88848"/>
<circle cx="105.7" cy="244.2" r="1.2" fill="#b88848"/>
<circle cx="78.0" cy="237.7" r="1.0" fill="#b88848"/>
<circle cx="102.1" cy="242.8" r="0.8" fill="#b88848"/>
<circle cx="108.4" cy="240.2" r="0.9" fill="#b88848"/>
<circle cx="79.7" cy="244.3" r="1.1" fill="#b88848"/>
<circle cx="85.8" cy="252.4" r="0.9" fill="#b88848"/>
<circle cx="70.2" cy="265.9" r="0.8" fill="#b88848"/>
<circle cx="94.0" cy="265.7" r="0.7" fill="#b88848"/>
<circle cx="72.6" cy="231.8" r="0.7" fill="#b88848"/>
<circle cx="107.7" cy="245.9" r="0.6" fill="#b88848"/>
<circle cx="81.8" cy="245.6" r="0.7" fill="#b88848"/>
<circle cx="83.4" cy="263.3" r="0.9" fill="#b88848"/>
<circle cx="80.1" cy="249.5" r="0.7" fill="#b88848"/>
<circle cx="92.9" cy="251.8" r="0.7" fill="#b88848"/>
<circle cx="94.2" cy="236.5" r="1.1" fill="#b88848"/>
<circle cx="97.2" cy="263.5" r="1.0" fill="#b88848"/>
<circle cx="77.9" cy="230.9" r="1.1" fill="#b88848"/>
<circle cx="105.8" cy="225.4" r="0.9" fill="#b88848"/>
<circle cx="82.3" cy="243.6" r="1.2" fill="#b88848"/>
<circle cx="94.7" cy="256.1" r="1.1" fill="#b88848"/>
<circle cx="82.1" cy="250.4" r="0.9" fill="#b88848"/>
<circle cx="90.9" cy="246.5" r="1.1" fill="#b88848"/>
<circle cx="77.2" cy="260.3" r="0.7" fill="#b88848"/>
<circle cx="83.7" cy="260.8" r="1.3" fill="#b88848"/>
<circle cx="86.1" cy="265.4" r="0.6" fill="#b88848"/>
<circle cx="112.3" cy="231.6" r="0.6" fill="#b88848"/>
<circle cx="103.7" cy="229.9" r="1.1" fill="#b88848"/>
<circle cx="70.0" cy="228.2" r="0.9" fill="#b88848"/>
<circle cx="73.5" cy="243.8" r="0.8" fill="#b88848"/>
<circle cx="102.6" cy="244.8" r="1.3" fill="#b88848"/>
<circle cx="107.3" cy="230.3" r="1.2" fill="#b88848"/>
<circle cx="109.6" cy="248.0" r="1.0" fill="#b88848"/>
<circle cx="77.3" cy="237.0" r="0.8" fill="#b88848"/>
<circle cx="78.4" cy="250.2" r="0.8" fill="#b88848"/>
<circle cx="103.9" cy="248.4" r="1.2" fill="#b88848"/>
<circle cx="73.6" cy="260.7" r="1.0" fill="#b88848"/>
<circle cx="97.9" cy="233.3" r="1.1" fill="#b88848"/>
<circle cx="87.8" cy="255.1" r="1.0" fill="#b88848"/>
<circle cx="76.0" cy="236.1" r="1.1" fill="#b88848"/>
<circle cx="70.4" cy="251.0" r="1.0" fill="#b88848"/>
<circle cx="101.6" cy="237.4" r="0.9" fill="#b88848"/>
<circle cx="91.0" cy="256.3" r="0.7" fill="#b88848"/>
<circle cx="92.5" cy="234.3" r="1.0" fill="#b88848"/>
<circle cx="81.3" cy="231.9" r="0.8" fill="#b88848"/>
<circle cx="109.6" cy="239.0" r="1.2" fill="#b88848"/>
<circle cx="102.5" cy="234.7" r="1.0" fill="#b88848"/>
<circle cx="70.1" cy="264.6" r="1.0" fill="#b88848"/>
<circle cx="74.7" cy="246.0" r="0.9" fill="#b88848"/>
<circle cx="99.6" cy="235.6" r="1.2" fill="#b88848"/>
<circle cx="97.5" cy="225.9" r="1.2" fill="#b88848"/>
<circle cx="109.2" cy="236.3" r="1.1" fill="#b88848"/>
<circle cx="108.1" cy="262.3" r="0.6" fill="#b88848"/>
<circle cx="107.0" cy="233.8" r="1.2" fill="#b88848"/>
<circle cx="100.3" cy="243.6" r="1.2" fill="#b88848"/>
<circle cx="105.5" cy="267.3" r="1.3" fill="#b88848"/>
<circle cx="95.3" cy="255.7" r="1.1" fill="#b88848"/>
<circle cx="87.6" cy="245.0" r="1.0" fill="#b88848"/>
<circle cx="79.3" cy="234.3" r="1.2" fill="#b88848"/>
<circle cx="107.4" cy="254.0" r="1.1" fill="#b88848"/>
<circle cx="92.4" cy="248.4" r="1.1" fill="#b88848"/>
<circle cx="70.0" cy="242.6" r="1.3" fill="#b88848"/>
<circle cx="78.9" cy="243.6" r="0.7" fill="#b88848"/>
<circle cx="81.1" cy="259.7" r="0.6" fill="#b88848"/>
<circle cx="105.3" cy="258.5" r="1.2" fill="#b88848"/>
<circle cx="81.2" cy="264.5" r="0.9" fill="#b88848"/>
<circle cx="89.8" cy="265.4" r="1.0" fill="#b88848"/>
<circle cx="100.1" cy="227.6" r="0.6" fill="#b88848"/>
<circle cx="81.5" cy="227.4" r="1.2" fill="#b88848"/>
<circle cx="80.8" cy="265.7" r="1.1" fill="#b88848"/>
<circle cx="78.3" cy="254.6" r="0.8" fill="#b88848"/>
<circle cx="93.2" cy="226.0" r="1.2" fill="#b88848"/>
<circle cx="104.8" cy="248.7" r="1.1" fill="#b88848"/>
<circle cx="84.9" cy="228.3" r="0.8" fill="#b88848"/>
<circle cx="102.7" cy="247.9" r="0.7" fill="#b88848"/>
<circle cx="80.4" cy="244.0" r="0.6" fill="#b88848"/>
<circle cx="71.7" cy="242.8" r="0.7" fill="#b88848"/>
<circle cx="109.3" cy="228.4" r="1.1" fill="#b88848"/>
<circle cx="105.1" cy="236.8" r="1.0" fill="#b88848"/>
<circle cx="113.9" cy="250.4" r="0.9" fill="#b88848"/>
<circle cx="113.2" cy="234.3" r="1.3" fill="#b88848"/>
<circle cx="83.5" cy="241.6" r="0.8" fill="#b88848"/>
<circle cx="98.8" cy="262.3" r="1.1" fill="#b88848"/>
<circle cx="77.8" cy="267.2" r="1.1" fill="#b88848"/>
<circle cx="92.3" cy="260.8" r="0.7" fill="#b88848"/>
<circle cx="96.4" cy="258.0" r="1.1" fill="#b88848"/>
<circle cx="99.7" cy="225.4" r="0.9" fill="#b88848"/>
<circle cx="81.7" cy="250.0" r="0.9" fill="#b88848"/>
<circle cx="90.0" cy="246.8" r="1.0" fill="#b88848"/>
<circle cx="109.4" cy="235.3" r="0.8" fill="#b88848"/>
<circle cx="77.9" cy="227.7" r="1.2" fill="#b88848"/>
<circle cx="110.7" cy="228.3" r="0.9" fill="#b88848"/>
<circle cx="110.0" cy="261.5" r="1.3" fill="#b88848"/>
<circle cx="114.0" cy="236.3" r="0.6" fill="#b88848"/>
<circle cx="80.8" cy="245.2" r="0.6" fill="#b88848"/>
<circle cx="81.0" cy="243.9" r="1.1" fill="#b88848"/>
<circle cx="76.6" cy="228.1" r="0.6" fill="#a07038"/>
<circle cx="73.8" cy="228.1" r="0.5" fill="#a07038"/>
<circle cx="105.4" cy="262.2" r="0.5" fill="#a07038"/>
<circle cx="105.6" cy="260.6" r="0.8" fill="#a07038"/>
<circle cx="83.1" cy="259.5" r="0.5" fill="#a07038"/>
<circle cx="71.8" cy="265.6" r="0.6" fill="#a07038"/>
<circle cx="110.5" cy="256.5" r="0.5" fill="#a07038"/>
<circle cx="73.9" cy="251.7" r="0.6" fill="#a07038"/>
<circle cx="99.4" cy="252.9" r="0.6" fill="#a07038"/>
<circle cx="91.0" cy="232.1" r="0.8" fill="#a07038"/>
<circle cx="97.8" cy="253.7" r="0.7" fill="#a07038"/>
<circle cx="72.4" cy="262.5" r="0.8" fill="#a07038"/>
<circle cx="92.7" cy="249.2" r="0.7" fill="#a07038"/>
<circle cx="103.4" cy="246.6" r="0.6" fill="#a07038"/>
<circle cx="92.7" cy="232.2" r="0.5" fill="#a07038"/>
<circle cx="92.9" cy="261.8" r="0.8" fill="#a07038"/>
<circle cx="79.0" cy="245.5" r="0.7" fill="#a07038"/>
<circle cx="95.5" cy="243.3" r="0.7" fill="#a07038"/>
<circle cx="100.4" cy="262.3" r="0.7" fill="#a07038"/>
<circle cx="104.7" cy="253.2" r="0.5" fill="#a07038"/>
<circle cx="81.3" cy="236.7" r="0.6" fill="#a07038"/>
<circle cx="91.6" cy="235.9" r="0.9" fill="#a07038"/>
<circle cx="102.4" cy="239.3" r="0.8" fill="#a07038"/>
<circle cx="110.9" cy="229.8" r="0.8" fill="#a07038"/>
<circle cx="112.5" cy="239.5" r="0.9" fill="#a07038"/>
<circle cx="105.5" cy="237.0" r="0.6" fill="#a07038"/>
<circle cx="105.7" cy="241.3" r="0.6" fill="#a07038"/>
<circle cx="90.4" cy="255.4" r="0.9" fill="#a07038"/>
<circle cx="110.6" cy="257.1" r="0.6" fill="#a07038"/>
<circle cx="86.2" cy="222.9" r="0.6" fill="#a07038"/>
<circle cx="84.9" cy="230.6" r="0.7" fill="#a07038"/>
<circle cx="75.6" cy="252.0" r="0.7" fill="#a07038"/>
<circle cx="80.7" cy="253.5" r="0.6" fill="#a07038"/>
<circle cx="70.8" cy="260.3" r="0.8" fill="#a07038"/>
<circle cx="108.9" cy="235.8" r="0.6" fill="#a07038"/>
<circle cx="100.8" cy="229.2" r="0.9" fill="#a07038"/>
<circle cx="98.8" cy="247.3" r="0.5" fill="#a07038"/>
<circle cx="82.3" cy="241.7" r="0.9" fill="#a07038"/>
<circle cx="76.2" cy="249.2" r="0.5" fill="#a07038"/>
<circle cx="113.0" cy="256.2" r="0.8" fill="#a07038"/>
<circle cx="103.1" cy="230.7" r="0.6" fill="#a07038"/>
<circle cx="71.5" cy="247.4" r="0.5" fill="#a07038"/>
<circle cx="78.1" cy="230.4" r="0.9" fill="#a07038"/>
<circle cx="104.9" cy="235.5" r="0.9" fill="#a07038"/>
<circle cx="76.8" cy="228.9" r="0.7" fill="#a07038"/>
<circle cx="105.6" cy="227.0" r="0.8" fill="#a07038"/>
<circle cx="94.0" cy="258.5" r="0.6" fill="#a07038"/>
<circle cx="71.6" cy="227.1" r="0.8" fill="#a07038"/>
<circle cx="92.3" cy="257.0" r="0.6" fill="#a07038"/>
<circle cx="82.2" cy="232.1" r="0.8" fill="#a07038"/>
<circle cx="101.1" cy="229.6" r="0.8" fill="#a07038"/>
<circle cx="71.4" cy="243.6" r="0.6" fill="#a07038"/>
<circle cx="103.8" cy="254.9" r="0.8" fill="#a07038"/>
<circle cx="78.5" cy="224.5" r="0.8" fill="#a07038"/>
<circle cx="100.7" cy="223.0" r="0.8" fill="#a07038"/>
<circle cx="109.7" cy="238.9" r="0.7" fill="#a07038"/>
<circle cx="98.7" cy="264.3" r="0.8" fill="#a07038"/>
<circle cx="92.7" cy="257.2" r="0.7" fill="#a07038"/>
<circle cx="71.2" cy="247.2" r="0.7" fill="#a07038"/>
<circle cx="84.6" cy="240.3" r="0.6" fill="#a07038"/>
<circle cx="83.6" cy="256.2" r="0.8" fill="#a0a0c4"/>
<circle cx="90.1" cy="260.7" r="0.5" fill="#a0a0c4"/>
<circle cx="92.7" cy="256.1" r="0.7" fill="#a0a0c4"/>
<circle cx="87.0" cy="230.2" r="0.8" fill="#a0a0c4"/>
<circle cx="96.9" cy="252.0" r="0.6" fill="#a0a0c4"/>
<circle cx="74.7" cy="248.3" r="0.6" fill="#a0a0c4"/>
<circle cx="109.4" cy="252.4" r="0.7" fill="#a0a0c4"/>
<circle cx="95.1" cy="256.5" r="0.5" fill="#a0a0c4"/>
<circle cx="114.1" cy="248.7" r="0.7" fill="#a0a0c4"/>
<circle cx="78.2" cy="226.7" r="0.7" fill="#a0a0c4"/>
<circle cx="102.1" cy="252.6" r="0.6" fill="#a0a0c4"/>
<circle cx="91.4" cy="257.2" r="0.7" fill="#a0a0c4"/>
<circle cx="110.3" cy="226.6" r="0.7" fill="#a0a0c4"/>
<circle cx="70.3" cy="250.7" r="0.7" fill="#a0a0c4"/>
<circle cx="73.0" cy="241.5" r="0.7" fill="#a0a0c4"/>
<circle cx="108.4" cy="226.1" r="0.7" fill="#a0a0c4"/>
<circle cx="105.2" cy="227.9" r="0.8" fill="#a0a0c4"/>
<circle cx="111.6" cy="238.0" r="0.6" fill="#a0a0c4"/>
<circle cx="76.2" cy="232.5" r="0.6" fill="#a0a0c4"/>
<circle cx="101.2" cy="264.8" r="0.7" fill="#a0a0c4"/>
<circle cx="112.2" cy="241.8" r="0.7" fill="#a0a0c4"/>
<circle cx="69.7" cy="241.4" r="0.5" fill="#a0a0c4"/>
<circle cx="75.6" cy="259.0" r="0.5" fill="#a0a0c4"/>
<circle cx="83.1" cy="246.3" r="0.7" fill="#a0a0c4"/>
<circle cx="71.1" cy="227.6" r="0.7" fill="#a0a0c4"/>
<circle cx="87.8" cy="226.8" r="0.6" fill="#a0a0c4"/>
<circle cx="86.3" cy="267.6" r="0.5" fill="#a0a0c4"/>
<circle cx="77.7" cy="226.0" r="0.7" fill="#a0a0c4"/>
<circle cx="112.5" cy="257.6" r="0.5" fill="#a0a0c4"/>
<circle cx="93.8" cy="238.7" r="0.8" fill="#a0a0c4"/>
<circle cx="101.2" cy="249.8" r="0.6" fill="#a0a0c4"/>
<circle cx="89.2" cy="246.3" r="0.6" fill="#a0a0c4"/>
<circle cx="94.9" cy="226.7" r="0.6" fill="#a0a0c4"/>
<circle cx="113.7" cy="240.6" r="0.7" fill="#a0a0c4"/>
<circle cx="103.3" cy="259.2" r="0.7" fill="#a0a0c4"/>
<circle cx="86.7" cy="254.6" r="0.6" fill="#a0a0c4"/>
<circle cx="97.2" cy="223.3" r="0.6" fill="#a0a0c4"/>
<circle cx="77.5" cy="238.4" r="0.7" fill="#a0a0c4"/>
<circle cx="70.6" cy="262.0" r="0.5" fill="#a0a0c4"/>
<circle cx="112.1" cy="265.3" r="0.7" fill="#a0a0c4"/>
<circle cx="107.2" cy="264.9" r="0.6" fill="#a0a0c4"/>
<circle cx="107.9" cy="224.2" r="0.7" fill="#a0a0c4"/>
<circle cx="98.6" cy="257.5" r="0.5" fill="#a0a0c4"/>
<circle cx="73.4" cy="246.1" r="0.7" fill="#a0a0c4"/>
<circle cx="100.4" cy="230.7" r="0.7" fill="#a0a0c4"/>
<circle cx="112.9" cy="234.0" r="0.7" fill="#a0a0c4"/>
<circle cx="112.6" cy="252.9" r="0.6" fill="#a0a0c4"/>
<circle cx="88.4" cy="243.6" r="0.5" fill="#a0a0c4"/>
<circle cx="73.0" cy="235.2" r="0.6" fill="#a0a0c4"/>
<circle cx="109.8" cy="238.9" r="0.8" fill="#a0a0c4"/>
<circle cx="94.8" cy="263.0" r="0.8" fill="#a0a0c4"/>
<circle cx="101.4" cy="242.8" r="0.6" fill="#a0a0c4"/>
<circle cx="94.9" cy="236.6" r="0.7" fill="#a0a0c4"/>
<circle cx="71.6" cy="251.3" r="0.6" fill="#a0a0c4"/>
<circle cx="88.4" cy="247.0" r="0.8" fill="#a0a0c4"/>
<circle cx="114.0" cy="238.7" r="0.8" fill="#a0a0c4"/>
<circle cx="112.3" cy="246.3" r="0.7" fill="#a0a0c4"/>
<circle cx="78.5" cy="258.1" r="0.6" fill="#a0a0c4"/>
<circle cx="103.7" cy="264.1" r="0.7" fill="#a0a0c4"/>
<circle cx="100.7" cy="247.3" r="0.5" fill="#a0a0c4"/>
<circle cx="90.2" cy="225.4" r="0.6" fill="#a0a0c4"/>
<circle cx="113.4" cy="239.7" r="0.5" fill="#a0a0c4"/>
<circle cx="89.1" cy="225.3" r="0.7" fill="#a0a0c4"/>
<circle cx="79.9" cy="232.4" r="0.7" fill="#a0a0c4"/>
<circle cx="111.0" cy="223.2" r="0.7" fill="#a0a0c4"/>
<circle cx="95.7" cy="244.5" r="0.6" fill="#a0a0c4"/>
<circle cx="70.2" cy="238.4" r="0.7" fill="#a0a0c4"/>
<circle cx="84.7" cy="267.3" r="0.6" fill="#a0a0c4"/>
<circle cx="107.4" cy="259.1" r="0.7" fill="#a0a0c4"/>
<circle cx="91.6" cy="245.1" r="0.8" fill="#a0a0c4"/>
<circle cx="74.9" cy="232.7" r="0.5" fill="#a0a0c4"/>
<circle cx="91.6" cy="243.0" r="0.8" fill="#a0a0c4"/>
<circle cx="111.2" cy="240.9" r="0.6" fill="#a0a0c4"/>
<circle cx="74.4" cy="256.5" r="0.7" fill="#a0a0c4"/>
<circle cx="77.2" cy="262.1" r="0.5" fill="#a0a0c4"/>
<circle cx="78.3" cy="244.1" r="0.8" fill="#a0a0c4"/>
<circle cx="75.9" cy="234.6" r="0.7" fill="#a0a0c4"/>
<circle cx="84.7" cy="264.4" r="0.5" fill="#a0a0c4"/>
<circle cx="80.3" cy="236.5" r="0.8" fill="#a0a0c4"/>
<circle cx="74.3" cy="252.9" r="0.8" fill="#a0a0c4"/>
<circle cx="113.2" cy="258.9" r="0.5" fill="#a0a0c4"/>
<circle cx="91.2" cy="232.4" r="0.5" fill="#a0a0c4"/>
<circle cx="80.5" cy="255.7" r="0.7" fill="#a0a0c4"/>
<circle cx="75.5" cy="235.5" r="0.5" fill="#a0a0c4"/>
<circle cx="111.0" cy="256.5" r="0.6" fill="#a0a0c4"/>
<circle cx="112.6" cy="266.6" r="0.6" fill="#a0a0c4"/>
<circle cx="81.0" cy="231.2" r="0.7" fill="#a0a0c4"/>
<circle cx="96.2" cy="245.9" r="0.7" fill="#a0a0c4"/>
<circle cx="93.3" cy="236.8" r="0.7" fill="#a0a0c4"/>
<circle cx="112.0" cy="224.8" r="0.6" fill="#a0a0c4"/>
<circle cx="75.9" cy="256.2" r="0.9" fill="#e2dcd4"/>
<circle cx="107.1" cy="252.7" r="1.2" fill="#e2dcd4"/>
<circle cx="95.6" cy="249.4" r="1.2" fill="#e2dcd4"/>
<circle cx="105.5" cy="237.8" r="0.7" fill="#e2dcd4"/>
<circle cx="110.8" cy="225.5" r="1.2" fill="#e2dcd4"/>
<circle cx="111.3" cy="252.4" r="1.2" fill="#e2dcd4"/>
<circle cx="96.8" cy="256.2" r="1.0" fill="#e2dcd4"/>
<circle cx="79.6" cy="226.1" r="1.0" fill="#e2dcd4"/>
<circle cx="89.8" cy="228.2" r="0.9" fill="#e2dcd4"/>
<circle cx="81.5" cy="234.4" r="1.1" fill="#e2dcd4"/>
<circle cx="97.3" cy="256.3" r="1.1" fill="#e2dcd4"/>
<circle cx="89.2" cy="242.9" r="0.9" fill="#e2dcd4"/>
<circle cx="85.6" cy="257.6" r="1.1" fill="#e2dcd4"/>
<circle cx="83.0" cy="254.6" r="0.7" fill="#e2dcd4"/>
<circle cx="70.1" cy="253.4" r="1.1" fill="#e2dcd4"/>
<circle cx="84.4" cy="267.4" r="1.0" fill="#e2dcd4"/>
<circle cx="84.0" cy="256.8" r="1.1" fill="#e2dcd4"/>
<circle cx="76.0" cy="263.6" r="0.9" fill="#e2dcd4"/>
<circle cx="81.9" cy="239.6" r="0.9" fill="#e2dcd4"/>
<circle cx="93.2" cy="235.8" r="0.6" fill="#e2dcd4"/>
<circle cx="97.8" cy="254.9" r="1.0" fill="#e2dcd4"/>
<circle cx="87.4" cy="261.2" r="0.6" fill="#e2dcd4"/>
<circle cx="75.5" cy="223.4" r="0.9" fill="#e2dcd4"/>
<circle cx="93.0" cy="232.8" r="0.9" fill="#e2dcd4"/>
<circle cx="69.9" cy="224.2" r="1.2" fill="#e2dcd4"/>
<circle cx="109.2" cy="225.7" r="1.0" fill="#e2dcd4"/>
<circle cx="92.4" cy="246.8" r="1.1" fill="#e2dcd4"/>
<circle cx="98.3" cy="264.9" r="1.0" fill="#e2dcd4"/>
<circle cx="110.5" cy="227.8" r="1.1" fill="#e2dcd4"/>
<circle cx="84.0" cy="264.0" r="1.1" fill="#e2dcd4"/>
<circle cx="112.8" cy="256.6" r="0.8" fill="#e2dcd4"/>
<circle cx="93.1" cy="257.8" r="0.6" fill="#e2dcd4"/>
<circle cx="93.7" cy="248.2" r="1.0" fill="#e2dcd4"/>
<circle cx="85.0" cy="249.9" r="1.0" fill="#e2dcd4"/>
<circle cx="86.7" cy="253.3" r="1.1" fill="#e2dcd4"/>
<circle cx="86.2" cy="246.3" r="0.9" fill="#e2dcd4"/>
<circle cx="107.1" cy="234.7" r="0.8" fill="#e2dcd4"/>
<circle cx="87.2" cy="252.0" r="0.7" fill="#e2dcd4"/>
<circle cx="113.3" cy="245.2" r="1.0" fill="#e2dcd4"/>
<circle cx="88.1" cy="223.8" r="0.8" fill="#e2dcd4"/>
</g></g>
<rect x="116.2" y="222.6" width="44.6" height="45" fill="#dcd9da"/>
<g clip-path="url(#t12)"><g filter="url(#bl)">
<rect x="116.2" y="222.6" width="44.6" height="45" fill="#dcd9da"/>
<circle cx="141.7" cy="226.7" r="0.8" fill="#b0b2d2"/>
<circle cx="142.4" cy="243.3" r="0.5" fill="#b0b2d2"/>
<circle cx="127.2" cy="237.8" r="0.7" fill="#b0b2d2"/>
<circle cx="124.0" cy="244.4" r="0.6" fill="#b0b2d2"/>
<circle cx="141.4" cy="253.6" r="0.7" fill="#b0b2d2"/>
<circle cx="149.7" cy="250.6" r="0.5" fill="#b0b2d2"/>
<circle cx="145.5" cy="244.4" r="0.7" fill="#b0b2d2"/>
<circle cx="158.0" cy="238.4" r="0.8" fill="#b0b2d2"/>
<circle cx="126.5" cy="251.9" r="0.5" fill="#b0b2d2"/>
<circle cx="153.0" cy="242.7" r="0.6" fill="#b0b2d2"/>
<circle cx="138.4" cy="239.4" r="0.6" fill="#b0b2d2"/>
<circle cx="147.1" cy="250.8" r="0.5" fill="#b0b2d2"/>
<circle cx="128.3" cy="264.5" r="0.6" fill="#b0b2d2"/>
<circle cx="129.3" cy="248.6" r="0.6" fill="#b0b2d2"/>
<circle cx="158.5" cy="266.8" r="0.5" fill="#b0b2d2"/>
<circle cx="126.2" cy="230.3" r="0.6" fill="#b0b2d2"/>
<circle cx="128.9" cy="252.9" r="0.8" fill="#b0b2d2"/>
<circle cx="119.4" cy="223.8" r="0.5" fill="#b0b2d2"/>
<circle cx="130.0" cy="228.6" r="0.6" fill="#b0b2d2"/>
<circle cx="132.4" cy="255.3" r="0.8" fill="#b0b2d2"/>
<circle cx="159.8" cy="241.5" r="0.7" fill="#b0b2d2"/>
<circle cx="122.1" cy="250.1" r="0.8" fill="#b0b2d2"/>
<circle cx="155.7" cy="228.9" r="0.5" fill="#b0b2d2"/>
<circle cx="156.4" cy="254.0" r="0.7" fill="#b0b2d2"/>
<circle cx="119.2" cy="250.4" r="0.5" fill="#b0b2d2"/>
<circle cx="149.1" cy="258.4" r="0.6" fill="#b0b2d2"/>
<circle cx="116.3" cy="255.6" r="0.8" fill="#b0b2d2"/>
<circle cx="143.9" cy="239.1" r="0.6" fill="#b0b2d2"/>
<circle cx="152.4" cy="266.2" r="0.6" fill="#b0b2d2"/>
<circle cx="126.1" cy="267.4" r="0.6" fill="#b0b2d2"/>
<circle cx="135.9" cy="236.6" r="0.7" fill="#b0b2d2"/>
<circle cx="160.0" cy="243.7" r="0.8" fill="#b0b2d2"/>
<circle cx="134.1" cy="241.6" r="0.7" fill="#b0b2d2"/>
<circle cx="159.5" cy="256.6" r="0.7" fill="#b0b2d2"/>
<circle cx="153.1" cy="264.0" r="0.8" fill="#b0b2d2"/>
<circle cx="139.9" cy="240.0" r="0.5" fill="#b0b2d2"/>
<circle cx="139.7" cy="238.6" r="0.5" fill="#b0b2d2"/>
<circle cx="160.5" cy="236.4" r="0.8" fill="#b0b2d2"/>
<circle cx="116.9" cy="238.8" r="0.7" fill="#b0b2d2"/>
<circle cx="146.2" cy="252.9" r="0.6" fill="#b0b2d2"/>
<circle cx="120.3" cy="260.0" r="0.7" fill="#b0b2d2"/>
<circle cx="137.5" cy="247.9" r="0.7" fill="#b0b2d2"/>
<circle cx="138.2" cy="244.0" r="0.6" fill="#b0b2d2"/>
<circle cx="149.0" cy="255.7" r="0.6" fill="#b0b2d2"/>
<circle cx="150.8" cy="239.5" r="0.7" fill="#b0b2d2"/>
<circle cx="133.0" cy="263.1" r="0.8" fill="#b0b2d2"/>
<circle cx="150.9" cy="239.8" r="0.6" fill="#b0b2d2"/>
<circle cx="135.5" cy="249.8" r="0.5" fill="#b0b2d2"/>
<circle cx="140.5" cy="264.4" r="0.5" fill="#b0b2d2"/>
<circle cx="156.0" cy="248.3" r="0.8" fill="#b0b2d2"/>
<circle cx="148.4" cy="254.9" r="0.7" fill="#b0b2d2"/>
<circle cx="135.0" cy="227.9" r="0.8" fill="#b0b2d2"/>
<circle cx="155.3" cy="255.1" r="0.6" fill="#b0b2d2"/>
<circle cx="138.5" cy="245.8" r="0.6" fill="#b0b2d2"/>
<circle cx="138.0" cy="243.2" r="0.8" fill="#b0b2d2"/>
<circle cx="144.2" cy="266.5" r="0.8" fill="#b0b2d2"/>
<circle cx="124.1" cy="257.3" r="0.6" fill="#b0b2d2"/>
<circle cx="142.8" cy="247.9" r="0.7" fill="#b0b2d2"/>
<circle cx="129.6" cy="253.1" r="0.6" fill="#b0b2d2"/>
<circle cx="151.1" cy="244.8" r="0.7" fill="#b0b2d2"/>
<circle cx="160.6" cy="235.2" r="0.5" fill="#b0b2d2"/>
<circle cx="156.1" cy="246.2" r="0.7" fill="#b0b2d2"/>
<circle cx="153.2" cy="262.7" r="0.6" fill="#b0b2d2"/>
<circle cx="160.2" cy="240.2" r="0.7" fill="#b0b2d2"/>
<circle cx="153.3" cy="238.9" r="0.6" fill="#b0b2d2"/>
<circle cx="132.5" cy="238.0" r="0.6" fill="#b0b2d2"/>
<circle cx="154.0" cy="225.3" r="0.8" fill="#b0b2d2"/>
<circle cx="151.5" cy="247.8" r="0.7" fill="#b0b2d2"/>
<circle cx="129.6" cy="257.0" r="0.8" fill="#b0b2d2"/>
<circle cx="133.2" cy="245.1" r="0.6" fill="#b0b2d2"/>
<circle cx="127.4" cy="260.9" r="0.7" fill="#b0b2d2"/>
<circle cx="136.1" cy="251.4" r="0.6" fill="#b0b2d2"/>
<circle cx="116.4" cy="238.7" r="0.7" fill="#b0b2d2"/>
<circle cx="124.4" cy="247.0" r="0.6" fill="#b0b2d2"/>
<circle cx="127.9" cy="255.9" r="0.6" fill="#b0b2d2"/>
<circle cx="149.3" cy="256.3" r="0.6" fill="#b0b2d2"/>
<circle cx="117.6" cy="260.5" r="0.7" fill="#b0b2d2"/>
<circle cx="142.1" cy="253.4" r="0.7" fill="#b0b2d2"/>
<circle cx="156.7" cy="223.0" r="0.8" fill="#b0b2d2"/>
<circle cx="143.7" cy="240.9" r="0.8" fill="#b0b2d2"/>
<circle cx="156.1" cy="249.4" r="0.5" fill="#b0b2d2"/>
<circle cx="144.0" cy="241.1" r="0.7" fill="#b0b2d2"/>
<circle cx="153.2" cy="228.5" r="0.8" fill="#b0b2d2"/>
<circle cx="130.1" cy="233.9" r="0.5" fill="#b0b2d2"/>
<circle cx="121.0" cy="234.7" r="0.7" fill="#b0b2d2"/>
<circle cx="158.1" cy="230.3" r="0.6" fill="#b0b2d2"/>
<circle cx="132.8" cy="251.4" r="0.6" fill="#b0b2d2"/>
<circle cx="146.1" cy="229.4" r="0.5" fill="#b0b2d2"/>
<circle cx="142.1" cy="255.2" r="0.5" fill="#b0b2d2"/>
<circle cx="118.3" cy="252.7" r="0.5" fill="#b0b2d2"/>
<circle cx="157.5" cy="253.7" r="0.5" fill="#b0b2d2"/>
<circle cx="134.5" cy="225.1" r="0.5" fill="#b0b2d2"/>
<circle cx="131.9" cy="262.1" r="0.8" fill="#b0b2d2"/>
<circle cx="149.8" cy="251.3" r="0.7" fill="#b0b2d2"/>
<circle cx="139.0" cy="252.1" r="0.6" fill="#b0b2d2"/>
<circle cx="133.9" cy="260.3" r="0.6" fill="#b0b2d2"/>
<circle cx="134.3" cy="253.2" r="0.8" fill="#b0b2d2"/>
<circle cx="131.6" cy="242.1" r="0.6" fill="#b0b2d2"/>
<circle cx="125.6" cy="238.6" r="0.7" fill="#b0b2d2"/>
<circle cx="124.6" cy="244.1" r="0.6" fill="#b0b2d2"/>
<circle cx="142.0" cy="257.4" r="0.5" fill="#b0b2d2"/>
<circle cx="137.9" cy="231.0" r="0.7" fill="#b0b2d2"/>
<circle cx="146.4" cy="232.6" r="0.6" fill="#b0b2d2"/>
<circle cx="129.7" cy="237.4" r="0.8" fill="#b0b2d2"/>
<circle cx="155.2" cy="258.2" r="0.6" fill="#b0b2d2"/>
<circle cx="136.6" cy="231.7" r="0.6" fill="#b0b2d2"/>
<circle cx="158.6" cy="226.7" r="0.6" fill="#b0b2d2"/>
<circle cx="124.9" cy="260.6" r="0.6" fill="#b0b2d2"/>
<circle cx="137.9" cy="224.9" r="0.7" fill="#b0b2d2"/>
<circle cx="139.1" cy="258.6" r="0.7" fill="#b0b2d2"/>
<circle cx="149.4" cy="234.4" r="0.6" fill="#b0b2d2"/>
<circle cx="142.9" cy="224.8" r="0.8" fill="#b0b2d2"/>
<circle cx="148.3" cy="244.8" r="0.6" fill="#b0b2d2"/>
<circle cx="119.7" cy="247.5" r="0.7" fill="#b0b2d2"/>
<circle cx="121.4" cy="227.1" r="0.7" fill="#b0b2d2"/>
<circle cx="137.2" cy="258.2" r="0.6" fill="#b0b2d2"/>
<circle cx="160.0" cy="261.9" r="0.6" fill="#b0b2d2"/>
<circle cx="140.1" cy="249.0" r="0.6" fill="#b0b2d2"/>
<circle cx="152.7" cy="254.3" r="0.7" fill="#b0b2d2"/>
<circle cx="127.5" cy="245.3" r="0.7" fill="#b0b2d2"/>
<circle cx="142.2" cy="223.3" r="0.7" fill="#b0b2d2"/>
<circle cx="136.2" cy="229.8" r="0.8" fill="#b0b2d2"/>
<circle cx="141.0" cy="255.9" r="0.7" fill="#b0b2d2"/>
<circle cx="144.0" cy="263.7" r="0.5" fill="#b0b2d2"/>
<circle cx="131.1" cy="230.0" r="0.7" fill="#b0b2d2"/>
<circle cx="126.0" cy="223.9" r="0.5" fill="#b0b2d2"/>
<circle cx="124.0" cy="246.9" r="0.6" fill="#b0b2d2"/>
<circle cx="136.9" cy="223.2" r="0.7" fill="#b0b2d2"/>
<circle cx="127.5" cy="226.7" r="0.5" fill="#b0b2d2"/>
<circle cx="122.9" cy="240.6" r="0.6" fill="#b0b2d2"/>
<circle cx="136.9" cy="230.0" r="0.7" fill="#b0b2d2"/>
<circle cx="155.3" cy="237.2" r="0.5" fill="#b0b2d2"/>
<circle cx="159.2" cy="226.4" r="0.7" fill="#b0b2d2"/>
<circle cx="149.9" cy="244.3" r="0.8" fill="#b0b2d2"/>
<circle cx="122.8" cy="255.0" r="0.8" fill="#b0b2d2"/>
<circle cx="156.2" cy="260.8" r="0.6" fill="#b0b2d2"/>
<circle cx="139.0" cy="260.8" r="0.6" fill="#b0b2d2"/>
<circle cx="127.6" cy="224.0" r="0.6" fill="#b0b2d2"/>
<circle cx="122.5" cy="264.4" r="0.6" fill="#b0b2d2"/>
<circle cx="131.9" cy="266.5" r="0.7" fill="#b0b2d2"/>
<circle cx="135.6" cy="227.3" r="0.6" fill="#b0b2d2"/>
<circle cx="129.2" cy="265.3" r="0.6" fill="#b0b2d2"/>
<circle cx="159.6" cy="234.8" r="0.5" fill="#b0b2d2"/>
<circle cx="156.3" cy="226.0" r="0.7" fill="#b0b2d2"/>
<circle cx="142.8" cy="235.4" r="0.8" fill="#b0b2d2"/>
<circle cx="135.3" cy="266.9" r="0.7" fill="#b0b2d2"/>
<circle cx="158.3" cy="264.5" r="0.6" fill="#b0b2d2"/>
<circle cx="147.0" cy="255.4" r="0.7" fill="#b0b2d2"/>
<circle cx="117.2" cy="253.6" r="0.7" fill="#b0b2d2"/>
<circle cx="124.8" cy="226.9" r="0.5" fill="#b0b2d2"/>
<circle cx="140.5" cy="227.4" r="1.1" fill="#e8e6e6"/>
<circle cx="134.7" cy="267.4" r="1.0" fill="#e8e6e6"/>
<circle cx="135.3" cy="230.8" r="0.9" fill="#e8e6e6"/>
<circle cx="143.3" cy="261.4" r="1.1" fill="#e8e6e6"/>
<circle cx="130.7" cy="223.7" r="1.0" fill="#e8e6e6"/>
<circle cx="146.9" cy="251.7" r="1.1" fill="#e8e6e6"/>
<circle cx="152.4" cy="250.7" r="1.1" fill="#e8e6e6"/>
<circle cx="121.8" cy="265.2" r="1.0" fill="#e8e6e6"/>
<circle cx="120.4" cy="230.2" r="1.0" fill="#e8e6e6"/>
<circle cx="129.9" cy="264.8" r="0.8" fill="#e8e6e6"/>
<circle cx="137.9" cy="245.3" r="1.2" fill="#e8e6e6"/>
<circle cx="129.8" cy="262.7" r="1.0" fill="#e8e6e6"/>
<circle cx="141.6" cy="265.2" r="1.1" fill="#e8e6e6"/>
<circle cx="149.6" cy="247.2" r="0.6" fill="#e8e6e6"/>
<circle cx="126.0" cy="251.9" r="0.7" fill="#e8e6e6"/>
<circle cx="144.9" cy="238.2" r="0.8" fill="#e8e6e6"/>
<circle cx="152.9" cy="260.4" r="1.0" fill="#e8e6e6"/>
<circle cx="136.1" cy="246.7" r="1.2" fill="#e8e6e6"/>
<circle cx="157.5" cy="249.9" r="0.6" fill="#e8e6e6"/>
<circle cx="156.4" cy="224.7" r="0.7" fill="#e8e6e6"/>
<circle cx="145.6" cy="231.4" r="1.1" fill="#e8e6e6"/>
<circle cx="146.8" cy="230.0" r="1.1" fill="#e8e6e6"/>
<circle cx="160.7" cy="252.2" r="1.2" fill="#e8e6e6"/>
<circle cx="151.9" cy="243.9" r="1.1" fill="#e8e6e6"/>
<circle cx="158.1" cy="253.9" r="0.7" fill="#e8e6e6"/>
<circle cx="132.8" cy="254.3" r="0.8" fill="#e8e6e6"/>
<circle cx="123.6" cy="243.1" r="0.7" fill="#e8e6e6"/>
<circle cx="137.4" cy="227.1" r="1.0" fill="#e8e6e6"/>
<circle cx="125.7" cy="264.7" r="0.7" fill="#e8e6e6"/>
<circle cx="144.4" cy="251.6" r="0.7" fill="#e8e6e6"/>
<circle cx="144.2" cy="247.3" r="1.0" fill="#e8e6e6"/>
<circle cx="124.5" cy="244.1" r="1.1" fill="#e8e6e6"/>
<circle cx="143.8" cy="233.6" r="0.8" fill="#e8e6e6"/>
<circle cx="155.4" cy="225.0" r="0.9" fill="#e8e6e6"/>
<circle cx="139.1" cy="242.0" r="0.6" fill="#e8e6e6"/>
<circle cx="120.9" cy="260.5" r="0.9" fill="#e8e6e6"/>
<circle cx="129.2" cy="242.9" r="0.6" fill="#e8e6e6"/>
<circle cx="119.8" cy="259.9" r="1.1" fill="#e8e6e6"/>
<circle cx="125.0" cy="236.9" r="0.6" fill="#e8e6e6"/>
<circle cx="130.4" cy="246.0" r="1.1" fill="#e8e6e6"/>
</g></g>
<rect x="162.8" y="222.6" width="44.6" height="45" fill="#bec2d2"/>
<g clip-path="url(#t13)"><g filter="url(#bl)">
<rect x="162.8" y="222.6" width="44.6" height="45" fill="#bec2d2"/>
<circle cx="185.4" cy="260.7" r="0.9" fill="#a4aaca"/>
<circle cx="188.1" cy="224.6" r="0.6" fill="#a4aaca"/>
<circle cx="192.8" cy="228.5" r="0.9" fill="#a4aaca"/>
<circle cx="165.2" cy="225.1" r="0.9" fill="#a4aaca"/>
<circle cx="180.9" cy="247.6" r="0.7" fill="#a4aaca"/>
<circle cx="168.1" cy="237.7" r="0.6" fill="#a4aaca"/>
<circle cx="195.7" cy="257.8" r="0.8" fill="#a4aaca"/>
<circle cx="170.9" cy="243.4" r="0.9" fill="#a4aaca"/>
<circle cx="170.6" cy="238.3" r="0.7" fill="#a4aaca"/>
<circle cx="207.2" cy="223.7" r="0.8" fill="#a4aaca"/>
<circle cx="183.4" cy="246.4" r="0.8" fill="#a4aaca"/>
<circle cx="167.1" cy="249.5" r="0.6" fill="#a4aaca"/>
<circle cx="196.5" cy="254.8" r="0.7" fill="#a4aaca"/>
<circle cx="169.6" cy="257.0" r="0.8" fill="#a4aaca"/>
<circle cx="187.9" cy="256.2" r="0.9" fill="#a4aaca"/>
<circle cx="173.7" cy="253.6" r="0.8" fill="#a4aaca"/>
<circle cx="174.7" cy="263.2" r="0.6" fill="#a4aaca"/>
<circle cx="205.4" cy="248.8" r="0.9" fill="#a4aaca"/>
<circle cx="202.2" cy="257.8" r="0.6" fill="#a4aaca"/>
<circle cx="183.2" cy="249.0" r="0.8" fill="#a4aaca"/>
<circle cx="181.4" cy="263.1" r="0.6" fill="#a4aaca"/>
<circle cx="186.0" cy="229.1" r="0.6" fill="#a4aaca"/>
<circle cx="175.8" cy="224.7" r="0.7" fill="#a4aaca"/>
<circle cx="190.5" cy="240.4" r="0.8" fill="#a4aaca"/>
<circle cx="187.1" cy="253.4" r="0.5" fill="#a4aaca"/>
<circle cx="177.5" cy="223.6" r="0.6" fill="#a4aaca"/>
<circle cx="200.7" cy="228.7" r="0.7" fill="#a4aaca"/>
<circle cx="179.6" cy="252.9" r="0.8" fill="#a4aaca"/>
<circle cx="199.8" cy="266.0" r="0.9" fill="#a4aaca"/>
<circle cx="180.6" cy="267.1" r="0.8" fill="#a4aaca"/>
<circle cx="175.2" cy="237.4" r="0.7" fill="#a4aaca"/>
<circle cx="200.5" cy="227.1" r="0.9" fill="#a4aaca"/>
<circle cx="192.7" cy="249.3" r="0.7" fill="#a4aaca"/>
<circle cx="179.8" cy="240.9" r="0.8" fill="#a4aaca"/>
<circle cx="182.5" cy="254.7" r="0.9" fill="#a4aaca"/>
<circle cx="166.7" cy="223.4" r="0.9" fill="#a4aaca"/>
<circle cx="171.4" cy="259.2" r="0.7" fill="#a4aaca"/>
<circle cx="172.8" cy="223.2" r="0.7" fill="#a4aaca"/>
<circle cx="189.6" cy="225.0" r="0.5" fill="#a4aaca"/>
<circle cx="175.6" cy="262.2" r="0.8" fill="#a4aaca"/>
<circle cx="174.2" cy="240.8" r="0.7" fill="#a4aaca"/>
<circle cx="194.4" cy="235.4" r="0.6" fill="#a4aaca"/>
<circle cx="185.3" cy="233.3" r="0.7" fill="#a4aaca"/>
<circle cx="196.1" cy="245.3" r="0.5" fill="#a4aaca"/>
<circle cx="178.4" cy="248.3" r="0.6" fill="#a4aaca"/>
<circle cx="180.1" cy="247.8" r="0.6" fill="#a4aaca"/>
<circle cx="171.0" cy="262.0" r="0.5" fill="#a4aaca"/>
<circle cx="203.2" cy="226.9" r="0.7" fill="#a4aaca"/>
<circle cx="187.1" cy="241.0" r="0.8" fill="#a4aaca"/>
<circle cx="202.2" cy="237.0" r="0.5" fill="#a4aaca"/>
<circle cx="171.7" cy="262.1" r="0.7" fill="#a4aaca"/>
<circle cx="196.4" cy="240.1" r="0.6" fill="#a4aaca"/>
<circle cx="193.6" cy="248.2" r="0.9" fill="#a4aaca"/>
<circle cx="170.0" cy="238.0" r="0.8" fill="#a4aaca"/>
<circle cx="203.2" cy="243.6" r="0.8" fill="#a4aaca"/>
<circle cx="167.7" cy="251.4" r="0.6" fill="#a4aaca"/>
<circle cx="193.7" cy="236.0" r="0.6" fill="#a4aaca"/>
<circle cx="174.8" cy="255.2" r="0.8" fill="#a4aaca"/>
<circle cx="203.5" cy="241.2" r="0.5" fill="#a4aaca"/>
<circle cx="198.9" cy="234.1" r="0.8" fill="#a4aaca"/>
<circle cx="184.6" cy="242.6" r="0.5" fill="#a4aaca"/>
<circle cx="172.9" cy="256.3" r="0.7" fill="#a4aaca"/>
<circle cx="202.1" cy="258.9" r="0.7" fill="#a4aaca"/>
<circle cx="206.6" cy="222.7" r="0.7" fill="#a4aaca"/>
<circle cx="186.6" cy="225.0" r="0.8" fill="#a4aaca"/>
<circle cx="169.5" cy="248.7" r="0.6" fill="#a4aaca"/>
<circle cx="179.8" cy="243.5" r="0.6" fill="#a4aaca"/>
<circle cx="170.4" cy="252.6" r="0.8" fill="#a4aaca"/>
<circle cx="166.4" cy="266.4" r="0.5" fill="#a4aaca"/>
<circle cx="172.7" cy="235.3" r="0.6" fill="#a4aaca"/>
<circle cx="184.7" cy="263.2" r="0.5" fill="#a4aaca"/>
<circle cx="188.4" cy="250.7" r="0.6" fill="#a4aaca"/>
<circle cx="178.6" cy="242.6" r="0.9" fill="#a4aaca"/>
<circle cx="197.4" cy="244.2" r="0.5" fill="#a4aaca"/>
<circle cx="178.8" cy="259.4" r="0.7" fill="#a4aaca"/>
<circle cx="180.2" cy="251.3" r="0.5" fill="#a4aaca"/>
<circle cx="191.7" cy="253.4" r="0.5" fill="#a4aaca"/>
<circle cx="181.4" cy="261.1" r="0.6" fill="#a4aaca"/>
<circle cx="186.4" cy="238.2" r="0.7" fill="#a4aaca"/>
<circle cx="180.2" cy="238.1" r="0.9" fill="#a4aaca"/>
<circle cx="193.7" cy="267.5" r="0.6" fill="#a4aaca"/>
<circle cx="183.6" cy="239.0" r="0.8" fill="#a4aaca"/>
<circle cx="179.2" cy="253.2" r="0.6" fill="#a4aaca"/>
<circle cx="187.0" cy="234.7" r="0.9" fill="#a4aaca"/>
<circle cx="179.1" cy="265.5" r="0.7" fill="#a4aaca"/>
<circle cx="178.0" cy="247.4" r="0.9" fill="#a4aaca"/>
<circle cx="193.7" cy="259.7" r="0.7" fill="#a4aaca"/>
<circle cx="190.4" cy="228.9" r="0.8" fill="#a4aaca"/>
<circle cx="191.4" cy="251.8" r="0.6" fill="#a4aaca"/>
<circle cx="196.8" cy="246.3" r="0.6" fill="#a4aaca"/>
<circle cx="207.0" cy="257.4" r="0.8" fill="#a4aaca"/>
<circle cx="200.3" cy="253.9" r="0.7" fill="#a4aaca"/>
<circle cx="205.4" cy="263.4" r="0.8" fill="#a4aaca"/>
<circle cx="182.2" cy="245.1" r="0.5" fill="#a4aaca"/>
<circle cx="202.5" cy="260.0" r="0.7" fill="#a4aaca"/>
<circle cx="183.6" cy="258.8" r="0.5" fill="#a4aaca"/>
<circle cx="180.7" cy="233.9" r="0.7" fill="#a4aaca"/>
<circle cx="178.6" cy="249.9" r="0.9" fill="#a4aaca"/>
<circle cx="181.1" cy="227.8" r="0.5" fill="#a4aaca"/>
<circle cx="200.1" cy="243.7" r="0.7" fill="#a4aaca"/>
<circle cx="164.1" cy="227.2" r="0.5" fill="#a4aaca"/>
<circle cx="202.8" cy="224.7" r="0.6" fill="#a4aaca"/>
<circle cx="183.9" cy="248.4" r="0.6" fill="#a4aaca"/>
<circle cx="191.6" cy="251.4" r="0.9" fill="#a4aaca"/>
<circle cx="167.0" cy="235.9" r="0.5" fill="#a4aaca"/>
<circle cx="175.7" cy="232.2" r="0.5" fill="#a4aaca"/>
<circle cx="198.8" cy="235.0" r="0.8" fill="#a4aaca"/>
<circle cx="199.1" cy="258.4" r="0.5" fill="#a4aaca"/>
<circle cx="189.0" cy="260.9" r="0.8" fill="#a4aaca"/>
<circle cx="189.7" cy="241.7" r="0.8" fill="#a4aaca"/>
<circle cx="186.6" cy="238.4" r="0.7" fill="#a4aaca"/>
<circle cx="183.8" cy="231.0" r="0.8" fill="#a4aaca"/>
<circle cx="200.0" cy="252.0" r="0.5" fill="#a4aaca"/>
<circle cx="180.9" cy="257.1" r="0.6" fill="#a4aaca"/>
<circle cx="185.3" cy="253.3" r="0.7" fill="#a4aaca"/>
<circle cx="177.5" cy="223.4" r="0.8" fill="#a4aaca"/>
<circle cx="170.2" cy="249.7" r="0.7" fill="#a4aaca"/>
<circle cx="195.0" cy="227.6" r="0.9" fill="#a4aaca"/>
<circle cx="196.2" cy="261.9" r="0.6" fill="#a4aaca"/>
<circle cx="194.9" cy="239.6" r="0.8" fill="#a4aaca"/>
<circle cx="193.9" cy="241.0" r="0.9" fill="#a4aaca"/>
<circle cx="182.3" cy="243.6" r="0.8" fill="#a4aaca"/>
<circle cx="169.6" cy="262.9" r="0.6" fill="#a4aaca"/>
<circle cx="202.4" cy="229.1" r="0.5" fill="#a4aaca"/>
<circle cx="189.1" cy="233.4" r="0.7" fill="#a4aaca"/>
<circle cx="171.7" cy="255.2" r="0.8" fill="#a4aaca"/>
<circle cx="193.4" cy="228.6" r="0.5" fill="#a4aaca"/>
<circle cx="188.8" cy="226.3" r="0.8" fill="#a4aaca"/>
<circle cx="187.2" cy="264.6" r="0.8" fill="#a4aaca"/>
<circle cx="192.0" cy="259.8" r="0.7" fill="#a4aaca"/>
<circle cx="175.8" cy="225.4" r="0.8" fill="#a4aaca"/>
<circle cx="192.5" cy="251.1" r="0.7" fill="#a4aaca"/>
<circle cx="183.1" cy="264.0" r="0.7" fill="#a4aaca"/>
<circle cx="169.0" cy="265.4" r="0.8" fill="#a4aaca"/>
<circle cx="202.8" cy="266.9" r="0.7" fill="#a4aaca"/>
<circle cx="169.7" cy="244.8" r="0.7" fill="#a4aaca"/>
<circle cx="180.1" cy="258.0" r="0.6" fill="#a4aaca"/>
<circle cx="206.1" cy="232.1" r="0.6" fill="#a4aaca"/>
<circle cx="199.8" cy="233.1" r="0.8" fill="#a4aaca"/>
<circle cx="175.0" cy="241.0" r="0.7" fill="#a4aaca"/>
<circle cx="173.8" cy="259.6" r="0.9" fill="#a4aaca"/>
<circle cx="204.0" cy="229.8" r="0.5" fill="#a4aaca"/>
<circle cx="182.4" cy="255.9" r="0.7" fill="#a4aaca"/>
<circle cx="205.6" cy="267.0" r="0.8" fill="#a4aaca"/>
<circle cx="174.5" cy="240.7" r="0.5" fill="#a4aaca"/>
<circle cx="180.4" cy="256.4" r="0.6" fill="#a4aaca"/>
<circle cx="171.1" cy="246.8" r="0.9" fill="#a4aaca"/>
<circle cx="191.6" cy="227.6" r="0.7" fill="#a4aaca"/>
<circle cx="173.0" cy="259.1" r="0.7" fill="#a4aaca"/>
<circle cx="182.6" cy="262.1" r="0.6" fill="#a4aaca"/>
<circle cx="182.8" cy="266.7" r="0.6" fill="#a4aaca"/>
<circle cx="186.9" cy="251.8" r="0.6" fill="#a4aaca"/>
<circle cx="190.9" cy="241.6" r="0.8" fill="#a4aaca"/>
<circle cx="187.6" cy="255.3" r="0.7" fill="#a4aaca"/>
<circle cx="193.9" cy="240.1" r="0.6" fill="#a4aaca"/>
<circle cx="179.0" cy="237.2" r="0.5" fill="#a4aaca"/>
<circle cx="197.1" cy="246.2" r="0.7" fill="#a4aaca"/>
<circle cx="194.2" cy="225.6" r="0.6" fill="#a4aaca"/>
<circle cx="194.8" cy="224.4" r="0.8" fill="#a4aaca"/>
<circle cx="185.5" cy="266.1" r="0.8" fill="#a4aaca"/>
<circle cx="181.0" cy="238.1" r="0.7" fill="#a4aaca"/>
<circle cx="197.1" cy="243.4" r="0.8" fill="#a4aaca"/>
<circle cx="207.0" cy="256.3" r="0.7" fill="#a4aaca"/>
<circle cx="195.9" cy="244.8" r="0.7" fill="#a4aaca"/>
<circle cx="181.5" cy="264.7" r="0.9" fill="#a4aaca"/>
<circle cx="188.1" cy="247.7" r="0.5" fill="#a4aaca"/>
<circle cx="188.0" cy="264.4" r="0.6" fill="#a4aaca"/>
<circle cx="197.4" cy="234.1" r="0.8" fill="#a4aaca"/>
<circle cx="175.4" cy="249.4" r="0.8" fill="#a4aaca"/>
<circle cx="164.2" cy="260.4" r="0.7" fill="#a4aaca"/>
<circle cx="173.7" cy="236.4" r="0.7" fill="#a4aaca"/>
<circle cx="195.9" cy="230.6" r="0.5" fill="#a4aaca"/>
<circle cx="173.1" cy="251.1" r="0.7" fill="#a4aaca"/>
<circle cx="196.8" cy="255.3" r="0.6" fill="#a4aaca"/>
<circle cx="189.1" cy="229.2" r="0.7" fill="#a4aaca"/>
<circle cx="191.7" cy="233.2" r="0.8" fill="#a4aaca"/>
<circle cx="169.0" cy="266.3" r="0.7" fill="#a4aaca"/>
<circle cx="203.9" cy="252.7" r="0.6" fill="#a4aaca"/>
<circle cx="195.5" cy="250.3" r="0.7" fill="#a4aaca"/>
<circle cx="193.7" cy="256.8" r="0.8" fill="#a4aaca"/>
<circle cx="172.5" cy="266.0" r="0.9" fill="#a4aaca"/>
<circle cx="182.2" cy="264.3" r="0.9" fill="#a4aaca"/>
<circle cx="178.2" cy="231.2" r="0.6" fill="#a4aaca"/>
<circle cx="184.6" cy="229.1" r="0.6" fill="#a4aaca"/>
<circle cx="195.5" cy="223.4" r="0.7" fill="#a4aaca"/>
<circle cx="181.0" cy="254.6" r="0.6" fill="#a4aaca"/>
<circle cx="184.1" cy="232.2" r="0.5" fill="#a4aaca"/>
<circle cx="201.3" cy="239.1" r="0.6" fill="#a4aaca"/>
<circle cx="204.5" cy="239.3" r="0.7" fill="#a4aaca"/>
<circle cx="169.1" cy="241.1" r="0.9" fill="#a4aaca"/>
<circle cx="199.6" cy="259.4" r="0.9" fill="#a4aaca"/>
<circle cx="173.1" cy="225.0" r="0.6" fill="#a4aaca"/>
<circle cx="191.8" cy="247.2" r="0.6" fill="#a4aaca"/>
<circle cx="194.6" cy="232.5" r="0.7" fill="#a4aaca"/>
<circle cx="181.4" cy="228.9" r="0.8" fill="#a4aaca"/>
<circle cx="171.0" cy="258.6" r="0.8" fill="#a4aaca"/>
<circle cx="182.3" cy="243.0" r="0.6" fill="#a4aaca"/>
<circle cx="169.0" cy="253.9" r="0.6" fill="#a4aaca"/>
<circle cx="187.9" cy="239.2" r="0.6" fill="#a4aaca"/>
<circle cx="170.1" cy="256.9" r="0.7" fill="#a4aaca"/>
<circle cx="169.6" cy="261.9" r="0.6" fill="#a4aaca"/>
<circle cx="173.0" cy="229.7" r="0.7" fill="#a4aaca"/>
<circle cx="197.5" cy="224.0" r="0.9" fill="#a4aaca"/>
<circle cx="194.1" cy="260.0" r="0.7" fill="#a4aaca"/>
<circle cx="182.3" cy="226.8" r="0.6" fill="#a4aaca"/>
<circle cx="201.6" cy="235.4" r="0.9" fill="#a4aaca"/>
<circle cx="200.0" cy="264.0" r="0.6" fill="#a4aaca"/>
<circle cx="181.7" cy="260.1" r="0.6" fill="#a4aaca"/>
<circle cx="173.7" cy="223.5" r="0.7" fill="#a4aaca"/>
<circle cx="187.3" cy="232.1" r="0.6" fill="#a4aaca"/>
<circle cx="191.0" cy="230.4" r="0.8" fill="#a4aaca"/>
<circle cx="201.7" cy="241.5" r="0.6" fill="#a4aaca"/>
<circle cx="188.3" cy="235.9" r="0.5" fill="#a4aaca"/>
<circle cx="194.4" cy="247.8" r="0.6" fill="#a4aaca"/>
<circle cx="173.8" cy="255.2" r="0.9" fill="#a4aaca"/>
<circle cx="178.5" cy="248.9" r="0.6" fill="#a4aaca"/>
<circle cx="183.5" cy="248.7" r="0.6" fill="#a4aaca"/>
<circle cx="189.8" cy="247.0" r="0.5" fill="#a4aaca"/>
<circle cx="168.1" cy="241.2" r="0.6" fill="#a4aaca"/>
<circle cx="187.2" cy="249.3" r="0.8" fill="#a4aaca"/>
<circle cx="202.3" cy="250.0" r="0.8" fill="#a4aaca"/>
<circle cx="167.9" cy="261.9" r="0.9" fill="#a4aaca"/>
<circle cx="189.2" cy="259.8" r="0.7" fill="#a4aaca"/>
<circle cx="182.2" cy="229.8" r="0.7" fill="#a4aaca"/>
<circle cx="194.6" cy="258.3" r="0.9" fill="#a4aaca"/>
<circle cx="185.9" cy="265.1" r="0.6" fill="#a4aaca"/>
<circle cx="163.6" cy="241.8" r="0.7" fill="#a4aaca"/>
<circle cx="197.3" cy="233.1" r="0.5" fill="#a4aaca"/>
<circle cx="195.0" cy="231.2" r="0.8" fill="#a4aaca"/>
<circle cx="188.0" cy="228.7" r="0.7" fill="#a4aaca"/>
<circle cx="197.2" cy="232.7" r="1.1" fill="#d0d2dc"/>
<circle cx="165.3" cy="229.3" r="0.9" fill="#d0d2dc"/>
<circle cx="193.0" cy="249.7" r="1.1" fill="#d0d2dc"/>
<circle cx="171.8" cy="224.7" r="0.9" fill="#d0d2dc"/>
<circle cx="178.5" cy="240.4" r="0.8" fill="#d0d2dc"/>
<circle cx="202.1" cy="235.4" r="0.9" fill="#d0d2dc"/>
<circle cx="188.1" cy="235.4" r="1.1" fill="#d0d2dc"/>
<circle cx="174.2" cy="236.1" r="0.7" fill="#d0d2dc"/>
<circle cx="194.1" cy="253.8" r="0.8" fill="#d0d2dc"/>
<circle cx="168.0" cy="249.4" r="0.8" fill="#d0d2dc"/>
<circle cx="187.4" cy="252.1" r="0.6" fill="#d0d2dc"/>
<circle cx="164.8" cy="259.5" r="1.0" fill="#d0d2dc"/>
<circle cx="166.7" cy="232.6" r="0.8" fill="#d0d2dc"/>
<circle cx="199.9" cy="236.5" r="1.1" fill="#d0d2dc"/>
<circle cx="166.9" cy="263.3" r="0.6" fill="#d0d2dc"/>
<circle cx="189.6" cy="266.3" r="1.0" fill="#d0d2dc"/>
<circle cx="203.6" cy="238.4" r="1.1" fill="#d0d2dc"/>
<circle cx="203.1" cy="234.9" r="1.0" fill="#d0d2dc"/>
<circle cx="203.7" cy="232.2" r="0.8" fill="#d0d2dc"/>
<circle cx="197.2" cy="248.4" r="1.1" fill="#d0d2dc"/>
<circle cx="182.1" cy="242.8" r="0.7" fill="#d0d2dc"/>
<circle cx="175.0" cy="262.0" r="0.7" fill="#d0d2dc"/>
<circle cx="202.8" cy="258.7" r="0.9" fill="#d0d2dc"/>
<circle cx="176.3" cy="222.7" r="0.7" fill="#d0d2dc"/>
<circle cx="199.7" cy="265.7" r="1.1" fill="#d0d2dc"/>
<circle cx="175.3" cy="264.8" r="0.8" fill="#d0d2dc"/>
<circle cx="179.2" cy="263.5" r="1.0" fill="#d0d2dc"/>
<circle cx="193.1" cy="235.5" r="0.7" fill="#d0d2dc"/>
<circle cx="171.0" cy="234.4" r="0.7" fill="#d0d2dc"/>
<circle cx="188.3" cy="236.8" r="0.7" fill="#d0d2dc"/>
<circle cx="201.9" cy="239.2" r="0.6" fill="#d0d2dc"/>
<circle cx="163.2" cy="247.4" r="0.6" fill="#d0d2dc"/>
<circle cx="187.7" cy="223.8" r="0.8" fill="#d0d2dc"/>
<circle cx="190.4" cy="246.9" r="0.7" fill="#d0d2dc"/>
<circle cx="200.2" cy="266.4" r="1.0" fill="#d0d2dc"/>
<circle cx="204.4" cy="266.3" r="0.8" fill="#d0d2dc"/>
<circle cx="187.0" cy="241.2" r="1.0" fill="#d0d2dc"/>
<circle cx="170.3" cy="232.8" r="0.8" fill="#d0d2dc"/>
<circle cx="187.1" cy="267.2" r="0.8" fill="#d0d2dc"/>
<circle cx="163.0" cy="240.1" r="1.0" fill="#d0d2dc"/>
<circle cx="167.1" cy="245.9" r="0.9" fill="#d0d2dc"/>
<circle cx="200.2" cy="237.3" r="0.9" fill="#d0d2dc"/>
<circle cx="205.3" cy="266.4" r="0.9" fill="#d0d2dc"/>
<circle cx="177.9" cy="251.9" r="1.0" fill="#d0d2dc"/>
<circle cx="193.1" cy="253.0" r="0.8" fill="#d0d2dc"/>
<circle cx="194.7" cy="238.4" r="0.7" fill="#d0d2dc"/>
<circle cx="167.3" cy="247.5" r="0.7" fill="#d0d2dc"/>
<circle cx="175.4" cy="236.0" r="0.8" fill="#d0d2dc"/>
<circle cx="181.4" cy="266.5" r="0.9" fill="#d0d2dc"/>
<circle cx="187.3" cy="240.6" r="0.9" fill="#d0d2dc"/>
</g></g>
<rect x="208.9" y="222.6" width="44.6" height="45" fill="#c8ccdc"/>
<g clip-path="url(#t14)"><g filter="url(#bl)">
<rect x="208.9" y="222.6" width="44.6" height="45" fill="#c8ccdc"/>
<circle cx="245.2" cy="246.1" r="0.7" fill="#a0a8cc"/>
<circle cx="224.6" cy="230.9" r="0.6" fill="#a0a8cc"/>
<circle cx="212.9" cy="235.4" r="0.5" fill="#a0a8cc"/>
<circle cx="227.4" cy="248.4" r="0.5" fill="#a0a8cc"/>
<circle cx="242.6" cy="242.9" r="0.7" fill="#a0a8cc"/>
<circle cx="228.1" cy="258.3" r="0.8" fill="#a0a8cc"/>
<circle cx="214.3" cy="247.3" r="0.6" fill="#a0a8cc"/>
<circle cx="242.2" cy="239.3" r="0.6" fill="#a0a8cc"/>
<circle cx="210.4" cy="267.0" r="0.5" fill="#a0a8cc"/>
<circle cx="220.1" cy="264.5" r="0.5" fill="#a0a8cc"/>
<circle cx="227.2" cy="242.1" r="0.8" fill="#a0a8cc"/>
<circle cx="243.8" cy="266.5" r="0.6" fill="#a0a8cc"/>
<circle cx="212.7" cy="232.3" r="0.5" fill="#a0a8cc"/>
<circle cx="220.9" cy="250.5" r="0.9" fill="#a0a8cc"/>
<circle cx="213.3" cy="234.7" r="0.9" fill="#a0a8cc"/>
<circle cx="235.1" cy="240.6" r="0.5" fill="#a0a8cc"/>
<circle cx="211.4" cy="232.4" r="0.7" fill="#a0a8cc"/>
<circle cx="211.5" cy="245.2" r="0.8" fill="#a0a8cc"/>
<circle cx="209.0" cy="235.5" r="0.7" fill="#a0a8cc"/>
<circle cx="236.1" cy="255.7" r="0.8" fill="#a0a8cc"/>
<circle cx="228.3" cy="237.8" r="0.8" fill="#a0a8cc"/>
<circle cx="229.4" cy="264.4" r="0.7" fill="#a0a8cc"/>
<circle cx="235.0" cy="252.6" r="0.7" fill="#a0a8cc"/>
<circle cx="230.9" cy="252.5" r="0.7" fill="#a0a8cc"/>
<circle cx="253.4" cy="236.3" r="0.7" fill="#a0a8cc"/>
<circle cx="252.4" cy="259.3" r="0.7" fill="#a0a8cc"/>
<circle cx="222.5" cy="230.6" r="0.7" fill="#a0a8cc"/>
<circle cx="227.9" cy="242.1" r="0.6" fill="#a0a8cc"/>
<circle cx="230.3" cy="248.4" r="0.5" fill="#a0a8cc"/>
<circle cx="238.3" cy="254.6" r="0.6" fill="#a0a8cc"/>
<circle cx="220.0" cy="224.3" r="0.7" fill="#a0a8cc"/>
<circle cx="239.0" cy="241.1" r="0.7" fill="#a0a8cc"/>
<circle cx="235.9" cy="224.6" r="0.5" fill="#a0a8cc"/>
<circle cx="231.5" cy="264.2" r="0.8" fill="#a0a8cc"/>
<circle cx="228.8" cy="234.3" r="0.6" fill="#a0a8cc"/>
<circle cx="237.7" cy="257.0" r="0.7" fill="#a0a8cc"/>
<circle cx="212.7" cy="235.1" r="0.8" fill="#a0a8cc"/>
<circle cx="243.3" cy="240.6" r="0.9" fill="#a0a8cc"/>
<circle cx="226.3" cy="223.7" r="0.6" fill="#a0a8cc"/>
<circle cx="248.6" cy="254.4" r="0.5" fill="#a0a8cc"/>
<circle cx="221.7" cy="240.4" r="0.7" fill="#a0a8cc"/>
<circle cx="210.0" cy="264.1" r="0.7" fill="#a0a8cc"/>
<circle cx="220.7" cy="224.0" r="0.7" fill="#a0a8cc"/>
<circle cx="250.5" cy="254.9" r="0.8" fill="#a0a8cc"/>
<circle cx="247.9" cy="252.5" r="0.5" fill="#a0a8cc"/>
<circle cx="222.8" cy="248.8" r="0.7" fill="#a0a8cc"/>
<circle cx="218.6" cy="225.6" r="0.8" fill="#a0a8cc"/>
<circle cx="238.7" cy="236.0" r="0.7" fill="#a0a8cc"/>
<circle cx="247.8" cy="229.1" r="0.8" fill="#a0a8cc"/>
<circle cx="219.3" cy="263.3" r="0.8" fill="#a0a8cc"/>
<circle cx="251.2" cy="239.8" r="0.7" fill="#a0a8cc"/>
<circle cx="223.2" cy="238.4" r="0.9" fill="#a0a8cc"/>
<circle cx="252.1" cy="267.3" r="0.9" fill="#a0a8cc"/>
<circle cx="230.7" cy="252.3" r="0.9" fill="#a0a8cc"/>
<circle cx="228.1" cy="263.9" r="0.8" fill="#a0a8cc"/>
<circle cx="221.6" cy="238.8" r="0.8" fill="#a0a8cc"/>
<circle cx="216.2" cy="234.1" r="0.6" fill="#a0a8cc"/>
<circle cx="213.7" cy="263.5" r="0.9" fill="#a0a8cc"/>
<circle cx="245.5" cy="245.3" r="0.8" fill="#a0a8cc"/>
<circle cx="239.5" cy="242.5" r="0.7" fill="#a0a8cc"/>
<circle cx="214.6" cy="233.5" r="0.6" fill="#a0a8cc"/>
<circle cx="224.8" cy="252.3" r="0.6" fill="#a0a8cc"/>
<circle cx="219.5" cy="262.0" r="0.8" fill="#a0a8cc"/>
<circle cx="250.5" cy="257.7" r="0.6" fill="#a0a8cc"/>
<circle cx="230.7" cy="260.1" r="0.8" fill="#a0a8cc"/>
<circle cx="219.1" cy="244.3" r="0.7" fill="#a0a8cc"/>
<circle cx="209.4" cy="233.6" r="0.8" fill="#a0a8cc"/>
<circle cx="238.6" cy="242.7" r="0.7" fill="#a0a8cc"/>
<circle cx="232.4" cy="238.2" r="0.5" fill="#a0a8cc"/>
<circle cx="242.0" cy="257.4" r="0.7" fill="#a0a8cc"/>
<circle cx="243.2" cy="259.8" r="0.8" fill="#a0a8cc"/>
<circle cx="244.9" cy="266.1" r="0.5" fill="#a0a8cc"/>
<circle cx="250.9" cy="243.0" r="0.8" fill="#a0a8cc"/>
<circle cx="241.8" cy="227.0" r="0.7" fill="#a0a8cc"/>
<circle cx="212.9" cy="255.5" r="0.6" fill="#a0a8cc"/>
<circle cx="225.7" cy="234.9" r="0.8" fill="#a0a8cc"/>
<circle cx="237.5" cy="236.0" r="0.8" fill="#a0a8cc"/>
<circle cx="217.2" cy="258.7" r="0.7" fill="#a0a8cc"/>
<circle cx="243.1" cy="250.3" r="0.9" fill="#a0a8cc"/>
<circle cx="239.9" cy="243.5" r="0.7" fill="#a0a8cc"/>
<circle cx="234.2" cy="235.4" r="0.6" fill="#a0a8cc"/>
<circle cx="244.5" cy="259.4" r="0.9" fill="#a0a8cc"/>
<circle cx="239.5" cy="245.3" r="0.7" fill="#a0a8cc"/>
<circle cx="240.4" cy="251.8" r="0.9" fill="#a0a8cc"/>
<circle cx="242.2" cy="239.9" r="0.6" fill="#a0a8cc"/>
<circle cx="210.9" cy="257.7" r="0.7" fill="#a0a8cc"/>
<circle cx="226.5" cy="225.0" r="0.7" fill="#a0a8cc"/>
<circle cx="249.0" cy="235.1" r="0.8" fill="#a0a8cc"/>
<circle cx="242.7" cy="252.3" r="0.7" fill="#a0a8cc"/>
<circle cx="220.0" cy="253.0" r="0.7" fill="#a0a8cc"/>
<circle cx="252.0" cy="245.8" r="0.6" fill="#a0a8cc"/>
<circle cx="249.3" cy="250.7" r="0.6" fill="#a0a8cc"/>
<circle cx="237.9" cy="229.5" r="0.6" fill="#a0a8cc"/>
<circle cx="248.3" cy="243.4" r="0.8" fill="#a0a8cc"/>
<circle cx="218.5" cy="243.8" r="0.6" fill="#a0a8cc"/>
<circle cx="244.7" cy="249.5" r="0.7" fill="#a0a8cc"/>
<circle cx="226.0" cy="232.1" r="0.6" fill="#a0a8cc"/>
<circle cx="239.7" cy="236.6" r="0.5" fill="#a0a8cc"/>
<circle cx="226.1" cy="243.0" r="0.9" fill="#a0a8cc"/>
<circle cx="226.1" cy="240.7" r="0.9" fill="#a0a8cc"/>
<circle cx="241.1" cy="243.2" r="0.7" fill="#a0a8cc"/>
<circle cx="218.9" cy="229.5" r="0.7" fill="#a0a8cc"/>
<circle cx="237.5" cy="227.4" r="0.7" fill="#a0a8cc"/>
<circle cx="216.6" cy="249.7" r="0.6" fill="#a0a8cc"/>
<circle cx="238.6" cy="257.8" r="0.7" fill="#a0a8cc"/>
<circle cx="226.0" cy="226.1" r="0.6" fill="#a0a8cc"/>
<circle cx="236.6" cy="258.9" r="0.6" fill="#a0a8cc"/>
<circle cx="252.4" cy="263.7" r="0.6" fill="#a0a8cc"/>
<circle cx="232.9" cy="252.9" r="0.6" fill="#a0a8cc"/>
<circle cx="225.2" cy="255.1" r="0.7" fill="#a0a8cc"/>
<circle cx="228.4" cy="247.9" r="0.5" fill="#a0a8cc"/>
<circle cx="229.9" cy="235.9" r="0.6" fill="#a0a8cc"/>
<circle cx="232.3" cy="254.2" r="0.7" fill="#a0a8cc"/>
<circle cx="231.2" cy="252.7" r="0.7" fill="#a0a8cc"/>
<circle cx="252.7" cy="232.2" r="0.5" fill="#a0a8cc"/>
<circle cx="234.3" cy="253.9" r="0.7" fill="#a0a8cc"/>
<circle cx="226.7" cy="238.0" r="0.6" fill="#a0a8cc"/>
<circle cx="244.2" cy="261.4" r="0.6" fill="#a0a8cc"/>
<circle cx="234.1" cy="243.3" r="0.6" fill="#a0a8cc"/>
<circle cx="241.6" cy="246.5" r="0.9" fill="#a0a8cc"/>
<circle cx="249.5" cy="263.3" r="0.6" fill="#a0a8cc"/>
<circle cx="213.8" cy="259.1" r="0.5" fill="#a0a8cc"/>
<circle cx="239.6" cy="230.5" r="0.8" fill="#a0a8cc"/>
<circle cx="211.3" cy="226.5" r="0.8" fill="#a0a8cc"/>
<circle cx="231.9" cy="242.9" r="0.9" fill="#a0a8cc"/>
<circle cx="243.9" cy="232.8" r="0.8" fill="#a0a8cc"/>
<circle cx="226.1" cy="243.5" r="0.6" fill="#a0a8cc"/>
<circle cx="219.0" cy="236.2" r="0.6" fill="#a0a8cc"/>
<circle cx="217.3" cy="261.9" r="0.7" fill="#a0a8cc"/>
<circle cx="233.9" cy="259.1" r="0.8" fill="#a0a8cc"/>
<circle cx="215.9" cy="265.5" r="0.9" fill="#a0a8cc"/>
<circle cx="246.3" cy="237.4" r="0.8" fill="#a0a8cc"/>
<circle cx="237.5" cy="224.0" r="0.7" fill="#a0a8cc"/>
<circle cx="240.0" cy="247.1" r="0.9" fill="#a0a8cc"/>
<circle cx="244.2" cy="260.2" r="0.9" fill="#a0a8cc"/>
<circle cx="224.2" cy="263.5" r="0.5" fill="#a0a8cc"/>
<circle cx="244.5" cy="226.6" r="0.7" fill="#a0a8cc"/>
<circle cx="228.6" cy="225.8" r="0.8" fill="#a0a8cc"/>
<circle cx="244.0" cy="232.7" r="0.6" fill="#a0a8cc"/>
<circle cx="243.3" cy="246.4" r="0.5" fill="#a0a8cc"/>
<circle cx="222.6" cy="265.1" r="0.6" fill="#a0a8cc"/>
<circle cx="221.8" cy="242.9" r="0.9" fill="#a0a8cc"/>
<circle cx="245.0" cy="239.9" r="0.8" fill="#a0a8cc"/>
<circle cx="210.1" cy="225.5" r="0.6" fill="#a0a8cc"/>
<circle cx="237.2" cy="228.9" r="0.5" fill="#a0a8cc"/>
<circle cx="247.0" cy="231.0" r="0.5" fill="#a0a8cc"/>
<circle cx="212.7" cy="226.2" r="0.6" fill="#a0a8cc"/>
<circle cx="234.7" cy="252.1" r="0.6" fill="#a0a8cc"/>
<circle cx="231.9" cy="237.6" r="0.7" fill="#a0a8cc"/>
<circle cx="213.8" cy="250.7" r="0.5" fill="#a0a8cc"/>
<circle cx="250.1" cy="232.0" r="0.7" fill="#a0a8cc"/>
<circle cx="217.3" cy="242.6" r="0.6" fill="#a0a8cc"/>
<circle cx="237.5" cy="257.7" r="0.8" fill="#a0a8cc"/>
<circle cx="252.3" cy="243.1" r="0.7" fill="#a0a8cc"/>
<circle cx="224.6" cy="235.6" r="0.7" fill="#a0a8cc"/>
<circle cx="252.3" cy="225.1" r="0.8" fill="#a0a8cc"/>
<circle cx="223.3" cy="249.5" r="0.6" fill="#a0a8cc"/>
<circle cx="241.0" cy="244.9" r="0.6" fill="#a0a8cc"/>
<circle cx="228.9" cy="222.8" r="0.5" fill="#a0a8cc"/>
<circle cx="249.4" cy="226.3" r="0.7" fill="#a0a8cc"/>
<circle cx="238.8" cy="224.2" r="0.9" fill="#a0a8cc"/>
<circle cx="218.1" cy="265.9" r="0.7" fill="#a0a8cc"/>
<circle cx="235.0" cy="249.8" r="0.5" fill="#a0a8cc"/>
<circle cx="231.5" cy="256.3" r="0.8" fill="#a0a8cc"/>
<circle cx="241.7" cy="253.2" r="0.6" fill="#a0a8cc"/>
<circle cx="227.2" cy="245.5" r="0.5" fill="#a0a8cc"/>
<circle cx="243.1" cy="227.2" r="0.7" fill="#a0a8cc"/>
<circle cx="220.8" cy="229.9" r="0.9" fill="#a0a8cc"/>
<circle cx="236.6" cy="255.6" r="0.7" fill="#a0a8cc"/>
<circle cx="234.1" cy="261.9" r="0.5" fill="#a0a8cc"/>
<circle cx="225.8" cy="232.5" r="0.7" fill="#a0a8cc"/>
<circle cx="226.5" cy="264.0" r="0.6" fill="#a0a8cc"/>
<circle cx="220.9" cy="263.9" r="0.8" fill="#a0a8cc"/>
<circle cx="228.0" cy="239.4" r="0.8" fill="#a0a8cc"/>
<circle cx="215.5" cy="255.1" r="0.6" fill="#a0a8cc"/>
<circle cx="244.9" cy="225.9" r="0.9" fill="#a0a8cc"/>
<circle cx="247.3" cy="223.7" r="0.6" fill="#a0a8cc"/>
<circle cx="249.7" cy="259.5" r="0.6" fill="#a0a8cc"/>
<circle cx="244.6" cy="248.7" r="0.6" fill="#a0a8cc"/>
<circle cx="239.6" cy="241.3" r="0.6" fill="#a0a8cc"/>
<circle cx="246.9" cy="254.9" r="0.6" fill="#a0a8cc"/>
<circle cx="227.9" cy="253.3" r="0.6" fill="#a0a8cc"/>
<circle cx="220.4" cy="246.3" r="0.9" fill="#a0a8cc"/>
<circle cx="213.1" cy="233.9" r="0.7" fill="#a0a8cc"/>
<circle cx="252.8" cy="267.3" r="0.5" fill="#a0a8cc"/>
<circle cx="237.5" cy="228.8" r="0.6" fill="#a0a8cc"/>
<circle cx="214.9" cy="245.1" r="0.9" fill="#a0a8cc"/>
<circle cx="252.0" cy="239.1" r="0.9" fill="#a0a8cc"/>
<circle cx="239.6" cy="225.9" r="0.9" fill="#a0a8cc"/>
<circle cx="221.1" cy="266.6" r="0.6" fill="#a0a8cc"/>
<circle cx="249.0" cy="245.7" r="0.7" fill="#a0a8cc"/>
<circle cx="217.1" cy="244.6" r="0.8" fill="#a0a8cc"/>
<circle cx="233.7" cy="266.7" r="0.7" fill="#a0a8cc"/>
<circle cx="249.2" cy="228.6" r="0.8" fill="#a0a8cc"/>
<circle cx="235.6" cy="262.3" r="0.6" fill="#a0a8cc"/>
<circle cx="229.5" cy="259.2" r="0.6" fill="#a0a8cc"/>
<circle cx="225.5" cy="260.7" r="0.8" fill="#a0a8cc"/>
<circle cx="230.7" cy="223.3" r="0.8" fill="#a0a8cc"/>
<circle cx="227.4" cy="233.3" r="0.7" fill="#a0a8cc"/>
<circle cx="215.0" cy="260.4" r="0.8" fill="#a0a8cc"/>
<circle cx="252.0" cy="252.9" r="0.6" fill="#a0a8cc"/>
<circle cx="227.8" cy="267.4" r="0.5" fill="#a0a8cc"/>
<circle cx="224.2" cy="229.3" r="0.6" fill="#a0a8cc"/>
<circle cx="221.2" cy="250.5" r="0.5" fill="#a0a8cc"/>
<circle cx="247.6" cy="242.0" r="0.6" fill="#a0a8cc"/>
<circle cx="213.4" cy="246.2" r="0.6" fill="#a0a8cc"/>
<circle cx="231.2" cy="227.5" r="0.6" fill="#a0a8cc"/>
<circle cx="231.4" cy="226.4" r="0.7" fill="#a0a8cc"/>
<circle cx="246.4" cy="249.1" r="0.6" fill="#a0a8cc"/>
<circle cx="237.1" cy="226.3" r="0.6" fill="#a0a8cc"/>
<circle cx="209.3" cy="246.5" r="0.6" fill="#a0a8cc"/>
<circle cx="221.3" cy="228.0" r="0.9" fill="#a0a8cc"/>
<circle cx="215.4" cy="252.9" r="0.8" fill="#a0a8cc"/>
<circle cx="228.9" cy="248.8" r="0.6" fill="#a0a8cc"/>
<circle cx="245.4" cy="253.5" r="0.5" fill="#a0a8cc"/>
<circle cx="240.3" cy="228.9" r="0.7" fill="#a0a8cc"/>
<circle cx="217.1" cy="244.4" r="0.8" fill="#a0a8cc"/>
<circle cx="241.6" cy="237.2" r="0.5" fill="#a0a8cc"/>
<circle cx="229.0" cy="263.8" r="0.7" fill="#a0a8cc"/>
<circle cx="236.5" cy="257.1" r="0.8" fill="#a0a8cc"/>
<circle cx="251.2" cy="265.6" r="0.8" fill="#a0a8cc"/>
<circle cx="244.9" cy="229.0" r="0.6" fill="#a0a8cc"/>
<circle cx="240.6" cy="248.7" r="0.8" fill="#a0a8cc"/>
<circle cx="243.4" cy="237.5" r="0.6" fill="#a0a8cc"/>
<circle cx="238.2" cy="227.6" r="0.7" fill="#a0a8cc"/>
<circle cx="221.2" cy="240.7" r="0.8" fill="#a0a8cc"/>
<circle cx="237.2" cy="250.4" r="0.5" fill="#a0a8cc"/>
<circle cx="248.8" cy="254.3" r="0.9" fill="#a0a8cc"/>
<circle cx="236.2" cy="251.7" r="0.9" fill="#a0a8cc"/>
<circle cx="242.2" cy="251.2" r="0.5" fill="#a0a8cc"/>
<circle cx="210.0" cy="254.9" r="0.8" fill="#a0a8cc"/>
<circle cx="226.1" cy="232.1" r="0.7" fill="#a0a8cc"/>
<circle cx="246.4" cy="256.6" r="0.6" fill="#a0a8cc"/>
<circle cx="217.9" cy="231.9" r="0.8" fill="#a0a8cc"/>
<circle cx="220.1" cy="262.6" r="0.7" fill="#a0a8cc"/>
<circle cx="217.5" cy="241.3" r="0.6" fill="#a0a8cc"/>
<circle cx="248.1" cy="223.6" r="0.7" fill="#a0a8cc"/>
<circle cx="225.8" cy="224.3" r="0.6" fill="#a0a8cc"/>
<circle cx="253.0" cy="261.3" r="0.7" fill="#a0a8cc"/>
<circle cx="247.8" cy="263.5" r="0.8" fill="#a0a8cc"/>
<circle cx="241.3" cy="248.1" r="0.9" fill="#dcdee6"/>
<circle cx="240.8" cy="249.7" r="1.1" fill="#dcdee6"/>
<circle cx="216.9" cy="263.0" r="1.0" fill="#dcdee6"/>
<circle cx="228.6" cy="260.8" r="0.7" fill="#dcdee6"/>
<circle cx="226.4" cy="248.6" r="1.1" fill="#dcdee6"/>
<circle cx="219.7" cy="260.7" r="0.9" fill="#dcdee6"/>
<circle cx="249.9" cy="236.1" r="0.9" fill="#dcdee6"/>
<circle cx="248.5" cy="262.4" r="0.9" fill="#dcdee6"/>
<circle cx="246.4" cy="251.1" r="0.9" fill="#dcdee6"/>
<circle cx="217.5" cy="245.9" r="1.1" fill="#dcdee6"/>
<circle cx="251.1" cy="224.5" r="0.8" fill="#dcdee6"/>
<circle cx="219.6" cy="260.5" r="0.7" fill="#dcdee6"/>
<circle cx="243.0" cy="231.4" r="0.8" fill="#dcdee6"/>
<circle cx="252.3" cy="228.2" r="0.9" fill="#dcdee6"/>
<circle cx="221.2" cy="256.6" r="0.6" fill="#dcdee6"/>
<circle cx="239.1" cy="234.2" r="1.1" fill="#dcdee6"/>
<circle cx="223.6" cy="252.7" r="0.6" fill="#dcdee6"/>
<circle cx="250.8" cy="251.1" r="1.1" fill="#dcdee6"/>
<circle cx="242.1" cy="225.3" r="1.0" fill="#dcdee6"/>
<circle cx="225.9" cy="231.6" r="1.0" fill="#dcdee6"/>
<circle cx="238.5" cy="238.3" r="0.6" fill="#dcdee6"/>
<circle cx="237.9" cy="225.3" r="0.7" fill="#dcdee6"/>
<circle cx="211.1" cy="230.3" r="1.0" fill="#dcdee6"/>
<circle cx="220.8" cy="267.0" r="0.7" fill="#dcdee6"/>
<circle cx="244.5" cy="255.7" r="0.9" fill="#dcdee6"/>
<circle cx="235.9" cy="228.9" r="1.0" fill="#dcdee6"/>
<circle cx="250.0" cy="246.5" r="0.7" fill="#dcdee6"/>
<circle cx="212.7" cy="234.1" r="1.1" fill="#dcdee6"/>
<circle cx="223.0" cy="235.2" r="0.9" fill="#dcdee6"/>
<circle cx="210.4" cy="258.1" r="1.0" fill="#dcdee6"/>
<circle cx="222.6" cy="223.9" r="1.0" fill="#dcdee6"/>
<circle cx="245.0" cy="257.0" r="0.7" fill="#dcdee6"/>
<circle cx="251.5" cy="251.4" r="0.6" fill="#dcdee6"/>
<circle cx="252.7" cy="254.0" r="0.7" fill="#dcdee6"/>
<circle cx="248.6" cy="249.5" r="0.9" fill="#dcdee6"/>
<circle cx="210.1" cy="232.2" r="1.0" fill="#dcdee6"/>
<circle cx="209.5" cy="231.3" r="0.6" fill="#dcdee6"/>
<circle cx="234.9" cy="228.8" r="1.0" fill="#dcdee6"/>
<circle cx="229.0" cy="257.8" r="1.1" fill="#dcdee6"/>
<circle cx="252.2" cy="231.2" r="0.8" fill="#dcdee6"/>
<circle cx="244.3" cy="237.6" r="0.9" fill="#a86030"/>
<circle cx="223.9" cy="250.8" r="0.7" fill="#a86030"/>
<circle cx="241.1" cy="235.4" r="0.7" fill="#a86030"/>
</g></g>
<line x1="53.8" y1="273.5" x2="53.8" y2="332.2" stroke="#1a1a1a" stroke-width="1.2"/>
<line x1="53.2" y1="331.6" x2="148.5" y2="331.6" stroke="#1a1a1a" stroke-width="1.2"/>
<rect x="54.3" y="276.9" width="35" height="4.5" fill="#c8102e"/>
<rect x="54.3" y="281.9" width="70" height="4.6" fill="#174f86"/>
<line x1="50.3" y1="281.6" x2="53.8" y2="281.6" stroke="#1a1a1a" stroke-width="1"/>
<text x="47" y="284" font-size="8.3" text-anchor="end">CD4</text>
<rect x="54.3" y="291.3" width="52.5" height="4.5" fill="#c8102e"/>
<rect x="54.3" y="296.3" width="17.5" height="4.6" fill="#174f86"/>
<line x1="50.3" y1="296" x2="53.8" y2="296" stroke="#1a1a1a" stroke-width="1"/>
<text x="47" y="298.4" font-size="8.3" text-anchor="end">CD8</text>
<rect x="54.3" y="305.9" width="70" height="4.5" fill="#c8102e"/>
<rect x="54.3" y="310.9" width="52.5" height="4.6" fill="#174f86"/>
<line x1="50.3" y1="310.6" x2="53.8" y2="310.6" stroke="#1a1a1a" stroke-width="1"/>
<text x="47" y="313" font-size="8.3" text-anchor="end">TIA</text>
<rect x="54.3" y="320.3" width="35" height="4.5" fill="#c8102e"/>
<rect x="54.3" y="325.3" width="17.5" height="4.6" fill="#174f86"/>
<line x1="50.3" y1="325" x2="53.8" y2="325" stroke="#1a1a1a" stroke-width="1"/>
<text x="47" y="327.4" font-size="8.3" text-anchor="end">GZMB</text>
<line x1="53.5" y1="331.6" x2="53.5" y2="334.6" stroke="#1a1a1a" stroke-width="1"/>
<text x="53.5" y="343.2" font-size="8.2" text-anchor="middle">0</text>
<line x1="71.1" y1="331.6" x2="71.1" y2="334.6" stroke="#1a1a1a" stroke-width="1"/>
<text x="71.1" y="343.2" font-size="8.2" text-anchor="middle">20</text>
<line x1="88.7" y1="331.6" x2="88.7" y2="334.6" stroke="#1a1a1a" stroke-width="1"/>
<text x="88.7" y="343.2" font-size="8.2" text-anchor="middle">40</text>
<line x1="106.3" y1="331.6" x2="106.3" y2="334.6" stroke="#1a1a1a" stroke-width="1"/>
<text x="106.3" y="343.2" font-size="8.2" text-anchor="middle">60</text>
<line x1="123.9" y1="331.6" x2="123.9" y2="334.6" stroke="#1a1a1a" stroke-width="1"/>
<text x="123.9" y="343.2" font-size="8.2" text-anchor="middle">80</text>
<line x1="141.5" y1="331.6" x2="141.5" y2="334.6" stroke="#1a1a1a" stroke-width="1"/>
<text x="141.5" y="343.2" font-size="8.2" text-anchor="middle">100</text>
<text x="56.6" y="356.6" font-size="9" textLength="87.8" lengthAdjust="spacingAndGlyphs">Frequency of IHC positivity</text>
<rect x="155" y="292" width="5.4" height="5.4" fill="#c8102e"/>
<text x="164.7" y="297" font-size="7.8" textLength="43.3" lengthAdjust="spacingAndGlyphs">DNMT3A-MT</text>
<rect x="155" y="301.5" width="5.4" height="5.4" fill="#174f86"/>
<text x="164.7" y="306.3" font-size="7.8" textLength="44.1" lengthAdjust="spacingAndGlyphs">DNMT3A-WT</text>
<text x="295" y="164.8" font-size="12" font-weight="bold" fill="#000" textLength="8.1" lengthAdjust="spacingAndGlyphs">D</text>
<line x1="309.6" y1="178" x2="309.6" y2="267.2" stroke="#1a1a1a" stroke-width="1.2"/>
<line x1="309" y1="266.6" x2="509.6" y2="266.6" stroke="#1a1a1a" stroke-width="1.2"/>
<line x1="318" y1="266.6" x2="318" y2="269.8" stroke="#1a1a1a" stroke-width="1"/>
<text x="318" y="278.9" font-size="7.8" text-anchor="middle">−5000</text>
<line x1="363.7" y1="266.6" x2="363.7" y2="269.8" stroke="#1a1a1a" stroke-width="1"/>
<text x="363.7" y="278.9" font-size="7.8" text-anchor="middle">TSS</text>
<line x1="409.4" y1="266.6" x2="409.4" y2="269.8" stroke="#1a1a1a" stroke-width="1"/>
<line x1="455.1" y1="266.6" x2="455.1" y2="269.8" stroke="#1a1a1a" stroke-width="1"/>
<text x="455.1" y="278.9" font-size="7.8" text-anchor="middle">TTS</text>
<line x1="500.8" y1="266.6" x2="500.8" y2="269.8" stroke="#1a1a1a" stroke-width="1"/>
<text x="500.8" y="278.9" font-size="7.8" text-anchor="middle">5000</text>
<text x="303.7" y="223.1" font-size="9.5" text-anchor="middle" textLength="93.5" lengthAdjust="spacingAndGlyphs" transform="rotate(-90 303.7 223.1)">log₂ (peaks per bp per gene)</text>
<polygon points="318,215.32 319.5,208.06 321,211.08 322.5,199.83 324,200.57 325.5,205.12 327,206.08 328.5,206.83 330,207.78 331.5,208.55 333,209.18 334.5,210.89 336,207.79 337.5,209.54 339,205.72 340.5,201.93 342,200.42 343.5,195.66 345,192.02 346.5,193.03 348,190.05 349.5,189.29 351,190.31 352.5,190.74 354,194.48 355.5,197.74 357,202.4 358.5,209.71 360,218.77 361.5,230.71 363,236.17 364.5,229.65 366,219.27 367.5,212.79 369,211.2 370.5,209.84 372,206.53 373.5,208.46 375,206.36 376.5,206.64 378,204.69 379.5,205.51 381,206.03 382.5,205.68 384,206.59 385.5,204.52 387,206.51 388.5,205.81 390,205.19 391.5,206.15 393,204.82 394.5,206.49 396,206.58 397.5,206.31 399,206.12 400.5,207.01 402,205.76 403.5,206.35 405,205.98 406.5,205.09 408,205.79 409.5,205.89 411,206.01 412.5,205.1 414,206.76 415.5,206.23 417,205.03 418.5,206.16 420,205.74 421.5,206.3 423,205.24 424.5,205.89 426,205.62 427.5,203.65 429,205.19 430.5,204.39 432,205.13 433.5,206.81 435,208.43 436.5,206.65 438,207.05 439.5,208 441,206.3 442.5,204.85 444,203.99 445.5,206.39 447,204.16 448.5,202.84 450,204.64 451.5,205.97 453,205.95 454.5,207.82 456,213.22 457.5,209.24 459,206.28 460.5,204.51 462,206.58 463.5,211.99 465,204.46 466.5,206.64 468,207.87 469.5,204.47 471,205.95 472.5,202.24 474,205.1 475.5,206.49 477,208.82 478.5,208.13 480,204.72 481.5,203.67 483,210.82 484.5,208.6 486,200.94 487.5,204.6 489,203.21 490.5,203.89 492,200.63 493.5,203.96 495,204.34 496.5,204.69 498,207.42 499.5,205.35 501,226.41 501,235.81 499.5,216.21 498,222.14 496.5,216.68 495,213.71 493.5,216.7 492,212.17 490.5,217.99 489,213.91 487.5,214.09 486,209.74 484.5,221.31 483,221.5 481.5,213.91 480,218.01 478.5,220.29 477,219.62 475.5,215.02 474,214.61 472.5,211.09 471,215.93 469.5,213.69 468,219.95 466.5,218.87 465,213.41 463.5,224.89 462,219.75 460.5,215.83 459,218.64 457.5,219.31 456,226.19 454.5,219.85 453,218.76 451.5,218.16 450,219.96 448.5,216.47 447,217.89 445.5,220.61 444,216.58 442.5,218.76 441,220.04 439.5,220.6 438,218.59 436.5,219.34 435,222.66 433.5,220.3 432,216.72 430.5,217.35 429,218.91 427.5,217.17 426,219.05 424.5,220.41 423,215.32 421.5,217.38 420,219.15 418.5,220.76 417,214.87 415.5,217 414,220.05 412.5,217.55 411,220.76 409.5,217.31 408,219.23 406.5,216.13 405,219.82 403.5,221.26 402,216.16 400.5,218.27 399,219.83 397.5,217.79 396,220.58 394.5,216.85 393,217.75 391.5,215.07 390,220.3 388.5,215.17 387,216.39 385.5,215.52 384,220.77 382.5,220.23 381,216.51 379.5,219.35 378,219.19 376.5,219.47 375,219.97 373.5,219.4 372,221.69 370.5,222.85 369,225.32 367.5,221.47 366,224.71 364.5,234.95 363,242.66 361.5,236.77 360,224.52 358.5,215.89 357,209.33 355.5,203.54 354,200.67 352.5,197.19 351,195.23 349.5,197.18 348,199.29 346.5,204.78 345,202.93 343.5,205.96 342,211.54 340.5,213.72 339,213.59 337.5,219.85 336,215.89 334.5,219.32 333,217.65 331.5,219.47 330,215.36 328.5,216.7 327,214.47 325.5,213.6 324,211.36 322.5,208.47 321,222.71 319.5,219.86 318,226.02" fill="#c4d3e2"/>
<polygon points="318,212.38 319.5,195.56 321,194.22 322.5,196.8 324,198.51 325.5,195.77 327,193.31 328.5,196.57 330,198.65 331.5,196.67 333,189.81 334.5,189 336,194.21 337.5,191.67 339,194.82 340.5,191.97 342,187.84 343.5,187.55 345,191.69 346.5,183.03 348,181.05 349.5,180.55 351,182.86 352.5,181.98 354,183.25 355.5,184.58 357,189.83 358.5,195.74 360,204.91 361.5,219.95 363,231.99 364.5,225.92 366,213.32 367.5,203.14 369,197.76 370.5,195.79 372,196.03 373.5,193.91 375,193.45 376.5,193.19 378,193.38 379.5,194.7 381,193.19 382.5,194.4 384,194.17 385.5,193.77 387,194.2 388.5,195.3 390,196.36 391.5,194.77 393,194.82 394.5,194.67 396,193.42 397.5,195.25 399,194.5 400.5,194.91 402,193.76 403.5,193.8 405,193.62 406.5,194.02 408,195.35 409.5,193.65 411,195.28 412.5,194.69 414,196.04 415.5,195.37 417,195.23 418.5,193.67 420,195.76 421.5,194.52 423,193.95 424.5,194.42 426,195.88 427.5,195.69 429,194.88 430.5,194.23 432,195.84 433.5,194.93 435,194.46 436.5,195.71 438,195.82 439.5,193.51 441,193.44 442.5,194.13 444,195.84 445.5,194.18 447,194.36 448.5,195.66 450,196.12 451.5,193.8 453,195.02 454.5,196.6 456,198.78 457.5,193.83 459,194.71 460.5,199.91 462,197.07 463.5,198.1 465,196.56 466.5,191.83 468,201.67 469.5,199.28 471,195.83 472.5,197.32 474,196.7 475.5,194.36 477,195.97 478.5,197.13 480,198.41 481.5,197.79 483,194.78 484.5,199.46 486,194.22 487.5,196.8 489,198.82 490.5,195.05 492,191.42 493.5,193.22 495,195.61 496.5,196.13 498,198.87 499.5,196.21 501,210.74 501,214.88 499.5,200.29 498,204.26 496.5,201.37 495,200.87 493.5,198.14 492,196.26 490.5,199.46 489,202.74 487.5,202.15 486,198.43 484.5,203.32 483,200.28 481.5,201.95 480,202.68 478.5,201.15 477,199.77 475.5,198.1 474,200.52 472.5,201.7 471,200.6 469.5,204.18 468,205.74 466.5,197.62 465,202.49 463.5,202.21 462,200.55 460.5,204.93 459,198.76 457.5,199.08 456,204.41 454.5,201.89 453,200.34 451.5,200.25 450,200.64 448.5,200.65 447,200.42 445.5,200.57 444,200.65 442.5,200.23 441,199.79 439.5,200.24 438,200.25 436.5,200.41 435,200.33 433.5,200.53 432,200.35 430.5,199.67 429,200.3 427.5,200.28 426,200.17 424.5,199.78 423,200.29 421.5,200.15 420,200.71 418.5,199.64 417,200.6 415.5,199.95 414,200.45 412.5,199.64 411,199.8 409.5,200.1 408,200.48 406.5,199.55 405,199.99 403.5,199.94 402,199.8 400.5,199.86 399,199.59 397.5,200.05 396,199.85 394.5,199.39 393,200.4 391.5,199.64 390,200.88 388.5,199.53 387,199.77 385.5,199.63 384,199.05 382.5,199.87 381,199.35 379.5,200.21 378,199.49 376.5,200.09 375,199.88 373.5,199.86 372,199.74 370.5,200.06 369,202.12 367.5,205.81 366,216.16 364.5,228.52 363,234.52 361.5,222.65 360,207.34 358.5,198.06 357,193.85 355.5,190.1 354,187.84 352.5,186.75 351,186.47 349.5,186.23 348,186.19 346.5,188.6 345,196.41 343.5,191.74 342,193.55 340.5,196.8 339,198.45 337.5,196.97 336,198.27 334.5,194.3 333,195.28 331.5,201.84 330,202.74 328.5,201.48 327,198.43 325.5,200.21 324,203.14 322.5,201.63 321,197.98 319.5,200.06 318,217.93" fill="#f2c2cb" opacity="0.9"/>
<polyline points="318,218 319.5,211 321,213.94 322.5,201.62 324,203.73 325.5,208.22 327,208.54 328.5,209.39 330,209.55 331.5,210.72 333,212.08 334.5,213.84 336,210.46 337.5,211.29 339,207.79 340.5,205.16 342,202.6 343.5,198.22 345,194.07 346.5,195.82 348,193.14 349.5,191.58 351,192.28 352.5,192.94 354,196.24 355.5,200 357,205.38 358.5,211.94 360,221.58 361.5,233.92 363,239.04 364.5,231.43 366,221.57 367.5,214.56 369,213.22 370.5,211.89 372,209.67 373.5,210.73 375,208.9 376.5,208.55 378,207.64 379.5,207.31 381,207.92 382.5,208.35 384,208.85 385.5,207.09 387,208.73 388.5,207.67 390,207.97 391.5,208.14 393,208.06 394.5,208.85 396,209.22 397.5,208.74 399,207.96 400.5,208.81 402,208.77 403.5,209.2 405,208.68 406.5,207 408,207.76 409.5,208.08 411,209.26 412.5,208.32 414,209.25 415.5,208.7 417,207.38 418.5,208.48 420,208.93 421.5,208.8 423,207.12 424.5,208.81 426,207.92 427.5,206.57 429,207.93 430.5,206.69 432,207.31 433.5,209.71 435,210.62 436.5,209.38 438,208.82 439.5,210.12 441,208.74 442.5,207.57 444,206.26 445.5,209.24 447,206.44 448.5,205.9 450,207.86 451.5,208.49 453,207.95 454.5,210.98 456,216.01 457.5,212.08 459,209.2 460.5,207.26 462,209.27 463.5,214.7 465,206.25 466.5,209.06 468,209.95 469.5,207.17 471,208.4 472.5,204.07 474,207.33 475.5,208.53 477,211.27 478.5,210.8 480,206.83 481.5,205.42 483,212.99 484.5,210.52 486,203.25 487.5,207.28 489,205.78 490.5,206.51 492,203.61 493.5,206.93 495,206.64 496.5,207.33 498,210.61 499.5,208.01 501,229.5" fill="none" stroke="#1d5a96" stroke-width="1.1" stroke-linejoin="round"/>
<polyline points="318,216.5 319.5,199.03 321,196.67 322.5,200.24 324,201.75 325.5,198.79 327,197.29 328.5,200.15 330,201.5 331.5,200.81 333,193.95 334.5,193.22 336,196.86 337.5,195.81 339,197.47 340.5,195.75 342,192.29 343.5,190.42 345,194.9 346.5,187.39 348,184.85 349.5,184.69 351,185.37 352.5,185.69 354,186.94 355.5,188.88 357,192.53 358.5,197.08 360,206.4 361.5,221.19 363,233.67 364.5,227.67 366,214.67 367.5,204.75 369,201 370.5,198.5 372,198.59 373.5,198.73 375,198.86 376.5,198.6 378,198.01 379.5,198.77 381,198.14 382.5,198.52 384,198.14 385.5,198.6 387,198.37 388.5,198.68 390,199.61 391.5,198.62 393,198.89 394.5,198.25 396,198.57 397.5,198.87 399,198.65 400.5,198.8 402,198.73 403.5,198.4 405,198.88 406.5,198.48 408,199.29 409.5,198.59 411,198.96 412.5,198.76 414,199.05 415.5,198.6 417,199.09 418.5,198.76 420,199.18 421.5,199 423,198.87 424.5,198.6 426,199.07 427.5,198.99 429,199.35 430.5,198.76 432,199.04 433.5,199.04 435,198.98 436.5,198.97 438,198.97 439.5,198.74 441,198.63 442.5,198.82 444,199.13 445.5,199.41 447,199.26 448.5,199.29 450,199.22 451.5,199.21 453,199.44 454.5,200.85 456,203.26 457.5,198.21 459,197.33 460.5,203.7 462,199.59 463.5,201.33 465,201.1 466.5,196.27 468,204.84 469.5,203.26 471,199.42 472.5,200.81 474,199.3 475.5,196.88 477,198.73 478.5,199.9 480,201.68 481.5,200.7 483,199.14 484.5,202.25 486,197.17 487.5,200.9 489,201.67 490.5,198.3 492,194.7 493.5,196.82 495,199.57 496.5,200.27 498,202.72 499.5,199 501,214" fill="none" stroke="#d0183a" stroke-width="1.1" stroke-linejoin="round"/>
<rect x="371.9" y="288.3" width="10.6" height="5.5" fill="#e8909f"/>
<line x1="371.9" y1="291.05" x2="382.5" y2="291.05" stroke="#c8102e" stroke-width="1.2"/>
<text x="386.7" y="293.9" font-size="7.8">MT</text>
<rect x="413.4" y="288.3" width="10.2" height="5.5" fill="#84a6cc"/>
<line x1="413.4" y1="291.05" x2="423.6" y2="291.05" stroke="#1d5a96" stroke-width="1.2"/>
<text x="427.7" y="293.9" font-size="7.8">WT</text>
<text x="381.2" y="306" font-size="7.8" textLength="47.8" lengthAdjust="spacingAndGlyphs">Shading=SEM</text>
<text x="8.7" y="378" font-size="12" font-weight="bold" fill="#000" textLength="6.4" lengthAdjust="spacingAndGlyphs">E</text>
<text x="17.6" y="423" font-size="9.5" text-anchor="middle" textLength="64.5" lengthAdjust="spacingAndGlyphs" transform="rotate(-90 17.6 423)">log₂ ratio (obs/exp)</text>
<text x="63.65" y="377.8" font-size="9.3" text-anchor="middle" textLength="41.9" lengthAdjust="spacingAndGlyphs">Intergenic</text>
<line x1="45.6" y1="382.3" x2="45.6" y2="465.2" stroke="#1a1a1a" stroke-width="1.2"/>
<line x1="45" y1="464.6" x2="81.7" y2="464.6" stroke="#1a1a1a" stroke-width="1.2"/>
<line x1="41.2" y1="385.8" x2="45.6" y2="385.8" stroke="#1a1a1a" stroke-width="1"/>
<text x="36.5" y="388.4" font-size="7.6" text-anchor="end">−0.5</text>
<line x1="41.2" y1="407.7" x2="45.6" y2="407.7" stroke="#1a1a1a" stroke-width="1"/>
<text x="36.5" y="410.3" font-size="7.6" text-anchor="end">−1.0</text>
<line x1="41.2" y1="429" x2="45.6" y2="429" stroke="#1a1a1a" stroke-width="1"/>
<text x="36.5" y="431.6" font-size="7.6" text-anchor="end">−1.5</text>
<line x1="41.2" y1="450.3" x2="45.6" y2="450.3" stroke="#1a1a1a" stroke-width="1"/>
<text x="36.5" y="452.9" font-size="7.6" text-anchor="end">−2.0</text>
<line x1="56" y1="385.2" x2="56" y2="400.2" stroke="#777" stroke-width="1"/>
<line x1="53" y1="385.2" x2="59" y2="385.2" stroke="#555" stroke-width="1"/>
<line x1="56" y1="416" x2="56" y2="419.4" stroke="#777" stroke-width="1"/>
<line x1="53" y1="419.4" x2="59" y2="419.4" stroke="#555" stroke-width="1"/>
<rect x="50" y="400.2" width="12" height="15.8" fill="#e48899"/>
<line x1="50" y1="410" x2="62" y2="410" stroke="#3a2a30" stroke-width="1.7"/>
<circle cx="55.7" cy="385.2" r="1.35" fill="#c8102e"/>
<circle cx="56.5" cy="405.2" r="1.35" fill="#c8102e"/>
<circle cx="55" cy="413" r="1.35" fill="#c8102e"/>
<circle cx="55" cy="419.4" r="1.35" fill="#c8102e"/>
<line x1="72.4" y1="401" x2="72.4" y2="407" stroke="#777" stroke-width="1"/>
<line x1="69.4" y1="401" x2="75.4" y2="401" stroke="#555" stroke-width="1"/>
<line x1="72.4" y1="436" x2="72.4" y2="460.6" stroke="#777" stroke-width="1"/>
<line x1="69.4" y1="460.6" x2="75.4" y2="460.6" stroke="#555" stroke-width="1"/>
<rect x="66.3" y="407" width="12.2" height="29" fill="#8cadcf"/>
<line x1="66.3" y1="412.3" x2="78.5" y2="412.3" stroke="#3a2a30" stroke-width="1.7"/>
<circle cx="72" cy="401" r="1.35" fill="#12467e"/>
<circle cx="71.3" cy="412.3" r="1.35" fill="#12467e"/>
<circle cx="72.5" cy="460.6" r="1.35" fill="#12467e"/>
<line x1="56" y1="464.6" x2="56" y2="467.6" stroke="#1a1a1a" stroke-width="1"/>
<line x1="72.4" y1="464.6" x2="72.4" y2="467.6" stroke="#1a1a1a" stroke-width="1"/>
<text x="56" y="476.1" font-size="8" text-anchor="middle">MT</text>
<text x="72.4" y="476.1" font-size="8" text-anchor="middle">WT</text>
<text x="132.4" y="377.8" font-size="9.3" text-anchor="middle" textLength="40.4" lengthAdjust="spacingAndGlyphs">Promoter</text>
<line x1="115.2" y1="382.3" x2="115.2" y2="465.2" stroke="#1a1a1a" stroke-width="1.2"/>
<line x1="114.6" y1="464.6" x2="151.3" y2="464.6" stroke="#1a1a1a" stroke-width="1.2"/>
<line x1="110.8" y1="397.7" x2="115.2" y2="397.7" stroke="#1a1a1a" stroke-width="1"/>
<text x="106.1" y="400.3" font-size="7.6" text-anchor="end">0.75</text>
<line x1="110.8" y1="414.4" x2="115.2" y2="414.4" stroke="#1a1a1a" stroke-width="1"/>
<text x="106.1" y="417" font-size="7.6" text-anchor="end">0.50</text>
<line x1="110.8" y1="431" x2="115.2" y2="431" stroke="#1a1a1a" stroke-width="1"/>
<text x="106.1" y="433.6" font-size="7.6" text-anchor="end">0.25</text>
<line x1="110.8" y1="447.7" x2="115.2" y2="447.7" stroke="#1a1a1a" stroke-width="1"/>
<text x="106.1" y="450.3" font-size="7.6" text-anchor="end">0.00</text>
<line x1="110.8" y1="464.4" x2="115.2" y2="464.4" stroke="#1a1a1a" stroke-width="1"/>
<text x="106.1" y="467" font-size="7.6" text-anchor="end">−0.25</text>
<line x1="124.9" y1="385.6" x2="124.9" y2="403.5" stroke="#777" stroke-width="1"/>
<line x1="121.9" y1="385.6" x2="127.9" y2="385.6" stroke="#555" stroke-width="1"/>
<rect x="119" y="403.5" width="11.8" height="18.8" fill="#e48899"/>
<line x1="119" y1="409.6" x2="130.8" y2="409.6" stroke="#3a2a30" stroke-width="1.7"/>
<circle cx="123.5" cy="385.6" r="1.35" fill="#c8102e"/>
<circle cx="123" cy="410" r="1.35" fill="#c8102e"/>
<circle cx="127" cy="409.3" r="1.35" fill="#c8102e"/>
<circle cx="123.5" cy="459.2" r="1.35" fill="#c8102e"/>
<line x1="141.25" y1="407.7" x2="141.25" y2="427.5" stroke="#777" stroke-width="1"/>
<line x1="138.25" y1="427.5" x2="144.25" y2="427.5" stroke="#555" stroke-width="1"/>
<rect x="135.4" y="387.5" width="11.7" height="20.2" fill="#8cadcf"/>
<line x1="135.4" y1="387.8" x2="147.1" y2="387.8" stroke="#3a2a30" stroke-width="1.7"/>
<circle cx="140" cy="387" r="1.35" fill="#12467e"/>
<circle cx="140" cy="427.5" r="1.35" fill="#12467e"/>
<line x1="124.9" y1="464.6" x2="124.9" y2="467.6" stroke="#1a1a1a" stroke-width="1"/>
<line x1="141.25" y1="464.6" x2="141.25" y2="467.6" stroke="#1a1a1a" stroke-width="1"/>
<text x="124.9" y="476.1" font-size="8" text-anchor="middle">MT</text>
<text x="141.25" y="476.1" font-size="8" text-anchor="middle">WT</text>
<text x="195" y="377.8" font-size="9.3" text-anchor="middle" textLength="22.6" lengthAdjust="spacingAndGlyphs">5UTR</text>
<line x1="176.5" y1="382.3" x2="176.5" y2="465.2" stroke="#1a1a1a" stroke-width="1.2"/>
<line x1="175.9" y1="464.6" x2="213" y2="464.6" stroke="#1a1a1a" stroke-width="1.2"/>
<line x1="172.1" y1="400.4" x2="176.5" y2="400.4" stroke="#1a1a1a" stroke-width="1"/>
<text x="167.4" y="403" font-size="7.6" text-anchor="end">0.5</text>
<line x1="172.1" y1="424.4" x2="176.5" y2="424.4" stroke="#1a1a1a" stroke-width="1"/>
<text x="167.4" y="427" font-size="7.6" text-anchor="end">0.0</text>
<line x1="172.1" y1="448.8" x2="176.5" y2="448.8" stroke="#1a1a1a" stroke-width="1"/>
<text x="167.4" y="451.4" font-size="7.6" text-anchor="end">−0.5</text>
<line x1="187.1" y1="393.5" x2="187.1" y2="397.1" stroke="#777" stroke-width="1"/>
<line x1="184.1" y1="393.5" x2="190.1" y2="393.5" stroke="#555" stroke-width="1"/>
<rect x="181.2" y="397.1" width="11.8" height="19.8" fill="#e48899"/>
<line x1="181.2" y1="400.2" x2="193" y2="400.2" stroke="#3a2a30" stroke-width="1.7"/>
<circle cx="185.6" cy="393.5" r="1.35" fill="#c8102e"/>
<circle cx="186.7" cy="402.3" r="1.35" fill="#c8102e"/>
<circle cx="184.5" cy="398.2" r="1.35" fill="#c8102e"/>
<circle cx="185" cy="459.2" r="1.35" fill="#c8102e"/>
<line x1="203.45" y1="385.3" x2="203.45" y2="392" stroke="#777" stroke-width="1"/>
<line x1="200.45" y1="385.3" x2="206.45" y2="385.3" stroke="#555" stroke-width="1"/>
<line x1="203.45" y1="400.2" x2="203.45" y2="402.5" stroke="#777" stroke-width="1"/>
<line x1="200.45" y1="402.5" x2="206.45" y2="402.5" stroke="#555" stroke-width="1"/>
<rect x="197.5" y="392" width="11.9" height="8.2" fill="#8cadcf"/>
<line x1="197.5" y1="398.1" x2="209.4" y2="398.1" stroke="#3a2a30" stroke-width="1.7"/>
<circle cx="201.2" cy="385.5" r="1.35" fill="#12467e"/>
<circle cx="205.3" cy="398.1" r="1.35" fill="#12467e"/>
<circle cx="205.5" cy="402.5" r="1.35" fill="#12467e"/>
<line x1="187.1" y1="464.6" x2="187.1" y2="467.6" stroke="#1a1a1a" stroke-width="1"/>
<line x1="203.45" y1="464.6" x2="203.45" y2="467.6" stroke="#1a1a1a" stroke-width="1"/>
<text x="187.1" y="476.1" font-size="8" text-anchor="middle">MT</text>
<text x="203.45" y="476.1" font-size="8" text-anchor="middle">WT</text>
<text x="254" y="377.8" font-size="9.3" text-anchor="middle" textLength="25" lengthAdjust="spacingAndGlyphs">Intron</text>
<line x1="235.6" y1="382.3" x2="235.6" y2="465.2" stroke="#1a1a1a" stroke-width="1.2"/>
<line x1="235" y1="464.6" x2="271.5" y2="464.6" stroke="#1a1a1a" stroke-width="1.2"/>
<line x1="231.2" y1="409" x2="235.6" y2="409" stroke="#1a1a1a" stroke-width="1"/>
<text x="226.5" y="411.6" font-size="7.6" text-anchor="end">0.0</text>
<line x1="231.2" y1="440.4" x2="235.6" y2="440.4" stroke="#1a1a1a" stroke-width="1"/>
<text x="226.5" y="443" font-size="7.6" text-anchor="end">−0.5</text>
<line x1="244.9" y1="385.2" x2="244.9" y2="391.2" stroke="#777" stroke-width="1"/>
<line x1="241.9" y1="385.2" x2="247.9" y2="385.2" stroke="#555" stroke-width="1"/>
<line x1="244.9" y1="410.8" x2="244.9" y2="420.8" stroke="#777" stroke-width="1"/>
<line x1="241.9" y1="420.8" x2="247.9" y2="420.8" stroke="#555" stroke-width="1"/>
<rect x="238.8" y="391.2" width="12.2" height="19.6" fill="#e48899"/>
<line x1="238.8" y1="400.4" x2="251" y2="400.4" stroke="#3a2a30" stroke-width="1.7"/>
<circle cx="243.5" cy="385.5" r="1.35" fill="#c8102e"/>
<circle cx="247" cy="393.5" r="1.35" fill="#c8102e"/>
<circle cx="247.5" cy="407.7" r="1.35" fill="#c8102e"/>
<circle cx="243.5" cy="420.8" r="1.35" fill="#c8102e"/>
<line x1="261.9" y1="406.3" x2="261.9" y2="408.3" stroke="#777" stroke-width="1"/>
<line x1="258.9" y1="406.3" x2="264.9" y2="406.3" stroke="#555" stroke-width="1"/>
<line x1="261.9" y1="434.6" x2="261.9" y2="460.6" stroke="#777" stroke-width="1"/>
<line x1="258.9" y1="460.6" x2="264.9" y2="460.6" stroke="#555" stroke-width="1"/>
<rect x="255.8" y="408.3" width="12.2" height="26.3" fill="#8cadcf"/>
<line x1="255.8" y1="409.6" x2="268" y2="409.6" stroke="#3a2a30" stroke-width="1.7"/>
<circle cx="264" cy="406.5" r="1.35" fill="#12467e"/>
<circle cx="259.5" cy="409" r="1.35" fill="#12467e"/>
<circle cx="263.5" cy="460.6" r="1.35" fill="#12467e"/>
<line x1="244.9" y1="464.6" x2="244.9" y2="467.6" stroke="#1a1a1a" stroke-width="1"/>
<line x1="261.9" y1="464.6" x2="261.9" y2="467.6" stroke="#1a1a1a" stroke-width="1"/>
<text x="244.9" y="476.1" font-size="8" text-anchor="middle">MT</text>
<text x="261.9" y="476.1" font-size="8" text-anchor="middle">WT</text>
<text x="314.1" y="377.8" font-size="9.3" text-anchor="middle" textLength="20.2" lengthAdjust="spacingAndGlyphs">Exon</text>
<line x1="296.3" y1="382.3" x2="296.3" y2="465.2" stroke="#1a1a1a" stroke-width="1.2"/>
<line x1="295.7" y1="464.6" x2="332.5" y2="464.6" stroke="#1a1a1a" stroke-width="1.2"/>
<line x1="291.9" y1="382.9" x2="296.3" y2="382.9" stroke="#1a1a1a" stroke-width="1"/>
<text x="287.2" y="385.5" font-size="7.6" text-anchor="end">2.5</text>
<line x1="291.9" y1="407.1" x2="296.3" y2="407.1" stroke="#1a1a1a" stroke-width="1"/>
<text x="287.2" y="409.7" font-size="7.6" text-anchor="end">2.0</text>
<line x1="291.9" y1="431.3" x2="296.3" y2="431.3" stroke="#1a1a1a" stroke-width="1"/>
<text x="287.2" y="433.9" font-size="7.6" text-anchor="end">1.5</text>
<line x1="291.9" y1="455.4" x2="296.3" y2="455.4" stroke="#1a1a1a" stroke-width="1"/>
<text x="287.2" y="458" font-size="7.6" text-anchor="end">1.0</text>
<line x1="306.1" y1="385.2" x2="306.1" y2="395.8" stroke="#777" stroke-width="1"/>
<line x1="303.1" y1="385.2" x2="309.1" y2="385.2" stroke="#555" stroke-width="1"/>
<line x1="306.1" y1="429" x2="306.1" y2="460.2" stroke="#777" stroke-width="1"/>
<line x1="303.1" y1="460.2" x2="309.1" y2="460.2" stroke="#555" stroke-width="1"/>
<rect x="300.2" y="395.8" width="11.8" height="33.2" fill="#e48899"/>
<line x1="300.2" y1="407.7" x2="312" y2="407.7" stroke="#3a2a30" stroke-width="1.7"/>
<circle cx="305" cy="385.5" r="1.35" fill="#c8102e"/>
<circle cx="308" cy="399.4" r="1.35" fill="#c8102e"/>
<circle cx="304.5" cy="418.5" r="1.35" fill="#c8102e"/>
<circle cx="304.5" cy="460.2" r="1.35" fill="#c8102e"/>
<line x1="321.75" y1="405.4" x2="321.75" y2="408.6" stroke="#777" stroke-width="1"/>
<line x1="318.75" y1="405.4" x2="324.75" y2="405.4" stroke="#555" stroke-width="1"/>
<line x1="321.75" y1="415.4" x2="321.75" y2="420.4" stroke="#777" stroke-width="1"/>
<line x1="318.75" y1="420.4" x2="324.75" y2="420.4" stroke="#555" stroke-width="1"/>
<rect x="315.8" y="408.6" width="11.9" height="6.8" fill="#8cadcf"/>
<line x1="315.8" y1="411.7" x2="327.7" y2="411.7" stroke="#3a2a30" stroke-width="1.7"/>
<circle cx="324.5" cy="405.5" r="1.35" fill="#12467e"/>
<circle cx="323.5" cy="411.5" r="1.35" fill="#12467e"/>
<circle cx="323" cy="420.4" r="1.35" fill="#12467e"/>
<line x1="306.1" y1="464.6" x2="306.1" y2="467.6" stroke="#1a1a1a" stroke-width="1"/>
<line x1="321.75" y1="464.6" x2="321.75" y2="467.6" stroke="#1a1a1a" stroke-width="1"/>
<text x="306.1" y="476.1" font-size="8" text-anchor="middle">MT</text>
<text x="321.75" y="476.1" font-size="8" text-anchor="middle">WT</text>
<text x="371.3" y="377.8" font-size="9.3" text-anchor="middle" textLength="23" lengthAdjust="spacingAndGlyphs">3UTR</text>
<line x1="354" y1="382.3" x2="354" y2="465.2" stroke="#1a1a1a" stroke-width="1.2"/>
<line x1="353.4" y1="464.6" x2="389.6" y2="464.6" stroke="#1a1a1a" stroke-width="1.2"/>
<line x1="349.6" y1="401" x2="354" y2="401" stroke="#1a1a1a" stroke-width="1"/>
<text x="344.9" y="403.6" font-size="7.6" text-anchor="end">0.8</text>
<line x1="349.6" y1="426.2" x2="354" y2="426.2" stroke="#1a1a1a" stroke-width="1"/>
<text x="344.9" y="428.8" font-size="7.6" text-anchor="end">0.7</text>
<line x1="349.6" y1="451.2" x2="354" y2="451.2" stroke="#1a1a1a" stroke-width="1"/>
<text x="344.9" y="453.8" font-size="7.6" text-anchor="end">0.6</text>
<line x1="363.85" y1="385.8" x2="363.85" y2="398" stroke="#777" stroke-width="1"/>
<line x1="360.85" y1="385.8" x2="366.85" y2="385.8" stroke="#555" stroke-width="1"/>
<line x1="363.85" y1="441.5" x2="363.85" y2="452.5" stroke="#777" stroke-width="1"/>
<line x1="360.85" y1="452.5" x2="366.85" y2="452.5" stroke="#555" stroke-width="1"/>
<rect x="357.9" y="398" width="11.9" height="43.5" fill="#e48899"/>
<line x1="357.9" y1="420.4" x2="369.8" y2="420.4" stroke="#3a2a30" stroke-width="1.7"/>
<circle cx="366" cy="385.8" r="1.35" fill="#c8102e"/>
<circle cx="364.5" cy="402.3" r="1.35" fill="#c8102e"/>
<circle cx="361.5" cy="438.5" r="1.35" fill="#c8102e"/>
<circle cx="361.5" cy="452.5" r="1.35" fill="#c8102e"/>
<line x1="380.45" y1="412" x2="380.45" y2="428.5" stroke="#777" stroke-width="1"/>
<line x1="377.45" y1="412" x2="383.45" y2="412" stroke="#555" stroke-width="1"/>
<line x1="380.45" y1="452.1" x2="380.45" y2="460.6" stroke="#777" stroke-width="1"/>
<line x1="377.45" y1="460.6" x2="383.45" y2="460.6" stroke="#555" stroke-width="1"/>
<rect x="374.6" y="428.5" width="11.7" height="23.6" fill="#8cadcf"/>
<line x1="374.6" y1="443.8" x2="386.3" y2="443.8" stroke="#3a2a30" stroke-width="1.7"/>
<circle cx="379.5" cy="412" r="1.35" fill="#12467e"/>
<circle cx="381.5" cy="444.6" r="1.35" fill="#12467e"/>
<circle cx="379.5" cy="460.6" r="1.35" fill="#12467e"/>
<line x1="363.85" y1="464.6" x2="363.85" y2="467.6" stroke="#1a1a1a" stroke-width="1"/>
<line x1="380.45" y1="464.6" x2="380.45" y2="467.6" stroke="#1a1a1a" stroke-width="1"/>
<text x="363.85" y="476.1" font-size="8" text-anchor="middle">MT</text>
<text x="380.45" y="476.1" font-size="8" text-anchor="middle">WT</text>
<text x="434.3" y="377.8" font-size="9.3" text-anchor="middle" textLength="15.8" lengthAdjust="spacingAndGlyphs">TTS</text>
<line x1="416.3" y1="382.3" x2="416.3" y2="465.2" stroke="#1a1a1a" stroke-width="1.2"/>
<line x1="415.7" y1="464.6" x2="452.5" y2="464.6" stroke="#1a1a1a" stroke-width="1.2"/>
<line x1="411.9" y1="401.2" x2="416.3" y2="401.2" stroke="#1a1a1a" stroke-width="1"/>
<text x="407.2" y="403.8" font-size="7.6" text-anchor="end">0.75</text>
<line x1="411.9" y1="424.6" x2="416.3" y2="424.6" stroke="#1a1a1a" stroke-width="1"/>
<text x="407.2" y="427.2" font-size="7.6" text-anchor="end">0.50</text>
<line x1="411.9" y1="448.3" x2="416.3" y2="448.3" stroke="#1a1a1a" stroke-width="1"/>
<text x="407.2" y="450.9" font-size="7.6" text-anchor="end">0.25</text>
<line x1="426.1" y1="385.6" x2="426.1" y2="401.2" stroke="#777" stroke-width="1"/>
<line x1="423.1" y1="385.6" x2="429.1" y2="385.6" stroke="#555" stroke-width="1"/>
<line x1="426.1" y1="426" x2="426.1" y2="460.2" stroke="#777" stroke-width="1"/>
<line x1="423.1" y1="460.2" x2="429.1" y2="460.2" stroke="#555" stroke-width="1"/>
<rect x="420.2" y="401.2" width="11.8" height="24.8" fill="#e48899"/>
<line x1="420.2" y1="410.2" x2="432" y2="410.2" stroke="#3a2a30" stroke-width="1.7"/>
<circle cx="425.4" cy="385.6" r="1.35" fill="#c8102e"/>
<circle cx="424" cy="406.5" r="1.35" fill="#c8102e"/>
<circle cx="424.8" cy="414.6" r="1.35" fill="#c8102e"/>
<circle cx="425" cy="460.2" r="1.35" fill="#c8102e"/>
<line x1="442.9" y1="389.4" x2="442.9" y2="396.7" stroke="#777" stroke-width="1"/>
<line x1="439.9" y1="389.4" x2="445.9" y2="389.4" stroke="#555" stroke-width="1"/>
<line x1="442.9" y1="415.6" x2="442.9" y2="427.1" stroke="#777" stroke-width="1"/>
<line x1="439.9" y1="427.1" x2="445.9" y2="427.1" stroke="#555" stroke-width="1"/>
<rect x="437.1" y="396.7" width="11.6" height="18.9" fill="#8cadcf"/>
<line x1="437.1" y1="403.8" x2="448.7" y2="403.8" stroke="#3a2a30" stroke-width="1.7"/>
<circle cx="443.5" cy="389.4" r="1.35" fill="#12467e"/>
<circle cx="443" cy="403.8" r="1.35" fill="#12467e"/>
<circle cx="441" cy="427.1" r="1.35" fill="#12467e"/>
<line x1="426.1" y1="464.6" x2="426.1" y2="467.6" stroke="#1a1a1a" stroke-width="1"/>
<line x1="442.9" y1="464.6" x2="442.9" y2="467.6" stroke="#1a1a1a" stroke-width="1"/>
<text x="426.1" y="476.1" font-size="8" text-anchor="middle">MT</text>
<text x="442.9" y="476.1" font-size="8" text-anchor="middle">WT</text>
<text x="485.8" y="377.8" font-size="9.3" text-anchor="middle" textLength="44.4" lengthAdjust="spacingAndGlyphs">CpG-Island</text>
<line x1="471" y1="382.3" x2="471" y2="465.2" stroke="#1a1a1a" stroke-width="1.2"/>
<line x1="470.4" y1="464.6" x2="506.5" y2="464.6" stroke="#1a1a1a" stroke-width="1.2"/>
<line x1="466.6" y1="394.8" x2="471" y2="394.8" stroke="#1a1a1a" stroke-width="1"/>
<text x="461.9" y="397.4" font-size="7.6" text-anchor="end">2</text>
<line x1="466.6" y1="412.5" x2="471" y2="412.5" stroke="#1a1a1a" stroke-width="1"/>
<text x="461.9" y="415.1" font-size="7.6" text-anchor="end">0</text>
<line x1="466.6" y1="430.4" x2="471" y2="430.4" stroke="#1a1a1a" stroke-width="1"/>
<text x="461.9" y="433" font-size="7.6" text-anchor="end">−2</text>
<line x1="466.6" y1="448.3" x2="471" y2="448.3" stroke="#1a1a1a" stroke-width="1"/>
<text x="461.9" y="450.9" font-size="7.6" text-anchor="end">−4</text>
<line x1="481.05" y1="394.4" x2="481.05" y2="397.7" stroke="#777" stroke-width="1"/>
<line x1="478.05" y1="394.4" x2="484.05" y2="394.4" stroke="#555" stroke-width="1"/>
<line x1="481.05" y1="426" x2="481.05" y2="460.2" stroke="#777" stroke-width="1"/>
<line x1="478.05" y1="460.2" x2="484.05" y2="460.2" stroke="#555" stroke-width="1"/>
<rect x="475.2" y="397.7" width="11.7" height="28.3" fill="#e48899"/>
<line x1="475.2" y1="406.2" x2="486.9" y2="406.2" stroke="#3a2a30" stroke-width="1.7"/>
<circle cx="479.6" cy="394.4" r="1.35" fill="#c8102e"/>
<circle cx="479.2" cy="398.5" r="1.35" fill="#c8102e"/>
<circle cx="479.6" cy="414.6" r="1.35" fill="#c8102e"/>
<circle cx="479.5" cy="460.2" r="1.35" fill="#c8102e"/>
<line x1="497.1" y1="385.2" x2="497.1" y2="393.3" stroke="#777" stroke-width="1"/>
<line x1="494.1" y1="385.2" x2="500.1" y2="385.2" stroke="#555" stroke-width="1"/>
<line x1="497.1" y1="402.1" x2="497.1" y2="403.5" stroke="#777" stroke-width="1"/>
<line x1="494.1" y1="403.5" x2="500.1" y2="403.5" stroke="#555" stroke-width="1"/>
<rect x="491.2" y="393.3" width="11.8" height="8.8" fill="#8cadcf"/>
<line x1="491.2" y1="400.4" x2="503" y2="400.4" stroke="#3a2a30" stroke-width="1.7"/>
<circle cx="498.5" cy="385.2" r="1.35" fill="#12467e"/>
<circle cx="498.8" cy="400.2" r="1.35" fill="#12467e"/>
<circle cx="496.5" cy="403.5" r="1.35" fill="#12467e"/>
<line x1="481.05" y1="464.6" x2="481.05" y2="467.6" stroke="#1a1a1a" stroke-width="1"/>
<line x1="497.1" y1="464.6" x2="497.1" y2="467.6" stroke="#1a1a1a" stroke-width="1"/>
<text x="481.05" y="476.1" font-size="8" text-anchor="middle">MT</text>
<text x="497.1" y="476.1" font-size="8" text-anchor="middle">WT</text>
<text x="8.5" y="494.1" font-size="12" font-weight="bold" fill="#000" textLength="6" lengthAdjust="spacingAndGlyphs">F</text>
<defs><linearGradient id="gy" x1="0" y1="0" x2="0" y2="1"><stop offset="0" stop-color="#ffff00"/><stop offset="0.1" stop-color="#e0dc00"/><stop offset="0.5" stop-color="#b4ae00"/><stop offset="1" stop-color="#8a8200"/></linearGradient><linearGradient id="gb" x1="0" y1="0" x2="0" y2="1"><stop offset="0" stop-color="#282400"/><stop offset="0.25" stop-color="#121000"/><stop offset="0.45" stop-color="#000000"/><stop offset="0.68" stop-color="#00001c"/><stop offset="0.88" stop-color="#000060"/><stop offset="1" stop-color="#000098"/></linearGradient><linearGradient id="cb1" x1="0" y1="0" x2="1" y2="0"><stop offset="0" stop-color="#ffff00"/><stop offset="0.45" stop-color="#000"/><stop offset="1" stop-color="#0000ff"/></linearGradient><linearGradient id="cb2" x1="0" y1="0" x2="1" y2="0"><stop offset="0" stop-color="#b01818"/><stop offset="0.5" stop-color="#000"/><stop offset="1" stop-color="#18b018"/></linearGradient></defs>
<rect x="25.6" y="497.3" width="23.2" height="75.8" fill="url(#gy)"/>
<rect x="25.6" y="574.5" width="23.2" height="94.1" fill="url(#gb)"/>
<rect x="50.2" y="497.3" width="23.5" height="75.8" fill="#681a1a"/>
<rect x="50.2" y="499.31" width="23.5" height="1.33" fill="#741e1e"/>
<rect x="50.2" y="500.63" width="23.5" height="1.54" fill="#761e1e"/>
<rect x="50.2" y="505.4" width="23.5" height="1.34" fill="#791e1e"/>
<rect x="50.2" y="510.52" width="23.5" height="1.29" fill="#561414"/>
<rect x="50.2" y="515.29" width="23.5" height="1.62" fill="#561414"/>
<rect x="50.2" y="520.05" width="23.5" height="0.8" fill="#761e1e"/>
<rect x="50.2" y="522.51" width="23.5" height="1.33" fill="#561414"/>
<rect x="50.2" y="523.84" width="23.5" height="1.21" fill="#561414"/>
<rect x="50.2" y="530.32" width="23.5" height="1.37" fill="#7b1e1e"/>
<rect x="50.2" y="535.53" width="23.5" height="1.27" fill="#561414"/>
<rect x="50.2" y="537.57" width="23.5" height="1.69" fill="#7a1e1e"/>
<rect x="50.2" y="539.26" width="23.5" height="1.11" fill="#761e1e"/>
<rect x="50.2" y="546.04" width="23.5" height="1.7" fill="#561414"/>
<rect x="50.2" y="548.52" width="23.5" height="0.73" fill="#771e1e"/>
<rect x="50.2" y="549.25" width="23.5" height="1.31" fill="#741e1e"/>
<rect x="50.2" y="550.56" width="23.5" height="1.57" fill="#561414"/>
<rect x="50.2" y="559.9" width="23.5" height="1.42" fill="#761e1e"/>
<rect x="50.2" y="563" width="23.5" height="1.25" fill="#932424"/>
<rect x="50.2" y="564.25" width="23.5" height="1.28" fill="#962424"/>
<rect x="50.2" y="565.53" width="23.5" height="1.33" fill="#791e1e"/>
<rect x="50.2" y="569.08" width="23.5" height="1.44" fill="#8d2424"/>
<rect x="50.2" y="574.6" width="23.5" height="94" fill="#217621"/>
<rect x="50.2" y="574.6" width="23.5" height="1.29" fill="#185e18"/>
<rect x="50.2" y="575.89" width="23.5" height="1.06" fill="#185e18"/>
<rect x="50.2" y="578.03" width="23.5" height="1" fill="#185e18"/>
<rect x="50.2" y="579.03" width="23.5" height="1.47" fill="#288f28"/>
<rect x="50.2" y="580.5" width="23.5" height="1.44" fill="#185e18"/>
<rect x="50.2" y="582.86" width="23.5" height="0.94" fill="#288d28"/>
<rect x="50.2" y="583.79" width="23.5" height="1.4" fill="#288d28"/>
<rect x="50.2" y="587.37" width="23.5" height="0.87" fill="#185e18"/>
<rect x="50.2" y="589.58" width="23.5" height="1.15" fill="#288b28"/>
<rect x="50.2" y="590.74" width="23.5" height="1.23" fill="#289028"/>
<rect x="50.2" y="591.97" width="23.5" height="1.54" fill="#288c28"/>
<rect x="50.2" y="595.01" width="23.5" height="1.51" fill="#185e18"/>
<rect x="50.2" y="596.52" width="23.5" height="0.83" fill="#289028"/>
<rect x="50.2" y="597.35" width="23.5" height="0.97" fill="#185e18"/>
<rect x="50.2" y="598.32" width="23.5" height="1.12" fill="#185e18"/>
<rect x="50.2" y="600.54" width="23.5" height="0.86" fill="#289228"/>
<rect x="50.2" y="604.11" width="23.5" height="1.63" fill="#289028"/>
<rect x="50.2" y="607.28" width="23.5" height="1.22" fill="#288d28"/>
<rect x="50.2" y="608.5" width="23.5" height="0.93" fill="#288f28"/>
<rect x="50.2" y="614.15" width="23.5" height="1.28" fill="#289028"/>
<rect x="50.2" y="615.42" width="23.5" height="0.87" fill="#288f28"/>
<rect x="50.2" y="616.3" width="23.5" height="1.22" fill="#185e18"/>
<rect x="50.2" y="619.16" width="23.5" height="1.04" fill="#289128"/>
<rect x="50.2" y="621.38" width="23.5" height="1.05" fill="#288e28"/>
<rect x="50.2" y="622.43" width="23.5" height="1.52" fill="#289028"/>
<rect x="50.2" y="625.57" width="23.5" height="1.52" fill="#288f28"/>
<rect x="50.2" y="627.09" width="23.5" height="1.56" fill="#288c28"/>
<rect x="50.2" y="629.62" width="23.5" height="1.12" fill="#185e18"/>
<rect x="50.2" y="630.75" width="23.5" height="1.48" fill="#288a28"/>
<rect x="50.2" y="632.22" width="23.5" height="0.83" fill="#288b28"/>
<rect x="50.2" y="635.51" width="23.5" height="1.02" fill="#185e18"/>
<rect x="50.2" y="637.58" width="23.5" height="1.29" fill="#185e18"/>
<rect x="50.2" y="638.87" width="23.5" height="0.89" fill="#185e18"/>
<rect x="50.2" y="640.58" width="23.5" height="1.42" fill="#185e18"/>
<rect x="50.2" y="642" width="23.5" height="0.78" fill="#288d28"/>
<rect x="50.2" y="645.16" width="23.5" height="1.32" fill="#185e18"/>
<rect x="50.2" y="646.48" width="23.5" height="1.07" fill="#185e18"/>
<rect x="50.2" y="647.56" width="23.5" height="1.4" fill="#185e18"/>
<rect x="50.2" y="648.96" width="23.5" height="1.39" fill="#185e18"/>
<rect x="50.2" y="651.3" width="23.5" height="1.4" fill="#288d28"/>
<rect x="50.2" y="653.82" width="23.5" height="1.64" fill="#185e18"/>
<rect x="50.2" y="657.05" width="23.5" height="0.96" fill="#185e18"/>
<rect x="50.2" y="663.93" width="23.5" height="0.7" fill="#289028"/>
<rect x="50.2" y="664.64" width="23.5" height="0.74" fill="#288b28"/>
<rect x="50.2" y="665.38" width="23.5" height="1.58" fill="#288a28"/>
<rect x="50.2" y="666.96" width="23.5" height="1.54" fill="#289128"/>
<line x1="75.8" y1="497.3" x2="75.8" y2="573.1" stroke="#777" stroke-width="1"/>
<line x1="75.8" y1="574.5" x2="75.8" y2="668.6" stroke="#777" stroke-width="1"/>
<line x1="22.5" y1="500" x2="22.5" y2="667" stroke="#000" stroke-width="0.9"/>
<polygon points="22.5,496.5 20.6,501.5 24.4,501.5" fill="#000"/>
<polygon points="22.5,670.5 20.6,665.5 24.4,665.5" fill="#000"/>
<text x="15.7" y="583" font-size="9.5" text-anchor="middle" textLength="158" lengthAdjust="spacingAndGlyphs" transform="rotate(-90 15.7 583)">Differentially methylated and expressed genes</text>
<text x="80" y="515.3" font-size="6.8" textLength="18.42" lengthAdjust="spacingAndGlyphs">GZMH</text>
<text x="80" y="523" font-size="6.8" textLength="12.51" lengthAdjust="spacingAndGlyphs">CD2</text>
<text x="80" y="530.7" font-size="6.8" textLength="12.17" lengthAdjust="spacingAndGlyphs">LCK</text>
<text x="80" y="538.4" font-size="6.8" textLength="22.6" lengthAdjust="spacingAndGlyphs">EOMES</text>
<text x="80" y="546.1" font-size="6.8" textLength="15.99" lengthAdjust="spacingAndGlyphs">CD28</text>
<text x="80" y="553.8" font-size="6.8" textLength="15.99" lengthAdjust="spacingAndGlyphs">CD96</text>
<text x="80" y="561.5" font-size="6.8" textLength="23.63" lengthAdjust="spacingAndGlyphs">THEMIS</text>
<text x="80" y="598.3" font-size="6.8" textLength="8.7" lengthAdjust="spacingAndGlyphs">IL6</text>
<text x="80" y="605.95" font-size="6.8" textLength="19.82" lengthAdjust="spacingAndGlyphs">PLAC8</text>
<text x="80" y="613.6" font-size="6.8" textLength="15.88" lengthAdjust="spacingAndGlyphs">CAV3</text>
<text x="80" y="621.25" font-size="6.8" textLength="19.47" lengthAdjust="spacingAndGlyphs">TCL1A</text>
<text x="80" y="628.9" font-size="6.8" textLength="15.88" lengthAdjust="spacingAndGlyphs">PAC4</text>
<text x="80" y="636.55" font-size="6.8" textLength="21.21" lengthAdjust="spacingAndGlyphs">PDGFA</text>
<text x="80" y="644.2" font-size="6.8" textLength="22.25" lengthAdjust="spacingAndGlyphs">HMGB1</text>
<rect x="25.7" y="674.5" width="14.3" height="6" fill="url(#cb1)" stroke="#222" stroke-width="0.6"/>
<rect x="59" y="674.5" width="14.7" height="6" fill="url(#cb2)" stroke="#222" stroke-width="0.6"/>
<text x="24" y="680" font-size="7" text-anchor="end">−4</text>
<text x="41.3" y="680" font-size="7" textLength="6.4" lengthAdjust="spacingAndGlyphs">16</text>
<text x="53.4" y="680" font-size="7">2</text>
<text x="75.5" y="680" font-size="7">−2</text>
<text x="146.5" y="494.2" font-size="12" font-weight="bold" fill="#000" textLength="8.5" lengthAdjust="spacingAndGlyphs">G</text>
<line x1="175.9" y1="507" x2="175.9" y2="566" stroke="#1a1a1a" stroke-width="1.2"/>
<line x1="172.7" y1="511.3" x2="175.9" y2="511.3" stroke="#1a1a1a" stroke-width="1"/>
<text x="169.7" y="513.7" font-size="7.8" text-anchor="end">4</text>
<line x1="172.7" y1="528.1" x2="175.9" y2="528.1" stroke="#1a1a1a" stroke-width="1"/>
<text x="169.7" y="530.5" font-size="7.8" text-anchor="end">0</text>
<line x1="172.7" y1="545.4" x2="175.9" y2="545.4" stroke="#1a1a1a" stroke-width="1"/>
<text x="169.7" y="547.8" font-size="7.8" text-anchor="end">−4</text>
<line x1="172.7" y1="563.5" x2="175.9" y2="563.5" stroke="#1a1a1a" stroke-width="1"/>
<text x="169.7" y="565.9" font-size="7.8" text-anchor="end">−8</text>
<rect x="176.55" y="528.4" width="1.3" height="28.3" fill="#0e3a6e"/>
<rect x="179.05" y="528.4" width="1.3" height="15.8" fill="#1d5a96"/>
<rect x="181.35" y="528.4" width="1.3" height="13.8" fill="#1d5a96"/>
<rect x="183.85" y="528.4" width="1.3" height="12.4" fill="#0e3a6e"/>
<rect x="186.15" y="528.4" width="1.3" height="9.3" fill="#a8c4de"/>
<rect x="188.35" y="528.4" width="1.3" height="7.2" fill="#c8102e"/>
<rect x="190.75" y="528.4" width="1.3" height="6" fill="#eba3b0"/>
<rect x="193.25" y="528.4" width="1.3" height="5.6" fill="#eba3b0"/>
<rect x="195.55" y="528.4" width="1.3" height="5.1" fill="#eba3b0"/>
<rect x="198.15" y="528.4" width="1.3" height="4.5" fill="#c8102e"/>
<rect x="200.15" y="523.5" width="1.3" height="4.9" fill="#a8c4de"/>
<rect x="202.55" y="523.5" width="1.3" height="4.9" fill="#1d5a96"/>
<rect x="205.05" y="523.3" width="1.3" height="5.1" fill="#c8102e"/>
<rect x="207.65" y="523" width="1.3" height="5.4" fill="#0e3a6e"/>
<rect x="209.95" y="522.5" width="1.3" height="5.9" fill="#1d5a96"/>
<rect x="212.35" y="522.5" width="1.3" height="5.9" fill="#c8102e"/>
<rect x="214.65" y="522" width="1.3" height="6.4" fill="#c8102e"/>
<rect x="216.95" y="522" width="1.3" height="6.4" fill="#c8102e"/>
<rect x="219.25" y="522" width="1.3" height="6.4" fill="#a8c4de"/>
<rect x="221.75" y="517.1" width="1.3" height="11.3" fill="#eba3b0"/>
<rect x="224.35" y="512.8" width="1.3" height="15.6" fill="#c8102e"/>
<line x1="175.9" y1="528.4" x2="227.2" y2="528.4" stroke="#1a1a1a" stroke-width="1.1"/>
<text x="144.5" y="536.5" font-size="9.3" text-anchor="middle" textLength="24" lengthAdjust="spacingAndGlyphs" font-style="italic" transform="rotate(-90 144.5 536.5)">EOMES</text>
<text x="155.6" y="536.5" font-size="8.6" text-anchor="middle" textLength="67.6" lengthAdjust="spacingAndGlyphs" transform="rotate(-90 155.6 536.5)">(relative expression)</text>
<line x1="275.4" y1="503" x2="275.4" y2="563" stroke="#1a1a1a" stroke-width="1.2"/>
<line x1="272.2" y1="507.7" x2="275.4" y2="507.7" stroke="#1a1a1a" stroke-width="1"/>
<text x="269.2" y="510.1" font-size="7.8" text-anchor="end">2</text>
<line x1="272.2" y1="517.9" x2="275.4" y2="517.9" stroke="#1a1a1a" stroke-width="1"/>
<text x="269.2" y="520.3" font-size="7.8" text-anchor="end">1</text>
<line x1="272.2" y1="528.2" x2="275.4" y2="528.2" stroke="#1a1a1a" stroke-width="1"/>
<text x="269.2" y="530.6" font-size="7.8" text-anchor="end">0</text>
<line x1="272.2" y1="538.6" x2="275.4" y2="538.6" stroke="#1a1a1a" stroke-width="1"/>
<text x="269.2" y="541" font-size="7.8" text-anchor="end">−1</text>
<line x1="272.2" y1="549.1" x2="275.4" y2="549.1" stroke="#1a1a1a" stroke-width="1"/>
<text x="269.2" y="551.5" font-size="7.8" text-anchor="end">−2</text>
<line x1="272.2" y1="559.6" x2="275.4" y2="559.6" stroke="#1a1a1a" stroke-width="1"/>
<text x="269.2" y="562" font-size="7.8" text-anchor="end">−3</text>
<rect x="276.05" y="528.2" width="1.3" height="25.3" fill="#0e3a6e"/>
<rect x="278.22" y="528.2" width="1.3" height="21.8" fill="#1d5a96"/>
<rect x="280.39" y="528.2" width="1.3" height="17.8" fill="#0e3a6e"/>
<rect x="282.56" y="528.2" width="1.3" height="15.2" fill="#a8c4de"/>
<rect x="284.73" y="528.2" width="1.3" height="14.8" fill="#a8c4de"/>
<rect x="286.9" y="528.2" width="1.3" height="14.6" fill="#eba3b0"/>
<rect x="289.07" y="528.2" width="1.3" height="13.3" fill="#1d5a96"/>
<rect x="291.24" y="528.2" width="1.3" height="12.5" fill="#eba3b0"/>
<rect x="293.41" y="528.2" width="1.3" height="12.6" fill="#c8102e"/>
<rect x="295.58" y="528.2" width="1.3" height="11.8" fill="#eba3b0"/>
<rect x="297.75" y="528.2" width="1.3" height="11.3" fill="#c8102e"/>
<rect x="299.92" y="518" width="1.3" height="10.2" fill="#a8c4de"/>
<rect x="302.09" y="517.8" width="1.3" height="10.4" fill="#1d5a96"/>
<rect x="304.26" y="517.4" width="1.3" height="10.8" fill="#0e3a6e"/>
<rect x="306.43" y="517" width="1.3" height="11.2" fill="#a8c4de"/>
<rect x="308.6" y="516.4" width="1.3" height="11.8" fill="#eba3b0"/>
<rect x="310.77" y="516" width="1.3" height="12.2" fill="#1d5a96"/>
<rect x="312.94" y="515.8" width="1.3" height="12.4" fill="#c8102e"/>
<rect x="315.11" y="515.4" width="1.3" height="12.8" fill="#c8102e"/>
<rect x="317.28" y="515.2" width="1.3" height="13" fill="#c8102e"/>
<rect x="319.45" y="515" width="1.3" height="13.2" fill="#eba3b0"/>
<rect x="321.62" y="514.9" width="1.3" height="13.3" fill="#c8102e"/>
<rect x="323.79" y="513.2" width="1.3" height="15" fill="#1d5a96"/>
<rect x="325.96" y="513" width="1.3" height="15.2" fill="#eba3b0"/>
<line x1="275.4" y1="528.2" x2="327" y2="528.2" stroke="#1a1a1a" stroke-width="1.1"/>
<text x="244" y="533" font-size="9.3" text-anchor="middle" textLength="13.2" lengthAdjust="spacingAndGlyphs" font-style="italic" transform="rotate(-90 244 533)">LCK</text>
<text x="255.1" y="533" font-size="8.6" text-anchor="middle" textLength="67.6" lengthAdjust="spacingAndGlyphs" transform="rotate(-90 255.1 533)">(relative expression)</text>
<line x1="372" y1="498.2" x2="372" y2="558.2" stroke="#1a1a1a" stroke-width="1.2"/>
<line x1="368.8" y1="504.2" x2="372" y2="504.2" stroke="#1a1a1a" stroke-width="1"/>
<text x="365.8" y="506.6" font-size="7.8" text-anchor="end">6</text>
<line x1="368.8" y1="515.8" x2="372" y2="515.8" stroke="#1a1a1a" stroke-width="1"/>
<text x="365.8" y="518.2" font-size="7.8" text-anchor="end">3</text>
<line x1="368.8" y1="528.1" x2="372" y2="528.1" stroke="#1a1a1a" stroke-width="1"/>
<text x="365.8" y="530.5" font-size="7.8" text-anchor="end">0</text>
<line x1="368.8" y1="540.9" x2="372" y2="540.9" stroke="#1a1a1a" stroke-width="1"/>
<text x="365.8" y="543.3" font-size="7.8" text-anchor="end">−3</text>
<line x1="368.8" y1="554" x2="372" y2="554" stroke="#1a1a1a" stroke-width="1"/>
<text x="365.8" y="556.4" font-size="7.8" text-anchor="end">−6</text>
<rect x="372.55" y="528.1" width="1.3" height="17.9" fill="#0e3a6e"/>
<rect x="374.47" y="528.1" width="1.3" height="16.7" fill="#a8c4de"/>
<rect x="376.38" y="528.1" width="1.3" height="16.2" fill="#a8c4de"/>
<rect x="378.3" y="528.1" width="1.3" height="16.2" fill="#c8102e"/>
<rect x="380.21" y="528.1" width="1.3" height="13.8" fill="#0e3a6e"/>
<rect x="382.13" y="528.1" width="1.3" height="10.9" fill="#eba3b0"/>
<rect x="384.05" y="528.1" width="1.3" height="10.4" fill="#eba3b0"/>
<rect x="385.96" y="528.1" width="1.3" height="10.2" fill="#c8102e"/>
<rect x="387.88" y="528.1" width="1.3" height="7.2" fill="#1d5a96"/>
<rect x="389.79" y="528.1" width="1.3" height="7.2" fill="#1d5a96"/>
<rect x="391.71" y="528.1" width="1.3" height="6.9" fill="#a8c4de"/>
<rect x="393.63" y="528.1" width="1.3" height="5.2" fill="#0e3a6e"/>
<rect x="395.54" y="528.1" width="1.3" height="5.2" fill="#c8102e"/>
<rect x="397.46" y="524.1" width="1.3" height="4" fill="#0e3a6e"/>
<rect x="399.37" y="524.1" width="1.3" height="4" fill="#0e3a6e"/>
<rect x="401.29" y="522.7" width="1.3" height="5.4" fill="#c8102e"/>
<rect x="403.21" y="519.1" width="1.3" height="9" fill="#a8c4de"/>
<rect x="405.12" y="518.3" width="1.3" height="9.8" fill="#c8102e"/>
<rect x="407.04" y="518.3" width="1.3" height="9.8" fill="#eba3b0"/>
<rect x="408.95" y="518.3" width="1.3" height="9.8" fill="#c8102e"/>
<rect x="410.87" y="517.7" width="1.3" height="10.4" fill="#eba3b0"/>
<rect x="412.79" y="517.7" width="1.3" height="10.4" fill="#a8c4de"/>
<rect x="414.7" y="517.7" width="1.3" height="10.4" fill="#a8c4de"/>
<rect x="416.62" y="515.8" width="1.3" height="12.3" fill="#eba3b0"/>
<rect x="418.53" y="509.1" width="1.3" height="19" fill="#eba3b0"/>
<rect x="420.45" y="505.5" width="1.3" height="22.6" fill="#c8102e"/>
<line x1="372" y1="528.1" x2="424" y2="528.1" stroke="#1a1a1a" stroke-width="1.1"/>
<text x="340.6" y="528.2" font-size="9.3" text-anchor="middle" textLength="20" lengthAdjust="spacingAndGlyphs" font-style="italic" transform="rotate(-90 340.6 528.2)">GZMH</text>
<text x="351.7" y="528.2" font-size="8.6" text-anchor="middle" textLength="67.6" lengthAdjust="spacingAndGlyphs" transform="rotate(-90 351.7 528.2)">(relative expression)</text>
<text x="223.3" y="563.8" font-size="7.6" text-anchor="middle">4.5</text>
<line x1="223.3" y1="567" x2="223.3" y2="571.6" stroke="#333" stroke-width="0.9"/>
<text x="223.3" y="578.6" font-size="7.6" text-anchor="middle">1</text>
<text x="179.4" y="578.2" font-size="8.2" textLength="37.7" lengthAdjust="spacingAndGlyphs">~2,500 bp</text>
<line x1="173.4" y1="584.8" x2="223.3" y2="584.8" stroke="#333" stroke-width="1.1"/>
<line x1="173.4" y1="582" x2="173.4" y2="587.5" stroke="#333" stroke-width="1.1"/>
<line x1="223.3" y1="582" x2="223.3" y2="587.5" stroke="#333" stroke-width="1.1"/>
<text x="318.1" y="563.8" font-size="7.6" text-anchor="middle">2.5</text>
<line x1="318.1" y1="567" x2="318.1" y2="571.6" stroke="#333" stroke-width="0.9"/>
<text x="318.1" y="578.6" font-size="7.6" text-anchor="middle">1</text>
<text x="278.2" y="578.2" font-size="8.2" textLength="30" lengthAdjust="spacingAndGlyphs">~500 bp</text>
<line x1="268.1" y1="584.8" x2="318.1" y2="584.8" stroke="#333" stroke-width="1.1"/>
<line x1="268.1" y1="582" x2="268.1" y2="587.5" stroke="#333" stroke-width="1.1"/>
<line x1="318.1" y1="582" x2="318.1" y2="587.5" stroke="#333" stroke-width="1.1"/>
<text x="412" y="563.8" font-size="7.6" text-anchor="middle">2.5</text>
<line x1="412" y1="567" x2="412" y2="571.6" stroke="#333" stroke-width="0.9"/>
<text x="412" y="578.6" font-size="7.6" text-anchor="middle">1</text>
<text x="371.3" y="578.2" font-size="8.2" textLength="30" lengthAdjust="spacingAndGlyphs">~500 bp</text>
<line x1="362" y1="584.8" x2="412" y2="584.8" stroke="#333" stroke-width="1.1"/>
<line x1="362" y1="582" x2="362" y2="587.5" stroke="#333" stroke-width="1.1"/>
<line x1="412" y1="582" x2="412" y2="587.5" stroke="#333" stroke-width="1.1"/>
<line x1="170" y1="596.6" x2="170.36" y2="596.6" stroke="#f08cf0" stroke-width="1"/>
<line x1="170.36" y1="596.6" x2="177.66" y2="596.6" stroke="#888888" stroke-width="1"/>
<line x1="177.66" y1="596.6" x2="190.64" y2="596.6" stroke="#f08cf0" stroke-width="1"/>
<line x1="190.64" y1="596.6" x2="195.6" y2="596.6" stroke="#888888" stroke-width="1"/>
<line x1="195.6" y1="596.6" x2="217.92" y2="596.6" stroke="#f08cf0" stroke-width="1"/>
<line x1="217.92" y1="596.6" x2="225.3" y2="596.6" stroke="#888888" stroke-width="1"/>
<polygon points="174.53,596.6 175.13,595.64 175.53,595.4 175.93,595.64 176.53,596.6" fill="#000"/>
<polygon points="187.56,596.6 188.64,595.4 189.36,595.1 190.08,595.4 191.16,596.6" fill="#000"/>
<polygon points="192.38,596.6 193.88,595.16 194.88,594.8 195.88,595.16 197.38,596.6" fill="#000"/>
<polygon points="196.15,596.6 197.05,595.4 197.65,595.1 198.25,595.4 199.15,596.6" fill="#000"/>
<polygon points="209.68,596.6 210.76,595.64 211.48,595.4 212.2,595.64 213.28,596.6" fill="#000"/>
<line x1="170" y1="608.7" x2="174.47" y2="608.7" stroke="#f08cf0" stroke-width="1"/>
<line x1="174.47" y1="608.7" x2="197.8" y2="608.7" stroke="#888888" stroke-width="1"/>
<line x1="197.8" y1="608.7" x2="200.65" y2="608.7" stroke="#f08cf0" stroke-width="1"/>
<line x1="200.65" y1="608.7" x2="204.1" y2="608.7" stroke="#888888" stroke-width="1"/>
<line x1="204.1" y1="608.7" x2="219.68" y2="608.7" stroke="#f08cf0" stroke-width="1"/>
<line x1="219.68" y1="608.7" x2="225.3" y2="608.7" stroke="#888888" stroke-width="1"/>
<polygon points="174.53,608.7 175.13,608.06 175.53,607.9 175.93,608.06 176.53,608.7" fill="#000"/>
<polygon points="190.92,608.7 191.64,608.06 192.12,607.9 192.6,608.06 193.32,608.7" fill="#000"/>
<polygon points="207.21,608.7 208.11,607.9 208.71,607.7 209.31,607.9 210.21,608.7" fill="#000"/>
<polygon points="209.98,608.7 210.88,607.26 211.48,606.9 212.08,607.26 212.98,608.7" fill="#000"/>
<polygon points="218.77,608.7 219.37,608.06 219.77,607.9 220.17,608.06 220.77,608.7" fill="#000"/>
<line x1="170" y1="620.8" x2="172.26" y2="620.8" stroke="#f08cf0" stroke-width="1"/>
<line x1="172.26" y1="620.8" x2="190.96" y2="620.8" stroke="#888888" stroke-width="1"/>
<line x1="190.96" y1="620.8" x2="195" y2="620.8" stroke="#f08cf0" stroke-width="1"/>
<line x1="195" y1="620.8" x2="208.9" y2="620.8" stroke="#888888" stroke-width="1"/>
<line x1="208.9" y1="620.8" x2="210.1" y2="620.8" stroke="#f08cf0" stroke-width="1"/>
<line x1="210.1" y1="620.8" x2="225.3" y2="620.8" stroke="#888888" stroke-width="1"/>
<polygon points="191.12,620.8 191.72,620.16 192.12,620 192.52,620.16 193.12,620.8" fill="#000"/>
<polygon points="198.92,620.8 199.82,619.84 200.42,619.6 201.02,619.84 201.92,620.8" fill="#000"/>
<polygon points="206.21,620.8 207.71,619.68 208.71,619.4 209.71,619.68 211.21,620.8" fill="#000"/>
<polygon points="215,620.8 216.2,620 217,619.8 217.81,620 219,620.8" fill="#000"/>
<line x1="170" y1="633" x2="176.14" y2="633" stroke="#f08cf0" stroke-width="1"/>
<line x1="176.14" y1="633" x2="178.69" y2="633" stroke="#888888" stroke-width="1"/>
<line x1="178.69" y1="633" x2="183.16" y2="633" stroke="#f08cf0" stroke-width="1"/>
<line x1="183.16" y1="633" x2="198" y2="633" stroke="#888888" stroke-width="1"/>
<line x1="198" y1="633" x2="221.09" y2="633" stroke="#f08cf0" stroke-width="1"/>
<line x1="221.09" y1="633" x2="225.3" y2="633" stroke="#888888" stroke-width="1"/>
<polygon points="193.38,633 194.28,632.52 194.88,632.4 195.48,632.52 196.38,633" fill="#000"/>
<polygon points="208.98,633 210.48,632.36 211.48,632.2 212.48,632.36 213.98,633" fill="#000"/>
<line x1="170" y1="645.2" x2="175.62" y2="645.2" stroke="#f08cf0" stroke-width="1"/>
<line x1="175.62" y1="645.2" x2="191.22" y2="645.2" stroke="#888888" stroke-width="1"/>
<line x1="191.22" y1="645.2" x2="202.65" y2="645.2" stroke="#f08cf0" stroke-width="1"/>
<line x1="202.65" y1="645.2" x2="211.26" y2="645.2" stroke="#888888" stroke-width="1"/>
<line x1="211.26" y1="645.2" x2="212.81" y2="645.2" stroke="#f08cf0" stroke-width="1"/>
<line x1="212.81" y1="645.2" x2="225.3" y2="645.2" stroke="#888888" stroke-width="1"/>
<polygon points="174.03,645.2 174.93,644 175.53,643.7 176.13,644 177.03,645.2" fill="#000"/>
<polygon points="209.98,645.2 210.88,643.76 211.48,643.4 212.08,643.76 212.98,645.2" fill="#000"/>
<polygon points="214.95,645.2 215.85,642.8 216.45,642.2 217.05,642.8 217.95,645.2" fill="#000"/>
<line x1="170" y1="657.4" x2="174.85" y2="657.4" stroke="#f08cf0" stroke-width="1"/>
<line x1="174.85" y1="657.4" x2="186.1" y2="657.4" stroke="#888888" stroke-width="1"/>
<line x1="186.1" y1="657.4" x2="193.32" y2="657.4" stroke="#f08cf0" stroke-width="1"/>
<line x1="193.32" y1="657.4" x2="207.29" y2="657.4" stroke="#888888" stroke-width="1"/>
<line x1="207.29" y1="657.4" x2="210.13" y2="657.4" stroke="#f08cf0" stroke-width="1"/>
<line x1="210.13" y1="657.4" x2="225.3" y2="657.4" stroke="#888888" stroke-width="1"/>
<polygon points="176.3,657.4 177.5,655.8 178.3,655.4 179.1,655.8 180.3,657.4" fill="#000"/>
<polygon points="185.09,657.4 185.99,656.44 186.59,656.2 187.19,656.44 188.09,657.4" fill="#000"/>
<polygon points="194.54,657.4 195.74,656.2 196.54,655.9 197.34,656.2 198.54,657.4" fill="#000"/>
<polygon points="201.18,657.4 202.38,655.16 203.18,654.6 203.98,655.16 205.18,657.4" fill="#000"/>
<polygon points="208.32,657.4 209.22,653.4 209.82,652.4 210.42,653.4 211.32,657.4" fill="#000"/>
<polygon points="211.08,657.4 211.98,653 212.58,651.9 213.18,653 214.08,657.4" fill="#000"/>
<polygon points="214.4,657.4 215.3,655.8 215.9,655.4 216.5,655.8 217.4,657.4" fill="#000"/>
<polygon points="221.09,657.4 222.29,655.4 223.09,654.9 223.89,655.4 225.09,657.4" fill="#000"/>
<line x1="170" y1="669.6" x2="181.03" y2="669.6" stroke="#f08cf0" stroke-width="1"/>
<line x1="181.03" y1="669.6" x2="181.61" y2="669.6" stroke="#888888" stroke-width="1"/>
<line x1="181.61" y1="669.6" x2="184.75" y2="669.6" stroke="#f08cf0" stroke-width="1"/>
<line x1="184.75" y1="669.6" x2="185.55" y2="669.6" stroke="#888888" stroke-width="1"/>
<line x1="185.55" y1="669.6" x2="214.77" y2="669.6" stroke="#f08cf0" stroke-width="1"/>
<line x1="214.77" y1="669.6" x2="225.3" y2="669.6" stroke="#888888" stroke-width="1"/>
<polygon points="173.03,669.6 174.53,667.6 175.53,667.1 176.53,667.6 178.03,669.6" fill="#000"/>
<polygon points="179.06,669.6 180.26,668.4 181.06,668.1 181.86,668.4 183.06,669.6" fill="#000"/>
<polygon points="187.36,669.6 188.56,668 189.36,667.6 190.16,668 191.36,669.6" fill="#000"/>
<polygon points="192.88,669.6 194.08,666.8 194.88,666.1 195.69,666.8 196.88,669.6" fill="#000"/>
<polygon points="195.65,669.6 196.85,662.8 197.65,661.1 198.45,662.8 199.65,669.6" fill="#000"/>
<polygon points="198.92,669.6 199.82,667.2 200.42,666.6 201.02,667.2 201.92,669.6" fill="#000"/>
<polygon points="209.48,669.6 210.68,668 211.48,667.6 212.28,668 213.48,669.6" fill="#000"/>
<polygon points="214.45,669.6 215.65,666 216.45,665.1 217.25,666 218.45,669.6" fill="#000"/>
<polygon points="218.27,669.6 219.17,668.4 219.77,668.1 220.37,668.4 221.27,669.6" fill="#000"/>
<line x1="268.1" y1="596.6" x2="270.88" y2="596.6" stroke="#f08cf0" stroke-width="1"/>
<line x1="270.88" y1="596.6" x2="287.31" y2="596.6" stroke="#888888" stroke-width="1"/>
<line x1="287.31" y1="596.6" x2="293.03" y2="596.6" stroke="#f08cf0" stroke-width="1"/>
<line x1="293.03" y1="596.6" x2="312.68" y2="596.6" stroke="#888888" stroke-width="1"/>
<line x1="312.68" y1="596.6" x2="313.04" y2="596.6" stroke="#f08cf0" stroke-width="1"/>
<line x1="313.04" y1="596.6" x2="318.8" y2="596.6" stroke="#888888" stroke-width="1"/>
<polygon points="272.18,596.6 273.38,595.96 274.18,595.8 274.98,595.96 276.18,596.6" fill="#000"/>
<line x1="268.1" y1="608.7" x2="269.29" y2="608.7" stroke="#f08cf0" stroke-width="1"/>
<line x1="269.29" y1="608.7" x2="273.78" y2="608.7" stroke="#888888" stroke-width="1"/>
<line x1="273.78" y1="608.7" x2="289.63" y2="608.7" stroke="#f08cf0" stroke-width="1"/>
<line x1="289.63" y1="608.7" x2="298.36" y2="608.7" stroke="#888888" stroke-width="1"/>
<line x1="298.36" y1="608.7" x2="314.06" y2="608.7" stroke="#f08cf0" stroke-width="1"/>
<line x1="314.06" y1="608.7" x2="318.8" y2="608.7" stroke="#888888" stroke-width="1"/>
<polygon points="314.26,608.7 315.46,607.9 316.26,607.7 317.06,607.9 318.26,608.7" fill="#000"/>
<line x1="268.1" y1="620.8" x2="268.52" y2="620.8" stroke="#f08cf0" stroke-width="1"/>
<line x1="268.52" y1="620.8" x2="274.25" y2="620.8" stroke="#888888" stroke-width="1"/>
<line x1="274.25" y1="620.8" x2="278.39" y2="620.8" stroke="#f08cf0" stroke-width="1"/>
<line x1="278.39" y1="620.8" x2="297.44" y2="620.8" stroke="#888888" stroke-width="1"/>
<line x1="297.44" y1="620.8" x2="313.49" y2="620.8" stroke="#f08cf0" stroke-width="1"/>
<line x1="313.49" y1="620.8" x2="318.8" y2="620.8" stroke="#888888" stroke-width="1"/>
<polygon points="269.17,620.8 271.57,618.4 273.17,617.8 274.77,618.4 277.17,620.8" fill="#000"/>
<polygon points="273.24,620.8 276.24,618 278.24,617.3 280.24,618 283.24,620.8" fill="#000"/>
<polygon points="278.3,620.8 280.7,618.4 282.3,617.8 283.9,618.4 286.3,620.8" fill="#000"/>
<polygon points="294.52,620.8 296.92,618.4 298.52,617.8 300.12,618.4 302.52,620.8" fill="#000"/>
<line x1="268.1" y1="633" x2="268.99" y2="633" stroke="#f08cf0" stroke-width="1"/>
<line x1="268.99" y1="633" x2="272.33" y2="633" stroke="#888888" stroke-width="1"/>
<line x1="272.33" y1="633" x2="272.4" y2="633" stroke="#f08cf0" stroke-width="1"/>
<line x1="272.4" y1="633" x2="293.28" y2="633" stroke="#888888" stroke-width="1"/>
<line x1="293.28" y1="633" x2="295.47" y2="633" stroke="#f08cf0" stroke-width="1"/>
<line x1="295.47" y1="633" x2="318.8" y2="633" stroke="#888888" stroke-width="1"/>
<polygon points="269.17,633 271.57,631 273.17,630.5 274.77,631 277.17,633" fill="#000"/>
<polygon points="286.92,633 289.31,631.4 290.92,631 292.52,631.4 294.92,633" fill="#000"/>
<line x1="268.1" y1="645.2" x2="272.84" y2="645.2" stroke="#f08cf0" stroke-width="1"/>
<line x1="272.84" y1="645.2" x2="288.29" y2="645.2" stroke="#888888" stroke-width="1"/>
<line x1="288.29" y1="645.2" x2="289.4" y2="645.2" stroke="#f08cf0" stroke-width="1"/>
<line x1="289.4" y1="645.2" x2="300.48" y2="645.2" stroke="#888888" stroke-width="1"/>
<line x1="300.48" y1="645.2" x2="314.79" y2="645.2" stroke="#f08cf0" stroke-width="1"/>
<line x1="314.79" y1="645.2" x2="318.8" y2="645.2" stroke="#888888" stroke-width="1"/>
<line x1="268.1" y1="657.4" x2="270.85" y2="657.4" stroke="#f08cf0" stroke-width="1"/>
<line x1="270.85" y1="657.4" x2="276.85" y2="657.4" stroke="#888888" stroke-width="1"/>
<line x1="276.85" y1="657.4" x2="297.5" y2="657.4" stroke="#f08cf0" stroke-width="1"/>
<line x1="297.5" y1="657.4" x2="298.97" y2="657.4" stroke="#888888" stroke-width="1"/>
<line x1="298.97" y1="657.4" x2="316.69" y2="657.4" stroke="#f08cf0" stroke-width="1"/>
<line x1="316.69" y1="657.4" x2="318.8" y2="657.4" stroke="#888888" stroke-width="1"/>
<polygon points="275.78,657.4 278.78,654.2 280.78,653.4 282.78,654.2 285.78,657.4" fill="#000"/>
<polygon points="288.46,657.4 292.06,653.4 294.46,652.4 296.86,653.4 300.46,657.4" fill="#000"/>
<polygon points="296.06,657.4 299.06,653 301.06,651.9 303.06,653 306.06,657.4" fill="#000"/>
<polygon points="300.6,657.4 303,652.6 304.6,651.4 306.2,652.6 308.6,657.4" fill="#000"/>
<line x1="268.1" y1="669.6" x2="275.67" y2="669.6" stroke="#f08cf0" stroke-width="1"/>
<line x1="275.67" y1="669.6" x2="281.7" y2="669.6" stroke="#888888" stroke-width="1"/>
<line x1="281.7" y1="669.6" x2="296.24" y2="669.6" stroke="#f08cf0" stroke-width="1"/>
<line x1="296.24" y1="669.6" x2="298.84" y2="669.6" stroke="#888888" stroke-width="1"/>
<line x1="298.84" y1="669.6" x2="318.54" y2="669.6" stroke="#f08cf0" stroke-width="1"/>
<line x1="318.54" y1="669.6" x2="318.8" y2="669.6" stroke="#888888" stroke-width="1"/>
<polygon points="267.64,669.6 269.44,666.4 270.64,665.6 271.84,666.4 273.64,669.6" fill="#000"/>
<polygon points="272.71,669.6 274.51,667.2 275.71,666.6 276.91,667.2 278.71,669.6" fill="#000"/>
<polygon points="279.31,669.6 281.71,668 283.31,667.6 284.91,668 287.31,669.6" fill="#000"/>
<polygon points="285.92,669.6 288.92,667.2 290.92,666.6 292.92,667.2 295.92,669.6" fill="#000"/>
<polygon points="290.99,669.6 293.99,666.8 295.99,666.1 297.99,666.8 300.99,669.6" fill="#000"/>
<polygon points="299.59,669.6 301.99,667.2 303.59,666.6 305.19,667.2 307.59,669.6" fill="#000"/>
<polygon points="305.66,669.6 307.46,668.4 308.66,668.1 309.86,668.4 311.66,669.6" fill="#000"/>
<line x1="362" y1="596.6" x2="368.19" y2="596.6" stroke="#f08cf0" stroke-width="1"/>
<line x1="368.19" y1="596.6" x2="374.08" y2="596.6" stroke="#888888" stroke-width="1"/>
<line x1="374.08" y1="596.6" x2="397.98" y2="596.6" stroke="#f08cf0" stroke-width="1"/>
<line x1="397.98" y1="596.6" x2="410.5" y2="596.6" stroke="#888888" stroke-width="1"/>
<line x1="410.5" y1="596.6" x2="412.9" y2="596.6" stroke="#f08cf0" stroke-width="1"/>
<line x1="412.9" y1="596.6" x2="413" y2="596.6" stroke="#888888" stroke-width="1"/>
<polygon points="409.47,596.6 410.67,595.4 411.47,595.1 412.27,595.4 413.47,596.6" fill="#000"/>
<line x1="362" y1="608.7" x2="364.19" y2="608.7" stroke="#f08cf0" stroke-width="1"/>
<line x1="364.19" y1="608.7" x2="380.66" y2="608.7" stroke="#888888" stroke-width="1"/>
<line x1="380.66" y1="608.7" x2="392.1" y2="608.7" stroke="#f08cf0" stroke-width="1"/>
<line x1="392.1" y1="608.7" x2="393.17" y2="608.7" stroke="#888888" stroke-width="1"/>
<line x1="393.17" y1="608.7" x2="396.38" y2="608.7" stroke="#f08cf0" stroke-width="1"/>
<line x1="396.38" y1="608.7" x2="413" y2="608.7" stroke="#888888" stroke-width="1"/>
<polygon points="366.13,608.7 367.63,606.3 368.63,605.7 369.63,606.3 371.13,608.7" fill="#000"/>
<polygon points="401.3,608.7 402.2,607.74 402.8,607.5 403.4,607.74 404.3,608.7" fill="#000"/>
<line x1="362" y1="620.8" x2="366.42" y2="620.8" stroke="#f08cf0" stroke-width="1"/>
<line x1="366.42" y1="620.8" x2="379.71" y2="620.8" stroke="#888888" stroke-width="1"/>
<line x1="379.71" y1="620.8" x2="391.79" y2="620.8" stroke="#f08cf0" stroke-width="1"/>
<line x1="391.79" y1="620.8" x2="401.51" y2="620.8" stroke="#888888" stroke-width="1"/>
<line x1="401.51" y1="620.8" x2="406.07" y2="620.8" stroke="#f08cf0" stroke-width="1"/>
<line x1="406.07" y1="620.8" x2="413" y2="620.8" stroke="#888888" stroke-width="1"/>
<polygon points="390.1,620.8 391.6,619.36 392.6,619 393.6,619.36 395.1,620.8" fill="#000"/>
<polygon points="394.7,620.8 396.5,618.8 397.7,618.3 398.9,618.8 400.7,620.8" fill="#000"/>
<polygon points="405.9,620.8 407.1,619.6 407.9,619.3 408.7,619.6 409.9,620.8" fill="#000"/>
<line x1="362" y1="633" x2="362.94" y2="633" stroke="#f08cf0" stroke-width="1"/>
<line x1="362.94" y1="633" x2="382.51" y2="633" stroke="#888888" stroke-width="1"/>
<line x1="382.51" y1="633" x2="385.02" y2="633" stroke="#f08cf0" stroke-width="1"/>
<line x1="385.02" y1="633" x2="391.3" y2="633" stroke="#888888" stroke-width="1"/>
<line x1="391.3" y1="633" x2="412.29" y2="633" stroke="#f08cf0" stroke-width="1"/>
<line x1="412.29" y1="633" x2="413" y2="633" stroke="#888888" stroke-width="1"/>
<polygon points="387.05,633 388.85,631 390.05,630.5 391.25,631 393.05,633" fill="#000"/>
<polygon points="394.68,633 395.88,632.2 396.68,632 397.48,632.2 398.68,633" fill="#000"/>
<polygon points="400.8,633 402,632.2 402.8,632 403.6,632.2 404.8,633" fill="#000"/>
<line x1="362" y1="645.2" x2="372.88" y2="645.2" stroke="#f08cf0" stroke-width="1"/>
<line x1="372.88" y1="645.2" x2="378.76" y2="645.2" stroke="#888888" stroke-width="1"/>
<line x1="378.76" y1="645.2" x2="384.11" y2="645.2" stroke="#f08cf0" stroke-width="1"/>
<line x1="384.11" y1="645.2" x2="384.64" y2="645.2" stroke="#888888" stroke-width="1"/>
<line x1="384.64" y1="645.2" x2="402.77" y2="645.2" stroke="#f08cf0" stroke-width="1"/>
<line x1="402.77" y1="645.2" x2="413" y2="645.2" stroke="#888888" stroke-width="1"/>
<polygon points="394.2,645.2 396.3,642 397.7,641.2 399.1,642 401.2,645.2" fill="#000"/>
<polygon points="397.76,645.2 399.56,642.4 400.76,641.7 401.96,642.4 403.76,645.2" fill="#000"/>
<line x1="362" y1="657.4" x2="366.53" y2="657.4" stroke="#f08cf0" stroke-width="1"/>
<line x1="366.53" y1="657.4" x2="367.26" y2="657.4" stroke="#888888" stroke-width="1"/>
<line x1="367.26" y1="657.4" x2="378.56" y2="657.4" stroke="#f08cf0" stroke-width="1"/>
<line x1="378.56" y1="657.4" x2="394.11" y2="657.4" stroke="#888888" stroke-width="1"/>
<line x1="394.11" y1="657.4" x2="401.99" y2="657.4" stroke="#f08cf0" stroke-width="1"/>
<line x1="401.99" y1="657.4" x2="413" y2="657.4" stroke="#888888" stroke-width="1"/>
<polygon points="362.05,657.4 363.55,655.8 364.55,655.4 365.55,655.8 367.05,657.4" fill="#000"/>
<polygon points="365.62,657.4 367.12,655 368.12,654.4 369.12,655 370.62,657.4" fill="#000"/>
<polygon points="369.7,657.4 371.2,653.4 372.2,652.4 373.2,653.4 374.7,657.4" fill="#000"/>
<polygon points="383.48,657.4 385.28,656.2 386.48,655.9 387.68,656.2 389.48,657.4" fill="#000"/>
<polygon points="390.62,657.4 392.42,653.4 393.62,652.4 394.82,653.4 396.62,657.4" fill="#000"/>
<polygon points="397.76,657.4 399.56,655 400.76,654.4 401.96,655 403.76,657.4" fill="#000"/>
<polygon points="406.42,657.4 407.92,653.4 408.92,652.4 409.92,653.4 411.42,657.4" fill="#000"/>
<line x1="362" y1="669.6" x2="363.29" y2="669.6" stroke="#f08cf0" stroke-width="1"/>
<line x1="363.29" y1="669.6" x2="387.36" y2="669.6" stroke="#888888" stroke-width="1"/>
<line x1="387.36" y1="669.6" x2="398.18" y2="669.6" stroke="#f08cf0" stroke-width="1"/>
<line x1="398.18" y1="669.6" x2="401.82" y2="669.6" stroke="#888888" stroke-width="1"/>
<line x1="401.82" y1="669.6" x2="403.19" y2="669.6" stroke="#f08cf0" stroke-width="1"/>
<line x1="403.19" y1="669.6" x2="413" y2="669.6" stroke="#888888" stroke-width="1"/>
<polygon points="364.1,669.6 365.9,667.2 367.1,666.6 368.3,667.2 370.1,669.6" fill="#000"/>
<polygon points="393.68,669.6 395.48,666.8 396.68,666.1 397.88,666.8 399.68,669.6" fill="#000"/>
<line x1="416.3" y1="596.3" x2="416.3" y2="633.3" stroke="#333" stroke-width="1"/>
<line x1="416.3" y1="636.3" x2="416.3" y2="669.6" stroke="#333" stroke-width="1"/>
<text x="419.5" y="618.2" font-size="9">MT</text>
<text x="419.5" y="657" font-size="9">WT</text>
<line x1="148" y1="678" x2="161" y2="678" stroke="#5050a0" stroke-width="1"/>
<polygon points="146.8,678 150.3,676.3 150.3,679.7" fill="#1a1a80"/>
<rect x="161" y="676.1" width="6.8" height="3.7" fill="#1a1a80"/>
<text x="171.1" y="681.4" font-size="9.5" textLength="32.6" lengthAdjust="spacingAndGlyphs">EOMES</text>
<text x="165.2" y="690.2" font-size="7.5" textLength="25.5" lengthAdjust="spacingAndGlyphs">CpG 40</text>
<rect x="193.3" y="685.8" width="10.7" height="3.4" fill="#1a7a1a"/>
<line x1="262" y1="678.1" x2="320" y2="678.1" stroke="#5050a0" stroke-width="1"/>
<polygon points="260.5,678.1 264,676.4 264,679.8" fill="#1a1a80"/>
<rect x="319.6" y="676.2" width="7.2" height="3.8" fill="#1a1a80"/>
<text x="332" y="681.4" font-size="9.5" textLength="16" lengthAdjust="spacingAndGlyphs">LCK</text>
<line x1="417" y1="677.5" x2="430" y2="677.5" stroke="#5050a0" stroke-width="1"/>
<polygon points="415,677.5 418.5,675.8 418.5,679.2" fill="#1a1a80"/>
<rect x="428.8" y="675.7" width="6.2" height="3.8" fill="#1a1a80"/>
<text x="410.5" y="689.2" font-size="9.5" textLength="27.8" lengthAdjust="spacingAndGlyphs">GZMH</text>
<rect x="435.8" y="506.2" width="5" height="5.2" fill="#c8102e"/>
<text x="444.4" y="511.5" font-size="7.7">DNMT3A-MT</text>
<rect x="435.8" y="516.8" width="5" height="5.2" fill="#eba3b0"/>
<text x="444.4" y="522.1" font-size="7.7">DNMT3A-MT MeDIP</text>
<rect x="435.8" y="527.4" width="5" height="5.2" fill="#1d5a96"/>
<text x="444.4" y="532.7" font-size="7.7">DNMT3A-WT</text>
<rect x="435.8" y="538" width="5" height="5.2" fill="#a8c4de"/>
<text x="444.4" y="543.3" font-size="7.7">DNMT3A-WT MeDIP</text>
</svg><div id="bd"></div></div></body></html>
